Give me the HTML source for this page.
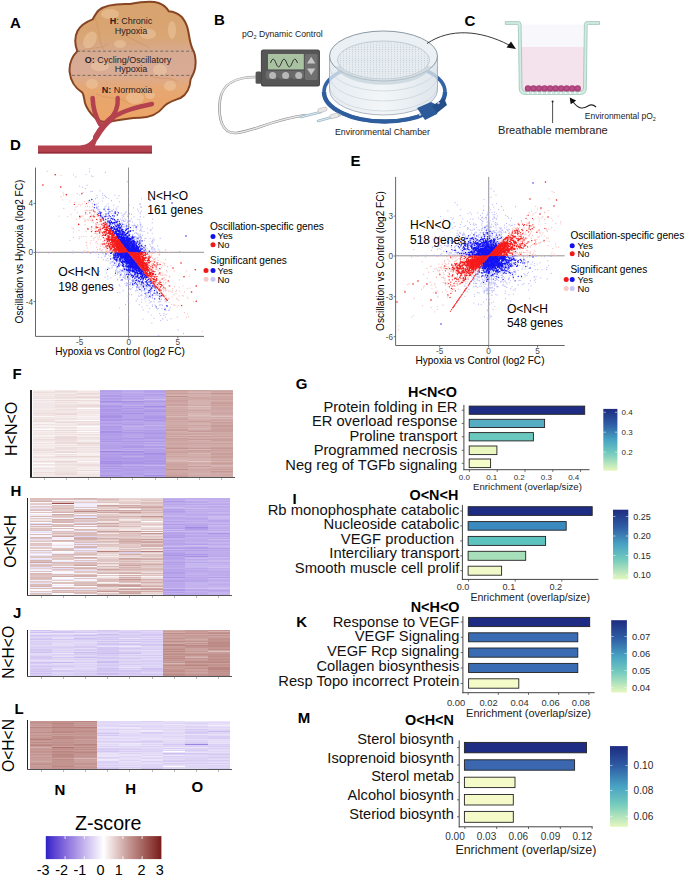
<!DOCTYPE html>
<html><head><meta charset="utf-8"><title>Figure</title>
<style>html,body{margin:0;padding:0;background:#fff;} svg{display:block;} text{font-family:"Liberation Sans",sans-serif;}</style>
</head><body>
<svg width="685" height="877" viewBox="0 0 685 877" font-family="Liberation Sans, sans-serif">
<rect width="685" height="877" fill="#fff"/>
<defs>
<linearGradient id="tum" gradientUnits="userSpaceOnUse" x1="0" y1="3" x2="0" y2="122">
<stop offset="0" stop-color="#d8a36d"/><stop offset="0.3" stop-color="#d9a677"/>
<stop offset="0.42" stop-color="#d7aa92"/><stop offset="0.58" stop-color="#d9ab96"/>
<stop offset="0.72" stop-color="#e6a874"/><stop offset="1" stop-color="#eda464"/>
</linearGradient>
<linearGradient id="cyl" x1="0" x2="1" y1="0" y2="0">
<stop offset="0" stop-color="#dfe7ee"/><stop offset="0.5" stop-color="#eef3f6"/><stop offset="1" stop-color="#d6e0e8"/>
</linearGradient>
</defs>
<!-- Panel A tumor -->
<clipPath id="tclip"><path id="tpath" d="M130,4 C141,2 151,0.5 158.6,3 C163,4.5 166.5,7.5 168.8,11.2 C178,12 185,18 187.8,29 C189.5,36 189.5,43 192.8,49.5 C196,55 196.5,66 194,72 C193,75 191.5,77 190.6,79.5 C190,88 186,95 180.5,98 C174,100.5 167,102 163,107.5 C158,114 150,117.5 140,117.8 C128,118 118,120 108,122 C103,122.5 99,121.5 95,117.8 C90,113 86.5,108 85,103 C84,99 84,95 82.4,92.7 C75,88 70.5,80 69.6,72 C69,64 71.5,57 77.3,51.1 C75,45 74.5,37 77.5,31 C80.5,25.5 87,21.5 92.6,19.4 C95,15 96.5,12.5 98.7,10.2 C104,5.5 116,3.5 130,4 Z"/></clipPath>
<path d="M130,4 C141,2 151,0.5 158.6,3 C163,4.5 166.5,7.5 168.8,11.2 C178,12 185,18 187.8,29 C189.5,36 189.5,43 192.8,49.5 C196,55 196.5,66 194,72 C193,75 191.5,77 190.6,79.5 C190,88 186,95 180.5,98 C174,100.5 167,102 163,107.5 C158,114 150,117.5 140,117.8 C128,118 118,120 108,122 C103,122.5 99,121.5 95,117.8 C90,113 86.5,108 85,103 C84,99 84,95 82.4,92.7 C75,88 70.5,80 69.6,72 C69,64 71.5,57 77.3,51.1 C75,45 74.5,37 77.5,31 C80.5,25.5 87,21.5 92.6,19.4 C95,15 96.5,12.5 98.7,10.2 C104,5.5 116,3.5 130,4 Z" fill="url(#tum)" stroke="#874522" stroke-width="2"/>
<g clip-path="url(#tclip)">
<g fill="#f2cfa6" opacity="0.45">
<ellipse cx="90" cy="40" rx="6" ry="9" transform="rotate(30 90 40)"/><ellipse cx="110" cy="14" rx="9" ry="5"/><ellipse cx="148" cy="34" rx="8" ry="5"/>
<ellipse cx="172" cy="30" rx="4" ry="9"/><ellipse cx="120" cy="44" rx="6" ry="4"/><ellipse cx="100" cy="66" rx="9" ry="5"/><ellipse cx="160" cy="70" rx="7" ry="6"/>
<ellipse cx="170" cy="86" rx="6" ry="5"/><ellipse cx="135" cy="98" rx="9" ry="6"/><ellipse cx="92" cy="84" rx="6" ry="5"/><ellipse cx="150" cy="95" rx="5" ry="4"/>
</g>
<g fill="none" stroke="#c8844e" stroke-width="0.8" opacity="0.5">
<path d="M78 52 C90 46 100 50 108 44"/><path d="M120 30 C130 40 140 42 150 48"/><path d="M95 18 C100 30 98 40 104 50"/>
<path d="M150 76 C160 80 170 76 178 82"/><path d="M96 94 C110 100 120 96 130 104"/>
</g>
</g>
<line x1="77" y1="51.2" x2="193" y2="51.2" stroke="#5d5a5e" stroke-width="0.8" stroke-dasharray="3,2.2"/>
<line x1="72" y1="75.4" x2="193" y2="75.4" stroke="#5d5a5e" stroke-width="0.8" stroke-dasharray="3,2.2"/>
<g font-size="9" fill="#2a2222" text-anchor="middle">
<text x="131" y="24.4"><tspan font-weight="bold">H</tspan>: Chronic</text>
<text x="131" y="34">Hypoxia</text>
<text x="128" y="63"><tspan font-weight="bold">O:</tspan> Cycling/Oscillatory</text>
<text x="131" y="71.5">Hypoxia</text>
<text x="127" y="92.7"><tspan font-weight="bold">N:</tspan> Normoxia</text>
</g>
<!-- vessel -->
<g fill="none" stroke="#b3414e" stroke-linecap="round">
<path d="M92.6 98 C93 108 95 116 100 124" stroke-width="4.6"/>
<path d="M117.7 98 C118.5 108 115 115 108 121" stroke-width="4.4"/>
<path d="M152 104 C138 107 124 110 112 118" stroke-width="4.4"/>
<path d="M112 118 C104 124 100 130 96 137" stroke-width="6"/>
</g>
<path d="M38 145.4 H80 C88 145 92 141 95 135 L104 129 C100 134 97 140 95 145.4 H152 V153.4 H38Z" fill="#b3414e"/>
<rect x="38" y="151.8" width="114" height="1.6" fill="#93303b"/>
<!-- Panel B -->
<text x="242" y="37.2" font-size="8.65" fill="#222">pO<tspan font-size="5.5" dy="1.5">2</tspan><tspan dy="-1.5"> Dynamic Control</tspan></text>
<path d="M256 77 C236 77 222 84 220 100 C218 118 222 134 236 133 C256 131 270 120 306 115" fill="none" stroke="#8e8e8e" stroke-width="2.6"/>
<path d="M256 77 C236 77 222 84 220 100 C218 118 222 134 236 133 C256 131 270 120 306 115" fill="none" stroke="#e6e6e6" stroke-width="1.4"/>
<rect x="255.6" y="71.5" width="6" height="12.3" rx="1.5" fill="#555"/>
<rect x="260.9" y="49.6" width="59.1" height="36.8" rx="2.5" fill="#4a4a4a"/>
<rect x="262" y="50.5" width="57" height="34.5" rx="2" fill="#565656"/>
<rect x="268" y="54" width="35.8" height="15.4" fill="#a9c3a2"/>
<path d="M270.5 63 q2.7 -8 5.4 0 t5.4 0 t5.4 0 t5.4 0 t5.4 0" fill="none" stroke="#2a2a2a" stroke-width="0.9"/>
<rect x="305" y="54" width="12.5" height="26" rx="1.5" fill="#707070"/>
<path d="M311.2 56.8 l4.2 6.6 h-8.4z M311.2 75 l4.2 -6.6 h-8.4z" fill="#c4c4c4"/>
<path d="M266 71 h38 v6 q-3 5 -6.5 0 q-3 5 -6.5 0 q-3 5 -6.5 0 q-3 5 -6.5 0 q-3 5 -6.5 0 q-3 5 -6 0z" fill="#6a6a6a"/>
<circle cx="272.6" cy="75.6" r="3.5" fill="#b8b8b8"/><circle cx="285.6" cy="75.6" r="3.5" fill="#b8b8b8"/><circle cx="298.7" cy="75.6" r="3.5" fill="#b8b8b8"/>
<!-- chamber -->
<ellipse cx="384.5" cy="92" rx="60.5" ry="29.5" fill="none" stroke="#3464a6" stroke-width="3.6"/>
<path d="M324 92 a60.5 29.5 0 0 0 121 0" fill="none" stroke="#2f5e9e" stroke-width="4.4"/>
<path d="M329.5 56 v34 a54 25 0 0 0 108 0 v-34z" fill="url(#cyl)" opacity="0.78"/>
<path d="M329.5 66 a54 25 0 0 0 108 0 M329.5 76 a54 25 0 0 0 108 0 M329.5 86 a54 25 0 0 0 108 0" fill="none" stroke="#c9d3da" stroke-width="0.7"/>
<path d="M329.5 56 v34 a54 25 0 0 0 108 0 v-34" fill="none" stroke="#98a6b0" stroke-width="0.8"/>
<ellipse cx="383.5" cy="56" rx="54" ry="25" fill="#eaf0f4" stroke="#7f8e98" stroke-width="0.9"/>
<defs><pattern id="mesh" width="3" height="2.2" patternUnits="userSpaceOnUse"><rect width="3" height="2.2" fill="#e6ecf0"/><circle cx="1.5" cy="1.1" r="0.55" fill="#c4ced6"/></pattern></defs>
<ellipse cx="383.5" cy="60" rx="46" ry="19" fill="url(#mesh)" stroke="#a9b6bf" stroke-width="0.6"/>
<path d="M338 66 a46 19 0 0 0 91 0" fill="none" stroke="#c3d0d9" stroke-width="5" opacity="0.7"/>
<path d="M417 108 l14 -6 l8 4 l-2 8 l-12 6z" fill="#2d5b99"/>
<path d="M432 106 l12 -8 l3 7 l-10 8z" fill="#244f8a"/>
<circle cx="420" cy="114.5" r="1.2" fill="#ccd"/><circle cx="438.5" cy="103" r="1.2" fill="#ccd"/>
<path d="M301 117 l20 -5 M318 121 l22 -6" stroke="#9fb8c8" stroke-width="2.6" stroke-linecap="round"/>
<path d="M301 117 l20 -5 M318 121 l22 -6" stroke="#dbe8ef" stroke-width="1.2" stroke-linecap="round"/>
<rect x="318" y="108" width="9" height="4" rx="1.5" fill="#e8e8e8" stroke="#aaa" stroke-width="0.5" transform="rotate(-15 322 110)"/>
<rect x="330" y="114" width="9" height="4" rx="1.5" fill="#e8e8e8" stroke="#aaa" stroke-width="0.5" transform="rotate(-15 334 116)"/>
<text x="335" y="135" font-size="8.8" fill="#222">Environmental Chamber</text>
<!-- arrow to C -->
<path d="M427 43.5 C450 28 480 30 509 45" fill="none" stroke="#222" stroke-width="0.9"/>
<path d="M516 49 l-9.5 -1.5 l4.5 -6z" fill="#111"/>
<!-- Panel C insert -->
<rect x="521" y="24.4" width="64" height="22.6" fill="#f8f8fc"/>
<rect x="521" y="47" width="64" height="45" fill="#f4e3ec"/>
<path d="M505.3,21.6 H518.5 Q521,21.6 521.1,24.5 L522,88 Q522.2,91.6 526,91.6 H579.5 Q583.3,91.6 583.5,88 L584.4,24.5 Q584.5,21.6 587,21.6 H599.5 V24.4 H588 Q587.2,24.4 587.2,25.5 L586.3,89 Q586,94.4 580.5,94.4 H525 Q519.5,94.4 519.3,89 L518.3,25.5 Q518.3,24.4 517.3,24.4 H505.3 Z" fill="#d3ebe2" stroke="#8fbfb0" stroke-width="0.7"/>
<path d="M528 91.8 v2.2 M532.7 91.8 v2.2 M537.4 91.8 v2.2 M542.1 91.8 v2.2 M546.8 91.8 v2.2 M551.5 91.8 v2.2 M556.2 91.8 v2.2 M560.9 91.8 v2.2 M565.6 91.8 v2.2 M570.3 91.8 v2.2 M575 91.8 v2.2 M579.7 91.8 v2.2" stroke="#ffffff" stroke-width="1.1"/>
<defs><radialGradient id="cell"><stop offset="0" stop-color="#bd5790"/><stop offset="1" stop-color="#a63a72"/></radialGradient></defs>
<g fill="url(#cell)">
<circle cx="528" cy="88.4" r="3.2"/><circle cx="533.5" cy="88.4" r="3.2"/><circle cx="539" cy="88.4" r="3.2"/><circle cx="544.6" cy="88.4" r="3.2"/><circle cx="550.1" cy="88.4" r="3.2"/>
<circle cx="555.6" cy="88.4" r="3.2"/><circle cx="561.1" cy="88.4" r="3.2"/><circle cx="566.7" cy="88.4" r="3.2"/><circle cx="572.2" cy="88.4" r="3.2"/><circle cx="577.7" cy="88.4" r="3.2"/>
</g>
<line x1="552.6" y1="102" x2="552.6" y2="123" stroke="#222" stroke-width="0.8"/>
<circle cx="552.6" cy="101.5" r="1" fill="#222"/>
<path d="M573 102 C578 108 582 110 588 106 C591 104 594 105 596 107" fill="none" stroke="#222" stroke-width="1.1"/>
<path d="M569.7 97.4 l1 6.8 l5.5 -3.8z" fill="#111"/>
<text x="498" y="134" font-size="11.1" fill="#222">Breathable membrane</text>
<text x="584.8" y="119" font-size="8.5" fill="#222">Environmental pO<tspan font-size="5.5" dy="1.5">2</tspan></text>

<line x1="35.5" y1="167.6" x2="35.5" y2="336.4" stroke="#555" stroke-width="0.9"/>
<line x1="35.5" y1="336.4" x2="204.0" y2="336.4" stroke="#555" stroke-width="0.9"/>
<line x1="128.5" y1="167.6" x2="128.5" y2="336.4" stroke="#888" stroke-width="0.9"/>
<line x1="35.5" y1="252.3" x2="204.0" y2="252.3" stroke="#888" stroke-width="0.9"/>
<path d="M131.8 250.9h0m12.9 35.2h0m-2.2-2.8h0m-17.6-45.6h0m1.4 6.1h0m9.2 1.2h0m-36 26.3h0m40.8 9h0m-7.1-36.2h0m4 26.7h0m.9 2.2h0m-16.6-20.5h0m-.6-17.2h0m-16.7-15.1h0m26.9 31.4h0m5.8 24.8h0m-18.8-24h0m1.8 19.7h0m-3.4-38.3h0m28.1 14.6h0m-35.4-25h0m15.9-4.5h0m-9.5 14.8h0m18.6 32.2h0m-17.3-29.8h0m20.6 30.7h0m-11.6 1.2h0m16.8 5.9h0m-44.6-70.8h0m38.9 63.6h0m18.5-14.6h0m-46.7-44.8h0m16.1 39.2h0m-1.1-5.5h0m15.6 2.3h0m16.4 8.4h0m-17.6-10.4h0m12.5 53.1h0m-21.1-10h0m-16.8-26.1h0m32 29.6h0m-14.3-21.3h0m-10.8-12.7h0m27.5 26.8h0m-15.3-.1h0m-19.8-70.2h0m20.5 52h0m21.3 39.3h0m-22.6-82.9h0m-10.9 14.3h0m8.8 28.8h0m-21 5.5h0m22.6-23.8h0m29.4-5.2h0m-27 5.2h0m-3.8-4.1h0m-5.8-9.9h0m-3.9 23h0m-14.3-31.5h0m16.3 38.5h0m-14.3-6.8h0m-4.7-59.5h0m36.5 95.9h0m31 18.5h0m-33.9-70.7h0m-9.2 4.5h0m14.2 60.6h0m-28-37.3h0m23.1 12.8h0m-3.4-1.6h0m-19.1-44.6h0m23.7 59h0m6.4-15.4h0m-33-13.1h0m9.6-6.6h0m8.5 5.1h0m-5-23.2h0m-32.6-61.3h0m21.4 85.9h0m16.6 9.4h0m-3.6-38.8h0m3.1-5.1h0m26.7 66.5h0m2.6 8.1h0m-26.1-36.8h0m-2.6-2.6h0m-2-3.6h0m-7.9-5.4h0m-4.8-31.5h0m9.6 37.7h0m-1.8-18.9h0m.7 36.5h0m5-21.8h0m-10.9-19.1h0m22.8 1.2h0m-7.8-15.4h0m.2 40.1h0m-18.2 1.3h0m9.4 12h0m-27.1-71.3h0m50.3 82.1h0m-31-66.1h0m13.4 6.2h0m-16.3 30.8h0m8.9-19.6h0m4.4 18.5h0m5.4-6.3h0m-22.8-35.7h0m39.7 83.5h0m-41.5-81h0m12.7 60.7h0m8-14.5h0m10.4 7.2h0m7.5-22.3h0m-2.1 25.1h0m-15.7-14.8h0m-6.3-5h0m-16.7-42.2h0m41.4 40h0m6.7 34.8h0m-28-48.4h0m5.7 36.9h0m-3.8-36.3h0m-9.8 18.8h0m6.4 4.2h0m-28.1-62.2h0m22.3 68.3h0m6-46.2h0m3.4 .3h0m28.9 69.4h0m-57-80.8h0m38.1 40.9h0m11.1 1.6h0m-23.1-12h0m3.1 22.5h0m-.1 9.3h0m-9.5-41.7h0m18.5 7.7h0m-4.6-.9h0m9.7 38.2h0m-11.8-38.8h0m0 46.2h0m19.6 10h0m-12.4-22.3h0m21 27.6h0m-15.1-13.6h0m-14.3-53.9h0m8.6 35.2h0m7.9 16.2h0m-15.2-31.9h0m19.8 51.9h0m-35.4-79h0m14 49.4h0m14.7-55.3h0m-16 57.5h0m1.6-13.8h0m-4.5-4.1h0m32.8-10.7h0m-28.2-1.5h0m8.2-35.2h0m-19.1 26.6h0m9.8 7h0m5.7 16.8h0m-17.6 11.4h0m8.6-38.8h0m-5.1 41.7h0m-15.3-57h0m28.8 14.1h0m5.4 5.7h0m-11.2 21.4h0m-24.1-49.1h0m80 124.4h0m-56.5-68.5h0m-6.4-45.8h0m7.5 49.1h0m-1.8-38.3h0m11.7 13.8h0m-9.3 6.8h0m-2.2 32h0m.3-24.5h0m-1.4-29.2h0m26.6 12.5h0m-13.8 46.8h0m.1-48.3h0m-8.2 1.8h0m-2.7 41.8h0m12.9-33.9h0m-9.2-1.5h0m-6.3 25.6h0m10.8 17.3h0m-32.4-31.2h0m35.8 27.9h0m6.5-41.9h0m-35.4 18h0m19.2-39h0m-.5 5.7h0m8.3 49.8h0m-3.4-12.7h0m-10.2-23.1h0m20.3 31.7h0m-1.6-5.4h0m-18.6-54.3h0m-50.2-41.6h0m43.3 87.4h0m13.9-15.9h0m1.3 10.8h0m-.5 8.1h0m-14.2 14.8h0m-9.4-1.1h0m28.8-33.3h0m-4.8 29.9h0m5.6-2.8h0m-11-48.7h0m-1.8 11.2h0m24.6 60.5h0m-8.8-56.1h0m-14.3 27.9h0m-4.8-29h0m15.4 11.5h0m-38.4-43.6h0m37.8 94.5h0m-3.1-37.2h0m-34.7-6.6h0m29.6-21.2h0m5.1 25.3h0m-.1 7h0m-10.2 3.3h0m5.8-6.6h0m-8.6-31.6h0m11.6 15.3h0m-5.2-7.1h0m4.2 34.8h0m-4.9-23.3h0m36.6 52.7h0m-27.8-24.9h0m-7.4-33.4h0m-7.8-10.9h0m21.1 38.9h0m-34.1-2.2h0m-9.3-77.5h0m29.5 56.8h0m4.4 3.6h0m-22-57.6h0m13.5 65h0m-4.2-7.5h0m42.4 45.3h0m-70.5-100.2h0m60.3 96.4h0m-33.2-60h0m20.9 1.3h0m-30.4-19.8h0m15.9 22h0m8.5-3.3h0m-23.2-28.8h0m12.8 24.9h0m13.6 18.3h0m-33.6 5.2h0m17-22.7h0m8.5 34h0m3.7-37.9h0m-6.5 14.2h0m16.8 34.5h0m-14.1-32.5h0m10.5 17.9h0m-20.8-4.1h0m6.7-40.7h0m7.3 35.4h0m21.1 67.7h0m-20.6-48.3h0m9.9-.4h0m-22.2-9.7h0m22.8 34.8h0m-24.2-44.6h0m-2.8-25.1h0m4.2-34.1h0m25 80.5h0m-21.3-44.6h0m14.9 2.7h0m-8 24.5h0m-19.2-35.2h0m13.5 21.1h0m15.6 7.4h0m-19.4-21.5h0m10.3 32.3h0m1.2-2.9h0m-5.5 19.3h0m9-5.4h0m-10.5-12.7h0m23.7 32.5h0m-20.5-50.6h0m-1.1 6.8h0m6.3 15.1h0m-17.1-4.8h0m13.4 18.5h0m-21-53.4h0m32.2 8.8h0m-29.6-15.2h0m27.5 69.2h0m.6-7.4h0m6.8-3.4h0m-23.7-20.9h0m11.5 8.6h0m-16.3-36.5h0m7.8-4.5h0m5.3 46.5h0m-6.1-45.5h0m-.6 36h0m-18.2-64.5h0m23.2 26.7h0m16.8 53.6h0m-2.8-33h0m-29.1 12.7h0m9.8-13h0m11.6 22.3h0m-5.8-14.5h0m-.7 21.4h0m12.6-24.8h0m-5.4 17.8h0m-24.4-54.7h0m6.3 18h0m23.8-17.9h0m-12.8 35.1h0m1.4 17.7h0m6.9-23.1h0m24 56.1h0m-31.3-29.8h0m-.1-53.7h0m6.5 19.2h0m-27.8-18.2h0m57.4 35.5h0m-50.4-26.6h0m27.3 63.3h0m22.9 22h0m-33-25.7h0m-9.7-17.5h0m-31.9-73.8h0m46.5 75.5h0m5.7 52h0m-14.4-60.9h0m-3.4-21h0m8.9 29.6h0m13 26.2h0m11.6 42.3h0m-30.2-115.5h0m11 27.1h0m-9.9-4.3h0m15.3 48.3h0m-52.3-87.3h0m23.6 4.6h0m11.5 49.8h0m-5-37.8h0m-5 34.1h0m50.9 56h0m-45.2-88.8h0m15.9 15.9h0m-21.5-25.3h0m1.7 46h0m-3.1-3.6h0m20 20.6h0m-12.5-3.1h0m19.6-23h0m-32 3.6h0m28.2 16.6h0m-17.1-15.9h0m1.3 1.6h0m-4.3 16.7h0m45.7 29.6h0m-41.2-62.2h0m-34.3-70.2h0m10.6 45.7h0m9.7 11.5h0m20.5 18.5h0m28.6 5.5h0m-17.5 33.3h0m-7.7-42.8h0m-36.8-42.9h0m54.7 92.2h0m-6.6-44.1h0m-32.1-25.9h0m18 69.1h0m26.4 20.1h0m-35.4-93.5h0m-5.7 8.7h0m20.6 50.8h0m-17.7-12.5h0m-4.4-48.6h0m.5 56.5h0m28.5 7h0m6.5 16.3h0m-18.9-54.4h0m4.8 .5h0m-15.1-12.3h0m19.2 16.1h0m1.5-12.3h0m11.4 54.9h0m-10.6-39.9h0m-12.1 23.2h0m3.9-25h0m-3.7 34.7h0m31.1 29.5h0m-35.5-40.5h0m1.4-25.6h0m-16 22.8h0m-6.8-54.9h0m17.3 69.5h0m-13.9-61.4h0m17.1 19h0m27.5 13.5h0m-18.6-7.7h0m-9.5-30h0m-.1 22.9h0m-2.5-3.8h0m6.5 0h0m-1.1-9.8h0m3.8 72h0m-17.7-79.5h0m15.7 51.7h0m-4.3 10.8h0m-5.9 30.3h0m19-57.4h0m-9.3-29.6h0m20.2 79.2h0m-9.1-23.4h0m-7.1-25.2h0m-15 2.7h0m4.9-15.3h0m14.4-14.1h0m-4.1 .8h0m-9.4 14.1h0m-3.9 25.9h0m5.6-3.2h0m-.4-18.8h0m18.9-12.2h0m-18.3 30.2h0m-43.3-74.5h0m42.7 48.3h0m.7 30.9h0m-1.7-8.5h0m.6-22.6h0m-4.2 29.3h0m21.4 42.4h0m-27.8-74.4h0m34.7 50.4h0m-13.4-18.9h0m-6-12.5h0m-7-19.9h0m-4.9-6.2h0m-6-1.2h0m2-19.2h0m4.2 65.9h0m-2.9-75.9h0m45.6 100.2h0m-46.6-82h0m7.7 27.3h0m-3.9 19.1h0m-12.1-37.2h0m22.2 17.3h0m-17.4-20.7h0m35.3 81.9h0m-24.8-47.4h0m14.3 16h0m-8.1-28.1h0m31.1 7.5h0m-25.2 23.7h0m-7.5-9.1h0m-17.3-47.2h0m46.8 88.8h0m-1-56.5h0m-28 22.6h0m4.4 4.7h0m-25.3 1.2h0m6.7-47.1h0m-3.2-23.5h0m12.7 55.9h0m-.6 17.9h0m6-9.9h0m2.2 9h0m31.9 36h0m-29.6-51.1h0m-7-5.9h0m17.6 19.1h0m-10.5-15.1h0m-8.7-2.6h0m17-24.8h0m-3.1 6.1h0m-28.6-31.9h0m10.6 16.5h0m1.6 33.7h0m.1-32.1h0m20.5 52.1h0m2.7-29.5h0m-1.8 23h0m-16.4-10h0m10.3-18.8h0m-16.1-7h0m14.5 29h0m13.8-33.3h0m2.2 11.5h0m-19.1 15.1h0m4.3 3.5h0m-5.7 3.5h0m12.3 9.5h0m-3-30.8h0m4.8 3.9h0m-27.9-26.8h0m25.9 68h0m-11.5-19h0m-.9-8.9h0m-25-42.2h0m-7.5-14.2h0m8.9 50h0m45.6 32.7h0m-10.2-16.9h0m-16.1-3.6h0m.9-10.5h0m-2.2 3.6h0m12 2.1h0m-7.4-16h0m1.2 23.1h0m-15.8-61.2h0m4.5-2.7h0m9 60h0m2-11.6h0m-14-29.8h0m25 21.1h0m-8.3 25.3h0m-18.4-54.3h0m12.6 26.3h0m-1.1-22.1h0m11.2 54.5h0m3.7 1.1h0m-25.1-45.5h0m18.7 20.1h0m-19.9 2.5h0m-2.4-36.6h0m23.8 60.5h0m-6.4-20.1h0m-3-28.9h0m9.1 43.6h0m3.5-53.4h0m-17 40.5h0m.1 12.2h0m23.9 12.3h0m-13.5-40.2h0m2.8 35.4h0m-16.4-24.1h0m30.3 56.5h0m-32.5-58h0m22.5 11.6h0m-10.4-12.9h0m-7.4-25.9h0m-8.9-26h0m48.1 101.1h0m-26.4-57.9h0m-11.4 27.1h0m-3.4-14.7h0m-15.2-58.1h0m48.9 43h0m-47.3 15.6h0m29.7 8.2h0m7.9-16.9h0m-33.8-27.4h0m17.3-.6h0m-6.7 64.8h0m8.5-53h0m-.5 41.1h0m7.2-30.9h0m-26.4-38.3h0m42.1 34.5h0m-18 7.4h0m27.8 59.9h0m-28.9-64.1h0m-11.4 24.4h0m-2.7-38.5h0m6.6 16.6h0m29 7.8h0m-26.3-6.2h0m3.3 19.4h0m-1.9-10.1h0m38.7 47h0m-28.8-58.4h0m-54.4-51h0m31.5 27.1h0m32.2 64.8h0m-28-19.8h0m18.3 6.8h0m-29-10.6h0m8.2-34.2h0m9.6 9.6h0m-13.3-12.1h0m40.4 62.8h0m-47.9-31.6h0m31.1-16.6h0m4.4 36.1h0m-17.2-11.9h0m21-22.2h0m-24.5 23.1h0m22.4-22.9h0m-29.9 16.9h0m29.6-11.6h0m-14.3 19h0m4.7-22.5h0m0-2.4h0m-6.3 45.4h0m7.1-42.5h0m-9.8 9.8h0m6.4 9.8h0m-10.7-3.7h0m-13.7-86.7h0m25 66.8h0m-8.6 40.5h0m14.3-12.6h0m-.4 5.8h0m7.5 37h0m27.8 8.7h0m-50.8-94.5h0m9.6 37h0m20.7 24h0m-23.4-56h0m5 39h0m26.8 27.5h0m-40.9-22.7h0m8.5-37h0m19 10.7h0m-39.5 23.3h0m32.5-34.9h0m-1.7 3h0m-12.8 3.1h0m9.4-13.3h0m-17.5-.6h0m11.4 39.3h0m1.8-26.4h0m11.2 35.9h0m-24.7-47.3h0m14.2 28.7h0m-23.6-51.6h0m20.8 41.5h0m-9 14.1h0m16.1-44.6h0m-11.4 6.4h0m1 39.5h0m8.7 3.1h0m9.5 4.7h0m-22.8-15.9h0m-12.6-57.2h0m41.9 88.2h0m-4.1-35.3h0m-12.6 16.2h0m-23-55.6h0m17.9 32h0m2.6 22.9h0m-5.7-7.6h0m2.8-12.5h0m-1.3 21.3h0m17.3 18.8h0m9.5-2.9h0m-8.3-10h0m2.7 12h0m-12.3-16.3h0m-11.7 2.8h0m-1-17.7h0m1.7-11.4h0m0 22.2h0m5.7-26.7h0m1.7 31.7h0m-.2-28h0m-20.4-32.1h0m17.9 27.1h0m-2.5 19.1h0m-7.1 1h0m-6.8 11.4h0m42.8 50.2h0m-39-107h0m11 48.6h0m-9.1-27.6h0m16.5-24.4h0m-6.6 41.6h0m-29.3-39.4h0m36.1 28.2h0m12.1 46.5h0m17.1 33.8h0m-21.7-28.1h0m5.6 6.9h0m-26-60.1h0m12.5 24.4h0m-3.4-6.4h0m6-27.6h0m-19.3-1h0m30.7 1.7h0m-22.2 5.1h0m10.7-6.7h0m.8 6.8h0m-22.1-7.4h0m14.1 11.8h0m9.4-11.8h0m-29.1-17.4h0m24 26h0m14.4 13.6h0m-30.4-38.5h0m15.1 39.8h0m-8.5-34.9h0m5.3 36h0m0 13.4h0m-7.3 9.9h0m24.5 12.5h0m-27.5-51.3h0m10.5 28.4h0m-3.8 15h0m-19.4-25.7h0m42 30h0m-41.4-22.9h0m-3.6-64.7h0m64.4 124.9h0m-50.7-56.2h0m25.9 7.8h0m-20.8-12.8h0m16.2 11.6h0m4.6 4.1h0m-19.2-31.1h0m5.1 17.7h0m13.8-20.1h0m-8.8 3.2h0m-1.2 38.1h0m-8.1-29.1h0m-10.3 8.8h0m30.8 26.7h0m3-2.6h0m-14.6-17.9h0m-1.6-23.6h0m8.9-8.8h0m-16.4-6.3h0m-47.9-52.8h0m41.5 38.2h0m13.1 46.6h0m10.3-21.3h0m-20.3-4.1h0m11.3 27.7h0m6.5 17.6h0m9.7 1.2h0m-13.9-34.6h0m-4.1-8.9h0m-18.1-25.7h0m16.1 35.3h0m2.4-28.2h0m22.3 85.8h0m-33.1-51.2h0m12-13.5h0m2.6-16.4h0m22.3 68.7h0m-42.3-36.8h0m15.4-7.6h0m-36.1-48.5h0m47.4 40.4h0m-20.3-1h0m20.4-4.4h0m-23.8-24.4h0m15.6 33.1h0m7 38.3h0m-12.8-16.1h0m10.3-.6h0m-14.7-.4h0m12.6-24.5h0m-18.2 24.3h0m-15.3-53h0m9.3 10.1h0m-25.5-34.7h0m55.1 96.2h0m-6.4-16.3h0m-6-19.9h0m0-10.6h0m-35.5 32.2h0m33.4-24.1h0m-40-71.3h0m46.9 62.5h0m.1 .8h0m-40.8-46.4h0m45 76h0m-5 7.7h0m14.8 5.6h0m-27.1-10.9h0m8.9-36.3h0m-13.6 23.5h0m-28.2-71.8h0m27.6 41h0m38.9 60.6h0m-32.6-51h0m17.8 9h0m26.2 54.9h0m-2.1 19.2h0m-39.2-92h0m2.6-14.7h0m-.3 44.3h0m-14.9-27.6h0m15 4.1h0m4.8 7.7h0m23.6 48h0m4.3 9.6h0m-20.9-11.2h0m-35.5-69.4h0m56.9 77.7h0m-36.7-42.7h0m-4.9-29.8h0m4 34h0m-7.5-33.6h0m10.4 54.8h0m0-38.8h0m10.3 .2h0m26.8 59.6h0m-6.9-49h0m-38 17.8h0m3-2.9h0m-10.9-53.7h0m1.2 45h0m23 27.7h0m-22.5-58.8h0m15.4 50.5h0m2.1-39.4h0m1.9 30.4h0m-36.9-90.2h0m10.3 38.4h0m27 56.8h0m21 43.3h0m10.6-10.4h0m-48.7-76.1h0m37.3 17.6h0m-26.1 .2h0m23.7 50.5h0m-68.7-110.8h0m68.2 98.5h0m-29.2-55.1h0m18.8 43h0m-15.1-6.5h0m-9.4 20.5h0m15.6-27h0m-7.2-33.5h0m.1 31.9h0m15.4 12.8h0m20.8 24.2h0m-40.7-25.2h0m10.9 4.2h0m-3.3-5.9h0m-13.3-50.9h0m1.1 8.5h0m32.3 22.6h0m5.3 34.4h0m-43.7-71.2h0m11.7 67.9h0m28.1-28.2h0m-36.7-24.7h0m30.3 57.8h0m-22.2-47.3h0m12.3 34.9h0m9.8 33h0m-28.8-77.7h0m-1.6-10.1h0m7.7 15.5h0m18.2 38.2h0m-15.3-5.4h0m13 1.8h0m-4 17.8h0m9.8-17.3h0m22.2 53.1h0m-45.1-60.4h0m-16.5-49.1h0m27.3 17h0m9.8 23.2h0m-32.9 2.3h0m24.6 14.1h0m-7.7 7.9h0m-9.2 2.3h0m32.7 4.8h0m-34.4-14.2h0m17.5-9.7h0m24.2 36.4h0m-14.6-50.2h0m4 25.6h0m-24.7-5.3h0m8.3-25h0m11.2 7.4h0m-16.7-20.5h0m16.2 6h0m14.7 69.6h0m-35.5-46.5h0m31.3-7.7h0m-46.6 6h0m45.9-6.5h0m2.2 44.9h0m-.5-41.6h0m1.7 32.7h0m-42.8-77.2h0m12.2 25h0m19 42.3h0m-10.5-33.8h0m4.6 4h0m-17.3-16.4h0m15.4 32.1h0m-7.8-26.8h0m-.8 22.4h0m-4.1-28.5h0m-2.6-4.4h0m18.6 43.9h0m-11.2 3.5h0m5.7-4.5h0m3.9-9h0m24.4-16.9h0m-31.7 2.4h0m6.4 23h0m-11.7 9h0m-1.3-21.3h0m8.7-38.4h0m13.6 52.7h0m-17.1-8.4h0m24.6-20.3h0m-24.7-12.2h0m-4.1-28h0m10.8 52.2h0m-22.6-32.7h0m20.6 20h0m-5.4 2.8h0m14.9 22.3h0m-10.3-32.9h0m17.2-3.4h0m-16.8 77.8h0m5.3-33h0m8.1-3.7h0m-25.5-49.7h0m14.3 60.2h0m8.4-48.1h0m15 51.9h0m-50-67.2h0m11.4 12.8h0m19.5-2h0m24.4 65.9h0m-15.9-46h0m-34.8 14.5h0m17.2 17.1h0m-.8-53.3h0m26.3 61h0m-25.8-67h0m9.3 20.3h0m4.2-5.7h0m15.7 9.5h0m-4.8 63.6h0m-8.5-27.7h0m-11.3-17.8h0m-16.2 2.6h0m30.2 32.1h0m-8.4-33.4h0m-13.7-25.9h0m35.8 13.6h0m-3.2 41.2h0m-14.6-20.6h0m5.4-34.4h0m-15.3 12h0m-3.1 28.9h0m15-4.4h0m-15-18.2h0m-7.2 .6h0m-2.9-25.9h0m17.4-13.8h0m5.4 14.5h0m9.9 59.2h0m-22.5-34h0m9.6 12.2h0m-11.2-39.3h0m16.8 20.3h0m.8 34.5h0m-1.9-7.4h0m4-25.9h0m-29.9 18.6h0m-8.7-49h0m42.3 70.4h0m-33.9-30.4h0m10.1 11.2h0m-27.6-64h0m55.1 103.3h0m-49.7-117.8h0m15.2 61.9h0m35.5-22.2h0m-16.3-6.5h0m1.3 20h0m-4.9 20.5h0m-5.5-16.8h0m21.8 47.4h0m-7.3-48.3h0m-18.4-26.2h0m-1.9-18.8h0m-21.1 7.5h0m38 33.7h0m-32.9-25.5h0m62.1 99.6h0m-45.6-90h0m4.1 43.6h0m11.1-45.3h0m2.8 23.6h0m10.3 1.9h0m-8.6 30.3h0m-31.9-22.8h0m38.7 21.9h0m-14.9-12.7h0m-6.8-40.9h0m-7.2 45.7h0m-4.6-41.2h0m10.5 3.8h0m15.5 9.5h0m-25 13.7h0m.1 7.2h0m9.1 25.3h0m2.7-79.2h0m15.2 38.9h0m-2.7-39.3h0m-4.4 31.9h0m-31.4-42h0m12.9 70.9h0m-.4 3.5h0m6-52.5h0m13 40.3h0m8.4 17.2h0m-15.1-7.8h0m-16.7-17h0m10.1-20.3h0m19.4 33.4h0m-1.8 27.1h0m-18.5-3.3h0m-15.1-84.2h0m24.6 52.6h0m-5.6 5.3h0m-13.6-42.3h0m-20.6-52.2h0m13.4 45h0m28.6 40.5h0m2 19.1h0m-8.8-49.3h0m-3.8 3.1h0m12.9 55.3h0m43.4 31.7h0m-31.7-71h0m-33.2-34.9h0m21.5 54.2h0m1.9-15.1h0m-2.7 32.9h0m-13.3-22.1h0m2.7-29.9h0m-1.3 48.8h0m17.2-37h0m-28.9 25.5h0m17.8-25.2h0m-7.4 42.7h0m17.2-45.4h0m-5.3 35.7h0m10 .6h0m-7.1-27.5h0m-8.7-23.4h0m-2 17h0m18.7 43h0m-30.3-24.5h0m-3-36.6h0m-1.6 51.3h0m30.1-42.7h0m-32.2-12.3h0m18.9 53.2h0m15.7-4h0m7.7 7.3h0m-19.1-37.8h0m-8.6-9.2h0m21.3 7.5h0m-20.4-25h0m9.8 30.1h0m-6.4-9.5h0m13.9 8.2h0m6.4-3.4h0m10.5 66.9h0m-41.5-43.3h0m-9.3-66.9h0m16 63.1h0m6.3 3.3h0m1.8-10.4h0m-11.1 41.3h0m12.7-30.1h0m7.7 10.6h0m-5.9-9.2h0m16.9 18.2h0m-22.6-21.5h0m15.8 24.3h0m-21.4-30.4h0m18.1 24.1h0m7.7 16.4h0m-19-46.1h0m.4 1.9h0m-14.3 9.5h0m17.5 2.1h0m8.5 5.3h0m-21.7-47.9h0m11.8 42.9h0m5.1 .3h0m-10-5.7h0m44.6 52.5h0m-31.8-67.8h0m-4.4 30.8h0m27.6 26.7h0m-42.2-27.7h0m2.4-10.9h0m1.1-2.4h0m56 71.4h0m-27.4-100.2h0m-6 60.7h0m-14.5-33.5h0m.3 27.3h0m15 10.2h0m.6-1.8h0m-8.7-23.5h0m4.3 18.7h0m8.2-1.2h0m-21-28.1h0m7.6 30.6h0m-13.2-25.5h0m4.4 7.6h0m38.3 43.1h0m-41.4-39.7h0m14.5 21.9h0m-11.9-24.1h0m13.7 4h0m-1.7-3h0m.9 4h0m-7-16.8h0m-14 4.5h0m13.4 14.1h0m-8-23.4h0m3 15.6h0m-2.4-12.4h0m8 13.4h0m16.5 14h0m-24.6-2.7h0m17.5-3.1h0m-11.8-3.8h0m-9.7-12.7h0m6.1-11.4h0m20 34.3h0m-19.5-26.9h0m5.6 20.6h0m-7-9.4h0m19.7 12.9h0m-10.3-14.6h0m-5.3 19.7h0m2.7-7.9h0m-2.2-19.1h0m19 27h0m-8 5.9h0m23.9 15h0m-6.1 3.1h0m-32.1-36.4h0m29.5 18.2h0m-27-9.3h0m-11.8-22.8h0m28.7 22.6h0m5.4 11.5h0m0 .6h0m-29.9-33h0m29.9 40.2h0m-13.4-25.2h0m2.4-4.2h0m16.3 19.9h0m-20.2-29.4h0m27.1 42h0m-42.4-46.5h0m10.1 1.5h0m-5.6-8.3h0m22.1 25.1h0m-15.4-4h0m14.9 11.1h0m-6.6 5h0m3.7 4.4h0m5.1-3.7h0m-13-20.5h0m-9.7-9.5h0m1.2-7.3h0m12.4 35.2h0m-17.8-19.4h0m-3.9-8.5h0m5.4-.8h0m7.8 10h0m4.2 8.4h0m-11.7-3.6h0m2.2-21.8h0m15.9 28.3h0m4.4 9.2h0m-13.5-9.7h0m21.9 7h0m-23.3-10.2h0m7.4 6.5h0m-5.7-9.5h0m-10.2-4.4h0m19.7 5.7h0m-3.5 17.9h0m-17.3-33h0m-6.1-28.6h0m2.5 28h0m0-9.2h0m12.9 10.8h0m4.4 1.2h0m9.8 24.9h0m-2 8.5h0m-21.6-36h0m8 1.8h0m15.9 16.6h0m-14.5-21.7h0m-.4 6.5h0m-12-28.2h0m26.3 46.4h0m-12.8-2.2h0m-9.8-24.1h0m1.3-3.6h0m12.5 29.1h0m-11.1-15.2h0m-12.9-9.1h0m21.2 6.8h0m16.8 17.7h0m2.5 8.2h0m-16.5-16h0m3.5 .8h0m2.6-.9h0m.8 9.1h0m-5.9 2.6h0m-18-26.2h0m9.2-1.2h0m1.3 8.1h0m12.2 18.7h0m-16.8-18.4h0m1.6-7.9h0m24.5 38.6h0m-23.2-43.1h0m6.7 14.7h0m15.6 21.2h0m-25-20.7h0m23.1 16.2h0m-15.4-17.5h0m12.5 13h0m4.1 19.3h0m-.9-14.3h0m-1.9 4.9h0m-4.8-6.5h0m-12-23.3h0m2.4 3.2h0m-7.3-7.6h0m22.9 26.7h0m-28.9-31.7h0m16.5 21.4h0m6.3-.1h0m1.3 24.4h0m-22.9-33.8h0m21.2 13.6h0m-29.6-13.2h0m23.8 33.8h0m-11.5-26.9h0m.9 .8h0m.4-16.9h0m3 6.5h0m.5-.4h0m15.3 33.7h0m-20.1-39.8h0m13.2 36.9h0m-26.3-30.5h0m17.8-4.5h0m5.1 13.5h0m.6 9.1h0m-10.6-5.7h0m4.8-14.9h0m19.7 28.4h0m9.9 16.3h0m-30.4-49.2h0m7.8 14.9h0m-5.4 5.3h0m10.9 6.6h0m-4.4-4.5h0m-3.3-2.7h0m21.5 33.1h0m-29.1-32h0m-1.4-10.4h0m15.9 22.4h0m4.5 6.8h0m-37.9-39.9h0m21.2 15.4h0m10.6 2.5h0m-15.2-3.5h0m8.7-7.4h0m20.3 28.4h0m9.6 23.2h0m-13.5-24.1h0m-16.6-9.8h0m-3.5-17.5h0m-12.3 5.8h0m38.1 21.4h0m-12.2 1.2h0m10.9 2.6h0m-12.9 1.8h0m13.5-2.1h0m-30.3-26.1h0m16.5-17.4h0m-14.4 5.2h0m.8 24.7h0m4.9-8h0m4.2 4.4h0m-20.1-18.1h0m9.8 27.7h0m24.6-2.8h0m-13.9-7.9h0m-5 1.2h0m2.6-10.5h0m5.7 20.9h0m-10.5-18h0m5.7 13.8h0m1.1-16h0m5.4 10.6h0m-8.5 2.8h0m7.5 5.7h0m-6.1-14h0m11.4 6.5h0m-11.3-9.4h0m6.5 21.9h0m-6 .7h0m-12.4-32.1h0m8-2h0m-2 32h0m7.8-7h0m1.8 1.3h0m-2.9-7.9h0m.2 .9h0m11.8 14.5h0m-25-30.8h0m2.9-13.7h0m25.6 41.1h0m-24.7-26h0m16.6 24h0m-16.9-21.6h0m-6.4-5.9h0m19.4 11.3h0m-7.2 1.7h0m2.2-.5h0m-10.9 7.4h0m15.9-2.7h0m-16.8-20.6h0m9.7 33.1h0m10.4-3.7h0m-5.6-9.2h0m-8.4-16.1h0m26.3 37.1h0m-39.1-35.3h0m17.9 3.2h0m3.9 8.8h0m5.8 6.5h0m-11.2-3.4h0m-8.4-13.5h0m6.4 14.8h0m27.9 31.9h0m5.2 7h0m-30.9-45.2h0m6.5 16.9h0m-2.5-9h0m-2.4-11.1h0m-6.4 16.3h0m-.7-27.7h0m1.9 18.5h0m.1-29.7h0m-.2 49.8h0m-.3-11.7h0m.5-13.6h0m-1.9-40.4h0m1.8 28.4h0m-2-75.3h0m1.3 62h0m0 12.7h0m.2-24.8h0m.1 24.7h0m0 12.2h0m-.8 27.6h0m0-43.2h0m-.1-38.1h0m.6-18.8h0m-.3 52.6h0m-.8 25.6h0m1.6 5.4h0m-1.3-24.6h0m.4-18.3h0m-.1-1h0m-.1 13.6h0m.8 5.5h0m-.7 12.2h0m-.5-11.4h0m.5 45.4h0m-.2-44.5h0m-.3 8.1h0m1.4 13.3h0m.2-2.4h0m-1.6-38.3h0m1.8-23.4h0m.2 7.6h0m-1.9 40.3h0m1 5.4h0m-.4-6h0m.7 10.8h0m-2.3 12.2h0m2.2-49.7h0m-.6 80h0m.5 2.6h0m.2-45.7h0m-1.9-22.5h0m1.4 10.3h0m0-39.9h0m.4 34.4h0m.3-20.2h0m-.2 17.3h0m-1-5.4h0m.9 57.4h0m-.9-70.4h0m1 28.2h0m-.6-17.2h0m0 47.9h0m.2-12.6h0m-1.1-62.3h0m.8 13.1h0m-.5 30.4h0m1.3-21.6h0m.2 25.7h0m-1.7-8.9h0m-.5-27.9h0m1.5 18.8h0m-.4 18.7h0m-.3-13.3h0m2 5.1h0m-1.7 5.7h0m-.3-11.9h0m.4 35.4h0m.4-62.9h0m.7 41.7h0m-.7-23.8h0m-1 22.2h0m.5 10.6h0m1.4-4.9h0m-2.1 .9h0m1 2.1h0m.7-5.5h0m-.5-18.4h0m-.3 23.2h0m-.4 5.8h0m.6-2.6h0m.2-14.1h0m-.2 0h0m.5-54.6h0m-.5 28.1h0m11.8 .8h0m.6 4.2h0m.1-1.5h0m-.5-.4h0m-.6-33.1h0m.8 33.8h0m.2 3h0m-.1 5h0m-.7-31.4h0m-.2 31.4h0m.1-2.5h0m-.1-17.9h0m1 .2h0m-.3-18.1h0m.9-8.1h0m-.3 8.6h0m-.3 21.8h0m-.8-24.8h0m.6 38.4h0m-.1-18.4h0m-.9 6.6h0m.1-11.2h0m.2 28.7h0m1-20.8h0m-.8 21.7h0m-.5-9.2h0m.8 10.6h0m.2-27h0m-.9-1.6h0m1.6 22.1h0m-1.4-27.5h0m.9 13.5h0m-.1 16.1h0m-.8-16.4h0m.3 11.1h0m.1-15.1h0m-.2-13.5h0m.6 17.7h0m-.4-13.4h0m-.9 23.6h0m13.3-.6h0m-.6-11.6h0m-.1 58.1h0m.8-38.6h0m-.6-.5h0m-.6 0h0m-.1 2h0m.9-8.8h0m-.4 9.2h0m1.1-11.6h0m-1.1-4.5h0m-.4 51.8h0m.1-37h0m1.2-6.1h0m-.9-19.5h0m.6 18.1h0m.8 52.8h0m-1.1-74.5h0m-.2 24.5h0m-.1 52.1h0m-3.1-43.5h0m-35.4 .7h0m67.6-.6h0m-1.7-.9h0m-97 1.6h0m54.2-1h0m-64.6 1h0m59-1h0m-43.6 .7h0m49.6-.5h0m.6-.8h0m-41.6 1.6h0m22.7-.5h0m-36.5-.1h0m7.5 .3h0m47.5-1h0m-88.7 1.2h0m-10-.1h0m59.6-.2h0m41.2-.5h0m-65.5 .3h0m85.8-.7h0m-56.9 1.3h0m29-1.5h0m-70.3 .9h0m74.5-.7h0m-45.5 1.7h0m-17.7-.7h0m21.6-.2h0" stroke="#b0b0f8" stroke-width="1.2" stroke-linecap="round" fill="none" stroke-opacity="0.9"/>
<path d="M113.5 235.1h0m27.8 26.7h0m17 8.3h0m-67.2-52h0m80.5 86.4h0m-49.6-60.1h0m-1.3 7h0m27 23.5h0m-48.5-47.5h0m-31.5-10.8h0m75.2 46.2h0m-52.9-46.3h0m13.1 27.6h0m5.1-1.7h0m-11.1-6.6h0m3.1 12.9h0m64.3 15h0m-48.5-12h0m27.6 7.5h0m21.8 .2h0m-44.2-8.5h0m19.6 10.9h0m15.2 6.7h0m-74.4-74.6h0m51.6 61.7h0m42.7 35.8h0m-16.1-18.4h0m-18.6-11.5h0m3.2 5.2h0m-1.5-6.8h0m-39.9-35.8h0m41.8 42.5h0m-38.9-14.7h0m37.3 10.7h0m19.1 32.3h0m6.8-12.8h0m-93.2-75.1h0m31.7 27.1h0m-2.5-6.8h0m65.2 63.8h0m-46.8-45.2h0m-40.5-30h0m72.4 67.3h0m-57.2-68.1h0m58.4 54h0m17.7 1.8h0m-32.6-5.8h0m-25.4-28.4h0m26 26.1h0m-50.3-52.5h0m68.5 58.4h0m-1.6 5.7h0m-9.3-9.4h0m16.4 30.3h0m-54.5-57.9h0m-2.9 8.2h0m38.8 12.5h0m-49-27.9h0m43.1 22.5h0m-29-11h0m26.3 13.8h0m-62.1-36.2h0m14.6 12.2h0m49.9 30.8h0m-3.1 1.1h0m20.6 9.9h0m-50.2-29.4h0m-8.7 5.6h0m11.7-10.7h0m-5.9-7.4h0m-4.8 12.4h0m35 10.5h0m28 30h0m22.7 33h0m-37.9-39.2h0m-51.2-46.5h0m41.9 33.4h0m-1-1.2h0m4.7-4.2h0m-72-45h0m86.6 43.2h0m-18.3-3.3h0m.1 .2h0m-27-9.2h0m23.5 11h0m-34.1-20.1h0m9.3 .5h0m41.6 41.4h0m-55.4-65.7h0m49.6 41.8h0m-54.5-23.7h0m62.4 55.7h0m-19.4-27.9h0m10.2 2.2h0m-34.8-26.9h0m44.9 24.5h0m-35.7-16.6h0m39.7 44.3h0m-54.9-53.5h0m-16.1-29.9h0m7.4 23h0m64.9 46.7h0m2.4 9.9h0m-35.8-30.1h0m-3.9-5.1h0m-29.7-18.5h0m21.6 22.2h0m50.1 31.8h0m-20.7-19.1h0m1.3-.5h0m-25.8-17.7h0m19.4 10.9h0m-24.1-13.2h0m47.5 35.2h0m-62.2-47.3h0m47.1 33.8h0m-46.8-32.1h0m38 23.3h0m-54.8-34.6h0m13.6 16.8h0m47 15.8h0m4.4 22.4h0m-13.5-21.7h0m.7 1.4h0m3.2 6h0m20 18.2h0m-25.2-21.2h0m-16.9-14.8h0m40.8 30.3h0m-79.9-70h0m35.1 46.5h0m27.3 5.2h0m-47.9-46.5h0m30.1 36.1h0m13 7.1h0m-42.8-35.4h0m33.4 34h0m38.8 27.9h0m-29.7-23.3h0m57.3 45.6h0m-90.5-55.7h0m1.7-6h0m82.7 57.1h0m-107.6-102h0m19.1 32.4h0m49.5 43.6h0m16.9 18.9h0m-17-21h0m-1.7-12.2h0m-33.7-11.6h0m28.2 21.5h0m-.3-3.4h0m-21.5-11.6h0m38.1 33.4h0m6.8 2.6h0m4.6 11.5h0m-21.5-41.7h0m6.1 8.6h0m-57-40h0m20.3 11.2h0m19.6 24.8h0m-13.8-11.4h0m24.2 21.6h0m-33-34h0m27.5 18.4h0m3.3 4.4h0m-37.5-24.5h0m19.3 14.3h0m-65.1-75.3h0m79.8 90.8h0m23.6 11.6h0m-25.7-15h0m-20.4-14.2h0m-22.4-15.6h0m20.5 10.4h0m35.6 24.3h0m-1.3 10.6h0m-29.8-29.9h0m-34.9-11.8h0m19-7.4h0m-11.8-6.6h0m49.2 44.3h0m-29.6-19.5h0m76.7 28.6h0m-51.7-14.3h0m-36.5-29.6h0m-20.1 4.8h0m75 45h0m3.3-17.9h0m.3 10h0m-2 13.2h0m-20.2-33h0m-48.2-36.3h0m97.7 70.5h0m-45.1-22.2h0m-25.5-15.4h0m-39.6-44.6h0m69.5 56.4h0m-32.5-24.1h0m49.2 24.3h0m-62.8-41.7h0m78.8 65.9h0m-41.8-29.2h0m-11.5-5.8h0m24.8 26.1h0m-54.1-53.9h0m-12.7-5.4h0m62.3 53.6h0m-45-22h0m-9.5-40.8h0m58.4 43.4h0m-12.2 11.4h0m-27.7-18.4h0m54.5 18.9h0m-46.2-18.5h0m34 26.8h0m10.3-7.5h0m-65.5-45.6h0m5.5 17.3h0m-.6-5.6h0m-15.8 10.1h0m75.9 32.9h0m-8.4-21.7h0m6.7 19.8h0m-60.9-51.6h0m1.2 9.5h0m-1.1 18.2h0m-3.8-22.7h0m36.4 29.2h0m-28.4-14.5h0m39.5 16.6h0m-3.5 4.4h0m17.4 26.7h0m-62-57.3h0m59.6 34.9h0m-2.4 4.1h0m13.4 11.8h0m-11.2-5.1h0m-35.8-30.1h0m-6.4-3.3h0m34.2 20.7h0m-36-27.8h0m22.9 20.5h0m-46-46.6h0m3.9 4.3h0m8.6 3.4h0m61.4 66.3h0m-7.8-20.2h0m-59.9-54.4h0m55.9 52.6h0m-40.5-22.5h0m-11.1-25.7h0m-.8 5.3h0m43.5 39.5h0m-55.8-34.4h0m25.4 21.1h0m47.7 28.8h0m-18.2-10.3h0m29.8 12.1h0m-75.9-64.9h0m64.2 48.7h0m-70.6-54.1h0m81 74.6h0m-33-26.1h0m3.9 .2h0m39.8 41.1h0m-23.5-20.7h0m-8.3-7.1h0m.4 7.6h0m-49.1-51.1h0m1.2 6.1h0m25.2 17.7h0m33 22.1h0m-50.4-27.6h0m-4.9 6.7h0m40.5 7.9h0m10.6 25h0m36 5.6h0m-115-78.6h0m74.1 65h0m-66.5-70.8h0m27.7 24.8h0m33.8 40.5h0m-50.2-30.8h0m60.3 38.3h0m-50.3-28.9h0m-41.2-47.9h0m58.5 48.8h0m-19.3 2.6h0m-4.9-17.3h0m10.4-4h0m45.6 50.8h0m7.7 3.6h0m-61.1-47.3h0m41.3 19.2h0m3.9 13.6h0m-25.5-23h0m13.3 8.1h0m29.8 41.2h0m-50.2-51.4h0m36.2 32.1h0m20.3 14.1h0m-3.5-16h0m-41.4-24.1h0m26.8 17.5h0m-19.8-15.3h0m29.6 15.9h0m6.3 1.5h0m-68.6-30.6h0m8.6 12h0m-21.6-27h0m37.2 24.7h0m-22.2-24.9h0m45 44.4h0m-36.3-33.5h0m8.5 5.3h0m-8.7-12.8h0m53.2 39.3h0m-18.8-13h0m-37.7-16.3h0m52.5 44.6h0m16.8 22.2h0m-65.9-64h0m56 56.7h0m-75.6-68h0m10.9 6.4h0m5.1-5.5h0m37.8 34.5h0m-48.9-49.6h0m10.6 6.9h0m-6.4 17.3h0m79.3 59.8h0m-70-59.2h0m-.3-14.1h0m41.8 50.3h0m-39.9-48.2h0m-8.2 11.5h0m56.2 29.3h0m-56.4-22.7h0m59.6 47.3h0m6.3 3.6h0m-18.3-27.6h0m-58.2-59.2h0m45.6 45.9h0m-49.4-44.2h0m18.9 13.2h0m10.7 12.8h0m32 36.3h0m-25.4-23.9h0m46.2 35.4h0m-62.1-47.8h0m5.9 10.5h0m5.8 1.1h0m37.5 29.9h0m-43.6-32.1h0m18.2 6.1h0m27.5 9.2h0m-.1 2.6h0m8.3 24.8h0m-31.6-33.3h0m44.6 48.6h0m-38.3-51.8h0m-32.5-26.8h0m47.5 42.6h0m-91.9-61h0m37.5 15h0m62.6 51.7h0m-9.7 8.1h0m-22.3-30.5h0m30.5 36h0m-45.3-41.4h0m47.7 50.1h0m-47.1-58.8h0m19.8 22.4h0m5.4 1.3h0m-53.9-61h0m17.2 26.5h0m5.3 5.3h0m15.2 19h0m42.2 46.3h0m-49-48.5h0m35.3 24.4h0m16.7 17.9h0m-76.7-59.1h0m107.1 98.2h0m-25.4-33.1h0m-57.9-54.3h0m-39-28.2h0m71.6 39.2h0m-52.4-37h0m73.5 72.9h0m-5.6-19h0m-68.1-40.7h0m9.2 15.1h0m-15.7-40h0m4.3 20.9h0m-15-10.8h0m22.8 27.4h0m36.4 24.8h0m38.7 22.5h0m-31.2-27.5h0m-5.5 7.3h0m17.5-1.7h0m-63.4-35.2h0m16.3 9.7h0m47.6 18.4h0m-5 18.7h0m-10.1-10.7h0m-3.5-9.9h0m-4.6 2.3h0m-46.7-21.8h0m83.3 46.1h0m-95.2-48h0m18 5h0m50.5 31.9h0m-10.4-12.2h0m-48.7-43.2h0m49.2 39.7h0m.8-1.3h0m-75.4-65.7h0m51.1 59.2h0m0-9.2h0m-6.2-4.7h0m26.9 14.2h0m10.4 6.3h0m-57.9-38.9h0m56 49.2h0m-25.1-19.9h0m33 15.1h0m17.8 38.3h0m-64.4-78.4h0m32.7 30.7h0m38.5 38.8h0m-49.1-43.1h0m19.5 23.8h0m14.4 .8h0m5.7 .2h0m-57.3-47.5h0m-8.9 6.4h0m42.9 34.6h0m-47.7-40h0m49.1 43.4h0m-34.7-43.3h0m34.6 24.6h0m-55.4-43h0m65.2 48.3h0m-41.6-9.6h0m50.8 39h0m-72.3-61h0m58.3 28.3h0m-9.7-1.8h0m.3 2.1h0m-18.7-10.4h0m-12.2-8h0m-22.5 8.3h0m71.5 8.4h0m11.1 22.9h0m-47.8-25.3h0m-35.1-41.4h0m90.8 96.7h0m-36.6-40.3h0m10.1 .5h0m-33.7-15.7h0m1.3-1.6h0m22.8 9.1h0m-24.4-21h0m-32.4 12.5h0m60.9 12.6h0m6.2-6.3h0m14.2 23.2h0m-13.3-21.8h0m30.2 37.4h0m-11.4-30.1h0m-81.6-58.5h0m17.4 44h0m34.3 11.5h0m-25.6-16.1h0m-29.6-26.7h0m51.2 43.5h0m-29.8-32.4h0m39.2 37.8h0m-34-20h0m20.6 7h0m8.2 11.6h0m-22.5-20.4h0m-12.1-21.3h0m-10.3 21.6h0m17.3-1.7h0m46.9 48.2h0m-5.3-32.6h0m-10.6 3.5h0m9.9-4.9h0m-1.7 23h0m-39.2-30.8h0m-6.3-25.9h0m-32.8-23.3h0m84.9 51.6h0m-20.3 3.1h0m-69.2-56.3h0m76.4 62.3h0m-69.3-51h0m46.3 38.5h0m-19.7-15.2h0m-1-2.9h0m10.8 8.5h0m-32.9-36.1h0m58.5 53.5h0m-45.2-18.5h0m5.7-9.7h0m39.4 34.3h0m-48.5-44.6h0m20.8 14.7h0m-14-19.1h0m50.7 61.1h0m24.6 11.7h0m-64.6-40.1h0m31.8 12.1h0m-42.5-44.5h0m6.2 9.8h0m37.1 34.6h0m13.2-1h0m-10.8 10.6h0m-42.4-42.6h0m62.3 45.7h0m24.5 40.9h0m-53.3-54.9h0m9.8 5.1h0m-32.2-25.4h0m1-3.1h0m-9.7 8.1h0m-.1-2.4h0m6.9-7.4h0m-12.4 15.4h0m26.2 1.8h0m24.7 22.7h0m30.6 26.7h0m-131.8-129.4h0m57.8 72.8h0m-7.5-31.3h0m33.5 39.8h0m21.9 14.6h0m-8.9 3.7h0m-21.1-24h0m-25.2-32.7h0m52.4 58.9h0m8.2 14.6h0m-8.9-15.8h0m-38.1-22.9h0m-6.5-27h0m-25-3.1h0m45.3 31h0m19.4 13.9h0m-13.4-10.6h0m9.6 4.7h0m-34.6-6.2h0m41.7 12h0m-56.3-34.3h0m43.6 31.2h0m15.4 15.4h0m-38.6-38.5h0m-48.3-42.5h0m89.3 82.9h0m11.9-14.2h0m-27.6-8.6h0m-41.3-12.7h0m64.6 38.7h0m-87-43.6h0m37.1-4.5h0m36.8 38.5h0m3.3-.7h0m-64.4-27.7h0m59.8 28.6h0m.2-10.7h0m25.9 36.1h0m-33.8-41.1h0m-32.1-23.4h0m-10.8-9h0m18.1 12.4h0m-2.9 9.1h0m-2.9 5.7h0m33.2 12.4h0m-53.7-15.1h0m22.4 2.9h0m-.6 .4h0m36 19.2h0m-33.1-31.6h0m27 21h0m-37.8-36.7h0m56.5 41.3h0m-51.4-36.9h0m8.5 17h0m-29.5-23.5h0m34.3 25.7h0m31.3 9.4h0m7 23.5h0m-43.8-28.5h0m62.6 39.1h0m-26-15.4h0m-45.1-28.6h0m42 20.4h0m6-7h0m34.4 39h0m-19.5-46.1h0m-57.7-12.4h0m50.3 35.1h0m-14.5-23h0m-36.7-14h0m34.1 22.2h0m3.5-6.8h0m-3.7 15.7h0m25.6 7.2h0m-69.9-54.9h0m52.1 39.5h0m-46.1-17.3h0m45 29h0m14.5 16.1h0m-29.2-29.9h0m-.7 .1h0m-61.8-27.2h0m18.6 3.9h0m19.6 6.3h0m23.3 17.9h0m12.1 13.9h0m-28.7-28.2h0m.9-3.4h0m-3.6 4.3h0m-9.4-21.9h0m41.5 51.6h0m-3.4-6.9h0m31.7 36h0m-30.1-38.4h0m.6-14.1h0m-38.9-4.7h0m11.8 .5h0m-46-19.9h0m12.4-22.3h0m38.8 43.8h0m-26.8-34h0m-12.6 35.6h0m19.6-4.3h0m2-5.1h0m48.4 42.7h0m-21.3-29.2h0m-5.6-3.9h0m6.9 3.7h0m-24-3.6h0m29 14h0m-29.8-17.2h0m-38.3-21.1h0m76.3 28.4h0m-4.9 7.6h0m-51-47.8h0m71.2 73.6h0m-71.8-68.6h0m58.8 53.8h0m-57.2-58.2h0m63.4 50.4h0m-38.3-27h0m-32.3 2.6h0m28.5 6.5h0m27.6 13.7h0m-.4-7.8h0m14.8 31.5h0m-14.1-26.3h0m4.9 13.5h0m-3.7-14.1h0m2.7 7.6h0m-59.3-53.2h0m-1.1 17h0m96.6 54.6h0m-71.2-41.7h0m10.9 5.6h0m25.2 23.6h0m-53.5-59h0m17.7 27.3h0m-7.2-14.6h0m-45.5-10.9h0m70.8 37.8h0m-46.6-17.4h0m24.8 5.4h0m51.3 46.2h0m-64.4-54.7h0m23.3 12h0m12 8.1h0m-34.4-29h0m16.7 22h0m-27.2-32.1h0m19.1 27.4h0m6.6 8.6h0m.6-5.4h0m-2-2.1h0m4.8-1.7h0m22.5 12.1h0m-33.2-21.4h0m42.6 39.3h0m-76.5-30.7h0m76.1 28.3h0m33.4 11.1h0m-59.5-31.2h0m-19.3-22h0m65 64.4h0m-12-6.6h0m10.5 11.2h0m-50.7-46h0m-13.8-30h0m68 47h0m-56.5-14.8h0m73.3 60.8h0m-64.4-62.3h0m17.5 2.3h0m-33.4-14h0m44.4 38h0m-4.7-20.8h0m-33.7-12.3h0m-25-33h0m5.3 32.6h0m31.1 6h0m-42.2-12.4h0m32.5 13.9h0m-5.7-9.9h0m-10.9-3.4h0m18.7 14.7h0m52.4 38.4h0m-75-61h0m-.2-19.1h0m16.7 22.1h0m39 36.1h0m41.8 48h0m-104.1-115.1h0m47 51.3h0m13.8 5.5h0m-30.2-18.7h0m20.6 18.2h0m-28.4-13h0m40.7 9.9h0m-52.2-28.7h0m64.4 54.8h0m3.8-.5h0m-4.9-24.8h0m-51.6-28.5h0m8.4 19.8h0m67.4 49.2h0m-70.7-63.7h0m-16 9.2h0m89.9 29.5h0m-67.9-26.8h0m-17.8-27.3h0m13.1 23.7h0m-2.1-.4h0m-34.5-46.5h0m22.1 38.1h0m1.5-11.9h0m36.6 34.1h0m36.6 40.7h0m-54-47.5h0m14.4 10.7h0m50 33.9h0m-28.2-25.8h0m-16.7-1.6h0m-78.6-67.5h0m30.6 19.3h0m-.5 20.3h0m23.5 5.9h0m-18.4-12h0m46.8 30.2h0m-62.4-43.3h0m69.1 53.8h0m-27.3-21.8h0m16.3 8.4h0m11.5 10.4h0m-30.9-24h0m-19.5-26.1h0m45.1 47.9h0m7.1-5.6h0m-40.2-18.4h0m36.9 34h0m-26.2-29.9h0m-16.8 4.1h0m-1.9-15.7h0m61.9 49.2h0m-86.5-53.3h0m17.2-16.1h0m63 66.9h0m-42.2-30.1h0m35.3 17.9h0m21.2 36h0m-24.3-41.8h0m-13.3-1.5h0m-20.5-12.4h0m41 33h0m2.1 5.9h0m-12.4-17.3h0m-22.1-20.6h0m-1.2-.3h0m-6-2.8h0m18.6 9h0m-28.9-15h0m51.8 43.8h0m-47.4-50.8h0m47.3 52.6h0m-46.4-51.2h0m26.3 29h0m-25-24h0m6.7 10.6h0m38.5 39.4h0m-3.4-5.1h0m-37.2-34.1h0m-4-2.1h0m1.9 .7h0m18.5 2.9h0m20.1 28.2h0m5.9-7.1h0m-24.7-16.6h0m11.6 14.1h0m-44.9-27h0m47 31.2h0m-37.6-25.6h0m33.3 22.6h0m2.2 3.9h0m-1-5.7h0m-39.7-22h0m-1.5-20h0m49.9 53.9h0m-13.5-17.1h0m14.3 17.8h0m-43-38.2h0m50.9 46.4h0m-41.7-42.8h0m17.9 14.5h0m-28.5-20.8h0m.9 5.1h0m40.1 31.5h0m1.2-11.1h0m-.8-15.3h0m1 28.1h0m-1.4-27.4h0m-.1 18.8h0m1.1-5.8h0m-.3-5h0m-1.5 17.7h0m1.6-4.1h0m-.6-.3h0m-79.4-23.6h0m76.7 1.8h0m-27.7-1.1h0m.2-.4h0m-38.4 .9h0m54.9 .5h0m-30.4-.5h0m-12.2-.1h0m-11.4-.2h0m37.5 .2h0m31.2 .5h0m-60.4-.9h0m4.6 0h0m33.2 1.2h0m-4.1-.8h0m-38.3 0h0m-37.8 .1h0m37-.7h0m37.5 0h0m-12.9 .2h0m44 .6h0m-69-.9h0" stroke="#f8b0b0" stroke-width="1.2" stroke-linecap="round" fill="none" stroke-opacity="0.9"/>
<path d="M125.1 253.3h0m7.6-2.9h0m-9.5 2.9h0m4.9 4.7h0m-.7-13.5h0m5.1 3.5h0m-1.1 19.3h0m-4.6-24.4h0m2.8 20.2h0m-8.5-28.8h0m.7 6.1h0m21.3 34.6h0m-12.8-15.2h0m-2.7-9.9h0m-.7 4.6h0m-2.7 1.1h0m16 18.3h0m-6.1-23.8h0m-9-3.5h0m1.8-1.1h0m9.4 19.8h0m11.1 11.7h0m-22.7-15h0m-4.2-29.7h0m22.5 38.9h0m-14.2-15.9h0m-1.4 3.8h0m2.2-7.8h0m2.5 17.1h0m-10.4-11.5h0m-5.3-21.7h0m24.8 34.2h0m-17.2-.5h0m5-8h0m-1.1-6.4h0m.8 16.5h0m2.8-13.3h0m-3.6 2.9h0m-9.1-21h0m2.9 13.3h0m16.6 15.6h0m3.7 1.7h0m-11.3-14.1h0m-6.4 .2h0m8.2 5.5h0m1.2-.2h0m-12.9-27.9h0m11.9 16.4h0m-5.9-4.6h0m-7.6-8.2h0m15.9 33.3h0m-23.8-48.3h0m19.9 43.7h0m10.3 11.4h0m-36.1-61.1h0m22.7 43.3h0m-14-1.2h0m18.7-12.9h0m-12.1-17.8h0m11.9 40.1h0m-.7-17.4h0m-1.7-10.3h0m-3.4 14.6h0m18.8 21.4h0m-3.6 6.5h0m-13.9-34h0m4.9 3.6h0m-11 3.2h0m7.2-12.8h0m-2.8 12.4h0m-3.7-11.4h0m9.8 5.4h0m6.7 18.3h0m-13.2-19.4h0m-5.1-6h0m5.5 .4h0m-.4-7.9h0m5.3 23.8h0m4.6 14.5h0m1.6-24.4h0m-5.3-6.3h0m-5.5 14.7h0m-15.5-3.3h0m21 13.7h0m-22.5-44.1h0m25 25.7h0m-12.2 4h0m-4.4-16.8h0m8 16.7h0m4.3-3.8h0m-.6 1.8h0m4.8-5.4h0m5.2 24.3h0m-10.8-18.3h0m-6.9-7.4h0m-6.2-18.5h0m19.9 37.1h0m-16.2-22.7h0m6.9 3h0m-4.3 0h0m14.3 2.7h0m1.4 2.4h0m8.2 30h0m-12.1-16.1h0m-4.4-12.3h0m-3.2 4.6h0m-4.5-12.7h0m1.6-.7h0m3.6 4.4h0m4.5 1.7h0m7.8 24.9h0m-7.4-13.7h0m3.5 8.2h0m-14.4-8.6h0m6.8 .4h0m1-.9h0m1-1.6h0m-16.5-24.7h0m19.5 41.2h0m9.2-31.1h0m4.4 40.7h0m-2.6-34.2h0m-5.3 1.9h0m-11 .4h0m4.7 13.1h0m-1-2.3h0m-6.9-17.4h0m1.3 17.8h0m1.2-5.6h0m-7.7-1.6h0m6.7-1h0m4.4 5h0m-18.6-5.2h0m18 5h0m-1.9-1.3h0m6.6-9.2h0m-20.3-17.8h0m7.3 7.1h0m12.8 12.6h0m-9.4 7.4h0m5.9 6.2h0m-6.7-17.5h0m5.8-7h0m-1.6 7.1h0m-1.3-.1h0m14.1 31.6h0m-7.1-16.4h0m-7.4-16.5h0m0 3.4h0m-12.8 10.1h0m8.1-1.2h0m-3.8-18h0m24.6 11h0m-10.2 10.3h0m-7.9-16.2h0m5.1 7.7h0m9.6 18.6h0m-25.1-42h0m16 34.2h0m-4.5-20h0m2.7 12.4h0m-2.6 .1h0m-2.8-12.9h0m4.2 16.7h0m-13.1-24.7h0m15.8 23.2h0m14.7 18.1h0m-7-2h0m-2-9.1h0m-8.2-15.9h0m4-4.1h0m2.3 15.9h0m-3.9-2.9h0m-30.9-43h0m17.9 46.2h0m12.2 1.8h0m1.7-1.7h0m-2.1-1.2h0m3.3-9.7h0m-1.6 17.2h0m4.6-24h0m-25.4-16.3h0m13.4 17h0m20.4 31h0m-16-18.5h0m-5.4-12.9h0m7.1 8.6h0m-1.7 8.4h0m6.3-7.6h0m-3.7 3.1h0m-6.9 2.5h0m-.5-24h0m-18.9-14.1h0m30.2 18.8h0m3.5 25.9h0m-10.6-15.8h0m-4.5-14h0m6.1 23.4h0m-9.9-1.7h0m9.8-12.7h0m-2.5 18.9h0m-.6 .9h0m11.5-12.6h0m-18.6-19h0m15.3 17.7h0m-20.6-20.7h0m21.8 35.6h0m-10.8-11h0m11.5-1h0m-3.9 8.6h0m11.3 15.3h0m-9.4-24.8h0m.1 10.8h0m-17.3-36h0m8.7 14.9h0m2 7.4h0m6.3 11.9h0m-15.1-35.7h0m12.1 40h0m-9.3-24.4h0m6.1 19.6h0m-2.2-20.5h0m13.6 13.4h0m-6.6-4.2h0m6.3 .8h0m-11.6 8.4h0m10.9-6.6h0m-2.2-13.9h0m-20.1-14.5h0m1.5 33.5h0m17.2-10h0m-11-5.3h0m1.2-.9h0m13.7 6.5h0m-35.1-28.8h0m27 36.5h0m-5.5 2.1h0m7.1 1.9h0m-6.9-2h0m-13.7-35.3h0m4.5 38.9h0m24.8 9.3h0m-11.6-20.9h0m-3.1 13.8h0m3.7-8.7h0m9.1 13h0m-12.2-19.1h0m-1.5-15.1h0m6.5 39h0m-1.2-24h0m-1.9-4.4h0m1.5 2.3h0m1 7.6h0m-4.5 9.1h0m9.2 1.8h0m2.7-15.2h0m1.5-.3h0m-12.4-18.4h0m5.2 27.2h0m-4.9 4.2h0m-1.1-5.6h0m7.5 7.5h0m-9.7-17.8h0m13.1 4.2h0m-17.4 14.7h0m11.8-5.6h0m-3.6 4.3h0m-10.3-3.8h0m13.9-.6h0m4.4 7.4h0m-2.3-18.7h0m6.7 24.1h0m-19.4-29.9h0m7.8 .4h0m-1.1-2h0m4.3 27.9h0m1-.4h0m-21.7-13.3h0m20.3-1.6h0m3.2-11.6h0m-10.8 21h0m1.2-18.2h0m-2.9 14.1h0m11-6.8h0m-11.2-9.4h0m-2-1.4h0m5.9 17.4h0m4.6-13.1h0m-.4 12.4h0m10.3 11.7h0m-10.3-26.7h0m-2.6 2.1h0m7.6 23.6h0m-4-14.8h0m2-1h0m1-6.2h0m-12.7 8.3h0m1.8-10.5h0m-2.6-6.5h0m-1.5 28.6h0m16.5-13.1h0m-4.6-12.7h0m10.6 10.6h0m-10.8 8.6h0m-.3-.4h0m-2.2-4.1h0m8.4-8.5h0m-11.6 24.4h0m4-7.5h0m4.9 14.3h0m-18.7-42.6h0m17.7 34.5h0m-23.4-46h0m15.9 15.1h0m-7.8-3.4h0m19.6 13.5h0m-27.4-22.4h0m19.8 18h0m1.3 7.1h0m6.2 17h0m-9.5-10h0m-4.7-14.4h0m7.9 5.3h0m11.4 22.4h0m-6.1-6.7h0m10.1 13.9h0m-17-15.2h0m-10.5-32.2h0m19.7 21.3h0m-9.1-9.3h0m.8 19.5h0m-15.8-29.2h0m12.6 25.9h0m-15.1-31.8h0m27.1 44.3h0m-19.5-4.8h0m15-4.7h0m-9.2-27.3h0m9.6 16.4h0m-2.8 8.1h0m-2.6 6.5h0m8.1-1.7h0m-10.2-16.2h0m-1.3 7h0m8.1-3.2h0m.7 20h0m-11.5-29.6h0m18.3 29.9h0m-22.5-17.7h0m33 29.3h0m-24.6-22.6h0m.2 .5h0m-9.9-26.5h0m16.5 15.3h0m-1 9.3h0m-.3 10.7h0m-1.4-30.8h0m7.9 11.2h0m-7.9-8h0m-8.7-4.2h0m-7.5-4.3h0m9.9 6.3h0m-2.6 1.3h0m21.3 45.8h0m-19.8-30.5h0m-4.3-18.9h0m6.6 10.8h0m.3 5.8h0m-5.6-22.3h0m5.5 4.1h0m-3.9-4.6h0m-3-1.1h0m13.3 36.2h0m16 18.7h0m-38.4-56.9h0m17 42.3h0m-6.6-31.7h0m1.7 14.8h0m7.6 11.6h0m-.9-9.5h0m-11.4-27.1h0m10.2 19.2h0m14.7 28.8h0m-9.7-39.2h0m-2.1 19.4h0m-6-12h0m2.8 4.3h0m2.9-1.1h0m-5.7-1.1h0m4-15.2h0m6 13.7h0m1.6 18.5h0m-1.4-2h0m-11.2-6.9h0m12.2 25.4h0m-14.4-40.1h0m9.1 22.6h0m-.7 3.8h0m.8-2.5h0m-10.3-10.8h0m9.2 4.1h0m1.3-10.7h0m5 20.6h0m5.5 14.6h0m-23.7-29.3h0m16.7-1.8h0m-9.9 6.9h0m-2.3-18.4h0m14.2 23.5h0m12.5 29.1h0m-21-42.9h0m-7.7 7.6h0m17.4 18.2h0m-21.8-44.3h0m-21.5-23h0m52.2 69h0m-11.5-12.2h0m7 9.4h0m-14.3-37h0m.1 12.7h0m-5.2-10.6h0m4.8 3.1h0m1.7 14.6h0m-7.5-15.7h0m-5.9 18.9h0m10.5-2.9h0m7.3 4.6h0m-1.9-4.8h0m2 3h0m-5.2-7.4h0m1.6 2.1h0m-2.6 5.7h0m1.3 8.6h0m8.4-1h0m-23.3-12.4h0m36.8 27.8h0m-22.4-26.6h0m-1.1-9.5h0m-4.4-15.4h0m-1.1-5.7h0m10.7 38.7h0m-9.1-20.9h0m20.1 27.7h0m-17.1-31.1h0m11.2 5.8h0m-15.6 11.3h0m11.8-14.3h0m23.5 49h0m-23.6-21.3h0m-11.7-29.9h0m-2.8-3.8h0m5.5 3.2h0m4.1 14.9h0m-14.7-26h0m19.4 29.7h0m-2.7-13.3h0m.1 9.7h0m-12.4-2.1h0m13 3.3h0m2.4 4.7h0m7.6-12.1h0m-5.4 12.9h0m-7.6-24.1h0m4.6 3.4h0m-16.2-18.9h0m16.3 38.9h0m-.2-16.7h0m-24.7-26.4h0m17.2 40.4h0m3.4 1.7h0m9.6 8.9h0m-3.1-20.2h0m9.3 27.5h0m-15.9-23.1h0m-.4 3.4h0m-15.5-33.3h0m16.4 30.5h0m-10.9-19.2h0m9.2 9.5h0m-1.5-.6h0m4.3 17.9h0m-14.3-32.2h0m51.3 76.5h0m-43.4-39.8h0m-1-12.4h0m4.6-11.4h0m-.8 1.6h0m10.8 2.7h0m1.2 .2h0m-18.8-12.6h0m20.8 42.1h0m-8.2-5.7h0m-5.7-27.7h0m6.6 18.7h0m-1.9 4.6h0m-7.2-21.6h0m8.5-2.8h0m-4.7 13.6h0m1.2-.5h0m-2.1-2.1h0m-.5 7h0m1.2-12h0m1.3 5.4h0m-7.1-11.8h0m-11.9-19.1h0m19.3 32.2h0m-4.9 1.7h0m-1.3-17.7h0m10.6 36.7h0m-12.5-20.8h0m4 4.4h0m-4.7-4.5h0m-2.7-29h0m41.5 68.3h0m-39.7-57.7h0m8.8 19.7h0m-15-29.1h0m14.4 9.2h0m-5.7 21.8h0m-8.6-.4h0m21.2 4.3h0m-15.4-2.4h0m11.2-9.5h0m-2.1 5.5h0m5.3-5.1h0m-4.4 5.9h0m-3.1-.7h0m-12.4-22.3h0m16 29h0m-17.6-34h0m13.8 18h0m-.6 1.6h0m1.9 18.6h0m-2-22.5h0m1.9 4.8h0m-1.4-3.7h0m12.7 33.5h0m-43.9-73.7h0m28 52.5h0m6.6-3h0m-5.9-22.5h0m6.1 28.4h0m-2.2-7.5h0m-9.8 3.1h0m.3-18.7h0m10.7 29.2h0m3.6-15h0m9.3 20.6h0m-23.9-40.4h0m17.6 18.9h0m-5.1 4.9h0m2.1-12.9h0m6 31.5h0m-11-18.8h0m-1.7-.1h0m7.1 2.9h0m.2-5.9h0m-4.9-4.3h0m10.4 23h0m-9-35.3h0m15.6 41.1h0m-13.1-39h0m-2.1 12.8h0m6.9-6.1h0m-6.4 15.6h0m-8.2-5.7h0m12.7 13.2h0m-12.4-5.3h0m2.2-16.9h0m2.9-16h0m4.3 14.2h0m2.9 8.5h0m-6.3 14.1h0m-6.2-28.2h0m.3 6h0m7.2 20h0m-1.8-9.8h0m-1.2 12.2h0m2.9-20.9h0m3.2 15.6h0m-10-23.3h0m3.6 15.8h0m-2.5 0h0m-3 .4h0m16.3-7.7h0m-2.2 16.7h0m-5.4-4.8h0m23.6 27.5h0m-17-8.6h0m-1.5-14.8h0m6.6 10.3h0m-29.8-53.5h0m19.9 40.5h0m-13.4-21.6h0m-7.6-20.8h0m13.1 17.6h0m19.2 17.6h0m-12.1 6h0m-3.2-15.9h0m5.3 7.7h0m-7.3-9h0m15.2 28.8h0m-16.1-24.1h0m6.7 1.5h0m-9.6 7.1h0m6.6 4.1h0m-4.4 8.7h0m-5.8-33.2h0m19.7 33.2h0m-5-.7h0m-11.5-10h0m6.9-7.5h0m1.1-1.6h0m13 24.3h0m-20.2-17.3h0m6.5 3.9h0m3.3 7.4h0m-16.2-11.1h0m2.4-29h0m5.9 14.7h0m11 11.8h0m-9.1-20.9h0m-6.1 24.5h0m9.2-2h0m-8 6.7h0m13.3 9h0m-12.3-31.6h0m-4.3 15.8h0m-3.7 4h0m15.3-17h0m-3.7-.3h0m4.7 24.3h0m9 4.3h0m-9.2-29.3h0m-13.6-17.1h0m13.1 31.7h0m6.9 16.1h0m-14.8-17.3h0m7.1 2.8h0m2.9 4.6h0m-1.3-11.3h0m-4.9-5.9h0m.3 2.5h0m7.2 14h0m-.4 5.5h0m22.4 34.1h0m-28.1-59.1h0m-1.7 2.4h0m10.4 27h0m-2.5-22h0m.8 17.3h0m.5 5h0m-12.3-14.6h0m-8-22.9h0m13 20.8h0m1.1-2.7h0m7.6 32.3h0m9.1 6.7h0m-9.1-40.7h0m-3.6 10.3h0m-2.4-1.6h0m-5.2 4.4h0m3.5 8.4h0m-7.6-32.8h0m23 38.2h0m-11-13.2h0m1.3-19.3h0m-14.3-5.9h0m-.5 18.1h0m10.5 .8h0m.7 6.2h0m-5.4-16h0m11.9 18.4h0m-2.8-2h0m6.5-11h0m-6.1-2.1h0m-.3 12h0m-16.2-24.5h0m14.6 9.5h0m1.6 4.7h0m-8.8-6.4h0m18.2 30.5h0m-10.9-30.4h0m-.1 18.2h0m9.3-10.8h0m-9.4-5.4h0m2.3 4h0m-.9-1.1h0m16.5 46.9h0m-19.6-65h0m-6.9 .5h0m-6 2.5h0m12.8 31.9h0m-1.1-9.7h0m15.1 18.1h0m-19.6-28.9h0m5.8 15h0m-2.4-13.4h0m-3.3-1.4h0m1.5-5.2h0m-.2-6.3h0m6.6 1.6h0m14.1 41.1h0m-12.9-25.5h0m-.9-4.7h0m.7 14.9h0m8.3 12.3h0m-13.2-18.1h0m12.2 16.8h0m-14.8-15.2h0m1.2-16.6h0m2.7 21.8h0m-22.8-40h0m20.4 20.4h0m9.8 29.5h0m-10.9-29.6h0m4 6.5h0m-5.3 7.8h0m10.3 4.7h0m-4.2-3.5h0m2.7 2.3h0m2.5-14.6h0m-19 8.3h0m17.4 10.5h0m-14-11.3h0m10.1-4.6h0m-9.7-6.9h0m2.6-4.1h0m6.9 35.7h0m-20.9-62.2h0m20.4 48.6h0m-4.4-16.8h0m8.5 7.1h0m-7.6 5.9h0m7.4-9.2h0m-13.7 12.8h0m10.6-10.4h0m-5.5 10.6h0m11.2 3.5h0m-2.2 9.9h0m-1.3-23.3h0m-.8 9.7h0m-15.1-29.4h0m5.8 11.9h0m-6-6.6h0m7.7 9.2h0m8.8 16.4h0m-7-21.7h0m-.8 2.6h0m-17.8-21.5h0m26 41.1h0m-7.6-13.4h0m6.8 14.6h0m-.5 7.6h0m-.8-14.1h0m5.8-6.7h0m-9.3 5.1h0m1.3-15.8h0m-8.2 1.5h0m6.9 10h0m-1.6 13.5h0m-7.2-41h0m8.5 46.2h0m-14.2-11h0m27.7 19.5h0m-10.3-17.3h0m28.4 35.8h0m-30.3-30.2h0m-2.6-16.6h0m1.5-5.1h0m-6.6 11.6h0m5.1 7.4h0m8.6-14.6h0m-6.2-1.3h0m-8.4-6.2h0m16.2 7.2h0m-3.6 10.6h0m-11.5-17.5h0m11.7 3.4h0m7.4 28.7h0m-12.7-21.8h0m-7.4-13.3h0m9.5 3.5h0m-3.2 16.8h0m1.4 1h0m-4.4-7.4h0m-1.3-12.3h0m4.3-3.7h0m-.4 17.5h0m-4.2-11.1h0m9.4 7h0m-14.8 6.9h0m.4-3.2h0m16.3-5.1h0m-7.4-.3h0m7.1 2.5h0m4 17.5h0m-12.5-11h0m5.3-13.5h0m9.2 34h0m-12-45.5h0m14.2 43.4h0m-9.8-32.5h0m-22.8-17h0m22.5 22.8h0m2.7-3.8h0m7.7 36.9h0m-16.6-36.2h0m-11.7-17h0m23.4 19.7h0m-.5 15.3h0m-5.3-12.1h0m-9.8-15.4h0m5.2 7.8h0m5 17.5h0m-2.9-12.6h0m.9 6.7h0m-.6-8.2h0m-4 10.2h0m11.7-8.9h0m-7.1 22.7h0m-11.1-6.4h0m3.1-35.1h0m3.3 13.4h0m17.1 37.7h0m-3.7-32.8h0m-9.9 18.9h0m1.5-2h0m6.2-20.2h0m-5.6 11.4h0m-14.3-27.3h0m10 23.6h0m1-6h0m.7-6.4h0m-5.5 22.8h0m10.5-18.7h0m-1.7 1.8h0m-3.6 9.3h0m2.7-17.3h0m7.2 27.9h0m-3.6-2.9h0m-4.9-8.7h0m-4.8 4.9h0m-.3-1.5h0m6.5-8.7h0m6.2 14h0m-8.4-15.9h0m15.1 30.8h0m-18.7-20.6h0m7-10.7h0m-12.3-10.1h0m4.4 1.8h0m9.1 32.5h0m-8.3-24.8h0m-10.2-12.9h0m15.6 31.2h0m5.4-15h0m-6 7.2h0m2.5-6.3h0m-4.6-12.9h0m11.3 31h0m.8-26.1h0m-14.2 5.3h0m13.8 20h0m-2.6 2.6h0m-18.5-33.2h0m29.2 42.8h0m-19.2-18.4h0m-1.7 .4h0m3 10h0m-6.3-16.6h0m2.9-1.3h0m3.1 .8h0m.6-15.6h0m14 33h0m-15.3-18.5h0m21.7 36.9h0m-19.2-24.1h0m-1.8-6.3h0m-2.2-11h0m1.5-2.8h0m4.2-6.6h0m-11.4 14.8h0m12.1 15.5h0m-1.7-10.3h0m-8.7-27.6h0m5.6 15.1h0m-17-19.1h0m26.4 36.3h0m-10-18.2h0m-3.1 8.5h0m-2.2-22.3h0m10.5 29h0m-4.2-12.1h0m-3.1 8.6h0m-4-21.9h0m5.6 16.4h0m-1.1 3.2h0m-1 2.5h0m-.3-5.4h0m-6.6-40.3h0m16.1 34.3h0m-1.8 14.2h0m-8-15.9h0m2.1 13.5h0m17.5 18.3h0m-18.5-33.9h0m-4.4-.7h0m3.6 .1h0m10.1 7.2h0m-11.8-16.9h0m.8 1.2h0m16.5 45.2h0m-15.8-26.6h0m2.3 1.9h0m-11.7-23.4h0m23.9 35.6h0m-6.5 3.7h0m-4-27.1h0m6.5 2.5h0m-2.7 17.6h0m-13.8-25.2h0m1-10.6h0m2 24.4h0m16.1 13h0m-16.4-9.5h0m7.6 5.3h0m-4-3.3h0m10.9 8.1h0m-11.8-21.5h0m5.4 14.9h0m-5-13.7h0m.8 8.2h0m6.4 3.6h0m-1.6 9.9h0m-12.1-39.7h0m10.9 28h0m3.9 4.8h0m1.2 .9h0m-4.3 5.6h0m-2.4-30.4h0m8.7 14.2h0m-10.9-6h0m7.8 5.4h0m-5.3 7.1h0m5.6 6.5h0m7.1-13.3h0m-10.9 10.8h0m-1.4-18.6h0m4.1 15.2h0m-9.7-2.2h0m-30.7-56.1h0m41.3 50.3h0m-.5 1.7h0m1.6 20.1h0m-6-30.6h0m-14.5-9.3h0m8.1 6.7h0m14.5 30.5h0m-13.8-5.7h0m1.6-19.9h0m.6-1.3h0m13.9 8.8h0m-14.4-9.5h0m-6.7 16.2h0m-1.1-25.9h0m11.2 13.9h0m-9.3-14.9h0m1.1 8.9h0m7.6 5.8h0m10.3 2.6h0m-15.9 5.2h0m13 11.1h0m-12.5-5.5h0m10.7 5.1h0m4.6 0h0m-24.6-35.8h0m17.9 30.1h0m-.5-2.6h0m-18-25.2h0m16 32.1h0m2.1-7.2h0m-12 2.5h0m-1.5-24.7h0m6.2 23h0m21.3-5h0m-18.1 7h0m1.6 3.7h0m.5-11.4h0m-.1 11.6h0m-8.3-30.7h0m16.6 16.8h0m-13.6-4.8h0m7.7 15.2h0m3.2 1.9h0m-5.7-21h0m2.2 15.5h0m-2.6 1.3h0m-1.9-3.6h0m-1 7.6h0m7-.5h0m-4.5-10.5h0m4.1 7.5h0m-5.3-13.1h0m-.2-.2h0m-1.3-3.4h0m-9-6.8h0m13.9 8.7h0m4.5 18h0m-2.4-2.1h0m2.5-8.1h0m-1.3 14.1h0m-3.7-21.5h0m4.9 5.7h0m-23.3-23.9h0m23.3 27.1h0m2.1 11.7h0m-14.4-20.3h0m8.9 15h0m-4-27.8h0m3.5 19.6h0m-13.4-17.7h0m9.7 38.2h0m.7-22.7h0m-6.6-5.6h0m33.9 45.4h0m-17.5-23.5h0m-7-13.4h0m-9.4-9.4h0m-2.3 13h0m19.8 17h0m-9.5-3.4h0m4.8-16.3h0m7.8-2.7h0m-10.2 10.5h0m-.7-15.6h0m-1.9 13.2h0m2-4.9h0m-.1 4.6h0m3.3 7.9h0m-13.1-26.3h0m7.6 22.4h0m1.1-17.3h0m1.3 14.5h0m1.1 6.7h0m3.5-17.2h0m-7.9 8h0m3.1-2.8h0m-2.5 6.9h0m14-13.2h0m-19-6.4h0m-.7 4.3h0m8 1.8h0m-1.8 1h0m-8.1 10.3h0m22.2 15.6h0m-15.3-16.3h0m4.7 7.7h0m8 4.1h0m6.4 7.7h0m-15.4-18.8h0m-2.4-9h0m8.7-.4h0m2.7 22.2h0m-4.9 14.2h0m-11.6-42.5h0m4.6-.8h0m6.6 23.8h0m-2.3-12.6h0m-1.5 4.5h0m6.9 8.4h0m-2.1-15.9h0m-34.8-34.8h0m31.3 47.3h0m-1.8-11.9h0m6.1 14.4h0m.4-19.6h0m-17.9-7.2h0m17.7 36.5h0m-2.2-10h0m-5.3-2.9h0m-1.5-14.6h0m1.3 18h0m-5.8-8.3h0m11.7 5.3h0m-10.6-23.8h0m7.8 23.7h0m-9.4-20.3h0m-10.7-18.7h0m16.9 29.5h0m8.6 16.5h0m-18.1-42h0m12.7 25.2h0m-16.7 2.5h0m12.5-9.1h0m-6.9-5.1h0m20.8 12.8h0m-3.3 17.2h0m-18.1-37.1h0m14.3 29h0m-23.2-31.6h0m12 9.2h0m6.8 19.7h0m-13.7-4.9h0m3-.4h0m5.3-7.6h0m11.9 21.6h0m-2.6-15.8h0m-.5-1.4h0m-3.6 14.3h0m-2.2-19h0m4.2 4.1h0m0 1.9h0m13.7 30.8h0m-5.7-.2h0m-5.8-14.1h0m2.2-17.6h0m-8 4.5h0m6 9.9h0m0 3.2h0m-2.6-3.4h0m-4.7-30.5h0m-18.6-24.4h0m17.7 46.1h0m5.5-16.4h0m8 28.6h0m-17.9-13.6h0m13.5 24.4h0m3.7-12.2h0m-18.8-36.5h0m8.8 19.4h0m-3.2-8.6h0m15.9 29.9h0m-15.7-29.9h0m-2.8 20.5h0m16.8 9.2h0m1.5 2.4h0m-13.1-22.4h0m-12.7 4.9h0m3.9-33.6h0m9.7 20h0m8 1h0m-8.8-3.2h0m-4.5 3.5h0m1.1-7.1h0m-4.9 22.8h0m3.9-17.2h0m5.2 26.5h0m-28.8-52.4h0m28.2 50.7h0m3.8-16.9h0m5.8 18.7h0m-16.8-27h0m10.1 17.3h0m-4.8-3.3h0m9.6 9.1h0m2-12h0m-14.6-14.2h0m23.6 44.8h0m-18.8-16.7h0m8.4 4.7h0m-7.8-13.5h0m-5.6-18.5h0m.6 4.8h0m11.2 30.2h0m-2.7-28.5h0m-12.3-8.8h0m5.4 4.6h0m5.6 17.2h0m.2-8.6h0m2.9 18.4h0m-16.1-12.7h0m46.9 54.4h0m-34.3-62h0m-3 2.2h0m12.3 21.3h0m-20.3-39.3h0m2.6 10.4h0m8.5 15.9h0m-11.4-21.1h0m7.5 19.1h0m2.5-1.2h0m.6-4.2h0m-1.7 15.6h0m.1-17.7h0m12.4 22.3h0m-12.3-20.7h0m-31.5-42.3h0m21.2 46.7h0m-7.1-26.7h0m15.4 21.2h0m1.6 6.1h0m1.6-3.3h0m2.5-7.3h0m-1.4-4.6h0m7.8 41h0m0-11.6h0m-15.2-15.5h0m3.8 4.3h0m18.1-12.6h0m-12.2-1.9h0m1.2 3.8h0m-12.7-9.2h0m5.6 .2h0m4.4 24h0m4 .7h0m-15.8-23.5h0m13.3 10.9h0m-8.9-4.4h0m5.1 2h0m-5.7-8.2h0m2.8 14.7h0m1.5-2h0m4 6.5h0m-2.9 3.2h0m-2.4-15h0m-2.2 8.8h0m11-4h0m-6.8-11.2h0m.1 9.6h0m-4.2 6.2h0m6.2 6.5h0m5.6 13.6h0m-1.8-35.1h0m-8.5 16.3h0m13 15.3h0m-7.2-8.2h0m-1.3 3h0m-.6-10.5h0m-7.2 .4h0m3.5 1.6h0m7.9-18.2h0m-7.1 .3h0m4.4 15.1h0m-1.7-2h0m-10.4-21.7h0m13.9 29.7h0m-12.5-4.9h0m14.5 3.7h0m-4.2-1.5h0m5.7 4.3h0m-3.1-4.2h0m-7.4-11.2h0m2.2-3.3h0m-6.8-19.6h0m6.1 13.8h0m-7-1.4h0m10.5 24h0m1.2-13.4h0m-8.5 15.4h0m1.2-18.2h0m.6 8.9h0m-.3 3.7h0m9.5 14.9h0m-7.4-15.2h0m.9-9.6h0m8.7 16h0m-6.6-7.4h0m-4.7-15.3h0m10.4 23.9h0m-18.8-44.9h0m-2.6 6.9h0m8.3 12.8h0m4.4 13.2h0m3.1-12.4h0m2.9 19.1h0m-1.6-3.1h0m-2.5-6.8h0m-14.3-30.8h0m11.3 48.8h0m14.7 5.5h0m-26-45.2h0m14.2 19.5h0m-17.9-20.6h0m9.1 25.2h0m7.1 1.9h0m-6.9-18.2h0m20.6 12h0m-15.2 14.7h0m.1-15.1h0m7.1 12.9h0m-10.5-20.6h0m5.9 33.3h0m10.1-30h0m-11.3 10.2h0m10.2 14.3h0m-21.3-34.8h0m9 4.2h0m11.6 30.3h0m-1.4-.8h0m.2-5.5h0m-7.3-10.2h0m-6.6-11.1h0m4.8 21h0m1.2-9h0m9.8 23.3h0m-7-20h0m-13.2-28h0m12.8 22.8h0m4.5 23.5h0m14 17.8h0m-19.8-60.6h0m-6.5 33.8h0m-7.3-53.2h0m19.7 35.7h0m-16.3-9.9h0m12.6 22.4h0m10.3 12.2h0m-6.3-21.8h0m-12.3 14.8h0m2.6-12.9h0m-7.5-19h0m1.8 1.8h0m1 1.6h0m15.6 46.7h0m-6.2-32.3h0m-15.4-27.7h0m15.3 32.1h0m6 9.3h0m4 8.2h0m-4.8-30.9h0m-8.2 24.3h0m3.4-9.8h0m2.3 3h0m-9.7-6.2h0m36.5 44.9h0m-29.4-40.7h0m1.3-.1h0m.4-15.4h0m-.7 18.8h0m-13.3-30.8h0m14.2 19h0m15.7 34.8h0m-24.9-46.2h0m5.3 9h0m-3-3.6h0m-1 .1h0m4.1 12.9h0m6.3 7.6h0m-18.6-32.1h0m17.3 35.8h0m-6.5-23.4h0m13.9 27.8h0m-12.4-24.9h0m-1.8-1.2h0m-7.1-12.6h0m11.1 22.9h0m-5.2-14.8h0m9.4 5.4h0m-45.3-46.9h0m49.9 69.3h0m-4.6-.6h0m4.3-17.1h0m-8.9-.3h0m7 .1h0m-1.1-2.2h0m-8.8-9.3h0m1.5 19.9h0m-2.7 5.8h0m-.5-26h0m7.1 11.6h0m20.1 34.6h0m-33.5-54.6h0m7.4 21.6h0m13.5-1h0m-12 5.3h0m-.5-5.1h0m4.9 25h0m0-19.8h0m-6.7 2.9h0m5.5-9.2h0m-11.6-26.1h0m6.5 12.5h0m.7 9.7h0m.1 16.1h0m-1.2-15.7h0m1 2h0m4.8-2.3h0m-.1 15.7h0m-5.1-6.2h0m-4.9-22.5h0m6 9.4h0m-15.4-15.9h0m12.5 27.4h0m-3.2-15.3h0m4.2-5.5h0m12.6 31.2h0m-10.7-9.1h0m10.7 8.7h0m-21.1-30.3h0m12.6 19.9h0m-13.5 2.8h0m-13.1-39.3h0m32.5 45.3h0m4 5.3h0m-14-13.1h0m6.6 8.4h0m3.3-.7h0m6.7-11.6h0m-4.8 14.2h0m2.5-20.4h0m-8.3 17.5h0m5.4 7.8h0m-11.7-16.4h0m13.3-4.4h0m-7.4 1h0m1.6 .4h0m3.8 15.8h0m-7.9-14.3h0m5.1-1.6h0m-1.2-3.4h0m-4.1 9.7h0m6.7 6.5h0m-2.7 7h0m-13.3-37.2h0m3.3 23.2h0m1.7 2.1h0m-.2-21.3h0m-4.5-3.7h0m6.3 5.6h0m.3 15.4h0m6.3 19.9h0m-3-23.5h0m-2.1-3.2h0m2.4 17.7h0m-3.2-8.9h0m-.1-9.8h0m29.8 59.1h0m-39.7-77.8h0m-.2 1.8h0m1.5 6.8h0m13.2 28h0m-12.5-9.4h0m9.7-11.1h0m-.5 5.3h0m-.3 7.7h0m-3.7-17.1h0m7.3 19.3h0m3.1-13.5h0m-5.4 8.9h0m5.1 7.4h0m-8.8-22.6h0m-2.7-8.9h0m-2-7.3h0m10.1 19.9h0m-1.3 13.6h0m2.6 .6h0m-5.7-13.7h0m1.1 4.3h0m3.3 6.4h0m1.2 3.1h0m-3.2-1.9h0m5.3-6.5h0m-2.1 .3h0m-7.3 4.6h0m8.7 25.9h0m-3.2-46.1h0m5.8 29.5h0m-1.1-3.5h0m-2.5-15.8h0m-2.3 1.3h0m-9.5-5.6h0m1.8-.3h0m11.5 23h0m-2.3-20.6h0m-7.9 10.7h0m5.7-2.4h0m4.8-2.4h0m-.8 .7h0m-2.1 6.1h0m-1.5-19.7h0m-.2 11.6h0m-7.9-16.8h0m7 9.4h0m-4.7-4h0m.8 7.4h0m11.8 25h0m-7.3-17.6h0m8.2 .3h0m-4-14.1h0m-17.7 16.7h0m16.2 3.3h0m-7.1-.1h0m6.6-.5h0m8.9-12.8h0m-9.5 5.2h0m7 19.9h0m-9.7-10.1h0m4.7-10.8h0m-.5 .4h0m29.6 47.5h0m-34.2-36.2h0m9.5 20.5h0m-13.7-38.4h0m.8 16h0m14.3 7.4h0m-10.5-8.6h0m3.8-6.9h0m-5.9-14h0m10.4 31.6h0m-12.6-22.6h0m4.2 4.9h0m-5.7 5.2h0m6.9 5.4h0m-3.8-6.6h0m2.8-7.3h0m4 14.3h0m4.5-8.5h0m.3 13.4h0m-2.5 3.4h0m-3.1-22.4h0m-5.7-5.7h0m5 18.1h0m12.2 16.6h0m-2.3-23h0m-6.2-.1h0m-7.6-13.9h0m8.2 12.3h0m-9.6 3h0m10.6-2.1h0m-10.2-8.1h0m10.9 8.5h0m6.2 19.6h0m-7.4-.6h0m-5.6-31.9h0m5.9 30.4h0m-6.8-6.4h0m-.2-13.5h0m-5.3 7.2h0m8.4-4.7h0m1.8 13.3h0m5.1 2.7h0m-12.7-2h0m1.7-18.5h0m-1.9 .1h0m6.1 9.2h0m-7.5-2.7h0m7.6-6.8h0m-6.9 10.4h0m-12.8-35h0m24.4 29.2h0m-13.5 13.7h0m24.3 17.8h0m-8.2-14.7h0m-10.3-9.3h0m11.2 30.1h0m-16.9-46.4h0m9.4 23.1h0m-3.2-9.1h0m5.2 5.1h0m-7.7-36.2h0m-1.5 20.6h0m2.4-13.3h0m1.2 9.5h0m-.5 9.7h0m2.1 4.1h0m.2-6.5h0m1.3-4.4h0m-4.9-1h0m.7 17.6h0m-4.6 2.5h0m5.5-26.2h0m-7.5-6.4h0m14.4 30.9h0m2.7 6.4h0m-20.1-33.2h0m8.1 18.4h0m3-.9h0m-4.9 .5h0m26.3 35h0m-11.4-37.1h0m-3.6-2.3h0m-17.1-10.8h0m20.1 27.4h0m-9.5-17.3h0m-12.4-14.1h0m13.4 27.5h0m-2.9-14.3h0m-12.9-32.2h0m-2.7 11.3h0m13.1 17.7h0m17.3 1.1h0m-17.7-4.4h0m-2.1-3.6h0m8.8 18.7h0m1.6-6.3h0m-1.7 19.9h0m-5.3-18h0m-24.6-36.1h0m36.2 34.4h0m-4.2 7.5h0m-8.1-17.9h0m6.1 5.8h0m-1 5.6h0m0 5.2h0m7.9-18.8h0m-7.3 7.4h0m-6.4-1.9h0m6.8 22.8h0m1.4-8.3h0m7.5 15h0m-10.6-11.2h0m10.6-18.6h0m-17.5 0h0m11.8 22.7h0m-9.6-9h0m4.2-.4h0m-3.9-1.8h0m-5.7-16.9h0m16.5 9.6h0m-6.4 15.6h0m14.2 14.8h0m-12.8-14.1h0m20.9 24.2h0m-25.1-48.7h0m.6 27.3h0m.2-5.2h0m-9.6-31.3h0m8.8 31.8h0m-6.1-2.5h0m3-5.8h0m6.3-4.3h0m-5.6 7.5h0m12.5 13.3h0m-15.4-29.7h0m3.8 13h0m8.2 6.5h0m-5.3 3.4h0m-9.2-31.5h0m6.2 7.1h0m9.8 4.6h0m3.4 31.5h0m-22-20.2h0m13-9h0m-23.1-31.9h0m33.1 55.8h0m-14.6-17.3h0m-2.6-17.8h0m10.1 23h0m-4.4-13h0m-.7 .9h0m-1.1 7.5h0m-2.1-9.8h0m3.6 16.8h0m2.2-19.1h0m5.9 24.3h0m-8.7-31.8h0m4.4 30.5h0m-5.2-18.5h0m-6.2 9.7h0m2.1-13.6h0m1.6 1h0m16 25.2h0m-2.4-20.3h0m-13.9-5.7h0m8.2 15.4h0m-4.7-10.6h0m-1 8.4h0m-1-9.8h0m-9.1 8.1h0m11.5-16.1h0m-4.4 2h0m3.8 4.2h0m18.5 31.4h0m-19.7-21.1h0m2.8-2.7h0m-2.4 1.7h0m3.8-2.6h0m-1.4-7.6h0m3.4 2.2h0m.9 3.5h0m5.3 16h0m-14.8-32.4h0m11.3 37.8h0m-6.9-11.9h0m5-5.5h0m-10 1.6h0m-4.2-19.2h0m16.6 13.2h0m-4.4-2.2h0m-.9 18h0m5.9 3.9h0m1.6-19.3h0m-6.3 1.1h0m-7.8 13.4h0m2.1-20h0m-5 18.5h0m5.1-18.3h0m11.5 6.4h0m-17.1-13.5h0m10.2 14.1h0m2 8.6h0m-5.5-11.2h0m22.2 32h0m-22.8-31.6h0m1.9 8.7h0m-5.7-1.8h0m8.3 2.2h0m6.1-6h0m6.2 26.4h0m-13.8-34.3h0m3.8 7.7h0m-16.2 6h0m13.4-5.5h0m-8.4-11.1h0m10.3 2h0m2.3-1.6h0m2.4 24.8h0m1.9 1.9h0m-10.2-5.5h0m7.3-20h0m-3.5 8.8h0m2 10.7h0m-9.2-14.6h0m16.9 27.7h0m-15.8-28.4h0m-12.7-26.5h0m18.4 50.6h0m35.4 35.9h0m-53.8-90.1h0m12.4 43.4h0m-14.5-.2h0m14.9-10.7h0m-1.2 20.7h0m12.6 18h0m-4.3-9.4h0m-20.3-47.2h0m7.8 27.9h0m12.9 1h0m5.9 12.2h0m-12.8-29h0m11.5 42.6h0m-15.5-46.9h0m9.6 18.9h0m-9.6 22.8h0m6.8-5.7h0m6.7-10.4h0m-.8-14h0m-6.7-4.9h0m11.2 24.7h0m-7.2-11.7h0m8.8 18.7h0m-9.6-10.6h0m.7 1.2h0m-1.5-8.8h0m2 8.4h0m-15.6-40.4h0m16.9 40.1h0m-10-8.4h0m-9.1-.7h0m19.6-9.7h0m-14.4-18.7h0m6.9 24h0m3.9-22.1h0m-10.4-6.3h0m12.6 36.6h0m-2.2-2.2h0m3.9 2.2h0m-8.4-2.7h0m4.1 9.2h0m-11.4-29.4h0m22.2 30.8h0m-32.8-55.8h0m16.4 40.9h0m-6.8-34.4h0m17.3 55h0m-1.5-23.8h0m11.9 28.3h0m-28.9-26.7h0m8.7-5h0m20.9 38.2h0m-12.2-40.7h0m-13-3.1h0m14 23.9h0m-18.7-12.8h0m14.8-6.6h0m-2.2-6h0m-.1 12.4h0m.3 .4h0m-2.7-14h0m0 19.7h0m-8.1-33h0m-2.9 47.3h0m13.9-25.8h0m-8.8 5.6h0m9.9-9.2h0m10.9 40.3h0m-22.9-27.1h0m24.9 29.1h0m-21.3-15.8h0m-14.5-.9h0m22.9-41.8h0m19.8 53.8h0m-7-1.6h0m-26.6-45.9h0m13.8 36.5h0m18.6 20h0m-16.4-5.6h0m9.7-6h0m13.1 9.1h0m-38.2-21.2h0m.1-37.3h0m14.5 19.7h0m-10.7-14.9h0m-5.5 21.9h0m-10.7-39.8h0m40.1 77h0m-11.6-45h0m-20.6-29.6h0m18.5 40.9h0m-4.6 14.8h0m-4.1-33.1h0m9.5 33.9h0m-1-23.9h0m-11.9-14.2h0m14.9 25.5h0m-19.3-6.3h0m11.8-16.7h0m.9 15.5h0m24.1 32.5h0m-15.2-15.8h0m-12.1-39.3h0m-6.8 4.9h0m18.5 25.1h0m18.4 27.9h0m-40.5-68h0m4.2 2.4h0m12.3 6h0m-10.3 21.9h0m28.3 26.7h0m-25.9-44.4h0m3.3 17.5h0m-.5 5.3h0m-.1-14h0m1.1 12.4h0m-9.8 4.8h0m20.9 12.3h0m-18.9-41.4h0m12.7 9.4h0m1.8-10.7h0m-15.7-1.2h0m-9.8-8.2h0m35.4 50.7h0m-25.7-57h0m12.5 54h0m-.2-30.8h0m-8.8 36.8h0m-5.5-62.9h0m19.4 34.6h0m-6.1 10.8h0m8.7 19.4h0m-1.3-26.8h0m13.6 1.2h0m-33.7-29.4h0m-15.1-6.4h0m10.3 11.6h0m23.8 36.6h0m1.2-14.9h0m-15.9 6.9h0m5.4-10.4h0m13.9 32.4h0m-10.8-26.1h0m-4.5-11.8h0m1.6 21.7h0m7.5-16.6h0m-15.4 15.3h0m-4.6-6h0m13.3-5.8h0m-.8-5.7h0m-12.6-19.7h0m18.2 41.8h0m-8.6-40.1h0m11 18.2h0m-7 5.1h0m7.6 14.2h0m.6 10.3h0m14.9 12.7h0m-21.6-15.2h0m-22.3-15.9h0m29.8-4.4h0m16 38.9h0m-14.2-47.2h0m-33.5-32h0m22.3 48.1h0m8.8-13.2h0m-16.2-16.6h0m1.9 0h0m11.8 56.3h0m-18.1-64.4h0m5 34.9h0m12.2-7.8h0m-4 2h0m-6.1-13h0m24.6 42.1h0m7.9 15.4h0m-30.6-48h0m-.8-15.3h0m.7 32h0m9.8-10.4h0m-9-11.4h0m-4 13.3h0m6.7 0h0m-11.7 4.5h0m27.6-5.6h0m-9.3 8.3h0m-27.8-41.1h0m31.5 31.5h0m-31.2-34.8h0m26.3 34.9h0m-12-11.8h0m8.2 9.3h0m-9.4-21.8h0m10.3 43.3h0m3.5 6.8h0m2.1-15.7h0m-6 5.2h0m1.5 .2h0m9.2 11.6h0m-6.9-28.2h0m6.6 18.2h0m-23.9-38.7h0m18.6 13.9h0m14.8 38.5h0m-14.9-21.4h0m8.1 13.5h0m-6.4-25.5h0m-4.2-1.6h0m-16.8 16.3h0m7.6-3h0m6.1-14.1h0m.7 8.2h0m5.8 23.8h0m-11-24.5h0m19.3 29.5h0m-16.8-33.6h0m4.6-9.1h0m8.2 9.6h0m-.9-2.7h0m-16.3-18h0m-7.7 25.7h0m27.7 16.4h0m-21.1-31h0m18.2 10.7h0m-7.1 20.1h0m25.2 22h0m-19.7-45.8h0m-22.3-34h0m12.2 63.7h0m-1.5-20.1h0m2.9-8.5h0m-10.4-14.1h0m-9.3-18.7h0m10 18.1h0m1.4 .9h0m18.7 12.2h0m13.4 48.2h0m-18.7-47.6h0m-2.5 2.6h0m-13.9-14h0m10.4 8.6h0m-8.5-8h0m6 11.2h0m9.1-3h0m-10.1-6.2h0m1.3 9.1h0m-9.6-14.6h0m10.5 25.8h0m4.8 16.6h0m8.1-3.4h0m10.5 14h0m-16.8-19.4h0m-33.5-54.8h0m33.1 47.5h0m-5-27.4h0m.9 18.2h0m-9 10.3h0m-.3-29.2h0m7.3 38.7h0m16 6.3h0m-16-16.6h0m1.7-8.1h0m-.4-8.7h0m4.6 15h0m-8.7-12.2h0m12.3-18.7h0m-15.3 34.7h0m2.6-17.1h0m-2 17.8h0m-.1-32.3h0m1.5 36h0m2.9-17.6h0m-9.8-21.8h0m-6.8-5.4h0m17.3 18.1h0m.8 .5h0m-5.2 16h0m5.2-6.5h0m.9-21.1h0m24.6 57.5h0m-31.9-57.8h0m6.5 18.6h0m-26.5-34.1h0m36.5 62.7h0m-2.4-28.7h0m2.9 30.5h0m-8.7-22.8h0m-9.4-18.4h0m25.4 14h0m-14-10.7h0m.8 20.2h0m-8.8-3h0m-7.4 3.4h0m7.7-13.9h0m3.4 .3h0m9.5 17.6h0m-18.7-26.4h0m20.9 7.1h0m-23.7-11.5h0m17.4 17.2h0m7.3-9h0m-7.4-2.5h0m-10.8-.9h0m-6.9 17.4h0m3.3-30.7h0" stroke="#1212f2" stroke-width="1.3" stroke-linecap="round" fill="none"/>
<path d="M121.3 247.1h0m-5.5-5h0m33 28.3h0m-3.3 2.6h0m8.1 6.6h0m-33.1-29h0m2.3 1.6h0m12.1 2.6h0m-7.8-3.3h0m-8.8-4.8h0m17.4 11.7h0m-12.9-6.3h0m22.9 13.7h0m-21.3-14.8h0m1.7-.8h0m20.5 23.6h0m-.5-4.6h0m-25.1-25.4h0m16 9.1h0m-17.4-9.9h0m6.8 7.5h0m-20.5-20.7h0m33 30.8h0m-15.6-8.8h0m-2.2-3h0m-8.1-8.6h0m27.6 21.3h0m-27.8-19.3h0m30.4 27.7h0m-3.3-5.8h0m4.7 5.1h0m1-11.9h0m-33.1-19.4h0m3.9 0h0m21.2 16h0m-16-6.2h0m13.7 5.5h0m-2.9 2.3h0m-24.4-14.5h0m1.5-3.9h0m29.4 19.3h0m6.7-2.2h0m-38.3-14.7h0m31.5 14h0m8.7 10.9h0m-5.4 .9h0m-10.1-11.4h0m-26.9-26.3h0m44 43.7h0m-8.5-11.8h0m-14-8.8h0m-10.7-3.9h0m8.7 .9h0m.7 .5h0m27 34.9h0m-4-24.1h0m-46.5-34.4h0m42.2 37.7h0m-25-12h0m-6.8-8.1h0m10.4 7.4h0m19.2 16.5h0m-6.2-6.2h0m-4.7-5h0m4.6 6h0m-23-28.5h0m2.9 19.7h0m33.6 23.4h0m-14.7-20.9h0m-.1-.6h0m-14.4-5.6h0m1.4-3.9h0m29.2 29h0m-38.9-42.4h0m9.2 16.9h0m-2.4-8.6h0m21.5 22.3h0m-34.3-37.1h0m41.7 47.3h0m-38.4-36h0m25.6 19.5h0m2.9 4.2h0m-19.6-12.8h0m19.7 16.5h0m.2-6.3h0m16.8 22.7h0m-41.8-45.2h0m10.1 10.8h0m-6.6-6.5h0m4.7 12.2h0m-14-20.5h0m23.1 22h0m14.3 17.1h0m-11-12.9h0m-12.5-8.5h0m25.4 14.9h0m-26.2-14.6h0m26.4 9.4h0m-15-2.9h0m-10.5-4.8h0m14.9 10.2h0m-25.7-12.4h0m3.2-11h0m-3.9-8.2h0m20.7 23.6h0m9.3 13.1h0m-11.2-13.2h0m27.7 28.3h0m-35-37.2h0m19.1 20.6h0m-22.6-23.2h0m19.6 15.3h0m-14.9-5.1h0m30.8 22.4h0m-35.1-29.9h0m0 2.3h0m20.4 10.5h0m7.9 14.1h0m-29.6-25h0m.6-3.2h0m-2.3 7.3h0m28.1 18.9h0m-28.8-25.4h0m9.7 7.5h0m-3.9-7.7h0m-11-10.3h0m9.2 17.3h0m25.1 9.8h0m-18.7-9.5h0m12 6.7h0m-19.3-11.7h0m39 21.8h0m-38.8-18.5h0m43.2 38.6h0m-14.3-23.4h0m-21.2-11.4h0m-8.2-5.6h0m15.5 6.4h0m10.2 11.6h0m-23.7-24.9h0m-1.7-1.9h0m17.9 17.8h0m6.2 3.3h0m-17.7-9.8h0m-11.9-7.1h0m38.9 37.4h0m-1.3-4.2h0m-52.7-55.9h0m21.6 29.9h0m8.4 2.3h0m-.1-.3h0m2.6 1.3h0m-12.9-6.8h0m16.8 10.1h0m-14.6-16.4h0m24.8 20.1h0m-5-3.4h0m6.9 11h0m-10.4-8.9h0m-7.4-6.9h0m15.1 16.4h0m-29.6-26.4h0m4 5.4h0m-6.5-12.7h0m27.3 19.8h0m-32.8-18.5h0m13.4 7.8h0m22.2 17.4h0m-32.5-27.1h0m34.9 24.3h0m-35-18.6h0m24.7 16h0m-21.6-24.1h0m39.5 30.6h0m-44.3-37.7h0m15.7 22.9h0m-3.5-3.1h0m3.3 5.2h0m-9.5-13h0m22.3 18.4h0m-8.6-3.7h0m13.5 11.4h0m-41.5-34.5h0m36.1 29.7h0m-17-18.5h0m25.1 14h0m-5.9 .7h0m-28.2-17.8h0m47.1 36h0m-15.6-5.9h0m2.5-1.4h0m-27.9-20.2h0m5.1 4.4h0m25.8 9.7h0m4.3-1.8h0m-39.1-19.5h0m7.5 2.4h0m25.7 22.7h0m-4.7-7.5h0m-30-9.6h0m6.2-5.1h0m24.3 19.3h0m3.9 4.2h0m-3.3 2.5h0m-8.4-10.4h0m-13.3-8.7h0m-6.7-7.2h0m8.7 10.1h0m.1-7h0m14.1 16h0m-14.4-13.2h0m26.7 23.1h0m7.2 3.2h0m-38.4-35h0m5 5.3h0m2.8 8h0m27.8 26.5h0m-29-30.3h0m10.9 7.2h0m-15.2-12.3h0m16.8 13h0m-10.6-2.7h0m16.8 9.3h0m-21.8-13.3h0m23.8 9.3h0m.5 13.1h0m-23.9-29.1h0m26.2 19.9h0m-38.9-17.5h0m25.9 13.9h0m22.7 29.8h0m-40.1-43.3h0m5.1 5.8h0m-6.6-4.4h0m13.3 6.7h0m8.1 2.8h0m-25.4-15.1h0m33.2 29.7h0m-34.3-32.7h0m10.8 8.8h0m2.5-.5h0m16.7 11h0m5.4 6.7h0m-17.1-12h0m-7.1-8.6h0m24.2 22h0m-30-21.9h0m29.7 20.4h0m.3 .8h0m-5.8-.7h0m-43.3-45.5h0m64.9 72.4h0m-25-33.6h0m2.6-2.9h0m-47.3-39.9h0m15 16.6h0m19.4 22.6h0m12.1 7.9h0m-10.5-8.2h0m-6.7-1h0m-2.7-7.3h0m-3.4-3.6h0m29 19.3h0m-6.9-3.6h0m-18-8h0m-.9-9.2h0m38.3 46.8h0m-35.2-41.4h0m16.2 9.7h0m-24.4-22.2h0m12.7 20.2h0m9.9 7h0m-15.6-15.7h0m-.9 6.3h0m-2.9-6.3h0m25.8 9.8h0m-20.4-5h0m14.7 10.6h0m-20.2-10.5h0m5.8-2.1h0m25.2 25.1h0m1.7-8h0m-29.5-23.5h0m25.2 20.9h0m6.9 12.6h0m-45.9-40.8h0m12.4 17.4h0m29.9 20.9h0m-29.8-19h0m-13-27.8h0m34.2 39.8h0m-15.4-12.1h0m-15.6-22h0m8.2 9h0m24.2 17.7h0m-20.7-9.6h0m21.9 16.5h0m-24.9-11.5h0m42.5 36.8h0m-27.2-33.6h0m-9.5-4.3h0m19.9 14.6h0m1.4 2.9h0m-39.7-32.2h0m35.9 28.6h0m3-1.4h0m6.3 1.8h0m-14.3-11.1h0m-2.5-.2h0m14.8 5.2h0m-7 3.1h0m1.4 5.8h0m-21.3-25.9h0m27.3 28.2h0m-30.8-32.3h0m.2 4.4h0m6.9 5.3h0m-3.6-3.3h0m16.9 17.2h0m-3.3-3.6h0m-15.5-10.6h0m4.3 .9h0m22.4 11.5h0m-20.9-8.2h0m12.4 4.4h0m4.3 6.5h0m1.3-2.8h0m-25.1-10.4h0m-7-17.8h0m45.7 50.8h0m-27-30h0m7.4 4.9h0m-15.2-9.4h0m-.4 1.3h0m19.5 14.9h0m-13-14.5h0m10.4 12.6h0m-13.5-13.1h0m16.9 14.1h0m1.3-1.6h0m2.1-2.1h0m-29-20.3h0m29.1 14.8h0m-36.3-25.6h0m33.9 35h0m-4.9-9.6h0m-11.7-4.9h0m-5.2-7.2h0m-10.8 5.5h0m5.5-12.3h0m8.7 10.4h0m8.9 10.6h0m-9.1-5.7h0m21.3 11.1h0m-29.7-13h0m9.4 4.1h0m-3.8 .6h0m26.5 19.5h0m-2.9-7.8h0m-30.1-18.9h0m19.5 9.6h0m-9.5-8.7h0m-1.7-.9h0m-6.6-9h0m1.4 3.2h0m23.2 19.8h0m-22.9-19.7h0m31.5 32.5h0m-26.9-24.9h0m27.3 20h0m-23.4-18.9h0m-5.8-3.9h0m.8 5.4h0m1.8-.9h0m4.2 .8h0m-6.2-4.4h0m12.1 10h0m-15.3-4.7h0m-5.7-18.2h0m32.2 29.2h0m-36.9-26.7h0m30.7 23.7h0m-17.8-12.4h0m12.3 9.6h0m-17-5.5h0m27.2 16.9h0m5.4 3.6h0m-22.3-20.3h0m17.1 6.7h0m2.1 8.2h0m-24.5-22.3h0m5.5 7.4h0m12.2 10.3h0m-1.8-2.4h0m3.5-2.7h0m-20-3h0m28 13.2h0m-23.7-17.2h0m26.9 25.3h0m-35.7-32.4h0m-1.8-5.9h0m-9.6-6.7h0m18.7 23.8h0m13.9 3.1h0m-15.1-8.3h0m.9-4.2h0m18.7 13.4h0m-23.3-10.1h0m-19.8-18.4h0m19.6 24.4h0m.6-6.1h0m25.6 10.8h0m-26-19.4h0m-11.6-12.2h0m35.6 39.8h0m-22.7-26.2h0m-3.3-3.4h0m24.8 26.9h0m19.4 20.7h0m-49.7-51.1h0m-1.1 9.3h0m29.1 19.7h0m19.5 18.3h0m-44-38h0m28.2 20.2h0m-22.6-22h0m-1.4 10.7h0m6.2-5h0m-9.5-10.2h0m30.8 22.7h0m-2.5 6.3h0m-19.3-14h0m8.7 2.8h0m2.3 2.7h0m-16.9-11.8h0m20.6 15h0m-.6-2.4h0m.8-1.7h0m-25.5-9.8h0m31.4 14.5h0m-28.4-11.2h0m29.8 4.3h0m-45.4-22.4h0m9.2 7.4h0m11.1 5.1h0m3.7 3.3h0m-5.9-1.8h0m2 3.1h0m-6.7-3.3h0m28.2 22.2h0m-20.5-24.6h0m3.1 5.8h0m8.2 5.2h0m-9.3-4.2h0m1.5-.9h0m-3.7-.3h0m-11.2-9.3h0m36.3 30.2h0m-39.9-32.6h0m26.9 21.1h0m6.4 1.8h0m-29.1-18.5h0m11.2 12h0m20.3 8.6h0m1.3-.2h0m.1 1.6h0m-22.2-15.3h0m-2.5-.3h0m44.8 32.9h0m-24.8-21.8h0m-22.2-17h0m26.6 27.5h0m-25.3-28.7h0m4.7 9.2h0m3 3.6h0m-.3-2.8h0m-9.4-7.4h0m27.6 23.4h0m-1.5-5.6h0m-7.7-1.5h0m-19.8-12.2h0m31.6 21.9h0m-37.2-37.7h0m24.7 23.8h0m-23.5-20.8h0m17.8 17.4h0m-4.3-.4h0m2 2.2h0m28.7 26.6h0m-17.9-21h0m-.3 1h0m-13.7-13h0m-6.6-5.7h0m17.2 13h0m7.6 2.2h0m-19.7-5h0m30.3 18.1h0m-31.6-28h0m-6.9 6.6h0m27.1 7.7h0m-18.1-7.3h0m13.2 8.6h0m16.8 16.4h0m-15.4-18.8h0m2.2 8.5h0m-2.5-4h0m13.5 2.2h0m-5.7 5.9h0m-22.6-19.6h0m16.3 13.8h0m5.3 5h0m-.6-3.6h0m-32.5-22.6h0m14.3 9.4h0m6.8 4.5h0m-5.6-4.1h0m-28.4-17.3h0m43.8 34.4h0m-2.7-4.3h0m6.2 .8h0m-1.5 5.8h0m2.5-12.8h0m1.5 7.8h0m-23.7-19.7h0m1.1 3.9h0m-9.7-9.8h0m2.7 6h0m3.9 6.1h0m-6-10.2h0m-4.8-3h0m24 19.2h0m2.4 4h0m5.8-1.2h0m-1-2.1h0m-18.6-9.4h0m-21.8-14.1h0m30 19.6h0m20.7 21.3h0m-26.6-26.7h0m7.9 6.6h0m-36.5-41.9h0m22.7 33.5h0m2.3-3.5h0m13.2 12.1h0m-11.7-6.3h0m10.4 6.8h0m6.1-1.3h0m-20.3-8.1h0m5.6 2.8h0m.9 3.9h0m32.6 28.8h0m-17.3-18.8h0m-17.9-14.5h0m20.5 17.1h0m-21.5-18.6h0m14.5 12.6h0m-16.5-9.6h0m29.7 9h0m-31.2-20.4h0m19.2 18.2h0m-17.1-9.7h0m-1.6 2.9h0m22.2 14.6h0m-23.8-16.6h0m6.5-.5h0m11.1 11.4h0m-16.6-12.1h0m22.8 8.1h0m-27.6-16.8h0m-1.8-4.9h0m34.8 37.9h0m-6.6-13h0m-.4-3.1h0m-18.6-9.3h0m28.9 23.2h0m-29.7-18.5h0m-2.4-12.5h0m8 11.5h0m-13.8-17.9h0m20 23.1h0m-7.6-6.7h0m-9.9 .9h0m24.8 6.2h0m3 10.5h0m-38.3-31.2h0m40.1 28.3h0m-19.6-15h0m17.9 13.8h0m2.7-.1h0m-24.2-11.7h0m4.2-1.4h0m10.7 12.1h0m-17.8-9.8h0m44.3 33.2h0m-4.2-4.1h0m4.8 6.2h0m-19.8-23.1h0m2.7-3.8h0m1.5 7.5h0m-1.6 .1h0m-5.5-3.5h0m-24.3-20.9h0m-13.4-19.5h0m36.2 38.8h0m5.9 3.6h0m-4.2 0h0m-.3 1.1h0m5.9-2.6h0m-3.7-2.9h0m-17.7-7.4h0m16.3 1.2h0m-19-2h0m-.7 .8h0m19.8 14.2h0m5.9 7.3h0m-24.4-26.8h0m-8-9h0m10.5 14.2h0m14.6 12.1h0m-30.7-15.6h0m0-21.1h0m12.4 20.5h0m36.1 31.8h0m-16.9-18.6h0m-52.6-57.4h0m30.9 38.3h0m22.5 17.8h0m-24.9-9h0m39.5 26.3h0m-35.6-29.4h0m-7.3-2.7h0m36.1 25.2h0m-27.5-21.5h0m-5.8-13.5h0m33.7 41.1h0m-7.5-17.4h0m1.6-2.2h0m-5.8 .4h0m1.3-.2h0m-17.6-7.2h0m14.5 7h0m6.8 11.8h0m2.3-.6h0m-19-18.7h0m-2.7-2.5h0m3.1 3.4h0m17.3 10.5h0m-.8 1.3h0m-3 0h0m4.8-9.2h0m-9.2 5.6h0m-17.2-17.4h0m-6.7-8.7h0m8.3 17.2h0m6.6 1.4h0m12 1.7h0m1.5 2.8h0m.2 9h0m10.2-4.8h0m-26.1-14.2h0m13.6 12.1h0m-29.4-30.2h0m3.3 12.6h0m11.5 12.3h0m10.2 3.9h0m-11.3-8.4h0m17.3 16.7h0m-13.4-15.1h0m-7.2-8.4h0m-3.5 1.6h0m-1.4-4.5h0m23.4 22.2h0m-21.2-8h0m9.2-.8h0m18.4 7.7h0m-8.5-4.1h0m-12.4-10.3h0m22.3 14.4h0m2.5-4.6h0m-30.8-15.8h0m-11.6-15.4h0m9.6 26.9h0m29.6 3.2h0m-30.9-15.2h0m23.1 16.9h0m-21.5-9.1h0m18.8 7.3h0m8.6 3.3h0m3.7 8.8h0m-7.1-1.9h0m2.1-7.8h0m-17.4-8.6h0m-6-3.8h0m25.4 19.2h0m-6.1-6.7h0m7.1 11.4h0m-21.6-19h0m.7-3.5h0m-15.6-11.7h0m33 28.3h0m8 7.2h0m-28.9-20.7h0m9.3 4h0m18.6 13h0m-10.5-8.1h0m-23.8-16.5h0m3.9-2.1h0m4.2 3.6h0m14.4 15h0m-24.5-23.5h0m3.1 12.2h0m48.6 48.3h0m-32.3-40.2h0m2.9 4h0m-19.9-11.4h0m4.4-.1h0m29 21.2h0m-10.8-6.3h0m10.3 12h0m-28-28.7h0m4 .7h0m-6.8 1.5h0m3-2h0m1.2-3.8h0m2.8 3.1h0m-6.3 .2h0m35 36.7h0m-39.9-41.3h0m10.7 6.1h0m20 7.5h0m-26.8-8.3h0m32.5 20.5h0m-25.2-17.1h0m-12.2-17.5h0m20.9 23.6h0m20.2 20.5h0m.8-2h0m6.1 12.3h0m-33.9-38.6h0m19.7 13h0m-40-31.1h0m29.3 26.7h0m-8.7-5.3h0m-6.9-7.4h0m.2 6.4h0m-23.6-37.6h0m29.5 39.1h0m19.9 14.2h0m-21.2-11.9h0m-5.9-10.7h0m18.1 15.4h0m4.6 1.1h0m1.7-.3h0m-16.9-10.1h0m1.8 2.6h0m-12.1-15.1h0m-14.4-19.4h0m37.5 40h0m1.1 7.1h0m-23-19.5h0m1.1-5.2h0m18.7 17h0m-9.9-5.5h0m36.9 41.1h0m-16.5-31.7h0m-1.6-.3h0m-17.5-7.7h0m-4.6-2.8h0m25.6 25.2h0m-36.1-30.4h0m22.5 10h0m-15.5-7.9h0m3.4 5.7h0m11 4.9h0m-12.8-3.8h0m26.5 20.2h0m-32.8-38.6h0m5.9 11.8h0m33.8 28.2h0m-30.9-25.8h0m16.1 9.7h0m-14.1-7.2h0m-5.2-.6h0m-8.3-18.1h0m29.1 30.8h0m-23.9-18.8h0m-2.7-11.9h0m22.9 23.9h0m.9 1.9h0m13.8 18.5h0m-32.3-32.9h0m19.4 15.8h0m-13.8-9.4h0m-27.2-22.4h0m39.8 33h0m-23.3-25.7h0m22.8 18.3h0m-15.2-3.7h0m22.5 9.8h0m-40.6-39.9h0m22.2 32.5h0m15.5 11.6h0m-5.7-6.6h0m9.9 6.9h0m-22.9-10.9h0m18.3 13.3h0m21.6 24.6h0m-42.7-49.3h0m41.3 41.2h0m-49.4-32.2h0m-9.2-28.9h0m42.4 40h0m-30.9-24.1h0m5.3 3.2h0m-10.4-10.9h0m2.2 3.8h0m-2 13.1h0m10.4-.8h0m21.2 13.6h0m-3 2.3h0m-1.9-7.1h0m.1 1.9h0m-6.3-4h0m-6.4-5.5h0m-21.6-17.6h0m36.8 24.8h0m-24.3-18.6h0m6.1 7.6h0m-1.7 1.6h0m18.8 12.4h0m-11.6-7.9h0m-24.3-16.8h0m14.3 11.3h0m11.6 7.2h0m-7.6-3.8h0m12.3 7.4h0m2.5 3.5h0m14.8 17.9h0m-26.2-29.2h0m-3.9 3.2h0m16.9 5.3h0m-12.4-10.3h0m-3.2-4.3h0m5.3 11.9h0m14.7 11.6h0m-25.3-17.1h0m7.8-.9h0m-8.8-9.9h0m23.3 17.9h0m17.8 20.6h0m-41.2-30.7h0m1.7 4.2h0m32.5 18.2h0m-33.8-24.8h0m20.3 12.8h0m2.5 1.2h0m11.5 15.1h0m-8.4-11.5h0m1.8 7.8h0m8.7-3.9h0m-36.5-21.1h0m24.1 19.1h0m-27.8-28.4h0m22.7 24.1h0m-31.6-26.7h0m9 17.2h0m1-17.2h0m-2 13.7h0m26.3 11.1h0m18 20.1h0m-5.1-4.8h0m-.1 4.4h0m-11.2-12.1h0m8.9 2.5h0m-9.2-3.5h0m11.4 6.6h0m-42.4-40.9h0m31.1 34.8h0m-16.2-16.7h0m15.5 11.2h0m-13.4-6.1h0m31.5 23.6h0m-26.7-22.3h0m-18.8-21h0m39.9 43.2h0m-26.9-29.6h0m3.1 6.5h0m10.4 5.8h0m-16.8-11.2h0m20.1 13.8h0m-22.8-9.9h0m5.1-6.1h0m24.8 21h0m-1.4 .6h0m-39-38.5h0m6.5 8.4h0m20.6 21.9h0m8.8-1.2h0m-14.9-4.4h0m21 16.5h0m-4.4 .8h0m-16.7-18.4h0m16.8 18h0m-29.1-29.9h0m-2.3-7.7h0m45.3 35.3h0m-50.1-33.5h0m4.3 .5h0m31.9 27.7h0m.5 4.6h0m-24.8-22.9h0m22.6 19h0m-10-6h0m-19.6-6.5h0m36.8 15.9h0m3.5 5.9h0m-57.5-53.8h0m23 21.9h0m17.3 15.5h0m6.1 4.8h0m-18.1-10.9h0m-13.7-7.2h0m18.9 11.4h0m13.8 3h0m-18-3.9h0m1.1 .8h0m17.4 2.5h0m-5.9 1.2h0m-20.6-15.6h0m29.4 26.4h0m3.5 3.7h0m-24.4-21.5h0m18.3 21.1h0m8.4 4h0m-30.6-27.6h0m-16.2-25.7h0m21.9 32.2h0m.2-1.3h0m-14.4-1.8h0m27.3 11.5h0m-41.1-37.9h0m35.4 34.4h0m11.1 11.7h0m-11.2-15h0m-12.2-2.1h0m18.2 7.6h0m-5.5-3.9h0m-24.6-28.9h0m12.1 18.3h0m20.7 14.1h0m-4.6-2.9h0m-16.1-3.9h0m-2.2-.4h0m-6.9-11.1h0m37.5 29h0m-35.6-27.4h0m5.4-1.5h0m-3.4 10.1h0m18.4 2h0m-30.8-27h0m16.6 23.3h0m21.3 17.8h0m-18.1-20.8h0m10.4 10.4h0m8.9 3.8h0m-2.9 .1h0m-4-.6h0m9.4 8.3h0m-34.1-34.2h0m29.4 25.5h0m8 13.9h0m-10.1-14.5h0m3.7 2.9h0m-22.2-10h0m23.7 16.1h0m-26.7-27.6h0m24.3 13.7h0m-22.5-9.5h0m35.4 37.6h0m-34.5-39.9h0m1.8 8.5h0m3.4 1.5h0m1.2-2.4h0m-11.1-3.9h0m25.5 20.4h0m13.7 4.9h0m-13.7-6.3h0m-25.8-14.9h0m24.3 15h0m-23.1-27.5h0m17.8 16.8h0m12.5-1.5h0m-10.7 1.3h0m12.5 20.8h0m-27-30.3h0m5.5 5.7h0m34 18.4h0m-41.1-17.9h0m27.7 19.4h0m-22.6-21h0m3.5 2.4h0m8.4 6.1h0m-4.1-4.5h0m-10.8-9.2h0m3.2 3.6h0m16.3 19.4h0m-13.8-17.2h0m8.4 3.5h0m-3.6-.6h0m10.8 2.5h0m-21.8-8.3h0m-8.5-9.7h0m30.7 30.3h0m2.2 1.4h0m8.7 9.8h0m-37.1-33.9h0m22.3 15.3h0m2.5-6h0m-17.4-5.3h0m23.1 27h0m-34.8-35h0m33.6 33.5h0m-28.9-35.5h0m2.7 1.7h0m-.8 6.3h0m-4 .3h0m38.7 16.9h0m-26.2-13h0m12.1 12.2h0m6.3-7.5h0m-5.9 6.8h0m-1.5-4.5h0m-3.2-2.1h0m-15.2-11.7h0m17.6 13.4h0m-2.3 2.3h0m-13.3-9.6h0m0 1.8h0m25.6 8.6h0m-8.9-6.4h0m10.5 6.4h0m-27.6-8.6h0m-6.2-6.3h0m22.3 14.5h0m-1-3.5h0m10.9 12.6h0m-43.3-41.9h0m3.8 11.6h0m1.9 1.4h0m.6-7.3h0m-6.1-.5h0m13.2 15.3h0m18.5 7.9h0m-10.1-7.1h0m-21-4.7h0m19.7 5.9h0m8.7 7.3h0m6.1-.9h0m-4.9-1.4h0m1 4.1h0m-.2 1.1h0m-28.2-20.4h0m11.4 6.6h0m45.3 40.8h0m-6.9-8h0m-37.2-35.2h0m27 30.3h0m-11.4-16.9h0m-32.6-24.3h0m9.9-.5h0m39.1 43.6h0m-33.7-36.2h0m17.3 16.9h0m-3-2.7h0m14 10.5h0m-1.8 4h0m-4.4-6.1h0m-3.9-5.2h0m-26.1-28.7h0m23.1 28.8h0m-13.7-7.5h0m-2.7-4.8h0m25 20.3h0m-17.3-16.4h0m-14.6-14.3h0m11.2 8.9h0m-4.1-1.8h0m30.2 25.1h0m-6.9-9.8h0m-23.6-9.5h0m-7.5-9.6h0m1.8 1.5h0m28.7 15.4h0m22.6 30.6h0m-35.3-34.2h0m-12.9-13.3h0m6.7 8.2h0m14.4 8.2h0m-20.5-11h0m25.9 20.8h0m-5.4-9.1h0m-2.8 .4h0m-.8-2.5h0m7.4 2.3h0m-20.4-8.4h0m10.6 5.4h0m9.1 9.5h0m-1.2-6.8h0m-13.1-3.5h0m22.6 18.7h0m-29.2-25.3h0m1.6 1.3h0m14.5 7.1h0m-18.3-8.6h0m4.1 4.7h0m13.2 3.5h0m-.6 2.7h0m3.6-2.9h0m-16.9-3.1h0m8.9 2h0m1.8 1.3h0m14.5 13.1h0m-9.3-7.9h0m4.7-2.8h0m-26-14.8h0m-4.2-1.5h0m-4.9-13.2h0m37.2 31.1h0m-19.4-7.1h0m1.3-2h0m-5.9-4.9h0m4.7 3h0m1.5 .1h0m-9.4 1.2h0m18 6.9h0m22.5 7.9h0m-30.4-12.5h0m-18.6-25.3h0m29.4 31.5h0m-9.6-7.1h0m-3.7-2.7h0m.9 .6h0m17.7 18.4h0m3.5-6.9h0m-24.8-16.1h0m23.4 15.7h0m-11-4.6h0m-21.7-23.1h0m30.1 35.5h0m3.2-.1h0m-20.7-15.7h0m17.5 7h0m-18.9-8.8h0m-5.4-6.8h0m7.8 9.3h0m22.6 16.7h0m-27.1-20.7h0m14 6.1h0m-18.8-15.1h0m26.4 27.5h0m-14.2-13.8h0m3.8 2.6h0m26.1 23.2h0m-43.7-37.9h0m11.8 8.1h0m25.1 27.2h0m-33-22.4h0m15.1 3h0m-22.8-18.6h0m30.4 18.6h0m-19.4-12.6h0m-5.7 5.3h0m3.4-.9h0m-3.3-.4h0m51.6 52.4h0m-6-14.8h0m-37.5-38.4h0m18.2 18.1h0m-1-2.9h0m2.8-.8h0m-8-2.2h0m3.7 3.7h0m-15.8-14.6h0m-4.9-2.2h0m3.2-.5h0m25.3 9.6h0m-7.2 7.1h0m1.1 4.9h0m-20.4-17.8h0m3.8 2.7h0m11.4 2.3h0m-20.5-18.5h0m21.8 19.8h0m-24.2-20h0m7.6 8.9h0m34 33.2h0m-31.9-31.2h0m18 16.2h0m-21.8-13.4h0m-4.9-7.4h0m10 5.4h0m-15-21h0m8.9 22.3h0m32.9 18.5h0m-29.6-15.4h0m10.9 3.2h0m7.3 10.1h0m-2.6-8.6h0m-10.3-4.5h0m9 6.4h0m-6.1-4.8h0m24.1 17.9h0m-26.7-19.3h0m-6.8-3.8h0m2.4-1.1h0m20.8 19.6h0m3.5 8.2h0m-30.9-31h0m24.9 22.6h0m-4.2-8.5h0m-15.9-14.5h0m-27.3-10.5h0m55.7 41.2h0m-7.5-8.8h0m-2.5-4.7h0m1.9-.3h0m-38.3-39.3h0m11.4 19.1h0m-19.5-18.6h0m16.1 8.3h0m39.3 48.6h0m-3.1-14.2h0m-26.8-18.1h0m15.5 8.6h0m.3 .8h0m7.4 11.1h0m-2.3-12.3h0m-3.4 7.6h0m7.9 6.6h0m-3.8-8h0m-2 2.2h0m-.7 .6h0m-20.1-11.8h0m-11.9-20.7h0m13.4 17h0m6.3 3.7h0m11.3 9.1h0m3.8 2.5h0m8.6 .7h0m-24.5-10.5h0m-20.4-17h0m31.8 20.5h0m-25.3-15.6h0m-3.7-12.1h0m17.3 23.8h0m-11.8-14.3h0m22.8 16.7h0m7.1 13.5h0m1-5.8h0m-5.8-.6h0m1.1-5.8h0m-21.9-8h0m21.2 15.2h0m-5.6-8.4h0m7.9 10.9h0m1.7 2.5h0m-2.9-13.2h0m22.6 32h0m-53.1-47.8h0m32.5 25.2h0m-20.7-19.3h0m23.9 15.4h0m-7.4-5.8h0m-2 3h0m-12.5-11.1h0m-14.5-16.7h0m15.5 19.6h0m.4-3.3h0m21.1 14.1h0m-26.5-12h0m16.4 5.3h0m-18-11.4h0m22.6 14.3h0m-.3 .1h0m-20.6-15.6h0m-5.4-2.6h0m26.2 17.1h0m-28.2-12.4h0m30.2 18.4h0m19.8 23.6h0m-56-51.6h0m34.8 25.2h0m17 29.3h0m-35.8-39.9h0m23.1 21.2h0m-2-5h0m15.5 13h0m-15.5-19.6h0m-18.3-7.4h0m-13.4-3h0m43.4 27.4h0m-30.6-24.8h0m-16.4-18.3h0m2.7 .7h0m41.3 25.6h0m-8.2 12.6h0m-25.5-23.1h0m48.5 41.4h0m-33.4-32.2h0m1.2 1h0m1-1.7h0m15.6 5.6h0m-28-10h0m-4.9-8h0m-7.7-9.2h0m-2.4-9.7h0m30.6 33h0m8.9 15.5h0m-21.1-21.2h0m-18.6-12.5h0m5.9 4.2h0m28.9 16.9h0m-3.8 1.2h0m-26.6-16.6h0m-.7 .4h0m11.8 3.8h0m18.8 10h0m5.1 10h0m-63.8-75.1h0m62.2 77.2h0m-27.5-27h0m4 7.8h0m-12.6-13.4h0m11.3 12.1h0m-13.6-4.1h0m7.7-9.3h0m-2.8-4.5h0m-6.9 11.6h0m31.4 11h0m-13.2-4.3h0m14.8 4.2h0m7.1 13.9h0m15.9 4.3h0m-17.2-14.1h0m5.3 2.1h0m3.6 16.8h0m-2.4-6.9h0m20.7 15h0m-41.6-33.7h0m-10-4.6h0m-6.6-10.8h0m23.1 22.2h0m25.2 30.2h0m-39.9-46.8h0m13.7 10.5h0m-14.7-11.9h0m.2 4.9h0m32.7 29h0m-60.1-48h0m45.4 29.7h0m16.5 17.1h0m-12-14.3h0m2.7 3.5h0m-70-58.5h0m37.2 44.1h0m-25.9-35.7h0m73.7 71.3h0m-43.7-41.4h0m24.5 19h0m1.6 1.2h0m1.4 5.6h0m17-4h0m-15.1 3.4h0m-8.7-9.5h0m31.9 22.5h0m-62.2-47.4h0m40.1 41h0m-11.7-19.3h0m16.6 11.1h0m6.8-2h0m-39.6-14.7h0m-5.1-10h0m19.9 15.7h0m22.6 19.1h0m-19-18.3h0m-40.5-24.8h0m16.3 15.4h0m30.7 8.2h0m-22.1-4.9h0m-14-4.6h0m45.2 25.9h0m-14.1-16.6h0m-37.6-25.6h0m19.3 20.1h0m34.6 15.8h0m-8.8 2.2h0m-1.2-7.3h0m-2.8 1.9h0m6.1-8h0m-43.5-29.9h0m41.1 34.4h0m-33.7-24.7h0m-6.2-11.2h0m4.1 23.5h0m-1.5-9.4h0m46.2 39.8h0m-44.8-35.1h0m4.6 2.1h0m7.4 7h0m25 15.5h0m-8.7-7.1h0m6.9-3.7h0m4.8 3h0m-.5 .6h0m-13.4 2.7h0m-21.4-22h0m7.7 6.4h0m-10.6-11.1h0m-.6-1.5h0m42.1 34.4h0m4.3-4.5h0m-5.9 9.9h0m-8.8-13.2h0m13.8 26.7h0m-36-38.7h0m34.3 31.4h0m-48.1-44.8h0m35.3 19.5h0m-51-37.3h0m16.9 25h0m43.7 28h0m-8.1-12.7h0m-26.8-18.9h0m30.3 36.2h0m-.4-10.4h0m-31.4-28.8h0m4.8 16h0m22.3 15.5h0m-37.6-34.5h0m14.1 16.1h0m17.4 12.1h0m-15.6-15.1h0m-22.4-13.7h0m57.4 50.7h0m-41.1-35.7h0m10.3 2h0m23.7 21.1h0m-42.5-33.9h0m46.8 30.1h0m-48.9-28h0m7.9 .5h0m2.7 3.2h0m-7.7 5.8h0m2.5-3.5h0m-6.6 .5h0m6.6-11.1h0m36.6 31.4h0m-9-4.8h0m-18.9-9.5h0m-3.2-10.4h0m32.9 26.3h0m34.4 39.5h0m-78.4-85.2h0m20.2 27.7h0m-2.7 3.6h0m13.1 3.3h0m-7.2-4.2h0m-21.8-19h0m-7.3-17.1h0m15 36.4h0m-7.9-10.7h0m9.7 9.2h0m34.2 20.9h0m-41.7-44.3h0m6 7.7h0m29.9 20.3h0" stroke="#f51a1a" stroke-width="1.3" stroke-linecap="round" fill="none"/>
<path d="M153.1 282.8h0m6.9 8.6h0m-26.3-32.6h0m6.4 7.8h0m11.7 14.6h0m-19.9-24.6h0m.9 1h0m26.5 32.9h0m7.2 8.9h0m-28.3-35.1h0m17.8 22h0m-27.2-33.6h0m7.4 9.1h0m23.3 29h0m-26.1-32.4h0m25.8 31.9h0m-5.4-6.6h0m-5.7-7.1h0m2.8 3.5h0m-6.5-8h0m6.7 8.2h0m-18.8-23.3h0m15.4 19.1h0m-6.7-8.2h0m-1.6-2.1h0m-8.1-10h0m10.8 13.4h0m15.1 18.7h0m6 7.5h0m-3.7-4.7h0m-9.2-11.3h0m11.2 13.9h0m.5 .6h0m-9.3-11.6h0m-13-16.2h0m.3 .4h0m21.2 26.4h0m-27.1-33.6h0m29.6 36.7h0m-16.2-20.1h0m2.6 3.2h0m13.6 16.9h0m-5.3-6.6h0m-14.7-18.3h0m14.5 18h0m-1.1-1.3h0m9.2 11.4h0m-12.7-15.8h0m-3.9-4.8h0m-13.8-17.1h0m31.4 38.9h0m-9.9-12.2h0m-19.3-24h0m16.2 20.1h0m-9.3-11.6h0m.1 .1h0m-5.6-6.8h0m-5.6-7h0m18 22.3h0m14.4 17.8h0m-36.3-45h0m11.4 14.2h0m14.3 17.7h0m-17.7-21.9h0m9.5 11.8h0m15 18.6h0m-26.1-32.4h0m2.5 3.1h0m11.3 14h0m-10.3-12.8h0m4 5h0m1.1 1.3h0m-11.5-14.1h0m23.7 29.3h0m-28.5-35.4h0m34.2 42.5h0m-32.8-40.7h0m21.1 26.2h0m-7.8-9.7h0m23.4 29h0m-27.4-34h0m23.6 29.3h0m-33.3-41.3h0m28.8 35.7h0m-26-32.3h0m4.7 5.8h0m12.3 15.4h0m-17-21.2h0m19.1 23.8h0m3 3.6h0m-4.2-5.1h0m11.1 13.7h0m-5.4-6.7h0m-27.1-33.6h0m38.2 47.4h0m-6.2-7.7h0m2 2.5h0m-31.2-38.7h0m-.8-1h0m15.5 19.2h0m-2.2-2.7h0m19.5 24.2h0m-28.2-35h0m31.4 38.9h0m-3.5-4.3h0m-30.1-37.3h0m5.8 7.2h0m27.9 34.6h0m-18-22.3h0m-18-22.4h0m4.9 6.1h0m7.9 9.7h0m10 12.5h0m-23.4-29h0m33.8 41.8h0m3.1 3.9h0m-31.3-38.7h0m15.7 19.4h0m-5.3-6.6h0m12 14.9h0m7.1 8.9h0m-8-10h0m-3.8-4.8h0m-21.5-26.6h0m7.7 9.6h0m-11.2-13.9h0m26.1 32.4h0m-18.9-23.5h0m19.7 24.4h0m-1.9-2.4h0" stroke="#f03030" stroke-width="0.9" stroke-linecap="round" fill="none"/>
<path d="M42.9 185h0m12.3-10.3h0m5.5 12.3h0m5.7 7.8h0m13.3 21.8h0m-1 7.8h0m9.2 4.5h0m107.4 40.8h0m.9 16.3h0m-4.6 6h0m4.6 9.3h0m-12.2-24.5h0m-3-13.8h0m-8 5h0" stroke="#f01818" stroke-width="1.6" stroke-linecap="round" fill="none"/>
<path d="M172 203h0m14 33h0m-36-36h0" stroke="#1010f0" stroke-width="1.4" stroke-linecap="round" fill="none"/>
<text x="33.0" y="206.3" font-size="8.2" text-anchor="end" fill="#4a4a4a">4</text>
<line x1="33.5" y1="203.4" x2="35.5" y2="203.4" stroke="#555" stroke-width="0.8"/>
<text x="33.0" y="255.3" font-size="8.2" text-anchor="end" fill="#4a4a4a">0</text>
<line x1="33.5" y1="252.4" x2="35.5" y2="252.4" stroke="#555" stroke-width="0.8"/>
<text x="33.0" y="304.5" font-size="8.2" text-anchor="end" fill="#4a4a4a">-4</text>
<line x1="33.5" y1="301.6" x2="35.5" y2="301.6" stroke="#555" stroke-width="0.8"/>
<text x="79.7" y="344.9" font-size="8.2" text-anchor="middle" fill="#4a4a4a">-5</text>
<line x1="79.7" y1="336.4" x2="79.7" y2="338.4" stroke="#555" stroke-width="0.8"/>
<text x="128.8" y="344.9" font-size="8.2" text-anchor="middle" fill="#4a4a4a">0</text>
<line x1="128.8" y1="336.4" x2="128.8" y2="338.4" stroke="#555" stroke-width="0.8"/>
<text x="177.8" y="344.9" font-size="8.2" text-anchor="middle" fill="#4a4a4a">5</text>
<line x1="177.8" y1="336.4" x2="177.8" y2="338.4" stroke="#555" stroke-width="0.8"/>
<text x="120.1" y="354.8" font-size="10.1" text-anchor="middle">Hypoxia vs Control (log2 FC)</text>
<text transform="translate(23.4,251.5) rotate(-90)" font-size="10.12" text-anchor="middle">Oscillation vs Hypoxia (log2 FC)</text>
<text x="147.3" y="199.5" font-size="12">N&lt;H&lt;O</text>
<text x="147.3" y="214.3" font-size="11.9">161 genes</text>
<text x="58.2" y="275.9" font-size="12.2">O&lt;H&lt;N</text>
<text x="58.2" y="290.6" font-size="11.9">198 genes</text>
<text x="210.0" y="230.0" font-size="10.1">Oscillation-specific genes</text>
<path d="M213 236.5h0" stroke="#1010f0" stroke-width="5.0" stroke-linecap="round" fill="none"/>
<text x="217.5" y="239.3" font-size="9.4">Yes</text>
<path d="M213 244.8h0" stroke="#f01818" stroke-width="5.0" stroke-linecap="round" fill="none"/>
<text x="217.5" y="247.6" font-size="9.4">No</text>
<text x="210.0" y="263.8" font-size="10.1">Significant genes</text>
<path d="M206 270.5h0" stroke="#f01818" stroke-width="5.0" stroke-linecap="round" fill="none"/>
<path d="M213 270.5h0" stroke="#1010f0" stroke-width="5.0" stroke-linecap="round" fill="none"/>
<text x="217.5" y="274.2" font-size="9.4">Yes</text>
<path d="M206 279.3h0" stroke="#f6c8c8" stroke-width="5.0" stroke-linecap="round" fill="none"/>
<path d="M213 279.3h0" stroke="#c8c8f6" stroke-width="5.0" stroke-linecap="round" fill="none"/>
<text x="217.5" y="282.5" font-size="9.4">No</text>
<line x1="395.6" y1="176.9" x2="395.6" y2="345.5" stroke="#555" stroke-width="0.9"/>
<line x1="395.6" y1="345.5" x2="564.7" y2="345.5" stroke="#555" stroke-width="0.9"/>
<line x1="488.7" y1="176.9" x2="488.7" y2="345.5" stroke="#888" stroke-width="0.9"/>
<line x1="395.6" y1="255.8" x2="564.7" y2="255.8" stroke="#888" stroke-width="0.9"/>
<path d="M473.9 235.4h0m32.4 22.6h0m-33.2-13.2h0m12.8 7.5h0m.4-12.9h0m-22.9-4.7h0m40.7 30h0m-41.5-45.7h0m-13.2 36.1h0m97.7 23.8h0m-84.4-44.3h0m18.3 15.1h0m-4.3-7.6h0m32.8 35.8h0m-41.2-31.1h0m44.3 10.1h0m-23.7-6.1h0m4.2 24.4h0m-5-21h0m-22-9.1h0m9.6 27.7h0m9.4-25.6h0m23.2-18.2h0m-19 13.3h0m13.1 35.1h0m-17.3-15.2h0m-1.8-8.1h0m11.1 3.5h0m17.9 2h0m-12.3 1.2h0m-20.8-8h0m16.3 20.5h0m21.3-13.7h0m-61.8-56.9h0m38.4 55.8h0m-16 18.4h0m19.8 2.6h0m9.6 7.9h0m-13.5-55.7h0m-6.2 38h0m-36.7-29.1h0m38.6 20.6h0m-3.1-5.6h0m-8.7 24.7h0m8.7-31.1h0m-7.1-12.2h0m16.7 41.4h0m.5-50.7h0m-28 13.2h0m34.6 19.7h0m-15.7-27.4h0m-4 48h0m14.6-7.3h0m3.9-10h0m16.1 2.1h0m.4 18.5h0m-36.2-44h0m9.3 19.3h0m3.6-45.1h0m-24.3-2.2h0m-10 20.8h0m40.5-4.1h0m-8.4 13.5h0m-.2 18.4h0m-32.1-45.7h0m-1.9 24h0m48.9 32.3h0m-8.6-15.8h0m8-32.5h0m-9.6 48.9h0m-50.6-26.4h0m77.6 27.8h0m-14.1 8.9h0m-29.6-49.8h0m-25.4 16.8h0m36.9-3.4h0m-26.3 9.1h0m33.7 1.8h0m37-1h0m-24.4 5.8h0m-1.1-.6h0m-17.1 4.9h0m11.3 7h0m-30.6 5.5h0m39.4-15.3h0m-20-17.3h0m-14.6-8.7h0m32.7 22.1h0m-30.6 45.1h0m-20.3-55h0m12.6-25.3h0m15.2 12.9h0m-16.6 9.8h0m23-4.4h0m2 14.5h0m.7 20.1h0m-19.6-6.2h0m14.2-13.4h0m-2.7 24.6h0m1.2-19.9h0m3.6 2.4h0m1.6-69.7h0m-3 42.8h0m-28.5 6.3h0m-1.6-.9h0m26.2-.1h0m-14.4-5.6h0m30.4 30.4h0m-16-6.1h0m2.9 26.1h0m27.8-22.4h0m-43.5-40.7h0m19.4 38h0m-33.2-25.2h0m49-19.4h0m-25.7 61h0m2.9-18.3h0m-14-24.6h0m27.3 38.4h0m-17.8-12.6h0m1.1-14.9h0m4.9 23.2h0m9.7-32h0m-21.6 17.1h0m-3.6-15.5h0m17.1 .4h0m.9 4.6h0m2.1-6.1h0m-29.9 47.6h0m32.4-27.4h0m-15.8-28.5h0m-16.4 11h0m17.3-24.2h0m7.4 47.7h0m-15.7-11.4h0m60.1 23.6h0m-29.9 3.5h0m-32.6-47.9h0m5.1 43.5h0m5.4-29.1h0m-18.3-1.5h0m41 13.5h0m-83.2-21.7h0m59.8 1.4h0m-40.7 6.7h0m46.1 .5h0m18.7 14h0m-29.3-17.3h0m1.4 44.7h0m9.6-54h0m-47.5 3h0m27.2 6.6h0m18.5 33.4h0m-.9 .2h0m7.2-2.8h0m-17.3-29.4h0m-46.5-7.7h0m56.4-1.2h0m27.2 27h0m-57.1-15.3h0m21.5-8.9h0m52.4 51.3h0m-89.2-41.1h0m87.9 13.3h0m-39.3-17.7h0m-7.4 9.9h0m-15.1-3.2h0m65.1 29.7h0m-13.3-16.9h0m-11.5-48.2h0m6.8 57.3h0m-23.7-38.8h0m-10.6-4.5h0m12.7 39.6h0m-14.9 2.2h0m-8-34.5h0m30.3 2.3h0m12.2 41.1h0m-28.6-25.5h0m-4.5 24.5h0m5.5-15.2h0m54.9 5.6h0m-58.5 23.2h0m10.2-54.3h0m3.2 25h0m-9.2-10.4h0m3.3 18.6h0m-12.5-16.7h0m32.5 7.4h0m-32.8 23.8h0m18.1 9h0m7.5-27.4h0m-21.8-55.1h0m8.4 63.6h0m7.1-2.1h0m32-5.3h0m-38.6-23.2h0m8.6 27.8h0m-10.5 16.5h0m-35.3-60.3h0m16.3-4.3h0m-17.6 18.6h0m33.1 22.2h0m-27.9-48.3h0m32.2 51.4h0m-3.6-19.2h0m24.1 32.5h0m-29.8-50.4h0m20.5 54.4h0m-23.8-43.8h0m-20.5-14.8h0m39.9 17.8h0m-44.1-.8h0m67.4 29.3h0m-32.8-6h0m8.8-31.7h0m-29.9 5.1h0m42.9 36.2h0m35.5-15.2h0m-44.8 11.4h0m-3.2 1.1h0m-43.4-32.9h0m42.2 0h0m2.4 13.5h0m-2.3-58.6h0m-3.5 83.9h0m1.3-28.6h0m-1.9-36.9h0m-3.3-5.5h0m3.4 43.4h0m3.9 34.2h0m4.8-30.4h0m11.6 14.2h0m2.5 .4h0m-35.4-23.8h0m15.6-1.1h0m.2 1h0m6.1-34.8h0m-27.9 33h0m60 26h0m-92.1-33.6h0m38.6 42.8h0m-17.5-28.2h0m25.1-32.2h0m7.2 47.6h0m8.1 8.5h0m-40.7-41.5h0m9 18.5h0m53.3 26.1h0m-64.2-53.9h0m19 53.2h0m26.8-4.1h0m-43.9-42.3h0m46.1 49h0m-14.5-26.3h0m-21.3-34.7h0m22 28.6h0m-36.6-21.9h0m62.9 44h0m-53.4-23.8h0m31.7-2h0m10.6-18.2h0m11.5 31.4h0m-55.7-12.1h0m25.2 19.7h0m27.6-9.7h0m-39.3 21.5h0m2.6-34.7h0m6.6 44h0m22.8-23.3h0m-3.7 11h0m-4.3-43.5h0m-13.3 36.1h0m-26.8-13.6h0m14 21.5h0m-14.7-34.9h0m55.8 18.2h0m-13.5-31.5h0m-12.9 39.6h0m-4.2 5.8h0m14.7-.9h0m-44.6-21.9h0m60.6 22.8h0m-12.5-9.5h0m-25.1-25.5h0m72.4 22.4h0m-38.1 9.6h0m5.5 .5h0m-25.7-2.6h0m-5.2-41h0m21.1 59.3h0m-15.5 1.3h0m18.7-8.3h0m-20.7-24.2h0m.6 12.6h0m-3.9 10h0m-18.9-32.7h0m.2 3.8h0m18.2 31h0m5.3-31.6h0m-17.5-4.5h0m24.3-.5h0m2.7 25.3h0m-10.1-40.3h0m6.7-3.6h0m-25.5 4.6h0m29.8 36.8h0m-25.2-22.7h0m61.6 32.9h0m-44.5 3.7h0m.9-45h0m11.6 28.5h0m-31.7-20.2h0m13.4 .9h0m15.1 14.3h0m-35.5-22.5h0m41.7 29.8h0m34.7 3.6h0m-76-17.3h0m65.1 11.9h0m-51.3-13.4h0m8.2 38.5h0m-2.1-50.8h0m15.3-.3h0m7.8 35.3h0m-13.4-10.2h0m9.2-38.1h0m-78.3 29.9h0m58.1 31.4h0m27.2-14.1h0m-9.6-42h0m11.2 32.8h0m-6.5-36.4h0m-17.1 8.2h0m-16 40h0m9.2-7.9h0m7.3-4.9h0m6.3 11.3h0m-7-27.2h0m10.6 27h0m-8-12.9h0m-30.6-11.4h0m32.2 11.6h0m-9.2-18.1h0m-2.7-17.3h0m32.7 34.5h0m-49.7-19.8h0m-15.8 6.1h0m40.1 2.9h0m9.2 7.5h0m6.9-23.8h0m-13.8 9.8h0m-13.5-3.2h0m73.3 34.2h0m-28.8 10.9h0m-19-20h0m-35.8-35.1h0m28.4 5.6h0m9.5 25h0m-15.9-14.2h0m10.2 10.3h0m4.8 15.3h0m-33.4-30.7h0m27.7 26.4h0m15.4-4.5h0m-13.5 2.8h0m-18.9-14.3h0m11.6 17h0m-8.8-5.4h0m-12-9.4h0m14.9 17.9h0m-2.1-25.3h0m-10.7 37.3h0m1.8-55.5h0m18.6 42.8h0m-17.3-18.6h0m29 16.5h0m-18.2-18.9h0m2.1 20.6h0m-12.2 .7h0m-27.9-47.4h0m51.4 13.4h0m-19.7-7.9h0m52 34.9h0m-24 1.6h0m36.5 2.1h0m-52-43.5h0m-30.4 15.1h0m35 27.5h0m-29.1-16.5h0m19.9-11.5h0m-20.6-15.7h0m21.8 35.9h0m-5.5-3.7h0m-45.4-38.4h0m40.8 27h0m14.9 20.2h0m-25.7-25.8h0m22.2 18.7h0m-19.3-2.1h0m14.5 18.7h0m.8-26h0m7.8 31.2h0m5-17.2h0m-2.2-30.2h0m-39.6 8.1h0m42.2 33.4h0m-13.1-1.1h0m9.4 1.6h0m-12.1-42.1h0m7.1 34.3h0m3.6-21.1h0m-14.8-20.9h0m2.5 57.5h0m5.6-23.7h0m15.9 9.4h0m-9.6-36.2h0m-48.6-19.3h0m26.1 24.3h0m50 48.5h0m-23.7-11.7h0m14.2-47.5h0m-20.9 2.1h0m8.7 31.2h0m-12.7 7.8h0m33.2-2.3h0m-39.1 4.6h0m-24.2-35.6h0m29.6 15h0m-15.2 4.7h0m39.2 12.9h0m-34.1 4.2h0m4.4 32.9h0m-17.5-18.6h0m21-13.3h0m3.6-43h0m-6.9 17.8h0m27.1 56.2h0m2.7-22.2h0m-43-44.1h0m15.7 10.7h0m8.9 21h0m11.8-9.2h0m-44.2-21.9h0m19.1 32h0m4.4-32.9h0m8.8 10.8h0m-5.4 26.3h0m-5.7-4.9h0m-23.1-12.8h0m32.9 20.3h0m-11.8-8.3h0m11.1-3.5h0m-20.6 17.8h0m-.4-28h0m2.7-19h0m-.5-4.7h0m-41 10.8h0m60-.5h0m17.2 36.7h0m-11.4-6.8h0m-11.4-31.8h0m-42.9 8.5h0m41.2-9.6h0m24.4 36.8h0m-12-15.6h0m-37.1-12h0m-18.1-13.7h0m-4.3 7.6h0m60.7 27.7h0m7.3-.4h0m-44.3-28.2h0m23.3 23.6h0m36.3 7.9h0m-38.8-33.6h0m-4.3 6.7h0m1.7-1.5h0m21.2 34.5h0m-15.5-31.2h0m-13.3 32.9h0m-10-42.2h0m34.9 23.4h0m3.3 11.1h0m27.6 14.1h0m-39.2-17.3h0m-4.6 1.8h0m4 14.9h0m.4-40.4h0m-1 17.8h0m38.9-3.5h0m10 7h0m-66.1-8.8h0m18.7 4h0m1.7 4.5h0m-7-1.6h0m4.4-38.6h0m7.2 37.4h0m-12-31.9h0m16.1 36h0m-19.3-21.1h0m-7.7 35.9h0m12.9-16.1h0m60.3 5.7h0m-50-6h0m-54.6-16.1h0m9.2 .3h0m41.1 4.1h0m.5 21.7h0m-10.1-26.8h0m-7 36.8h0m2.5-11.4h0m13.2-13h0m-13 12.8h0m.1-54h0m18.8 48.7h0m-11 5.1h0m-21.9-16.7h0m21.3-8.1h0m16.3 25.2h0m-13.1-13h0m4.8 11.3h0m.5-53.1h0m-51 22.9h0m57.9 28.3h0m-12.9-3h0m-1.8 24.1h0m19.1-23h0m-19 8.4h0m37.3-16.5h0m-40.9-9.1h0m-14.6-7.2h0m-11.3-6.2h0m30.4 14.3h0m-7.3 36.4h0m17.5-28.8h0m-12.8-6.8h0m28.6 43.1h0m-58.2-44h0m48.3 11.7h0m-10.9-12.7h0m6.2-6.6h0m14.4 15.7h0m-47.2-2.9h0m16.6 10.3h0m-20.8-43.5h0m39.7 59.7h0m-5.3 2.7h0m-15.5-40.6h0m5.9 18.7h0m4.9 19.7h0m14.2-1.2h0m-61.9-29.9h0m30.9 45.1h0m57.9-24.7h0m-48.7-61.1h0m-46.3 38.8h0m45.7 41.5h0m.2-27.7h0m8.6 21h0m3.6-13.8h0m-28.5 21.5h0m32.7-33.5h0m.4-.7h0m-4.3 36.7h0m-4.3-23.2h0m-11.8 9.8h0m2.7-67.7h0m9 36.6h0m38.1 7.2h0m-21.3 21.9h0m15-17.7h0m-55.4-47.6h0m12.9 70.3h0m-16.8-32.8h0m17-10h0m4.9 20.6h0m16.4-31.5h0m-.4 3h0m1.4 40.5h0m-18.1 2h0m13-15.9h0m26.7 14.7h0m-47.8-24.9h0m6.9 3.1h0m-16.5 .7h0m.5-1.5h0m24.1-20.5h0m4.2-6.2h0m-11.6 12.1h0m-15.3 7.7h0m17.2 28.6h0m-18.7-35.5h0m24 23.9h0m-11.1 3.8h0m-7.4 14.7h0m29.5-20.5h0m17.7 20.3h0m-25.1-57.9h0m1.2 37.3h0m-2.4 9.9h0m-4.3-2.1h0m-3.2 3.2h0m-13 4.9h0m4.4-40.8h0m14.4 27.1h0m-4.5 2.5h0m15.3-54.2h0m-50.8 9.4h0m32.9 51.2h0m39.7 5.3h0m-39.9-7.1h0m-2.7-21.2h0m15.1-23.4h0m-6.1 18.1h0m.5 25h0m2.7-4.1h0m-35.9-27.7h0m37.3 43.4h0m-25.8-26.6h0m16.9 41.2h0m-23.3-60h0m15.2 34.8h0m14.9 15.6h0m-29.2-30.6h0m14.2 1.2h0m16.9 4h0m-8-11.4h0m-6.7 29.9h0m-7.8-26.6h0m15.8-5.1h0m-19.4 .2h0m45.4 42.6h0m19.1-11.8h0m-48-23.6h0m15.7 10.9h0m-3.4 8.3h0m14.3 4.6h0m-15.3-.3h0m-56.8-27.2h0m43.7 17.5h0m-3 .1h0m0-37.9h0m30.4 31.3h0m-18.5 9h0m-5.1 6.4h0m-7.1-28.1h0m20.1-6.6h0m-11.9 28.3h0m13.3 16.2h0m-15.3-33.5h0m-6.3 21.4h0m-4.7-29.8h0m21.7 27.3h0m-46.8-15.2h0m46.2-12.2h0m4.2 20.7h0m-14.6 .6h0m23.5-8.4h0m-22.3 24.2h0m7.3-43.7h0m-7.7 10h0m1.4 2.9h0m17.4 11.2h0m-10.7-20.7h0m-11.3 30.2h0m24.5-10.3h0m-2.9 5.3h0m-11.4-28.9h0m-4.9 13.2h0m14.8 12.8h0m6.1-1.7h0m-24.7-9.8h0m2.5-50.9h0m25.2 66h0m-5.8-8.9h0m.7 6.9h0m-21.2-.2h0m17.7 3h0m.6-2.9h0m-14.5-31.3h0m-13.9 22.1h0m39.8 6h0m-52.5 35.5h0m33.3-52.4h0m5.2 26.2h0m-26.3 4h0m18.7-2.4h0m11.7-41.3h0m-8.4 9.4h0m-4.6 42.2h0m-5.8-9.2h0m10.2-29.7h0m-19.4 2.1h0m22.2 15h0m-7.4 16.8h0m-21.4-57.8h0m25.7 50.6h0m-4.9-12h0m-7.8 6.4h0m-31.8-41.5h0m73.2 50.8h0m-33.4-31h0m-13.1-10h0m24.5 27.1h0m-17.2 13.6h0m17.5 25.5h0m-22.1-30.7h0m5.5-19h0m-5.3 6.5h0m9.1 14h0m3.8-25.3h0m-21.5 4.8h0m57.4 13.1h0m-56.2 24.4h0m7.7-54.5h0m4 45h0m15.7-45h0m-60-12.8h0m50.5 13.5h0m-5.9 25.6h0m-12.1-25.9h0m35.8 31.5h0m-53.8-23.3h0m25.4 26.3h0m6.7-9.7h0m-22-4.4h0m20 27.1h0m-56.8-29.6h0m41.7-2.1h0m13.7 17h0m-13.3-42.2h0m8.8 43.9h0m23 24.2h0m-10.4-10.8h0m15.8-13.7h0m-22.9-21.7h0m-13.6-19.4h0m34.5 53.2h0m-48.1-69.2h0m20.8 76.5h0m-8.7-47.2h0m9.5 31.7h0m2.9-2h0m11.4 5.7h0m28.7-13.5h0m-45.1-25.6h0m7.9 31h0m10.9-34h0m-15.5 31.6h0m-28.2-14.9h0m31.8 31.6h0m48.1-10.8h0m-45.1-23.7h0m34.1 17.1h0m-27 23.2h0m6.6-48.7h0m-52.1 5.8h0m54.9 25.4h0m-12.7 7.1h0m-39-29.1h0m52.7 15.7h0m-11.5-5.5h0m-38.3-26.4h0m7.2 54.7h0m24.6-7.8h0m-29.4-25.2h0m23.8 9.5h0m-7.4-22.1h0m27.5 20.4h0m-24.9-25.7h0m15.3 8h0m-8.7-.9h0m-9.6-.1h0m14 9.6h0m-8.1-.3h0m.2 29.1h0m.1-33.2h0m38.5 13.8h0m-55.6-4.9h0m19.1 5.7h0m10.4-.6h0m-25.9 28.9h0m10.1-12.6h0m-28-59h0m84.6 64.3h0m-4.6 3.9h0m-58-39.2h0m-15.7-41.9h0m43 23h0m-26.3 47.9h0m12.8 4.1h0m26.6-23.6h0m-10.9-26.4h0m-22.9 22.7h0m-13.7 .6h0m21.5 13.8h0m-19.2-19.1h0m23.5 26.4h0m-28.5-32.3h0m27-7.3h0m-4.7 31.7h0m7.5-22.7h0m-16.4-1.4h0m34.4-16.6h0m-43.4 56.3h0m21.5-11.6h0m3.6-20.3h0m-60.3-2.4h0m62.3 14.5h0m-15.7 18.2h0m-46.1-33.8h0m49.1 32.2h0m37 1.9h0m-17.5-18.3h0m-28.8-32.3h0m44.6 36.4h0m1.1 18.5h0m-34.1-42.6h0m.9 28.1h0m-1.8-4h0m-2.2 2.1h0m-2.5-28.6h0m3.1 30.2h0m-10.8-39.6h0m17.1 27.1h0m6.3-15h0m2.8 22h0m-3.3 .1h0m29.7-7.9h0m-23.1 24.8h0m-20.5-14.3h0m5.1-18.7h0m-24.4-15.3h0m19-3h0m-5.7 5.1h0m11.3 18.4h0m32.6 2.6h0m-17.2-25.1h0m-7.9 6.2h0m-15.6 32.6h0m-6.6-45.6h0m4.8-.5h0m47.1 39.5h0m-12.6-2.8h0m-22.5-34.9h0m-6 27.3h0m5.5-13.1h0m-51.4-3.6h0m69.7 56.8h0m-20.2-57.1h0m-5 16.1h0m9.1-1h0m34 10.3h0m-48.5-20.9h0m22.7 30.8h0m-11.2-22.6h0m5.2 2.9h0m22.4 23.7h0m-49.5-49.1h0m11.5 28.5h0m18.8-42.9h0m-80.7 37.6h0m67.9-10.6h0m13.9 22.1h0m28.5-1h0m-30.5 15.5h0m8.6-5.9h0m1.2 6.8h0m-50.8-34.4h0m40.5 34.2h0m29.3-8.3h0m-24.3 18.5h0m-7.7-50.3h0m-16.4 14.9h0m15-7.2h0m20 50.7h0m5-37.2h0m-19.2-26.3h0m6.7-24.7h0m-33.2 73h0m23.5-29.4h0m-10.4 20.5h0m22.3 14.1h0m-20.8-46.6h0m1.3 38.6h0m-13.7-57.6h0m12.6 53.7h0m5.6-2.1h0m22.7-3.7h0m-37-19.1h0m27.8-8.8h0m-15.9 12.8h0m25.9 21.2h0m-42.6-34.9h0m26.8-18.8h0m11.7 50.5h0m-10.6-10.5h0m-15.5-28.8h0m12 59.9h0m.8-25.2h0m-22-10.6h0m33.1-22.3h0m-10 33.6h0m-19.3 17.5h0m2.2-43.1h0m16.2 26.5h0m-33.5-25.1h0m20.6 28.6h0m-35.1-17.6h0m54.8 24.8h0m25.2-2.1h0m-2.6-11.4h0m-41.6 8.9h0m-18.1-34.4h0m39.3 29.9h0m3.9-12.2h0m4.1 30.6h0m-13.9-41.8h0m12.8 19.1h0m-27.2-12.9h0m-1.3 22.6h0m13 9.4h0m-6-39.5h0m2.8 3.6h0m13.8 20.9h0m-27.9 8.6h0m-3-24.2h0m32.6 13.9h0m-33.4-36.8h0m1.8 2.5h0m6.1 4.1h0m-8.2 50.5h0m36.4 17.3h0m-53.4-65.8h0m42 18.9h0m-4.1 9.6h0m5.8-7.7h0m-24.9-26.2h0m30.9-3.4h0m-11.4 8.4h0m-1.7 18.9h0m.6 10.1h0m21.1 5.7h0m-5.3-2.4h0m-61.4-16.2h0m19.3-5.6h0m21.7 .6h0m-20.3-1.2h0m27.5 12.9h0m4.5 7.6h0m-16.1-23.7h0m-26.6-9.7h0m45.4 31.4h0m10 3.4h0m-25.3-11.8h0m29.7 2.9h0m-62-15.6h0m30-26.3h0m-2.3 26.4h0m-36.4 1h0m52.9 16.7h0m-14-9.7h0m-26.2-28.8h0m47.8 6.5h0m-52.8 15h0m27.9 16.2h0m1-8.4h0m10.3 31.9h0m9.7 .3h0m-18.2-12.9h0m4.7-21.2h0m-2.6-18.2h0m-24.5-.9h0m37.6-.3h0m-46.2 19.9h0m34.6 15.5h0m-14.1 18h0m17-37.8h0m16.1-30h0m-29.7 37.6h0m-11.4-28h0m25.5 13.6h0m-.1-2.5h0m4.5-2.6h0m-6.7 21.4h0m30.4 18h0m-28.8-5.7h0m4.3-12.5h0m-22.3 18.2h0m23.3-3.5h0m-10.8-35.8h0m13.2-3.2h0m-15.1 37h0m16.2-38.3h0m-5.8 31.7h0m-7.9 2.4h0m-2.9 14.4h0m-2-41h0m12.2-21.2h0m-3.4 54.3h0m-20.6-30.1h0m25 26.6h0m5.5-40.9h0m-6.2 33.2h0m-17.2-15.2h0m-3.7 48.5h0m2.4-20.1h0m19.6-17.2h0m-16.4-12.3h0m26.8 11.6h0m-10.1-22.9h0m-53.1-6.5h0m28.6 26.7h0m2.5-15.1h0m8.5 32.1h0m4.3 19.8h0m9.6-26.8h0m15.5 1.5h0m-24.4-20.1h0m3.3 33.4h0m19.1-57.8h0m-20.9 6.5h0m12.6 53.4h0m-1.3-22.5h0m34 7.6h0m13.8-.2h0m-57.6-25h0m7.1 29.2h0m9.6-53.4h0m-23 27.9h0m2.6 17.7h0m22.1-32.4h0m-18.7 55.5h0m36.7-19h0m-42.3-23.5h0m12.4 34.1h0m-8.2-5.3h0m39.7-3h0m11.7 9.4h0m-64.1-3h0m23.9-15.3h0m-65.9-13h0m51.8-14.3h0m3.8-1.4h0m.9 37.4h0m27 2h0m-29.7-15.7h0m13.5 23.2h0m-36.3-32.9h0m31.4 24.7h0m-12.8-41.7h0m50.1 52.4h0m-33.2-44h0m-13.9 27.6h0m-13.4 39.2h0m11.6-36h0m9.7-34.5h0m-37 2.5h0m-10.3 9h0m48.3 1h0m-6.2 12.2h0m18.9 5.5h0m-28.5-43.3h0m3.4 56.5h0m31.3 14.3h0m-14.8-32.4h0m.6 11.8h0m-13.5-28.5h0m14.1-6.3h0m-32.7 51.7h0m18.3-60.3h0m1.3 35.2h0m-1.1-7.1h0m-27.6-5.5h0m36.9 28.2h0m-12.1-34.7h0m-4.7 7.1h0m-38 4h0m41.3-31.8h0m-17.4 22.4h0m28.7 44.7h0m6.4-18.4h0m9.9 18.4h0m-10.2-53.1h0m-7.4 36.5h0m-27.5-28.4h0m40.7 26.6h0m-14.6-9.3h0m10.4 10.5h0m-2.1-28.7h0m11.9 13h0m-38.4-14.5h0m10.3 21.6h0m9.8 19.9h0m3.5-3h0m-30.2-36.7h0m17-1.7h0m14.7 34.5h0m-12.4-9.5h0m19.5-34.9h0m-31.9 46.7h0m-29.2-42.1h0m47.7 6.4h0m-63.9-25.2h0m31.3 37.5h0m15.1-9.3h0m14.3 26.4h0m2.4 .1h0m15.7 11.8h0m-23.3-30.1h0m10 14.2h0m2-35.2h0m11.6 35.8h0m-31.8-29.5h0m8.3-20.2h0m24.3 47.4h0m-17.2-6.1h0m-26.3-25.5h0m37.3 2.2h0m-6.7 23.8h0m-6.1-32.8h0m40.3 70.7h0m-29.8-32.8h0m-4.5-17.8h0m-9.9 2.8h0m7.8-29.4h0m7.6 50.3h0m-9.2-22.7h0m11.9 14.8h0m-29.9 19.8h0m26.4-41.9h0m-9.6 8.6h0m10.2 20.9h0m-7.4-51.6h0m-5.4 32.3h0m4.1-15.6h0m1.3 6.2h0m8.2-7.8h0m-5.8 36.3h0m-29.5-33.4h0m36.5 18.8h0m-20.3 26h0m5.4-29.6h0m.5 37.1h0m-12.1-16h0m-.1 4.8h0m22.3-34.8h0m-38.2-16.4h0m18.4 28.3h0m-4.1-14.8h0m23.9 19.1h0m-16.3 22.9h0m-4.5 9.8h0m15.5-74.2h0m-25.2 30.5h0m40.2 19.6h0m27.7 10.4h0m-66.5-43.4h0m40.1-10.8h0m-18.5 41.4h0m-3.5-25.7h0m24.8 21.7h0m3.5-55.5h0m-5.3 68.6h0m-41.9-47.1h0m23.3 54.8h0m35.9-19.2h0m-40.6-41.5h0m-8.4 81.9h0m12.2-16.3h0m-4.3-16.5h0m-11.9-28.4h0m15.5-22.1h0m-2.9 23.9h0m10.7 42.1h0m16.1-24.1h0m-1.8-37.6h0m-40.8-11.1h0m52 51.8h0m-56.5-15.3h0m19.9 12.2h0m-37.9-19.7h0m43.3 18.6h0m-20.5-8.4h0m-.1-10.4h0m16.3 11.2h0m-4.3-48.1h0m29.8 84h0m-55.8-45.1h0m19.7 5.4h0m4.1-13.9h0m10.6 29.8h0m-5.3 24.6h0m2.9-68.1h0m-1-36.6h0m-6.8 31.8h0m4.7-.4h0m3.2 26.1h0m-.6-2.2h0m2-52.7h0m-1.5 44.7h0m1.6 8.1h0m1.2 51h0m-.1-42.9h0m-7.4 19.9h0m3.6-19.4h0m-10.9-1.9h0m9.5 2.4h0m-1.9-2.4h0m7.1-35.7h0m-13 65.2h0m9-30.2h0m-1.2 12.4h0m-2.9-60.4h0m4.2 77.9h0m1.6-51.5h0m8.6-16.6h0m-11.4 100.5h0m-.3-66.1h0m1.7 22.4h0m5.1 2.6h0m-6.4 5.9h0m.3-14.3h0m6.2-29.7h0m-10.9 42.8h0m10.6-1.4h0m-6.3-22.6h0m3 67.7h0m.3-86.9h0m-1.7 11.3h0m2.6 16h0m-7.2 15.4h0m-2-25.9h0m4.9 6h0m-3.3-7.3h0m.6 15.5h0m6.5-25.7h0m4.1 71h0m-10.1-55.7h0m5 11.7h0m.6-52.7h0m1.4 80.8h0m-5.9-.1h0m1.8-.9h0m.1-20.5h0m3.6 8.2h0m-4.1-6h0m-1.7-25h0m7.4 63.1h0m-3-62.5h0m7.4-31h0m-5.8 26.7h0m-5.5-24.9h0m9.2 55.3h0m-5.6 20.7h0m-4.3-76.3h0m11.1-14.1h0m-7.8 101h0m-3.1-65.1h0m4.4-1.5h0m2.3 49.5h0m-3.9-16.6h0m1.8-37.3h0m2.9 16.2h0m-1.9 9.4h0m-8.7-31.9h0m5.7 22h0m1.7 25.8h0m-4.1-27.5h0m10.4 13.5h0m-5.5-1.3h0m-2.9-29.6h0m8.9 33.2h0m-16.2-47.8h0m10.5 52h0m-4.4-18.1h0m5.1-22.1h0m-7.6 17.4h0m8.4-39.8h0m-7.2 36.5h0m-.7 21.9h0m12.2 14.8h0m-10.4-11.2h0m11.7-30.2h0m-6.9 42.8h0m2.8-13.6h0m-4.8 17.6h0m4.7-92.1h0m-7 102.7h0m7.8-54.6h0m-9.2 9.1h0m-1.2 6.9h0m1.9-29.2h0m-1.2 57.1h0m1.2 4.7h0m2.1-38.7h0m-2.4-6.1h0m4.2-15.5h0m-.5 16.7h0m2.5 18h0m.8 28.6h0m-2.4-8.1h0m.9-41.6h0m-5.6 34.8h0m-.8-48h0m8.2 38.8h0m-4.6-15h0m2.6-5.7h0m-2.4-17.3h0m7.4 9.1h0m-8.9 22.4h0m-.8-20.6h0m.9 29.8h0m6.6-52.8h0m0 40.7h0m3.1 37.6h0m-2.4-28.1h0m-6.7-29.4h0m3.6 65.3h0m.1-23.4h0m2.9 4.1h0m-4.6 31.8h0m7.3-55.2h0m-4.9-2.3h0m3.2 22.6h0m-4.7-33.6h0m-6.2 24.9h0m6.6-22.7h0m2.3 53h0m-12.1-81.7h0m5.2 53.3h0m10.8-28.7h0m-5.1 28.9h0m-8.2 19.1h0m-6-56.7h0m11.5 9.8h0m1.3 24.6h0m3.4 13.4h0m1.7-65.8h0m-8.4 46.7h0m-.6-31.1h0m6.6-26.7h0m-7.6 77.4h0m5.7 10.4h0m-6.8-41.5h0m2.2-1.7h0m4-5.5h0m1.8-31.6h0m-3.8-6.6h0m-5.4 76.6h0m3.6-8.9h0m4.2-51.5h0m-1.8 65.9h0m-10.6-45h0m9.1 68.4h0m-3.6-75.2h0m4.5-6.4h0m.1 47.4h0m-.5-62.9h0m2.4 47.4h0m7.4 16.8h0m-7.1 35.8h0m-2.4-63.2h0m-1.6 27.4h0m2.3 12.9h0m-1.7-55.7h0m-.6 16.8h0m-3.4 37.7h0m6.8-35.2h0m-2 13.3h0m-2.4 29.1h0m.6-70.8h0m9.9-5.6h0m-12.5 93.8h0m5.1-47.7h0m-.1 18.9h0m-5.1 3.3h0m8.4-9.4h0m-13.5-6h0m7.6-50.6h0m2.4 52.8h0m-.6-26.1h0m-.2 8.7h0m-.5-39.8h0m.5 21.3h0m.1 27.8h0m0-14.8h0m.3-71.5h0m.4 45.5h0m-1.1 10.2h0m.5 59.4h0m.1-48.9h0m.7 16.3h0m-1.3-3.2h0m1-51.1h0m0 48.4h0m-.6 37.1h0m1-19.9h0m-1.5-64.1h0m.9 9.7h0m-.5 49.1h0m.3 45.5h0m.2-100h0m.9 39.8h0m-2.1 53.3h0m1.9-42.8h0m-1.7 11.9h0m-.3-53h0m1.2-.5h0m-.2-34.2h0m.5 92.2h0m-.8-8.1h0m.6 42.6h0m-1.3-104.6h0m.6 83.4h0m-.3-38.2h0m-.2 13.1h0m.8-56.1h0m1.4 56.4h0m-1.6-.7h0m.8 31.6h0m-.7-28.6h0m.9-3.5h0m-1.4-25.2h0m1.5 57.8h0m-.7 9.7h0m-.8-32.5h0m0-68.6h0m1.2 16.4h0m-.3 3.7h0m-1 84.9h0m0-71.6h0m.4 40.3h0m-.3-13.7h0m.7-13h0m1.3-13.4h0m-1 26.4h0m-.8 32.8h0m.8-36.4h0m-.6-53.6h0m-.2 37.9h0m.7 27.5h0m-1.6 7.1h0m1-76.4h0m2.1 63.2h0m-2.3 16.8h0m.7-26.3h0m.3-29.7h0m-.8 5.7h0m1.5 20.9h0m-1.1-22.5h0m-.7-15.6h0m1.5 5.7h0m-.1 19.5h0m-.7 14.1h0m.6-51.2h0m-.6-8.7h0m-.2 55h0m-.4-37h0m1.1 52.2h0m-.8-26.8h0m.2 42.4h0m.6-38.4h0m.2 11.6h0m-1.7 16.4h0m1.1 9.1h0m.3-46.2h0m-.1 28.8h0m-1.6-21.5h0m1.6 38h0m-.7-47.5h0m1-15.6h0m.3 75h0m-.5 3.4h0m-.8-57.1h0m.9 2.5h0m-52.3 7.4h0m79.6 .7h0m-98.3-.5h0m72.1 .5h0m-17.6-.7h0m-4.6-.6h0m27.8 1.6h0m-22.4-1h0m28 .5h0m-32.8-.8h0m-43.7 .6h0m30.4-.8h0m43 1h0m-14.6-.4h0m4.5 1.1h0m63.2-.6h0m-115.6-.6h0m4.8-1h0m68.7 1.4h0m-10.2 .2h0m-49.7-1.1h0m95 1.8h0m-84.7-1h0m-7-.8h0m47.8 1.1h0m-48.6-.8h0m98.8 .9h0m-109.9-.7h0m32.4 .3h0m-10.4-.6h0m14.3 .5h0m7.5 .1h0m-45.4-.4h0m-5.1-.3h0m70.2 .8h0m-11.9 .7h0m43.6-.3h0m-88.6-1h0m3.4-.2h0m90.6 .8h0m-78.2-1.1h0m-9.2-.5h0m41.3 1.6h0m-18.7-.3h0m4.5 .1h0m-6.1-.2h0m49.1 .8h0m-36.4-3.5h0m-26.6 .4h0m27.1-.8h0m-7 1.3h0m-29.9-.8h0m-.8 .2h0m24-.1h0m-13 .2h0m28.7-.3h0m-24.2-.3h0m19.9-.6h0m-8.9 .8h0m-13.6-.9h0m-7.2 .3h0m31.3 1.4h0m-37.7-1.5h0m31 .2h0m3.6 .6h0m-.4-.1h0m-14.4-.5h0m-6.6 .9h0m12-.6h0m-18.3 .5h0m-1.1-.9h0m13.6 .4h0m-22.8 .4h0m41-.3h0m-22.1-.3h0m25.3 .9h0m-3.8-1h0m-2.6 .5h0m-11.3-.6h0m8.5 .8h0m-9.5 .1h0m17.9-1.1h0m-27.9 .7h0m22.2-.1h0m-21.3 .8h0m26.7-1.3h0m-13.5 .4h0m-26.7 .2h0m30.2-.9h0m-23.1 .9h0m23.9 1.1h0m-6.3-.3h0" stroke="#b0b0f8" stroke-width="1.2" stroke-linecap="round" fill="none" stroke-opacity="0.9"/>
<path d="M497.9 254.4h0m-24.7 5.3h0m-17.3 10.7h0m4.2-10.3h0m55.4-14.6h0m-32.5 10.8h0m32.5-14.9h0m-19.2 6.6h0m-3.4 3.2h0m-1.7 4.1h0m16.6-3.1h0m-13.7 1.5h0m-19.9 18.4h0m-29-8.4h0m14.1 0h0m68.1-13.2h0m-66.4 14.4h0m-14.7-.6h0m55-19.1h0m-23.8 16.9h0m17.3-9.3h0m-17.2 8.2h0m24.4-5.9h0m-79.9 6.7h0m70.5-7.8h0m8.5-2.4h0m-2.1-3.8h0m-15.5 9.9h0m14.3-12.3h0m22.3-12.5h0m-59.6 26.1h0m46-8.2h0m21.1 4.3h0m-53.4 9.5h0m5.3-5.2h0m-12.2-2h0m22.7-3h0m22.9 1.1h0m12-9.4h0m12.1-6.6h0m21.7 7.7h0m-95.4 24h0m45-31.9h0m-32.1 18.8h0m-15.9 18.1h0m16.2-8.5h0m30.5-12.2h0m12.6-1.6h0m-76.9 16.2h0m68.1-26.8h0m-13 11.6h0m-58.1 15.3h0m34.9-6.6h0m17.1-9.9h0m13.4-15.4h0m-46.8 25.9h0m16.7-3h0m-20.5 4.6h0m59.7-18.1h0m-.4 4h0m-42.7 17.1h0m21.9-15.5h0m-21 19.4h0m29-29.5h0m-45.7 26.6h0m-1.5-1.5h0m81.9-13.4h0m-61.3 8.1h0m3.4 2.1h0m52.5-13.4h0m-32.9 1h0m-73.7 21.7h0m99.4-33.3h0m-21.3 12.4h0m8.9-13.1h0m-12.6 8.6h0m-55.8 15.2h0m31.8-6.1h0m-1.2 7.9h0m-14.9-1.3h0m41.9-9.9h0m8.6-21.4h0m-39.5 31.1h0m35.7-12.7h0m-11.8 2.5h0m-23.1 8.8h0m32.7-13.9h0m-2 5h0m-19.1 2.7h0m72.6-2.9h0m-75.2 8.2h0m6-2.6h0m-14.1-2.2h0m7.1 .3h0m-13 18.9h0m51.8-37.5h0m-6.8 .6h0m-29.6 25.8h0m14.5-10.3h0m5.8-10.4h0m27.8-16.9h0m-22.8 25.2h0m-37.9 5.3h0m24.8-4.1h0m.5-1.4h0m-22.8 19.8h0m-15.9-4h0m23.8-12.2h0m18.6-6.8h0m-32.3 15.4h0m21-7.7h0m-22.8 18.5h0m14.2-7.7h0m-40.5 .4h0m71-12.9h0m-12.4-6.3h0m-1.9 4.4h0m-25.2 2.1h0m-5.7 9.4h0m6.5 .7h0m30.4-21.1h0m-20.8 12.7h0m3.4 4.5h0m-21-3.7h0m36.6-4.1h0m-25.4 18.4h0m-2.9-8.6h0m48.7-36.4h0m-55.1 46.3h0m-18-12.1h0m38.5-1.1h0m52.6-18.2h0m-63.1 28.3h0m41.3-25.6h0m-47.1 17h0m-9.4 22.7h0m57.3-36.2h0m-10.1-2.5h0m-3.9-3.6h0m-29.4 22.8h0m47.2-28.3h0m-47 26h0m-32 10.7h0m64-23.6h0m-42.5 19h0m10.8 .8h0m49.9-17.9h0m-37.9 6.5h0m19.9-3.4h0m-37.5 21.3h0m33.8-31.1h0m-24.8 14.8h0m39.7-8.6h0m-37.2 14.6h0m-15.2-10.5h0m49.5-20.3h0m-24.1 20.8h0m-25.3 .3h0m12.9 7.5h0m41.3-11.8h0m39.4-5.5h0m-42.7 8.3h0m-58.3 15h0m26.6-10.7h0m.1 3.6h0m36-26.8h0m-43.6 26.7h0m-22.4 4.7h0m52.9-26.5h0m-22.4 20.9h0m-14.9 11.4h0m6.8-14.3h0m35.4-24.6h0m16.1 9.4h0m-40.2 14.9h0m16.8-8h0m-7 4.3h0m-20.1 7.9h0m24.6-9.9h0m14.6-11.6h0m-12.7 9.3h0m38.3-31.8h0m-28.4 29.9h0m-6.1 4.7h0m-.6-3.2h0m-56.3 13.3h0m57.3-14h0m-67 14.3h0m67.4-22.6h0m6.2-12.5h0m-45.2 50.2h0m-12.1 7.2h0m65.8-38.9h0m-20.3 3.5h0m2.3-8.7h0m-28.3 21.3h0m-6 15.2h0m29-31.7h0m-4 4.9h0m8.1-7.8h0m7.7-12.1h0m-46.2 26.1h0m16.2-1.6h0m-43 21h0m20.4-20.9h0m35.5-3.9h0m25-8.2h0m-32.3 13h0m-37.5 39.6h0m20.4-31h0m6-8.6h0m8.1-1.5h0m57.6-20h0m-44.7 14.9h0m10-8.5h0m15.6-1.6h0m-49 34.3h0m-6.4-16.5h0m4.7 9.2h0m53.5-19.4h0m-18.7 4.5h0m-53.6 5.1h0m30.8 1.4h0m-12.1 3.7h0m22.6-8.1h0m-22.2 9.3h0m-18.7 3.9h0m44.2-14.8h0m-56.8 14.2h0m69.3-26.9h0m7.1-.6h0m-58.1 19h0m-2.6 2.6h0m8.2-.4h0m56-6.8h0m-23.6-1.3h0m-30.3 5.6h0m61.8-8.5h0m-64.7 19.2h0m46.6-22.3h0m-17.2 7.4h0m8.1-2.9h0m-1.2 2.5h0m10.3-1h0m-2.3-11h0m.2 13.3h0m-36.9 3.4h0m-42.6 9.5h0m39 13.2h0m53.4-45.2h0m-65.5 20.4h0m53.6-16.8h0m-51.8 20.9h0m-10.8 19.7h0m13.8 8.8h0m18.5-22.9h0m24.9-12.7h0m1.3-.8h0m-18.7 6.9h0m-16.6 17.5h0m-50.6-21.2h0m113.8-18.2h0m-57.9 25.6h0m3.7-3.7h0m-8.1 5.5h0m45.1-12.9h0m-14.1 .8h0m-24.6 9.7h0m28.4-21.8h0m-30 16h0m32.1-18.1h0m-36.1 24.7h0m9.9-.3h0m22.2-8.9h0m-22 2.9h0m21-6.7h0m-33.1 11.7h0m-2.3-.9h0m43.8-28.6h0m-5.5 11.1h0m48.9 4.5h0m-89.4 23.7h0m2.1-8.2h0m90.4-20.2h0m-54.3 7.4h0m.6 2h0m-53.1 7.8h0m20 3.2h0m21.4-8.8h0m14.8-1h0m-33.1 11.4h0m-7.3-5.7h0m4.5 7.1h0m26.6-13.7h0m2.6-5.3h0m-6.8 7.1h0m-26.9 1h0m-4.3 1.6h0m52-9.7h0m2-6.5h0m-49.4 27h0m38.6-17.5h0m-24.7 10.8h0m-34.8 3.7h0m11.1 3h0m15 1.7h0m5.9-9h0m25.8-17.4h0m-45.1 18.8h0m21.1-3.1h0m-1.9-2.7h0m-3.5 5.6h0m32.5-20.2h0m-57.1 16.7h0m57.9-7.8h0m-37.8 9h0m-1.2 18.8h0m-22-18.8h0m28.3-2.9h0m59.8-13.1h0m-50.8 14.1h0m-56.5-1.4h0m68.7-2.3h0m28.2-25.8h0m-7 15.5h0m-42.2 16h0m-14.9 10.4h0m47.2-15.3h0m-24.4 2.9h0m-26.1 7.4h0m-3.4-2.1h0m33.5-7.6h0m21-17.7h0m-3.3 10.1h0m-38.9 12h0m-3 1.1h0m44.5-15.4h0m-40.8 33.4h0m52.2-25.9h0m6.2-1.7h0m-22.8-2.3h0m5.3 4.1h0m.6-14.9h0m6-.8h0m.5 15.5h0m-4-1.9h0m-2.7-10.5h0m-29.6 21.1h0m-9.9 5.4h0m-3.7-8.9h0m1.6 3.5h0m22.8-5.9h0m29.3-28.2h0m-43 40h0m-3.1 .1h0m29.3-20.7h0m-35.9 13.8h0m5.7 10.8h0m-14.9-16.1h0m-8.7 10.1h0m37.2-7.5h0m18.4-6.6h0m-2.4-5.8h0m25.9-2.5h0m-59.5 19.2h0m82.5-17.4h0m-27.7-11.6h0m14.4 16.8h0m-19.3-5.1h0m4.5 2.2h0m15 7.7h0m-30.7-.6h0m-30.6 2.4h0m39.3-5.9h0m-12.5-8.8h0m18.4-7.2h0m11.3 16.7h0m-71.2 20h0m56.6-18.9h0m-10-7.1h0m12.9 9.5h0m-16-12.1h0m14.3 2.6h0m-36.2 10.1h0m-24.1-.3h0m26.4 3.6h0m-26.6 5h0m34.7-10.3h0m2.2-2.8h0m-33.1 4.3h0m42.4-2.8h0m-38.9 8.5h0m6.8 3h0m55.8-11.8h0m-14.8-4.2h0m-52.3 9.9h0m55.1-28.1h0m24.6 12.5h0m-21.2 9.9h0m-8.5-3.7h0m18.8-25.3h0m-23.4 31.8h0m25.8-2.2h0m-63 24.7h0m-10.5-17.4h0m17.3 7.7h0m1.5 2h0m-23-11.3h0m48-6.2h0m-30.4 6h0m5.2 2.5h0m-6.3 4h0m2.7 2.6h0m24.2-14.1h0m18.2-26.6h0m-19.1 27.1h0m27.3-9h0m-29.8 7.8h0m-30 6.5h0m47.8-14.3h0m-18.6 8h0m-31.6 12.4h0m13.3-9.3h0m28.3-2.8h0m16.8-23.1h0m-51.1 29.1h0m40.8-13.6h0m.2-3.3h0m2-1.1h0m9.9 7h0m.7 4.7h0m-28.8 .2h0m-17.9 11.4h0m-6.5 6.9h0m56.5-19.4h0m-19.1-7.5h0m-6.1 5.2h0m-25.6 22.3h0m-17.8-14.6h0m12.5 10.7h0m31.3-14.3h0m-38.4 4.9h0m-21.9 11.6h0m20.9-2.8h0m30.7-12.8h0m-30.3 21.9h0m11.8-14.7h0m46.3-15h0m-.2-.8h0m-23.7 8.8h0m-36.5 23.7h0m13.4-14.3h0m51.6-21.2h0m-48.8 28.5h0m.9-8.9h0m26-12.1h0m-31.3 19.5h0m65.6-28.4h0m-27.4 10.4h0m-28 12.7h0m23.6-17.8h0m-3 .5h0m-30.5 13h0m6.9-5h0m-18.4 16.5h0m-27.6-6.5h0m44.1-8.5h0m-26.1 3.7h0m7.4 9.9h0m21.1-9h0m-22.5 1h0m51.9-7.7h0m4.6-7.9h0m-13.3 7.2h0m4.1-13.9h0m-49 15.9h0m17.2 6.8h0m-8.4 6.6h0m46.7-37.1h0m-4.7 15.5h0m26.1-1.6h0m-99.8 19.5h0m35.7 7.9h0m2.1-12.7h0m12.1-1.4h0m-30-2.1h0m32.6 .5h0m21.8-10.2h0m-38.6 27.2h0m17.2-15.6h0m23.7-8.9h0m-32.1 12.3h0m-11.7-7.3h0m51.7-14.2h0m4.2-10.3h0m-44.7 36.5h0m55-33.6h0m-26.3 17h0m-3 3.2h0m-1.4-4.6h0m11.1-1.9h0m-29.4 7.9h0m45.1-7.7h0m-39.1 9.2h0m-21.5 7h0m1.3 .6h0m44.4-24.9h0m-25.2 17.3h0m12-10.9h0m-2.1 9h0m-9.7 2.2h0m-2.1-.6h0m2.6-1.2h0m-10 13.5h0m9.9-12.9h0m6.3-1.8h0m-5.4 2.1h0m15.9-10.3h0m21.6-4.6h0m-38.7 16.5h0m-28.4 17.6h0m32.2-21h0m4-.9h0m-10.5 4.2h0m-13 6.2h0m58.9-23h0m-105 44.5h0m33.6-2.6h0m91.2-54.4h0m-68.6 34.4h0m18.5-11h0m-5.1-1.6h0m8-5.5h0m-20.6 17.2h0m7.5-6.8h0m-16.6 8.4h0m13.7-6.2h0m-37.8 24.6h0m44.6-28.3h0m34.9-7.9h0m-18.9 4.6h0m-56.4 26.2h0m58.8-29.8h0m-67.1 30.7h0m69.2-39.3h0m-15.9 9.4h0m-6 6.6h0m-59.4 30h0m67-37.8h0m-63.8 36.3h0m40.4-17.6h0m23.9-16h0m49.1-39.3h0m-79.7 56.9h0m14-5.4h0m50.3-47.1h0m-25.9 24.3h0m-14.4 13.9h0m-48 29.7h0m56.9-40.1h0m-15.3 14.1h0m-13.9 6.4h0m-12.7 3.4h0m-16.5 38.5h0m68.8-70.5h0m-44.3 31.5h0m36.7-19.2h0m-21.3 12.6h0m37.4-14.1h0m6.4-7h0m-6.9-10.8h0m-15.8 13.2h0m-33.1 32.3h0m13.6-13.7h0m-14.5 3.8h0m27.3-11.8h0m40.4-14.6h0m-2 4.5h0m-65.7 29.4h0m-22.2 23.9h0m61.6-61h0m18.2 8.3h0m-10.1-7.9h0m-38.2 30.8h0m12.3-10.8h0m33.8-22h0m-45.2 29.8h0m-21.6 8.9h0m30.9-15.2h0m-4.4 3.2h0m-10 11h0m23.5-17.2h0m-53.3 32.6h0m37.3-22.8h0m13.4-14.5h0m-27.6 15.8h0m61.2-37.6h0m-59.6 49.5h0m10.6-12.7h0m5.8-5.5h0m8.7-5.8h0m-36.2 29.8h0m23.1-21.2h0m25.9-14.4h0m-5.6-3.6h0m-11.7 12.9h0m-25.2 7.9h0m-11 19.9h0m48.9-39.3h0m-37.5 28.6h0m18-13.1h0m-9.6 1h0m-8.7 4.5h0m-17.4 2.3h0m21.5 4.6h0m40.1-34.9h0m-21.3 19.4h0m8.2-7.3h0m-22.4 19.1h0m51-22.8h0m-22.6 7.5h0m-7 .3h0m1.8-5.5h0m-31 24.3h0m9.8-2.4h0m4.2-10.7h0m7.5-2.4h0m19.9-7.8h0m-58.3 26.9h0m14.8-1.7h0m42.9-30.4h0m-31.5 21.2h0m41.7-33.9h0m-34.6 31.1h0m5.7-5.5h0m27.2-19.5h0m13.5 5.6h0m-77.8 25.9h0m-11.2-.5h0m61.7-19.5h0m-22 15.6h0m15.7-12.7h0m-10.1 6.7h0m7.8-4.8h0m18.9-11.5h0m-32.7 18.8h0m19.7-9.1h0m-49.1 18h0m40.9-15.4h0m3.3 0h0m-30.7 8.3h0m-5.8 11.3h0m40.7-25.7h0m-23.8 19.9h0m-33.1 10.3h0m19.8 4h0m50.5-46.9h0m-34.9 32.6h0m23.5-15.3h0m-35.5 24.3h0m-1.6-6.6h0m-31.5 18.8h0m53.2-29.2h0m-1.2-.6h0m-22.7 5.5h0m3.1 7.6h0m78.8-30.3h0m-41.1-.1h0m26.5-16.4h0m-68.6 41.1h0m-7.6 25.2h0m53.5-45.7h0m-32.5 17.6h0m-11.9 18.4h0m87.7-40.3h0m-4.9-5.3h0m-64.2 22.1h0m55.8-45.4h0m5.8 22.3h0m-32.6 13.6h0m-30.3 15.9h0m30.1-18.3h0m-44.7 22.2h0m34-15.1h0m-8.4 1.5h0m6.3-6.7h0m-3.7 6.2h0m-49.7 37.5h0m30.1-27.6h0m38.2-17.7h0m-39.9 18.5h0m-7.9 17.5h0m34.5-31.5h0m-16.7 8.6h0m-4.6 6.7h0m53.3-30.5h0m-27.1 16.7h0m1.1-8.6h0m-18 13.7h0m-33 14.4h0m30.2-12.5h0m12.3-5.9h0m14-4h0m-27.9 10.2h0m14.2-8.2h0m7.7 .9h0m9.3-5.3h0m-72.6 26h0m70.3-22.4h0m22-24.8h0m-55.2 39.8h0m-10-3.2h0m48.8-29.2h0m30.7-4.9h0m-32.6 19.2h0m8.5-13.7h0m-22.4 10.5h0m-20.2 16.9h0m-7.5 5.2h0m-9.7 15.4h0m3-17.2h0m-1.5 7.5h0m63.3-29.1h0m-40.4 13.4h0m-2.4 1.9h0m30-11.4h0m-44 28h0m24.8-25.6h0m23.6-4.8h0m-8.6 1.4h0m.7 3.3h0m-33.5 15.8h0m-23.3 14.4h0m27.7-19h0m25.7-24.4h0m-66.5 32.5h0m49.5-13.8h0m17.3-14.8h0m-18.1 14.7h0m-11.7 10.4h0m-44.8 27.3h0m57.3-37.5h0m45.6-11.5h0m-33 4.2h0m-29.3 22.4h0m-20.9 2.2h0m86.8-39.7h0m-48.8 21.8h0m33.7-20.1h0m6.5 4.1h0m-54.1 24.8h0m19.8-13.5h0m9.8 1.8h0m-13.7 1.1h0m-15.7 11.9h0m2.9-1.1h0m16.4-10.2h0m-21.4 16.1h0m55.2-36h0m-61.9 30.1h0m52.4-28.7h0m-40.5 28.7h0m14.6-11.6h0m59.6-21.3h0m-101.7 40.7h0m95.2-33.3h0m-90.4 29.7h0m-23 1.3h0m71-19.2h0m1.9-3.8h0m-19.5 10.4h0m-10 2.4h0m20.1-7.2h0m24.3-8.1h0m-77.6 35.4h0m94.7-36h0m-88.3 27.5h0m31.9-11.5h0m16-10.9h0m-12.3 9.6h0m13.3-8.6h0m-15.7 8.7h0m-9.1 6h0m43.4-19.8h0m-49.8 17.3h0m38.9-16h0m-21.7 12h0m-6.4 7.7h0m-17.9 2.3h0m30.6-14h0m-12.6 6.6h0m33.4-25.8h0m-36.2 28h0m37.6-14.2h0m4.2-11.9h0m41.8-12h0m-58.4 28.4h0m-59 15.7h0m92.9-23.6h0m-18.2-8.8h0m-18.4 12.2h0m-51.5 39h0m-26.6 2.7h0m77.6-42h0m-37.5 20.4h0m42.9-24.7h0m-25.2 16.3h0m-22 17.5h0m66.1-44.6h0m-50.5 39.9h0m-4.1 2.2h0m58.3-55.4h0m-24.5 30.7h0m-34.6 21.7h0m-1.1 2h0m-9.4-5.2h0m16.6-7.4h0m19.7-8.1h0m-6.6 4.2h0m-15.2 2.8h0m-14.5 25.9h0m44.2-39.2h0m12.2-7.2h0m-8.6 11.3h0m-39.7 16.6h0m37.7-26.7h0m-28.4 18.8h0m-5.8 2.8h0m-7.4 13.4h0m2.5-13.6h0m10.7 0h0m23-11.3h0m-64.6 21h0m36.8-5.8h0m-25.9 1.4h0m49.7-14.9h0m-36.6 17.1h0m-20 .5h0m62-22h0m3.4 3.6h0m19.7-17.3h0m-41.7 28.2h0m7.7-6.4h0m1.2-.3h0m-17.4 11.4h0m3 1.6h0m-1.6 3.2h0m-25.7-1.8h0m21.7-7.6h0m31.5-16.7h0m4.4-6.5h0m-31.7 21.5h0m-7 9.9h0m36.4-24.6h0m-34 18.7h0m31.1-13.1h0m31-6.1h0m1-5h0m-17-11.8h0m-10.8 10.2h0m-66.5 32.2h0m96.7-27.7h0m-29.1 4.1h0m-8.9 6h0m-31.5 14.8h0m20.5-11.7h0m61.2-26.3h0m-81.3 43.1h0m61.2-50.6h0m-37.1 32.5h0m-1.6 .7h0m11.8-10.6h0m-47.6 30.9h0m7.5-9.9h0m-12.4 9.5h0m39.5-19.1h0m16.4-13.9h0m-12 11.4h0m66.6-38.2h0m-46.4 30.5h0m-37.8 25h0m4.2-5.7h0m54.5-30.5h0m-56.3 29.6h0m-25.8 17.2h0m54.8-43.8h0m37.7-22.1h0m-41.9 28h0m-41.9 26.5h0m24.5-9.9h0m-5.1-1.8h0m-15.4 2.9h0m-10.3 7.9h0m69-24.2h0m-6.5-8.6h0m-21.5 17.2h0m47.9-36.7h0m-31.8 32.4h0m-12.7 3.7h0m-48.6 42h0m25.4-32.5h0m3.9 2h0m19.1-17.5h0m-61.1 43.5h0m57.5-39.4h0m9.4-4.4h0m-16 10h0m39.3-23.4h0m-23.7 17h0m3.4 .7h0m-67.7 45.3h0m57.5-45.7h0m43.1-14h0m-46.4 15.9h0m39.4-21.5h0m-20.7 6.3h0m-3.7 6h0m-21.9 13.5h0m22.9-7.4h0m-84.7 37.7h0m74.6-37.6h0m6.4-10.2h0m-47.2 42.9h0m41.7-37.6h0m10.3-6.4h0m-111.1 91h0m68.2-57.5h0m-21.4 6h0m40.8-21.9h0m-63.3 49.3h0m43.8-43.8h0m-23.6 43.1h0m37.6-40.5h0m22-13.5h0m36.6-27h0m-65.9 40.9h0m-2.4-1.4h0m45.4-15.2h0m-70.4 41.5h0m10.2-25.4h0m19-2.4h0m7.1 .2h0m-51.7 20.1h0m46.9-22.2h0m-12.6 1.6h0m23.2-5.4h0m52.8-47.4h0m-62.9 58.6h0m-40 29.1h0m95.5-67.5h0m-56.3 35.8h0m43.7-23h0m-13.6 5.9h0m-28.4 13.3h0m7.1-3.2h0m.4-.3h0m42.1-16.2h0m-86.1 35.8h0m7.1-9.4h0m6.2 4.3h0m40.1-21h0m-3.8 3.7h0m-63.1 17.3h0m30.6-9.2h0m-28.1 44.6h0m85.6-63.8h0m-81.8 41.2h0m60.2-31.5h0m-10.8 3.6h0m71.4-33.5h0m-33.4 7.6h0m-45.5 36.7h0m-25.8 8h0m30.8-13.1h0m-23.1 10.5h0m73.6-44.9h0m19.3-9.9h0m-98.6 49.3h0m47.7-24.4h0m-9.7 11.9h0m51.9-22.4h0m3.7 5.2h0m-60.7 20.5h0m-23 10.7h0m41.5-21.1h0m-9.2 5.6h0m-31.6 14.7h0m-7.1 15.3h0m-5.4 7.1h0m50.2-40.5h0m-24.4 12.9h0m-6.3 0h0m-34.8 23.8h0m24.9-4.9h0m8.9-14.4h0m37-25.5h0m46.3-21.7h0m-79.8 47.6h0m-59.8 47.4h0m131.1-103.4h0m-26.2 30.4h0m-62.1 23.8h0m-5.8 4.8h0m10-2.5h0m-16.3 5.7h0m11.1-6.2h0m49-26.3h0m-12.4 11.5h0m29.8-31.5h0m-23 27.5h0m46.2-30h0m-49 29h0m7.7 1.1h0m18-29h0m-18.5 27.5h0m-51.7 23.6h0m45.7-19.6h0m42.4-30.8h0m5.4-8.5h0m-39.2 30.7h0m-12.2 11.2h0m34-24.3h0m-39.4 26.2h0m49.5-47.3h0m-26.3 29.6h0m-2.9 8.2h0m-65.1 35.7h0m31.5-23.1h0m-37.3 47h0m69.1-61.2h0m25.2-34.3h0m-75.3 56.8h0m10.8 11.1h0m53-39.9h0m-105.8 59.3h0m121.1-53.4h0m-27.6-3.3h0m-32 26.5h0m37.1-31.3h0m-53.2 42.1h0m74.2-65.4h0m-38.1 39.2h0m-68.7 25.5h0m25.3-9.6h0m87.7-35.1h0m-45.6 18.6h0m57.3-24.5h0m-90.5 37.3h0m4.5 10.9h0m47.1-36.3h0m-105.1 45h0m-3.4 5.9h0m50-22.9h0m14.6 1.4h0m48.9-27.7h0m-37.9 18.3h0m38.1-13.3h0m-27.7 8.1h0m63.7-62.1h0m-2-.6h0m-90.2 82.2h0m-5.5 9.6h0m45.8-35.1h0m-12.3 6.3h0m18.2-8.6h0m-39.5 23.8h0m47.5-36.6h0m-31.5 23.6h0m-14.9 15.2h0m-22.9 20h0m12.7-8.1h0m15.5-22.8h0m-18 18.9h0m33.6-25.5h0m1.8-.8h0m-19.2 13.9h0m40.7-28.3h0m5.6-8h0m9.6-19h0m-81 60.1h0m50.2-20h0m-14.5 5h0m29.7-26.3h0m-29.1 27.1h0m-11.9 6.9h0m-14.6 7.9h0m46.8-33.1h0m19.2-1.4h0m-60.9 27.1h0m75.1-48.6h0m-45 34.4h0m5.7-3.6h0m10.9 .4h0m-22 8.4h0m-6.9 5.4h0m9-6.9h0m10.6-9.7h0m-7.7 6.4h0m-1.8 3.2h0m-18 12h0m4.8 .3h0m3.7-6.5h0m-12.6 .3h0m69.1-30.3h0m-21.2-2.8h0m-35.4 31h0m32.7-29.6h0m-14.9 20.3h0m-31.8 13.6h0m-10.7 15.1h0m84-36.2h0m-16.4-14.7h0m5.1-6.3h0m-41.6 35.4h0m11.7-10h0m2.7 3.3h0m16.2-10.1h0m5.6-1.8h0m-65.7 46.2h0m25.5-27.2h0m18.8-14.9h0m41.9-.2h0m-47 10.1h0m-18.2 8.4h0m-44.4 51.3h0m20.9-33.7h0m89.7-54.8h0m-68 37.9h0m71.6-62.5h0m-150.3 127.1h0m77.6-59h0m-2.7 .7h0m24.5-16.7h0m26.5-11.9h0m-112.7 78.1h0m45.5-53.8h0m-10.2 21h0m57.4-40.5h0m-8 9.5h0m1.2-1.5h0m-61.3 25.1h0m69.9-28.9h0m-62.8 29.3h0m75.8-29.5h0m6.8-8.6h0m-40 18.3h0m31.8-15.6h0m-49.7 22.6h0m11.9-6.1h0m53.3-38.4h0m-69 46h0m72.5-33.5h0m-25.7 15.1h0m36-16.2h0m-20.4-15.7h0m-27.6 32.2h0m-42.8 29.9h0m40-29.2h0m-55 18.4h0m119.2-45.2h0m-74.9 36.1h0m-42.5 14.8h0m-34.4 11h0m55.6-17.9h0m71.2-59.4h0m-38.5 43.3h0m-45.5 15.5h0m57.8-23.4h0m-4.8 .4h0m-15.6 13.6h0m-51.8 53.6h0m43.9-51h0m35.6-13.2h0m10-7.2h0m-25.4 12.2h0m13.9-14.5h0m-72.9 56.4h0m25.9-30h0m28.4-11.1h0m-3.6 1.7h0m-19.5 17.8h0m31.6-20.6h0m-67.3 41.2h0m36.1-19.4h0m21.6-19.1h0m21.5-21.7h0m-58.1 34.9h0m-4.6 23.3h0m59.5-57.4h0m-.6 13.9h0m-50.5 35.2h0m49.2-48h0m-8 10.2h0m-27.3 23.8h0m69.7-36.8h0m-36.1 12.4h0m-2.9-1.1h0m-12.9 12.4h0m-38.6 17.9h0m72.5-35.8h0m-40.2 20.1h0m37.7-.2h0m.5 0h0m-108.5 .5h0m63.6 .2h0m27.2-1h0m1.3-.3h0m-2.7 .2h0m11-.1h0m24.9-.1h0m-76.5 .9h0m-19.8 .5h0m48.8-1.1h0m-2.6 .1h0m27.5 0h0m3.2 .2h0m-112.4 1.7h0m65.9-1.1h0m74-1.1h0m-62 .4h0m1.6-.2h0m-77.7 .8h0m71.9 .1h0m-34.7-.3h0m15 .3h0m17.4 .1h0m73.1-.6h0m-41.1-.3h0m-22.4-.2h0m40-.7h0m-.9 1.2h0m2.4-.9h0m-73.3 1.2h0m-8.2 .8h0m75.6-1.6h0m-49.9 1.5h0m-8.7-.4h0m15.4 .4h0m28.1-1.3h0m-74.9 .9h0m15-.5h0m12.7 1h0m-14.7-.9h0m44.3-.8h0m48 .4h0m-106.7 .8h0m117.6-1h0m-57.1 .4h0m-20.2 .1h0m27.9-.1h0m-3.3-3.4h0m1.2 .3h0m-.4 .1h0m4.8-.7h0m-11 1.4h0m12.6-1.3h0m-8.6 1.2h0m16.5-1.2h0m-22.3 .8h0m15.9-.2h0m-16.2 .6h0m12.4-.4h0m-6.6-.1h0m-5.7 1h0m.9-1.4h0m4.9 .6h0m28.1-.8h0m24 .6h0m-39.3 0h0m-17.3-.6h0m-.2 .1h0m.2-.1h0m17.3 .5h0m20.9 .3h0m-31.9 .2h0m3.9-.5h0m-1.9-.1h0m16.3-.6h0m3.4 .8h0m-3.9-.2h0m-17.8 .5h0m-9.7-.1h0m5.9-.1h0m16.5-.4h0" stroke="#f8b0b0" stroke-width="1.2" stroke-linecap="round" fill="none" stroke-opacity="0.9"/>
<path d="M477.9 253.1h0m11.1 3.9h0m-5-9.1h0m-4.5 4.8h0m-5.3-7.5h0m6.8 9.4h0m7.3 3.7h0m-9.1-8h0m18.2 7.2h0m-9.6-13.7h0m-1.6 11.6h0m-14.2-7.6h0m25.5 12.2h0m-15.4-7.7h0m2.3 15.6h0m1.9-19.5h0m13.6 18h0m-16.1-12.7h0m25.8 10.9h0m-4.9 8.1h0m-15.1-21.3h0m-5.1-6.1h0m-.1 20.7h0m12.7-8.7h0m-18.4-6.9h0m-15.2-.8h0m42.1 14.4h0m-3.9 3.2h0m-10.8-9.1h0m-3 4.4h0m-3.6-15h0m-1.4 21.2h0m4.4-9.5h0m-6 13.4h0m6.2-30.3h0m-6.5 6.9h0m16.2 6.9h0m10.7 5.8h0m-19-6.8h0m6.2-15.4h0m-5.7 20.2h0m-8.9-9.6h0m10.1 9.4h0m-6.6-13.1h0m20.3 11.9h0m-39.5-9h0m26.6 10.3h0m25.8 5.8h0m-22.2-1.3h0m-2.7 4.4h0m-3.5-24.1h0m-.8 6.7h0m11.3 7.5h0m-7.7-2.3h0m-8.8 8.6h0m19.4-9.3h0m-11.6-5.5h0m19.3 7.6h0m-28.8-2.2h0m-17.6-8.7h0m15.5-2.6h0m7.9 9.6h0m5.4 4h0m-16.3-10.5h0m10.1 .9h0m1.4 4h0m14.8 7.7h0m-8.8-17.4h0m-.6 5.5h0m2.7-4.1h0m-7.3 9.6h0m-15.3 .5h0m36.2 13.9h0m-27.9-15.7h0m13.2-5.2h0m-9.7 16.8h0m21.2 6.7h0m-16-19.3h0m-7.6 16.4h0m42.4-5h0m-46.9-14.4h0m.5 2.1h0m51.7 17.5h0m-61.6-13.4h0m17.9-12.4h0m2.9 16.5h0m3.4-.9h0m-10.6-6.4h0m-10.1-7.5h0m14.9 3.2h0m.5 5.3h0m-3.7 18.2h0m4.3-2h0m8.2 7.8h0m-7.3-29.6h0m-.7 14.8h0m3.2-9.5h0m5.1 6.5h0m-13.4-14h0m7.4 .4h0m-3.8-1.4h0m11 28.4h0m-5.1-21.9h0m-27 2.6h0m13.6-6.9h0m22.6 10.3h0m.4 .8h0m-15.4 6.1h0m7.2-.3h0m-.6-6.4h0m-8.1-9.5h0m15.2 17.6h0m-13.7-8.8h0m-16.7-.5h0m11.8-15.8h0m1.8 15.9h0m7.5-3.2h0m-3.6 1.8h0m14 3.6h0m-16.7-8.4h0m16.4 21.1h0m-19.1-25.5h0m32.8 11.2h0m-26.9-13.9h0m-10.3 4.8h0m8.8 15.7h0m8.3-3.5h0m7 5.8h0m-17.3-17.5h0m8.5 .9h0m-13.8 4.5h0m5.8 .3h0m10.2 13.4h0m-30.5-20.7h0m24.1 25.5h0m-4.7-18.3h0m-1-12.6h0m-6.9 2.8h0m.3 10.4h0m21.6 5.9h0m-.9 4.5h0m-14.1-30.8h0m-11.2 15.8h0m13.4 4.8h0m13.7 4.9h0m-10.2 2.8h0m.4 5.8h0m-.1-14.5h0m-3.1 2h0m-7.5-3.2h0m19.3 15.6h0m-5.6-22.8h0m-28.1 3.1h0m7.6 1h0m-12 5.2h0m20.7-14.1h0m1.2 2.7h0m-28.1-.4h0m33.3 10.5h0m7.2-13.5h0m-25 17h0m5.7-1.5h0m18.7-14.7h0m-16.5 9.4h0m10.3 26.5h0m1-20h0m-9.1-2h0m8.8 .4h0m19.2 9.2h0m-25.6-7.3h0m34 6.6h0m-29.7-1.1h0m15.4-2.4h0m-7.5-.8h0m-1.5 10.8h0m.9-10.4h0m-8.1-8.9h0m3.5 1.7h0m-3.2 .5h0m3 4.8h0m-5.2-5.2h0m18.9 10.1h0m-27.9-10h0m14.6 5.7h0m-3.2-6.7h0m-14.3-2.7h0m33.6 8.5h0m-13.3-6.5h0m-2.7 11.4h0m-10.1-7.1h0m8.5-1.4h0m-25.2-1.8h0m38 7.3h0m-13.8 9.2h0m8.8 1h0m-9.7-15.5h0m0 1.8h0m-2.1 7.5h0m-20.3-13.9h0m35.7 10.6h0m-5.9-15.1h0m-7.3 6.6h0m-11.2-2.9h0m17.5 16.2h0m-.1-12.9h0m-13.8 4.4h0m-8.3-.6h0m31.9 4.5h0m-13.3-7.3h0m-7.2-1.5h0m10.7 7h0m9.8-.3h0m-42.1-16.6h0m29.7 3.5h0m6 14.6h0m-11.2-3h0m6.3 2.9h0m-4-3.7h0m6.7 8.9h0m9.6 2.1h0m-19.6-22.2h0m11.8 15.8h0m-7.4-7.4h0m8.1 14.2h0m6.1-3.6h0m-10.1-2.1h0m-1.2-4.2h0m-6.2-1.1h0m17.9 10.1h0m-1.6-7.1h0m-15.3 6.6h0m14.5 .2h0m-5.8-8.2h0m-3.8-9.8h0m-16.6-7h0m9.3 14.2h0m17.5 13h0m-4.7-8h0m2.4 6.3h0m-30.9-10.9h0m29.5 6.7h0m-16-9.5h0m5.4 9.1h0m25.9-.6h0m-33.8 13.9h0m18.2-15h0m-9.3-.1h0m19.4 4.2h0m-20.7 11.8h0m7.8-15.1h0m-2.2 5.3h0m-25.7-12.4h0m18.1-.6h0m31.3 12h0m-24.3 3.2h0m17.9-1.6h0m-17.3-.1h0m-2.8-9.8h0m-9.8-7.6h0m6 19.6h0m-2.9-12.3h0m12.1 14.3h0m.3-11.9h0m-5.1-5.7h0m1.5 8.4h0m-15.5-18h0m15.1 22.9h0m-6.7-12.6h0m2.5 .6h0m8.3-12.9h0m-12.9 8h0m-7.6-5.6h0m14.5 23.2h0m11.2-3.3h0m-20-10.4h0m14.1 18.5h0m-.1-11.4h0m9.1 6.8h0m-17.4-11.9h0m9.1-9.4h0m-18.4 9h0m9.5 8.4h0m.5 2.6h0m13.4-6.6h0m-18.5-3.5h0m13.4 4.5h0m-19.1-7.3h0m17.9 10.7h0m-6.3-10.7h0m13.3 4.5h0m-26.5-15.1h0m5 11.5h0m13.6-5.5h0m3.6 13.5h0m-9.5-1.4h0m3.3-3.5h0m1.7-15h0m13.7 28.1h0m-27.8-21.2h0m13.8 14.2h0m-18.1-8.6h0m20.2 5h0m3.3-2.4h0m-26.3-15.5h0m18.3 9.4h0m1.2 11.7h0m26.3-1.7h0m-32.9-8.8h0m7.4 16.8h0m-10-17h0m15.6-6.8h0m-4.7 6.7h0m-2.8 22.2h0m25.7-13.3h0m-29.8-4.7h0m-.1 6.3h0m-19-16.6h0m26.9 12.1h0m3.8-9.9h0m-16.2-.4h0m10.6 .8h0m7 13.5h0m-20.4-5.7h0m12.2 2.3h0m-4.2 3.1h0m24.7 11.7h0m-20.7-13.5h0m-1.9-7.2h0m-2.9 1.3h0m6.6 13.5h0m1.7-16.9h0m-6 5.1h0m7.1 12.4h0m7.6-11.2h0m2.8 2.5h0m-3-1h0m-10.3-5.1h0m3.7 11.7h0m-25.4-11.7h0m35.9 4.8h0m-10.4 4.4h0m-16.2-18.6h0m-12.5 .6h0m18.5 11.5h0m3.3 8.3h0m10-25.9h0m-4.7 9.9h0m-11.4 5.9h0m36.5 11.8h0m-31.5-5.2h0m1.2 .7h0m7.9 .3h0m-11.3 10.4h0m7.5-5.8h0m-8.5-3.1h0m-.9-11.6h0m14.7 6.8h0m.7 9.9h0m-10.7-6.9h0m-11.3-19.3h0m26.6 19.3h0m-15.7-.2h0m-1.6-7.1h0m5.4 7.8h0m-6.4-10.1h0m-22.9-5h0m27.9-.3h0m2.3 1h0m-.6 15.7h0m-4.3 2.2h0m-2.5-10.3h0m15.4 2.7h0m3.9 .2h0m-14.3-2h0m-4.9-12.4h0m6.9 14.9h0m6.9 8.5h0m-5.1-6.1h0m22.6 .2h0m-30-6.1h0m-10.5 0h0m16.9 14.3h0m-10.1-22.2h0m9.6 1.2h0m15.5 14.1h0m-16.1-12.4h0m.3 3.3h0m-5.2 12.4h0m-5.6-12.5h0m9 12.6h0m14.7-7.8h0m-9.8 10.9h0m4.1-2.7h0m-10.7-7.3h0m1.4-3.7h0m-11.6-.5h0m7.5 8.5h0m-6.3-9.9h0m16.7 6.4h0m-4.2-1.1h0m-11.7-6h0m-.8 .5h0m1.6-.3h0m4.9-8.8h0m-1.7 25.5h0m6.2-14.2h0m5.9 9.5h0m-7.1-18.3h0m22.9 20.7h0m-17.9-6.7h0m1.4-11.8h0m16.9 16.2h0m-27.8-.3h0m4.7 5.3h0m4.8-12.7h0m11.3 7.8h0m-11.7-5.6h0m-3.5 6h0m-8-10.4h0m6.7-2.8h0m-1.9 8.9h0m.3-11.4h0m-1.4 14.1h0m12.3 8.2h0m-9.3-16.6h0m9.4 15.5h0m-1.9-2.1h0m-6.9-7.8h0m-9-7h0m7.4 6.8h0m-8.1-8.9h0m12.6 6.1h0m-2.2 1.7h0m-3.7-10.3h0m4.2-1.2h0m33.4 15.5h0m-12.1-2.2h0m-26.9-6.3h0m-13.6-11.2h0m22.7 .5h0m-10.8 24.7h0m-6.4-14h0m24.8 9.3h0m4.5 .1h0m-23.1-15.7h0m15.2 17.4h0m-13.8-16.7h0m-.8 14.4h0m21.3 7.5h0m-18.6-18.4h0m2.3 12h0m9.3 .4h0m-9-5h0m14.5-.2h0m-11.2-15.5h0m-2.9 6.8h0m20.7 11.8h0m-19.8-11.7h0m2.8 1h0m-8.2 2.9h0m3.7 7.6h0m11.9 5.5h0m2.7 2.6h0m-6.1-4.8h0m2.4 6.3h0m-7.6-11.3h0m-5 4.5h0m-8.3-10.5h0m9.9-6.7h0m4.5 27.5h0m-11.4-8.5h0m-1.7-11.7h0m26.6 2.8h0m-23.5-3.7h0m-1 .5h0m19.2 11.4h0m-9.4-9h0m3.3 7h0m-12.1-15.7h0m-10.9 6.5h0m16.6-1.6h0m.5 2.1h0m3.1-11.7h0m4 3.6h0m-13.5 16.7h0m21-4.8h0m-16.2-4.9h0m28.8 10h0m-8.4 6.5h0m-35.5-24.8h0m13.4 4.3h0m13.4 10.2h0m-6.3-15.7h0m.1 3.5h0m19.6 10.9h0m-25.3-29.2h0m-.6 29.5h0m-5-4.6h0m13.3 11.6h0m3.3-4.9h0m-13.9-11.7h0m12.8 18.6h0m-11.2-5.6h0m-19.1-14.1h0m37.1 21.1h0m-.5-6.5h0m-19.5-13.3h0m.3-2.1h0m14.3 8.7h0m-10.9 5.9h0m4.7-22.8h0m-9.6 11.2h0m1.1 1.6h0m2.1 14.3h0m.2-12.5h0m3.6-2.9h0m4.7-1.9h0m19.3 6.8h0m-36.6-7.3h0m15.8 18.7h0m6.2-6h0m-21.7-13.7h0m8.2 .9h0m-6.1 4.3h0m8.6-14.7h0m-17.2 6.3h0m10.6 4.9h0m2.6 4.7h0m-11.5-16.2h0m26.6 17.3h0m-10.8-3.2h0m-8.6 1.6h0m10.5 12.2h0m3.5-10.1h0m-25.5-17.8h0m22.5-7h0m-11.8 22h0m2.8-10h0m8.5 18.2h0m-1.2-6.7h0m-5.3 .2h0m-2.2-1.9h0m13.7 2.7h0m8 14h0m-3.2-35.1h0m-1.1 34.8h0m-25.8-16.4h0m20.8 14.2h0m-4.7-25.5h0m-.9 10.9h0m0 1.9h0m15.5 4.8h0m-21.5-9.1h0m-1.3-9.3h0m7.1 2.7h0m8 23.4h0m-15.3-15.1h0m12.4 13.3h0m-16.2-18.9h0m-3.2 2h0m10.4-9.5h0m10.1 17.6h0m-10.1 8.1h0m11.4-1.7h0m-12.4-11.7h0m9.5 5.9h0m-10.4 8.2h0m-4.4-12h0m12-3h0m5 11.5h0m-7.4-15.1h0m11.8 17.6h0m-21.4-19.5h0m12.1 3h0m-6.3 5.7h0m18.8 12.9h0m-18.3-14.5h0m-5.2-5.4h0m5.7-.5h0m5.7-5h0m-25.1 7.2h0m5.4 4.7h0m40.3 12.5h0m-37.2-12.6h0m45.1 9.4h0m-26.5 .1h0m3.9-4.8h0m-18.3-2.9h0m10.9 2.2h0m15.2 16.1h0m-16.1-4.1h0m18.1-12.5h0m-23.6-.9h0m12.2 12h0m-7.3-7.1h0m4.9 8.7h0m-32.4-21.5h0m19.4 1.2h0m15.4 6.9h0m2.8 2.8h0m-4.4 .7h0m1.2 4.1h0m9.4-7.3h0m-18.2-6h0m20.9 9.9h0m-5.8 2h0m16.8 4.4h0m-15-4.8h0m-15.4-2.5h0m-6.7-9.1h0m9.2 3.6h0m-3.5 2.1h0m-19-17h0m26.1 18.4h0m-16.6-7.2h0m24.5 8.5h0m-6.9 .6h0m-5.4-15.1h0m-12.2-5.4h0m-8.2 9.8h0m26.8 21.7h0m-24.2-31h0m14.4 28.5h0m11.9-10.6h0m-30.6-12.7h0m21 21.8h0m-7.9-17.1h0m9.4 7.8h0m-1.6-1.4h0m10.1 6.2h0m-16.8-18h0m17.4 18.1h0m-15.7-9.5h0m-4.2-9.2h0m9.1 4.3h0m12.6 12.7h0m-4 1.9h0m-9.2-13.7h0m-15.3-1.7h0m18.5 2.5h0m-6.3 14.1h0m3.9-8h0m-1.1-12.4h0m2.6 23.2h0m-1.3-15.3h0m-1 4.1h0m3.4 9h0m-2.3 3.1h0m5.1-16.4h0m15.7 18.7h0m-17.7-28.3h0m13.5 19.7h0m-22.8-7.5h0m8 1h0m13 8.7h0m-23.2-7.9h0m23.1 2.2h0m-5.5 2.4h0m-11.3-17.3h0m26.2 16.1h0m-22.5-4h0m16.5 16.8h0m-33.6-20h0m10.2 2.4h0m-26.3-3h0m35.6 13.9h0m-15.5-15.7h0m9.3 4.5h0m3.4 11.2h0m-10.8-15.4h0m20.2 13.1h0m-9.1-4.8h0m13.8 7.1h0m-8.5-7h0m-25.9-12.3h0m17.9 6h0m-8.8-2.2h0m18.8 9.5h0m.2-11.1h0m-2.8-1.5h0m1.9 17.7h0m-19-9.1h0m8.4-2.3h0m1.8-2.4h0m1.8 7.8h0m1.4-21.2h0m14.1 21.4h0m-30.9-5.5h0m16.8 .1h0m-5.8 1.1h0m14.6 4.9h0m-11.9-6.8h0m7.2 13.1h0m17.2-6.4h0m-6.7 5.3h0m-13.8-10.3h0m1.2 15h0m16.6-5h0m-8.9-.1h0m-18.3-9.2h0m-2.9-8.3h0m13.7 22.8h0m-1.1-11.2h0m-.2-4.1h0m-4.7 .2h0m-1.6-8.1h0m1 17h0m22.4 .9h0m-9.4-2h0m-10.7-14.7h0m-9.9-2.7h0m33 17.2h0m-16.9 1.6h0m7.9-3.4h0m-28.5-6.7h0m1.4-9.1h0m28.4 16h0m-7.5 2.9h0m-7.4-12.4h0m.6 3h0m9.4 11.9h0m-32.4-18.5h0m17.3 7.9h0m.7-19.3h0m-5.5 12.8h0m16.7 1.2h0m-2.6 9.3h0m0 9.8h0m-13.8-21.6h0m7.5 25.2h0m-2.6-19.2h0m7.5-3.3h0m2.7 10.3h0m-8-5.4h0m-4.9-9.7h0m-4.5 .6h0m20.4 11.5h0m-8.3 1h0m13.3 3.6h0m-17.6 11.4h0m-13.6-29.3h0m13.2 11.1h0m3.8-5.8h0m-1.8-3.3h0m2 13.4h0m17.4 5.4h0m-11.7-4.7h0m-13.2-7.2h0m-5.2 3.5h0m35.6 18h0m-20.5-19.6h0m-11-6.8h0m18.3 27.3h0m-1.1-4.1h0m9.8-5.9h0m-19.4-9.7h0m4-2.6h0m-35.2-8.6h0m32.1 3h0m21.5 15.2h0m-21.1-8.6h0m4.3 10h0m-13.2-11.2h0m3.1 1.3h0m2 1.5h0m19.6 5.2h0m-11.9-12.4h0m-13.3 7h0m17 14h0m5.9-11.4h0m7.3 3.9h0m-27.4-9h0m3.4 2.9h0m2.2 13.3h0m7.1-6.2h0m4.7-2.6h0m-20.5-15.2h0m13.1-3.5h0m11.1 23.4h0m-15.1-13.8h0m-1.4 14h0m-1-9.4h0m-3.2-8.8h0m-13.2-4.2h0m17.6 12h0m2.4-8.4h0m-3.5 9.1h0m-10.8-6h0m16.9-1.5h0m1.2 4.4h0m17.8 8.8h0m-17.1-3.3h0m-4.5 16.2h0m-4.5-19.5h0m25.5 5h0m-24.9-3.2h0m14 6.4h0m-16.3 1.6h0m22.9 2.7h0m-30.6-20.9h0m15.7 7.7h0m1.7-1.1h0m4.9 10h0m-3.5-3.9h0m11.3 6.1h0m-18.9-15.2h0m18.5 10.8h0m-18.3 2.3h0m-3-23h0m-22.3 2.7h0m25.7 13.7h0m.3-7.7h0m10.4 11.2h0m-25.5-11h0m16.7 17.2h0m7.3-8.6h0m22.1 5.2h0m-34.1-11.9h0m11 10.4h0m6.7-22.3h0m3.9 22.5h0m-22.6-13.7h0m9.2 11.9h0m-14.1-15.9h0m14.8 32.3h0m-5.9-14.9h0m-3.7-4.1h0m2.4-6.6h0m2.1 8.8h0m.4-.9h0m11.8 1h0m-16.3 9.2h0m20.4-11.2h0m-13.1 7.8h0m4.3 1.2h0m-10.9-13.8h0m19.2 6.5h0m-14.7-4.1h0m-34.2-3.2h0m31.1 1.7h0m1.5-10h0m4.8 20h0m12.1-5.7h0m-8.7 4.1h0m-11.2-15.4h0m1.4 17h0m9.2-15.6h0m-14.7 7.8h0m17.6 7.5h0m-14.5 4.6h0m-19-12.9h0m19.2 1.1h0m24.8 2.1h0m-23.2-21.9h0m25.3 28.8h0m-34.9-9.5h0m15.5 12.5h0m10.8-7.6h0m-24-4.3h0m19.6 5.6h0m26.9-.7h0m-41.5-17h0m19.2 23.8h0m-18-4.2h0m-12.6-9.9h0m44.1 28.5h0m-16.3-16.3h0m-10-19.3h0m17.9 17.6h0m-16.8-10.9h0m-4.5 16.5h0m5.7-17.6h0m-4.5 11.1h0m-14.5-7.9h0m31.6 9.5h0m-13.4-21.3h0m-16.4 9.8h0m-2.4 .4h0m9-7.5h0m5.8 9.2h0m17.3 4.2h0m-30.2-18.8h0m19.2 20.9h0m-2.1-.4h0m12.7 .9h0m-7.6 6.6h0m13.2 4.3h0m-21.2-8.3h0m-2.6-13.8h0m1.2-5.1h0m-2.3 3.8h0m5.4 8.1h0m15.2 1.5h0m-6.7 2.9h0m-33.2-21.7h0m22.7 29h0m-13.4-33.5h0m13.3 13.1h0m5.2 12.9h0m-13.6-6.6h0m15.2 11.3h0m-26.8-18.8h0m5.4 8.4h0m8.1-15.4h0m14 23.5h0m-7.2 .7h0m11.6 .7h0m-14-13h0m35.9 8.7h0m-30.9-11.2h0m2 7.5h0m-21.7-1.3h0m23.4 1.3h0m-15.3-2.8h0m5.5-7.3h0m5.2 2.2h0m6.5 22.7h0m6.5-2.5h0m-.3-5.8h0m-16.6-.6h0m4.5-10.6h0m1.4 10.8h0m-20.1-11h0m12.1 .5h0m7.5 .8h0m0-12.7h0m-17.1 7.7h0m4.5 2.8h0m16.9-7h0m-10 6.2h0m22.5 10.1h0m-29-5h0m9.4 10.3h0m15.2-8.2h0m-10.7-10.5h0m-1.9 10.4h0m-2.3-1.5h0m-2.8 9h0m11.2-19.1h0m5.6 10.8h0m-10-.2h0m-4.5 3.9h0m-5.5-7.5h0m8.6 0h0m11.7 5.6h0m-10.1 2.2h0m4.4 4.1h0m-15.6-9.8h0m24 12.9h0m-5.3-5.2h0m-14.9-14.4h0m7.9 8.7h0m-10.6-10.7h0m20.3 14.3h0m3.9-.4h0m-33.7-7.1h0m12.3 2.7h0m11.3 13h0m-8-4.2h0m-7.2-9.3h0m5.5-.3h0m9 7h0m-4.6 1.6h0m-14.4-27.2h0m7 17.5h0m30.4 18.4h0m-13.9-14.4h0m-11.7-.4h0m4.6-1.1h0m-4.6 3.2h0m-2.7-11.6h0m-15.9 5.1h0m18.7-5.8h0m-20.1 2.8h0m7.1-6.2h0m14.8 13.1h0m1.5-8.1h0m-14.4 2.8h0m25.4 15.4h0m-7.5 4.6h0m10.7 2.2h0m-24.3-34.2h0m16.7 25.3h0m-39.2-20.2h0m35.6 18.5h0m-43-13.2h0m38.5 14.8h0m11.2 1.7h0m-13.7-1.7h0m20.5-4.3h0m-20.3-2.3h0m2.3-1.9h0m-9.8-7.7h0m-19-3.5h0m30 4.3h0m-18.5 4.3h0m11.9-3.9h0m-.3 3.6h0m18.1 6.2h0m-24.4-11.2h0m11.6-.4h0m-2.8-9.1h0m4.1 27h0m-6.7-3.8h0m7.4 5.2h0m-15-18.8h0m22.9 15.2h0m-14.9 2.6h0m8.3-1.5h0m-14-15.1h0m9.9 15.5h0m-.9-6.1h0m-1.4 .2h0m-1.1-15.9h0m-.4 12.4h0m2.5-.7h0m25.4 3.6h0m-24.5 13.4h0m-13.1-21.2h0m12.3 8.8h0m2.2-6.7h0m5.4 7.3h0m-22.9-15.1h0m-1.2 7.2h0m18.7 1.9h0m1.8-6.3h0m1.7 12.8h0m-9.4-9.8h0m-9.1-1.4h0m33.1 8.4h0m-21.9-14.9h0m5.1 18.9h0m-10.1-5.9h0m38.8 3.7h0m-46.8-10.2h0m18.6 10.1h0m1.8-2.9h0m-22.3-11.3h0m25.4 21h0m-17.7-16.4h0m10.4 15.8h0m-16.7-15.6h0m20.3 .5h0m2.6-7.2h0m13.1 14.6h0m-22-2.2h0m-35.4-9.9h0m28.1-.7h0m11.6 1.5h0m-16.3 2.3h0m7.3 5h0m-1.2 .5h0m16.7-12.6h0m-7.4 16.5h0m-20.4-15.6h0m29.7 28.9h0m-19-18.5h0m-4.1-1.9h0m11.2-1.1h0m.6 18.2h0m0-13.2h0m-5.5-.2h0m-4.9-3h0m20 4.8h0m-9.6-.9h0m10.8 6.6h0m-10.5-10.4h0m-9.7-4.1h0m30 12.8h0m-16.1 4.9h0m-15-12.2h0m21.2 6.4h0m-10.6-7.9h0m-9.6-1.2h0m11.5 11.2h0m8.8-2.3h0m.6 4.3h0m-34.2-10.9h0m43.5 7.9h0m-31.3-8.2h0m6.6-3.5h0m3.5 4.2h0m-4.5 12.8h0m-8.4-20.5h0m13.2 9h0m18.1 6.5h0m-3 6.2h0m-25.7-13.8h0m13-3.4h0m30.2 12.5h0m-36.9 4h0m1.9-26.4h0m3.9 17h0m-9.2-2h0m32.9 22.1h0m-16.6-18.5h0m1.2 8.6h0m-8.4-11.5h0m-6.8-6.4h0m25.9 17.8h0m-7.4-1.6h0m-28.4-28.2h0m23 27.4h0m-9.7-5.3h0m2.4 5.3h0m-4.4-11.3h0m4.8-2.9h0m13.4 10.4h0m-15.4-5.7h0m-.6 7.3h0m1-3.5h0m.1 1.5h0m-12.2-12.8h0m2.6-1.5h0m6.5 14.8h0m15 4h0m-11-13h0m-5.1 14.9h0m1.9-14.6h0m-25.6-15.9h0m16 18.6h0m-2.1-12.1h0m17.8 9.5h0m-27.3-13h0m18.2 10.1h0m19.1 18.9h0m-14.7-21.3h0m-.3 3.4h0m26.5 8.6h0m1.6-.3h0m-32.1-8.7h0m-3.5 4.6h0m9.9 2.2h0m12 .9h0m-3.2 .5h0m-11.5 7.5h0m19 2h0m5.5-2.2h0m-36.9-15.7h0m19.5-1.6h0m2.3 19.8h0m-8.3-2.6h0m3.8 .1h0m-5.7-23h0m2.3 11.3h0m17.1 2.3h0m-19.5 7.4h0m8-6.8h0m-9.2-16h0m7.1 17.2h0m-.9-8.2h0m-31.6-3.7h0m29.5 7.6h0m.9-.2h0m-6.4-4.5h0m5.7 1.5h0m-6.6-1.4h0m26.2 15.1h0m-20.8 7.6h0m-.6-22.6h0m-37.8-10.3h0m79.6 22.7h0m-25.4 5.1h0m-18.9 .8h0m10-20.1h0m-5.8 4.6h0m5.5-4h0m7 9.2h0m-2.7 1h0m-11.9 4.1h0m1.6-11.7h0m3.1 .2h0m-5.3 4.1h0m-3.1 17.8h0m4.7-12.7h0m5.1 2.1h0m-17.3-11.7h0m-6.4 2.1h0m20.6 9h0m4.1-20.8h0m-29 12.7h0m61.8 12.9h0m-40-13.5h0m25.2 12.2h0m-18.5-15.5h0m9.7 10.2h0m-18.9 5.6h0m15.5-6.8h0m-4.2-13h0m-14.6 7.1h0m-2.5-12.9h0m12 31.7h0m-11.7-23.6h0m18.6 22.7h0m-17.5-29.5h0m14.2 20.8h0m-9.1-6.7h0m5.8-8.9h0m-3.2-5.1h0m16 23.7h0m-24.8-11.3h0m13.9 6.9h0m8.8-3.3h0m-27.3-2.6h0m8.2-11.7h0m8.1 9.5h0m-9-5.8h0m9 12.7h0m-1.6 2.8h0m-2.7-1.5h0m15.3 4.5h0m-23.6-21.2h0m13.6 15.6h0m-1.1 6.7h0m13.5-.6h0m-7.7-21.6h0m.4 17h0m.3-17.1h0m2.9 21.3h0m-1.4-.2h0m-8.1-14.5h0m-7.9-2h0m-10.5-6.3h0m29.8 15.9h0m-32.2-22.4h0m19 16.8h0m8 12.4h0m-8.1-.5h0m-.7-14.6h0m.5-5.9h0m6.4 18.9h0m-7-7.9h0m9.4 3.7h0m-12.2 5.8h0m1.1-10h0m-22.5-3.8h0m37.3 7.3h0m-20.3-5.1h0m10.1-1.8h0m1 2h0m-14.1-9.6h0m8 10.9h0m9 4.5h0m-4.1 10.5h0m1.7 6.5h0m.8-10.5h0m7.4 1.9h0m-2.4 3.4h0m-.1-5.8h0m-6.3-2.4h0m4.9-5.5h0m-6.3-.7h0m-11.8-5.7h0m44.3 26.1h0m-39.3-37.1h0m3.6 19.9h0m-.9 1.2h0m7.7-10.2h0m-8.6 11.4h0m-7.4-6.5h0m15.6 7.5h0m-6.4 .5h0m-38.4-21.6h0m41 8.6h0m-1.2 11.5h0m-15.8-23.7h0m8.9 10.6h0m4.5 .6h0m-14.6 2.2h0m7.9 2.2h0m-.6-10.3h0m19.2 17h0m-5.1-1.3h0m-11.5 7.6h0m6.8-19.4h0m-.8 18.5h0m20.9-5.9h0m14.6 1.1h0m-26.6-1.7h0m-3.6 .1h0m26.8 16.9h0m-15.6-17.4h0m6.6 7.7h0m-13-10.4h0m1.7 11h0m-2.4-22h0m-14.2-7.6h0m1.8 27.7h0m-8.6-10.4h0m-14.7-10.7h0m19.4 28h0m-3.1-29.6h0m-29.5 8.7h0m38.7 3.1h0m14.6 9.4h0m-10.7-12h0m-6.9 1.5h0m18.4 10.2h0m-9.6 1.4h0m-1.6-3.8h0m-1.4-5.9h0m-9.3 .2h0m-11.4-11.5h0m31.3 21.9h0m4.1-.4h0m-.1-7.2h0m-26-3.9h0m15.2 9.4h0m4.6-28.7h0m2.7 24.9h0m-29.8-7.2h0m23.7 11.2h0m-10.7-11h0m3.3 6.9h0m1.3-7.8h0m10.8 11.2h0m-14.5-14h0m-.2-3.6h0m11.6-3.9h0m-3.4 18.5h0m-5.7-14h0m-7.4 4.4h0m28.6 16.6h0m-6.6-10.2h0m-16.7-4.6h0m.6 .9h0m-1 2.2h0m9.3 4h0m1.4 6.6h0m.4-1.5h0m23 .7h0m-35.2-19.8h0m11 20.9h0m7.1-28.1h0m-6.5 28h0m-18.6-19h0m19.7 8.6h0m-19.1-5.4h0m7.7 12.2h0m1.2-8.1h0m-.3-12.6h0m7 19.2h0m-7.9-19.3h0m5.2 4.3h0m16.9 21.2h0m-15-22.3h0m18.9 15h0m-43-5.9h0m17.8-6.1h0m-10 7h0m20.3 6.9h0m-11.7-13.4h0m12.5 8.8h0m-9.1-5.5h0m-24.5 1.5h0m23.1 11.2h0m2.3-19.2h0m5.4 13.2h0m-9.5-3.9h0m8 8.6h0m-28.8-8h0m31.6-6.6h0m3.7 11.7h0m-39.3-8h0m54.3 22.2h0m-13.9-18.4h0m-21.1-3.6h0m15.1 4.6h0m-17-7.3h0m14.7 3.4h0m-26-8.6h0m33.7-5.6h0m-4.5 23.9h0m-4.4-10.7h0m-1.4 .9h0m-6.1 1.4h0m-4.7-14.5h0m9.8 18.3h0m14.7 6.3h0m-23.2-18.1h0m21.3 13.9h0m-17.8-6.4h0m-5.1-3.9h0m17.7 9.7h0m.3 1.3h0m3.7 5h0m-16.6-11.2h0m7.1 10.6h0m2.8-1.5h0m-4.3-6.1h0m3.8-5.5h0m-2.5 10.6h0m2.2-1.3h0m-2.4-12.5h0m9.1 8.8h0m-18.1-2.6h0m9.5-11.6h0m-20.7 5.5h0m38.5 13h0m-21.9-11.9h0m5.8 19.2h0m-10.7-25.9h0m-1.1 3h0m11.8 6.6h0m3.6 14.5h0m-7.5-16.6h0m1.3 13.9h0m-2.9-14.3h0m29.1 12.1h0m-21.2-7.2h0m-1.7 9.7h0m4.8-7.3h0m2.7 5.7h0m-2.1-1.8h0m7.8 1.4h0m-25.1 7.6h0m8.9-14.7h0m12.3 5.6h0m-25.9-12.3h0m13.1 14.8h0m-7.4-15.7h0m5.1 4.6h0m3.6 14.1h0m8.9-6.9h0m-17.5-11.5h0m3.8 15h0m-14.8-14.4h0m22.8-3.4h0m9.9 10.2h0m-15.2 2.4h0m8.7-1.7h0m6.4 6h0m-1.1-6.2h0m-36.6-14.2h0m33 19.9h0m-13-12.2h0m-2 4.5h0m16.4 22.5h0m1.6-18.5h0m-13.4 6h0m-8.5-15.1h0m20 14.9h0m-16.4-12.5h0m3.8 1.7h0m-13.5-7.3h0m18.1 11h0m1.2-12.2h0m7.9 21.3h0m-8.9-22.2h0m-20.3-3.9h0m10.8 25.7h0m6.5 9.4h0m-15.9-37.1h0m24.1 24.1h0m-1.5 .8h0m-3.1-6.4h0m-18.3-19.3h0m2.9 16.6h0m10.3-8.1h0m-6.9 6.1h0m-.5-8.8h0m4.9 7.9h0m12.5 20.3h0m-4.8-21.3h0m-10.4-.2h0m15.4-8.4h0m-28.6 3.3h0m8.7 4.8h0m24.1 8.5h0m-3.6 1.8h0m.8 2.5h0m-23.9-11h0m14.3 2.7h0m11.3 2.3h0m1.1 11.8h0m-15.8-16h0m-13-1.6h0m24.3-4.1h0m1.2 16.4h0m-8.6-17.9h0m14.5 33.8h0m-1.4-22.3h0m-24.2-6.8h0m18.7-4.8h0m-2.1 17.2h0m-13-8.8h0m-1.5 1h0m-4.6-6.5h0m9.5 13.2h0m-3-9.9h0m6 12.9h0m-18.9-21.4h0m37.5 14.2h0m-30.7-2.8h0m15.5-9.3h0m27.4 15.4h0m-12.9 3.1h0m-26.4-12.6h0m22.7 12.4h0m-33.7-16.4h0m-4.2-.4h0m33.2 10.9h0m-2 9.1h0m2-1.6h0m8.1-6.1h0m-21.3-6.1h0m1.7-11.3h0m8.5 20.7h0m-8-7h0m-2.2-10.6h0m28.3 21.2h0m-27.4-15.3h0m5.8 6.7h0m1.9 4.4h0m-4.8-8.2h0m-9.8-2.7h0m12.7-8h0m-9.9 7.5h0m6.6 5.2h0m4.6 11.2h0m4.2-21.9h0m9 17.1h0m-6.2-18.5h0m-.9 26.9h0m-4.9-7.6h0m-9.1-18.4h0m-.9 20.8h0m8.6-13.3h0m2.4 12.8h0m8-.7h0m-13.8-19.2h0m11.4 12.7h0m5.9 6.5h0m-21.1-20.6h0m16.6 25.5h0m-6.5-7.9h0m-6.4-8.5h0m-.6 6.2h0m12.4 6.4h0m-7.2 2.2h0m0-17.3h0m-3.4-2.9h0m5 9.5h0m-4.1-7h0m-7.9 2.1h0m7.3 10.2h0m-2.7-10.1h0m1.9 .2h0m2.3 4.3h0m3.4-15.6h0m-4.1 23.8h0m4.1 1.2h0m-4-2.5h0m2.8-3.4h0m-4-8.4h0m-8.7-4.9h0m6.1 4.8h0m2.1-4.4h0m.1 4.1h0m-1.8-1.8h0m-1-16.3h0m-3.6 13.8h0m1.5 18.7h0m4.9-1.4h0m3.3-4.9h0m-3.2-4.9h0m-2.4 27h0m-3.6-27.3h0m2 7.5h0m1.8 2.9h0m-7.8-20h0m5.2 4.5h0m8.3-2.2h0m-8.2 6h0m6.9-.2h0m1.3-1.4h0m-4 6.9h0m-2.7-8.7h0m4.2 13.5h0m3.1-15.4h0m-5.7-8.9h0m-1.1 33.2h0m-1.2 .8h0m-4.5-23.1h0m2.2 14h0m6.7-24.8h0m3.9 5.8h0m-6.7 1.9h0m-.3 12.7h0m5-13.1h0m-6.3 5.8h0m-1.5 30.7h0m3.7-11.7h0m2.9-13.2h0m.8-5.9h0m.8-3.3h0m-5.9 5.1h0m8.4 10.6h0m-1.3 10.8h0m-4.2-26.3h0m-5 15.8h0m6.8-6.5h0m-3.1 4.3h0m2.5-4.5h0m-3.9 4.8h0m3.7-3h0m-1.3 7.5h0m2.5-14.6h0m-2.4 14.9h0m4.2-16.2h0m.1 10.3h0m-6.7-2.4h0m1.4-22.2h0m-3 16.9h0m2.5-1.3h0m-.6 18h0m2.5-25.9h0m1.2 18.5h0m-3-.2h0m4.8-5.4h0m-8.2-7.1h0m3.5 14.1h0m6-15h0m-10.1 4.1h0m1.3-14.9h0m9.6 28.3h0m-4.7-9.4h0m1.8-.1h0m-8-2.8h0m6.6-3.1h0m2 16.5h0m-.7-26.2h0m-2.2 14.5h0m3.1-5.8h0m-2.9 6h0m-1.9-15.8h0m.5 35.6h0m-4-12.8h0m5.1-7.1h0m-.5 2.5h0m-.6-19.3h0m0-5.5h0m-6 42.3h0m10.1-10.8h0m-5.8-2.5h0m2.6 9.3h0m-3.9-23.8h0m9.8 15.3h0m-7.2 15.6h0m.2-27.9h0m3.2 6.4h0m-6.7-5h0m2.7 24.9h0m-3.8-35h0m3.8 24.1h0m1.3-9.2h0m5.2-15h0m-6.5 4h0m9.5 16.4h0m-5.8-18.2h0m-2.9 1.8h0m-1.2 5.1h0m.2-.1h0m-.1 11h0m5.3-12.9h0m6.8 16.9h0m-9-28.4h0m.8 10.6h0m-5.9 13.3h0m-1.6 13.6h0m13.9-29.3h0m-6.2 18.1h0m-.7-3.1h0m-1.6-2h0m0 11.2h0m8-26.4h0m-8.4 18.3h0m5.5 16.6h0m-6.6-37.4h0m1 19.4h0m1.2-14.2h0m-3.1 4.3h0m2.7 6.4h0m-2.8 6.4h0m6.8-8h0m-3.2-14.8h0m.8 .6h0m.3 21.6h0m1.6 3h0m-4.8 3h0m7.4-8.8h0m-3 7.9h0m2.4-11.7h0m-9.6 5.5h0m3.8-5.8h0m.6-3.1h0m.8 14.7h0m1.6-18.3h0m-2.3 4.2h0m-1.8 4h0m4.2-16.8h0m-.4 6.7h0m2.2 18.7h0m-9.8 3.6h0m5.1-3.1h0m-1.7 2.9h0m-.6-24.9h0m3.6 27.8h0m-5.5-21.8h0m8.2 12.9h0m-7.3-36.9h0m7.5 30.3h0m1.4 2.7h0m-13-10.5h0m7.8 8.5h0m-1.6 6.9h0m3.5 2.7h0m4.1-9.5h0m-2.9-1.1h0m1.3-14h0m-6.6 7.7h0m2.3 5.1h0m-.4-8.6h0m2.5 17.9h0m-8.7-13.9h0m10.5-10.3h0m-2.5 9.1h0m-2.9 12.5h0m12.5 5.6h0m-10-1.6h0m-.5-6.5h0m-7.2-14.2h0m11 .9h0m-3.6 13.5h0m-.7-.4h0m2.9-2.3h0m-1.2 5h0m-5.3 4h0m2.1-7.2h0m3.6-8.9h0m2.9-8.6h0m-1.9 14.6h0m.1 12h0m-9.5-17.2h0m3.2-6.2h0m7.9-2.4h0m-3.8 14.7h0m2.1-5.7h0m-4.9-6.3h0m8.8 26.3h0m-12.8-20.1h0m5.2 5.8h0m1.1 1.6h0m-3.5 1.4h0m-.2-7.2h0m1.4 .7h0m.9 .3h0m-2.6 13.3h0m2.5 11.9h0m-2.7-24.1h0m-.7 13.4h0m7.9-21h0m-.1 17.2h0m-7.8-28.2h0m7.6 13.7h0m-2-2.4h0m-3-1h0m-1.1 12.1h0m4.5 10.5h0m-9.2-13.9h0m3.6 12.4h0m5.2-5.2h0m-3.2-16.8h0m1.9 19.8h0m-4.6 3.2h0m2.5-15.7h0m5.6 4h0m-4.9 8.6h0m-3.4-15.2h0m2.9 21.9h0m-7.5-4.8h0m10.1-10.8h0m.1 14h0m.8-21.1h0m4.1 23.7h0m-8.1-21.8h0m6.3 8.6h0m-6.2-7.3h0m-6.3-1.6h0m2.9 13.2h0m3.2-4.6h0m1.3 .2h0m3.1-7.9h0m-.3 6.7h0m-4.8 9.6h0m1.3-10.7h0m3.8-6.9h0m-3.4-2h0m1.3 24.1h0m2.9-13.4h0m-1.4-4.1h0m-.1 2.2h0m-3.9-5.3h0m-2.1-2h0m8.5 12.3h0m-6.7 3.1h0m-.3-25.2h0m6.8-7.4h0m-4.9-.8h0m-2.1 30.7h0m.2 0h0m2.1-.2h0m.6-13.6h0m2 11.1h0m2.2-3h0m-2.9 10.8h0m-2.2-8.1h0m2.5 4.5h0m-3.3-3.3h0m1.6-10.4h0m1.6 6.1h0m-5.8-6.9h0m2.9 1.3h0m2.8-1.4h0m2.2-.8h0m-3.5 5.2h0m-4.4-3.7h0m1.8 1.7h0m-.1 10h0m10-16.5h0m-6.3 12.3h0m4.6 .3h0m-1.3 11.1h0m-8.5-16.5h0m6.3 10h0m.7-19.6h0m-2.7 18.6h0m-4.9-17.7h0m7 23.4h0m-3.2-3.7h0m-7.5-23.7h0m7.7 13.6h0m1 5.4h0m2.6 2.2h0m-.9-13.4h0m-1.2 10.9h0m9 3.9h0m-11.6-14.5h0m-.5 4h0m0 11.3h0m4.6-22h0m6.3 21.7h0m-17.9-10.9h0m13.5-5.9h0m-7.8 21.2h0m10.1-2.1h0m-7.5-5.2h0m-2.9 1.1h0m4.4-15h0m-1.8 11.6h0m6.1 9.1h0m-3.9-23.4h0m-2.3 21.1h0m3.9-20.3h0m-4.7 10.7h0m5.8 9.1h0m.3-8.9h0m-4.6 14.4h0m-5.9-17.9h0m5.7 .7h0m-1.4 7.3h0m2.8 6.5h0m-4.1-15.5h0m10.1-11.6h0m-4.8 16.7h0m6.7 4.2h0m-5.5-18.4h0m-2.6-.4h0m-3.2-2h0" stroke="#1212f2" stroke-width="1.3" stroke-linecap="round" fill="none"/>
<path d="M468.8 260.2h0m6 2.4h0m18.2-7.4h0m11.1-4h0m-23 6.5h0m1.1-.1h0m-1.7 .2h0m-7.7 2.4h0m12.4-4.2h0m12.1-4.5h0m-9.3 4.9h0m-11.5 5.4h0m4.8-2.7h0m21.8-14.8h0m-2.4 8.9h0m-21.5 7.8h0m-3.8-4.1h0m10.1-.5h0m19.7-4.1h0m-22.4 5.8h0m-3-.7h0m3.8 2.9h0m16.6-8.2h0m-16 6.4h0m1.4-.3h0m7.6-5.8h0m-18.3 4.9h0m-5.3 7h0m9.9 .5h0m-3.1-8.7h0m10.8 1h0m-5.9 2.3h0m22.2-7.2h0m-20.1 4.4h0m-22.3-.7h0m46.2-.5h0m-34.3 12.1h0m29-11.8h0m-15.7 2.7h0m20.1-3.6h0m-24.1 6.4h0m-2.1-2.4h0m13.6-7h0m11.5-1.2h0m-19.6 7.2h0m-23.1 4.4h0m44-7.6h0m-14 .1h0m-1.1 .8h0m2.6 0h0m-20.3 12.3h0m11.2-8.3h0m-6.1 3.1h0m15.6-7.9h0m-8.9 3h0m14.6-4.4h0m-20.2 4.7h0m-14.4-.6h0m5.9 9.6h0m27.2-12.9h0m-14.8 3.8h0m-3.8 1.6h0m-19.6 1.7h0m35.6-7.8h0m19.4-1.9h0m5.3 2.9h0m-43.2 3.8h0m23.4-15.7h0m-18.8 13.5h0m10.9-3.7h0m-12.8 4.4h0m-3.3 .8h0m24.8-2.4h0m-30 14.3h0m31.4-17.1h0m-52.6 4.9h0m19.7 2.9h0m30.7-7.3h0m4.9-.1h0m-11.2-.3h0m10.9-3.3h0m-29.3 8.7h0m23.4-9.3h0m-.4 5.5h0m7.2 1.2h0m-1.6-8.2h0m-26 13.5h0m-2.3-4.3h0m-5 1.9h0m34.3-12.2h0m-24.4 10.1h0m-9 3.3h0m7.3 3.3h0m17.7-7.1h0m-21.2 .6h0m14.6-2.1h0m12.5-12.3h0m-4.2 12.2h0m1.6-2.5h0m-21 8.7h0m7.5-3.1h0m-1.6 .6h0m-9.7 .9h0m25.9-9.3h0m-3.7-.6h0m-2.3 1.8h0m-9.6 6.7h0m-9.9-.8h0m-5.3 0h0m3.7 8.3h0m-8.2-5.1h0m39.2-10.7h0m-6.8-1.9h0m.6 6.3h0m-7.3-1.2h0m-5.1 4.6h0m6.8-5.9h0m1.7-2.7h0m-34.6 9.4h0m33.7-8.3h0m-14.3 10.1h0m-1.2 1.7h0m-8.7 7h0m13.6-7h0m-1.3-1.4h0m-10.8-3.6h0m10.9 1.5h0m3.4-.8h0m11-7.4h0m-20.8 17.4h0m-8.9-7.8h0m3.4 .7h0m11.2 3.5h0m1-6.7h0m-3.5 1.2h0m23.9-10.8h0m-17.7 11.3h0m-8.3 9.1h0m19.5-18.7h0m-11.4 9.4h0m.3-1.2h0m1.2-.1h0m11.5-5.5h0m-4.9 2.4h0m-1.6 1h0m1.3-1.6h0m18.8 1.9h0m-34 8.9h0m3.7-7.1h0m-.8 2.4h0m-3.5 .4h0m17.3-5.4h0m-16 6.4h0m27.8-6.2h0m-11.7-1.6h0m-16.2 3.4h0m3.2 3.2h0m5.4-2.8h0m24.2-3.1h0m-31.9 5.7h0m20.2-11.7h0m-27.2 12.3h0m10.4 2.4h0m-3.1 1.2h0m-.3-4.4h0m-.2 1.6h0m26.2-7h0m-25 7.9h0m15.3-13.3h0m-5.7 6.3h0m7.3 1.4h0m-13.7 5.4h0m.1-3.9h0m12-1.9h0m1.8-5.2h0m-1 3.2h0m.4-.1h0m-2.9 .1h0m12.3-.3h0m-8.4-1.8h0m-17.1 8.3h0m12.9-7h0m12.8 .7h0m-26.3 8.8h0m20.5-14.8h0m-19.2 9h0m6.2-.1h0m15.7-1.6h0m-29.3 1.4h0m3 1.3h0m-1.3 2.6h0m27.6-5.9h0m-6.6 .6h0m-13.6 2.4h0m-8.5 5.1h0m8-2.7h0m-6.5 3.1h0m27.9-11.9h0m-5.8 3.2h0m-15.2 7.3h0m-6.1-3.8h0m17.3-2.6h0m4.1-1.9h0m-2.7-1.2h0m-1.7 .5h0m1.3-3.7h0m-4 4.7h0m12.9-9.4h0m-7.3 5.1h0m-27.4 8.7h0m26.3-9.9h0m-20.2 17.8h0m17-12.4h0m-2.8 1.9h0m14.4 .3h0m-33.6 9.9h0m8.1-3.5h0m18.8-13.6h0m-2 6.1h0m-17.7 3.2h0m4.5 2.1h0m-4.2 2.9h0m18.8-15.4h0m.2 7.6h0m-12.6 5.5h0m14.6-16.1h0m-16.5 14.9h0m11-5.6h0m4.1 1h0m-18.8 12h0m12.9-13.3h0m-16.1 3.7h0m-1 8h0m22.8-11.8h0m-7.8 2.1h0m-13 5.6h0m7.4-2.1h0m27.3-5.3h0m-10.8 .4h0m-6.7-2.5h0m-13.5 9h0m15-6.5h0m-4.4 1.1h0m8.9-5.4h0m-22.3 7.9h0m29.2-2.6h0m-24.1 1.5h0m-9.4 3.4h0m22.1-4.3h0m2.2 .8h0m-6.9-2.7h0m-15.6 8h0m9.5-2.1h0m-10.7-2.4h0m22.4-2.8h0m3.7-.8h0m-16.5 4.2h0m-11.8 8.5h0m31.4-18h0m-23.6 12.1h0m32.6-13.5h0m-39.7 12.7h0m27.3-7.3h0m-1.2 3.7h0m4.9-7h0m-6.3 7.5h0m-2.9-3h0m-12.6 3.1h0m19.1-4.6h0m-13.6 5.5h0m-17.5 6.7h0m4.9-4.3h0m30.1-10h0m-30 7.4h0m28.1-.9h0m-11.3-.8h0m-7.9 3.1h0m24.5-6.8h0m-41.5 7.1h0m28.2-9h0m-17.4 10.6h0m21.1-13.5h0m-17 10.1h0m15.1-4.2h0m-.3 3.1h0m14.8-7.4h0m-9.8-2.9h0m1.6 3.7h0m6.1 4.3h0m-29.7 6.4h0m-8.6 3.4h0m33.3-10.2h0m-34.1 8.5h0m10.7-1.6h0m22.8-13.2h0m-22.5 13.3h0m20.7-11.2h0m-2 5.7h0m-17.4 2.7h0m5.3-.7h0m11.4-10.5h0m-19.5 15.5h0m-.8 4h0m-10.5-5.7h0m10.3 1.7h0m16.5-5.9h0m-17.9 6.8h0m24.5-9.4h0m-26.1 14.3h0m4.2-5.9h0m4.4-3.6h0m20.3-5.2h0m-13.6 1.7h0m12.4 1.3h0m-24.6 1.1h0m-3.8 8.6h0m17.5-11.8h0m-11.7 10.9h0m20.3-9.6h0m-8.9-2.6h0m-11.7 5.7h0m13.4-7.3h0m-7.7 8h0m-4.9-.4h0m21.6-7.4h0m-12.2 4.7h0m4.3-4.8h0m-16.7 17.3h0m29.1-15.8h0m-29.5 7.2h0m27.2-6.5h0m-40.9 3.9h0m10.6 1.1h0m5.6-1.1h0m18.2-7h0m-5.5 2.2h0m6.5 .1h0m-12.3 4.4h0m18-3.8h0m-36.8 5.4h0m8.6-.9h0m2.3 9.3h0m6.4-7.5h0m43.9-3.1h0m-32.7-5.4h0m-17.7 7.8h0m16.1-4.2h0m-17.5 8h0m18.8-15h0m-14.4 9.2h0m2.1 1h0m20.3-4.9h0m-.1 .2h0m-28 12.3h0m20.9-18.5h0m-5.3 7.2h0m-13.2 10.4h0m4.8-7.2h0m-.8 1.1h0m8.4-4.8h0m-17.1 8.5h0m22.1-11h0m-13.4 7.7h0m-3.3 2.2h0m26.9-6.2h0m-7-8.2h0m-.3 7.5h0m-19.4 11.7h0m16-11.3h0m-23.5 2.8h0m13.2 2.7h0m13.8-10.2h0m-6.6 5h0m-22.1 5.5h0m32.4-15.3h0m-18.5 12.1h0m21-11.5h0m-21.6 14.8h0m13.3-12.3h0m3.2-.7h0m-23.7 16.8h0m9.8-5.5h0m7.5-7.2h0m-14 10.3h0m4.9-3.2h0m10-2.5h0m-1.7-4.3h0m-1.8 4.4h0m8.9-5.2h0m2.9-.3h0m-2 4.5h0m-1-5.2h0m-4.6 .2h0m-13.1 9.9h0m4.3-2.6h0m14.6-2.7h0m-24.2 3.5h0m17.4-2.1h0m-23 1.2h0m14.5 .6h0m14-6.6h0m-4.3 3.3h0m-3.2 .8h0m-9.4 1.4h0m14-3.8h0m-.2 1h0m-5.5-.8h0m-2.3 3.2h0m9-1.3h0m-.2 .3h0m-4.4-2.3h0m-3.4 2.5h0m2.7-.3h0m-9.8 5.1h0m14.6-6.1h0m-.6-7.5h0m-6.2 8.5h0m6.7-1.8h0m5-3.7h0m-8 6.4h0m-9.4 2h0m12.3-3h0m-14.7 4.5h0m18.7-13.2h0m-.8 7.1h0m-9.8 .4h0m-6.2 3.1h0m-1.9 4.4h0m12.7-11.8h0m-18.6 16.5h0m44.7-21.3h0m-35.4 12h0m-5.3 3.6h0m11.9-7.2h0m10.1-1.1h0m-2.9 4h0m5.8-4.8h0m-31 19.1h0m-15.1-6.9h0m7.9 2.5h0m12.6-3.3h0m21.7-10.9h0m-18.2 8.6h0m21.3-16h0m-1.6 2.9h0m-.3 3h0m-5.9-2.1h0m11.3 4.6h0m-15.8 1.9h0m-19.7 9.7h0m31.2-10.9h0m-25.4 11.4h0m.3-6.4h0m-.3 .3h0m-14.8 .1h0m41.6-5.2h0m-15 .5h0m-5.5 2.6h0m12.9-.9h0m-.2-3.4h0m3-5.1h0m-17.8 13.4h0m26.1-11.5h0m-30.4 18.2h0m3.4-10.2h0m30.4-2.6h0m-31.6 4.9h0m14.2-8.3h0m-16.4 7h0m-1.4 3h0m-1-2.7h0m19-2.9h0m-15.7 2.4h0m2.3-.6h0m24.2-7.9h0m-41.2 12.9h0m15.5-2.4h0m9.1-3.7h0m-19 11.3h0m34.7-19.8h0m-8.3 4.7h0m-26.6 4.5h0m4.2 6.1h0m21.9-11.6h0m-3.2 1.3h0m4.4 2.9h0m-1.9 .2h0m-17.1 2.3h0m.3 2.7h0m14.2-5.7h0m-1.2-2.8h0m-11.2 9.3h0m24.7-10.8h0m-31.5 8.1h0m6.5 .5h0m23.8-15.2h0m-29.8 20.7h0m29-15.1h0m-.6 5.8h0m-21.6 6h0m10.6-7.8h0m-17.4 3.5h0m-1.6 0h0m19.4-4h0m-13.6 11.2h0m31.8-10.9h0m-25.5 5h0m6.2-5h0m-5.1 3.8h0m1.1-.5h0m-12.3 4.3h0m7.8-.9h0m2.3-3.8h0m-1.8 5.8h0m21.9-7.3h0m-20 3.3h0m31-19.8h0m-45.3 21.6h0m28.9-4h0m8.8-3.9h0m-32.2 9h0m10.2-3.9h0m-7.3 2.9h0m.5 4.5h0m26.7-8.9h0m-21.8 .9h0m16.9-5.3h0m-3.5-1.7h0m-24.2 8.2h0m7.6 4.9h0m15-8.7h0m-14.7 7.6h0m11.7-10.8h0m-17.9 9.4h0m24.1-9.9h0m-30.4 6.2h0m9.7-.2h0m5 3.6h0m-1.1-2.7h0m9.9-1.3h0m-20.4 2.2h0m6.1 7.7h0m-.5-8.3h0m-3.4-.8h0m22.2-3.2h0m-14.2 3.1h0m-22.2 2.8h0m22.3 3.5h0m15.6-7.3h0m-29.4 1.9h0m4.4 2.8h0m24.7-12.8h0m-13.9 9.3h0m0 .8h0m15.8-6.7h0m-26.9 8.9h0m19.2-5.3h0m-10.1 7.5h0m22.9-12.8h0m-30.3 11.8h0m17.5-5.2h0m-.4-1.9h0m-5.3 3h0m-1.9 1.4h0m.4 .2h0m.3 .1h0m1.4-1.4h0m-3.7 .7h0m4.2-1.7h0m3.9-.7h0m.8 .2h0m9.5-2.5h0m-17.4 7.4h0m2-3.9h0m7.8-3.5h0m-8.7 4.2h0m8.3-2.2h0m-8.3 2.6h0m6-3.8h0m-11.1 3.5h0m14.2-5.3h0m-3.5 3.4h0m-7.5 4h0m2.8-2.9h0m-10.3 5.6h0m15.8-6.4h0m-4.5 1.5h0m6.2-1.9h0m-10.1 2.1h0m2.3-1h0m-5.9 9.9h0m7.1-8.7h0m.2 .1h0m7.3-7.7h0m-3.9 5.5h0m7-6.2h0m1-4.3h0m-11.3 12h0m-2.8-1.1h0m16.7-4.4h0m-7.3-.9h0m-8.8 8.7h0m6.8-3.5h0m.6-.5h0m-9.6 2h0m-1.4 2.4h0m9.3-4.9h0m3.3-3.6h0m-10.5 6.1h0m-2.8 1.1h0m11.4-5.3h0m-.9 1.3h0m-5.9 3.3h0m0-.9h0m.3-.3h0m5.8-2.7h0m-6.5 2.8h0m8.8-2.3h0m-1.2 1.4h0m8.5-6.9h0m-15.9 10.1h0m-10.8 4.3h0m35.9-26.2h0m-17 17.4h0m-.9 .8h0m-.1-1.5h0m9.5-2.2h0m-10.8 2.5h0m-25.2 16.1h0m39.2-25.5h0m-22.4 13.9h0m13.7-9.4h0m-16.4 9.8h0m-4.2 2.7h0m-15.5 5.1h0m42-19.7h0m-47.7 38.9h0m41.7-35.3h0m-10 6.9h0m14-12.8h0m-4.6 6.9h0m-13.8 9.4h0m8.8-6.2h0m2-1.8h0m-3.3 2.8h0m-10.8 7.1h0m24.6-10.5h0m-31.3 17.6h0m12.2-12.3h0m-7.4 3.2h0m7.4-2.1h0m-16.6 8.7h0m-2.6-3h0m29.7-11h0m-24.1 20.3h0m-13.6-10h0m16.4-.3h0m28.4-15h0m-34.9 17h0m8-.4h0m7.1-6.7h0m-2.7 7.2h0m-6.8-2.8h0m14.4-6.3h0m-15.6 8h0m-8.3-2.5h0m21.1-1.4h0m9.3-6.1h0m17.8-5.6h0m-13.4 2.3h0m-.9 .5h0m-16.9 9.3h0m-1.9 0h0m46.1-35.2h0m-50.9 37.5h0m20.5-8.5h0m4.4-8.4h0m-25.2 25.8h0m-18.7-4.2h0m39.1-16.1h0m12.5-12h0m-20.4 19.4h0m-5.5 5.8h0m-15.4 5.5h0m29.5-19.4h0m-20.6 10.9h0m26.7-16.3h0m8.5 1.1h0m4.3 .7h0m-4.1-1.8h0m-8.5 6.8h0m-35.9 12.3h0m.3-1.8h0m-2.7 19.6h0m21.6-21h0m-12.6 3.9h0m44.7-22.2h0m-36.5 21.1h0m9.1-8.1h0m29.3-23.4h0m-17.1 19.2h0m-17.6 10h0m28.1-21.3h0m-31.8 18.1h0m1.4 2.6h0m2.6-3.6h0m8.6-3.4h0m-32.2 10.9h0m36.5-14.2h0m-14.2 6.8h0m0 4.8h0m15.2-15h0m22-.9h0m-26.2 5.6h0m-32 15.5h0m42.8-27.2h0m25-25.6h0m-16.2 25.2h0m-3.2 5.5h0m-23.1 13.1h0m10.9-6.4h0m-33 9.9h0m34-11.4h0m-22.6 9.9h0m-3.2 3.9h0m9-3.1h0m32-16.5h0m-5 4.5h0m-42.2 15.7h0m33.2-19.6h0m7.9 1.5h0m-34.8 12.5h0m28.4-15h0m-16.7 13.9h0m-5 5.3h0m-20.4 7.8h0m31.8-16.9h0m-1.8 1.2h0m-5.2 1h0m-8.9 6.1h0m-10.6 9.6h0m34.3-25.8h0m-14.6 11.3h0m-9.8 5.9h0m-1 1h0m6.1-5.2h0m5.1-.4h0m16.8-11.9h0m-13.9 10.4h0m32-17.5h0m-33.9 17.9h0m-24.4 14.8h0m42.5-25h0m-6.1-1.1h0m1.7 5.1h0m4.9-6.6h0m-20.5 12.9h0m5.9-2.9h0m3.9-2.1h0m21.4-17.4h0m-34.1 25.7h0m5.2-4.2h0m-11.4 11.2h0m34.1-28.1h0m-27.1 19.1h0m1.5 1.4h0m-28.1 22.3h0m34.5-27.7h0m-7.6 6.5h0m4.2-4.9h0m37.2-19.3h0m-40.4 19h0m19.4-4.6h0m-11.1 2.6h0m-10.6 7.1h0m32.8-29.8h0m-13.2 15.7h0m-18.7 12.2h0m27.5-9.4h0m-13.8-.9h0m-16.5 12.6h0m14.6-8.1h0m-1.5 .4h0m2.4-1.6h0m-19.9 12.5h0m19.8-14.4h0m6.4-6.2h0m-7 8h0m-22.6 14.8h0m-12.4 6.1h0m12.3-11.3h0m19.8-7.6h0m-49.7 19.3h0m27.6-5.8h0m13.8-10.6h0m.8 4.1h0m-3.2-2.8h0m-15.5 10.8h0m37.1-24.3h0m-11.2 9.1h0m3.7-3.6h0m4.2-3.1h0m-14.8 11.4h0m37.6-23.3h0m-31.4 19.2h0m29.1-23.6h0m-24.1 20.9h0m-13.5 9.8h0m3.4-3.1h0m3.6-2.5h0m-9.8 4.1h0m17.3-8.5h0m-35.8 18.8h0m12.3-5.3h0m40.1-17.4h0m1.5-4.5h0m21.7-.7h0m-43.4 10.4h0m-34.1 25.2h0m38.7-30.1h0m4.9-5h0m-2.6 9h0m11.4-3.4h0m-43.9 12h0m28.4-7.5h0m-16.1 11.6h0m13.7-10.8h0m-30.3 17.6h0m36.5-22.7h0m-2.4 1.8h0m6.2-2.6h0m-12.1 6h0m-13.2 3.4h0m22-9.2h0m1.3 .6h0m-23.2 9.3h0m-11 19h0m35.4-32.3h0m-19.7 15.8h0m14.5-11h0m2.1-3.5h0m-10.5 9.2h0m-10.5 7.1h0m27.5-14.9h0m-1 2.5h0m9.3-5h0m-50.8 15.7h0m28.1-6.6h0m22.9-16.7h0m-9.6 13.9h0m3-1.9h0m3.6-9.3h0m-1.9 6.9h0m-11.4 4.3h0m-6.2 2.7h0m21.4-8h0m-37.8 17.8h0m.4-1.6h0m20.2-11.6h0m-7.4 5.9h0m1.3-1.5h0m15.1-14.3h0m-19 17.8h0m-11.4 9.4h0m-7.4-.5h0m-6.5-3.7h0m17.8-2.7h0m26.5-20.9h0m8.8-7.8h0m7.9 10.5h0m-44.5 26h0m10.4-12.4h0m-13 4.6h0m27.3-9.1h0m-14.5 4h0m28.1-16.7h0m-42.5 20.7h0m16.6-5h0m7.8-6.3h0m-28.7 22.1h0m11.5-8.7h0m10.8-7.9h0m-30.9 23.8h0m34.6-24.3h0m3.6-1.6h0m-8.2 2.7h0m-7.6 1.9h0m29-14.2h0m-27.6 17.5h0m62-20.8h0m-53.4 13.7h0m-24.9 17.7h0m7.4-2.7h0m31.3-19.9h0m-28.4 11.8h0m16.8-7.6h0m5.9-7.9h0m-47.9 47.9h0m44.4-40.5h0m-20 10.6h0m47.4-39.3h0m-20.5 20.4h0m-23.1 14h0m-3.1 3.2h0m-8.2-.9h0m-15.2 6.5h0m49.3-24.2h0m-6.9 5.8h0m8.8-4.7h0m15.7-4.6h0m-29.4 15.7h0m8.2-5h0m-9.6 5.4h0m-6.1 2.1h0m25.9-11.1h0m-51.3 22.1h0m1.9 .4h0m43-24.7h0m-25.6 15.6h0m-6.7 6.1h0m16.6-9.3h0m39.3-18.9h0m-19.2 11.6h0m-17.6 6h0m14.9-6.5h0m3.1-3.9h0m-4.7 3.6h0m13.1-16.4h0m-36 28.6h0m35-12.1h0m-35.9 16h0m3.1-2.2h0m2-5.2h0m1.5 2.1h0m-23.2 11.9h0m18.6-7.5h0m-25 .7h0m57.1-28.9h0m-20.3 17.7h0m-1.1-.2h0m-15.4 7.1h0m35.7-20.7h0m.2 3h0m-35.4 16.5h0m27.7-10.3h0m-17.6 8.5h0m1.9-1.6h0m8.8-3.7h0m-14 4.9h0m23-12.8h0m-5.2 .6h0m-13.2 11.8h0m26.5-10.7h0m-17.5 6.8h0m-23.8 8h0m9.7-3.3h0m20.3-5.8h0m-8.2-.3h0m-11 7.1h0m22.8-16.3h0m-43.2 35.8h0m34.8-26.1h0m.9-.7h0m2.5 1.2h0m-16.8 7.6h0m13.4-9.7h0m-5.8 4.4h0m-23.2 12.2h0m-6.6-.8h0m5.7 5.2h0m40-27.6h0m-32.3 17.1h0m34.5-17.1h0m-27.7 14.5h0m-3.4 4.3h0m-1.6 .8h0m61.5-33.2h0m-62.3 31.7h0m3.7-2.3h0m6.1-2.1h0m-3.3 .5h0m23.9-11.1h0m-14.9 6.8h0m10.5-6.4h0m9.1 1h0m-44.3 12.7h0m11.5 2.1h0m6.2-4h0m22.2-18.9h0m-6.5 7.1h0m6.1-7.3h0m-3.7 10.4h0m-11.7 3.8h0m-17.8 5.4h0m7-1.4h0m14-6.2h0m-27.3 16.8h0m5.1-3.7h0m4.8 1.8h0m20.9-15.3h0m-39 15.5h0m22-7.9h0m13.9-6.5h0m.2-.7h0m-12.9 7.7h0m33.7-29.6h0m-19 20.2h0m-34.9 11.9h0m8.5 3.7h0m4.3-4.5h0m15.6-7.3h0m1.2-.7h0m-18.9 7.2h0m5.6 5.6h0m2.4-3.3h0m-.2-2.4h0m17.9-9.8h0m9.5-3.5h0m-12.9 3.9h0m22.8-22.1h0m-26.5 26h0m-41.1 29.9h0m26.3-20h0m35.2-14.7h0m-8.9-6h0m-17.4 13.7h0m-23.6 4.7h0m-7.9 6.3h0m42.1-16.7h0m-12.7 8h0m40.9-35.4h0m-52.7 41.2h0m15.9-9.6h0m-30.5 14.7h0m45.7-22.5h0m-25.2 9.8h0m14.3-5.7h0m8.5-1.8h0m-48 24.4h0m44.5-21.4h0m-39.2 14.9h0m37.5-18.8h0m10.3-4.5h0m-44.5 20.6h0m51-30.7h0m16.9-12.3h0m-41.9 34h0m-12.6 4.4h0m2.3 6.4h0m3.7-5.9h0m13.4-10.2h0m-5 3.9h0m-14.1 5.7h0m-11.1 10.5h0m26-16.5h0m27.9-15.1h0m-13.7 10.1h0m11.8-8.3h0m-28.2 14.4h0m-30.7 7.4h0m45.8-14.7h0m-28.2 15.2h0m13.4-7.7h0m-7.1 2.2h0m19.7-6.2h0m-23.6 9.4h0m43.3-23.5h0m-53 36.7h0m58.8-56.9h0m-65.5 48.4h0m36.6-14.6h0m-2-.9h0m4.4-7h0m-10.3 11.1h0m-8.8 4.3h0m2.8-1.2h0m33-28.2h0m-4.5 16.8h0m-1.7-8.9h0m-43.7 35.5h0m-3.8-5.2h0m39.5-16.3h0m-22 6.6h0m-18.8 10.5h0m10.9 4.5h0m18-18.7h0m6.7-5.7h0m-11.7 8.1h0m17-11h0m-22.7 13.6h0m18.7-9.4h0m-35.2 19.8h0m-7 8h0m33.3-22.8h0m5.6-5.4h0m12.7-12.7h0m-34.3 30.4h0m10-10.7h0m-1.6 6h0m-11.8 3.8h0m2.7-5.1h0m27.9-10.8h0m-6.4 .4h0m-10.5 9.1h0m-1.1 .4h0m39.3-31.3h0m-46.2 39.9h0m28.7-20.6h0m-17 7.6h0m3.5-2.9h0m14.1-3h0m-25.5 9.7h0m43.5-30.2h0m-32.8 24.5h0m-20.5 14.6h0m-2.9 2.2h0m5.1-4.2h0m42.6-30.3h0m-24.3 18.1h0m30.2-9.8h0m-26.9 8.7h0m-17.5 6.3h0m28.8-8.7h0m-44.9 25.8h0m7.5-15.6h0m20.3-5h0m15-12.9h0m-7.8 7.7h0m-.5-.6h0m-39.1 13.1h0m20.1 .1h0m24.8-17.4h0m-27.2 13.5h0m19.1-7.9h0m-4.1 3.6h0m-12.3 6.5h0m11-6.2h0m-9.9 7.6h0m28.9-12.4h0m-22.5 7.5h0m-7.6 7.5h0m24.4-20.7h0m35.2-5.7h0m-54.5 18.7h0m-8 9.2h0m19.8-15.8h0m-3.3 3.4h0m-19.8 10h0m30.3-19.3h0m-21.1 18h0m32.1-19.4h0m20.4-19.1h0m-22.2 23.7h0m-46.7 21.3h0m23-14.1h0m-1.2 .7h0m-6.9 1.7h0m24.7-9.7h0m-8.2 5.1h0m15.4-8h0m6 2.3h0m-50.7 15.7h0m31.8-14.4h0m4.5-1.3h0m-28.6 17.5h0m27.4-21.4h0m-43.8 46h0m29.6-33.8h0m-3 3.7h0m10.9-6h0m-6.4 2.2h0m-33 12h0m44.9-20.1h0m18.9-4h0m-19 8.3h0m-19.6 8.7h0m3.1 0h0m19.6-17.8h0m-12.1 11.4h0m10.3-6.3h0m-38.7 17.6h0m10.8-4.7h0m20.5-7.3h0m-9.8 3.4h0m7.8-3.6h0m-14.5 4.9h0m23.5-7.6h0m-1.7-4.1h0m-45.3 28.1h0m37.7-20.9h0m-32.3 19.2h0m21.5-11h0m21.9-14.4h0m-16.9 9h0m9.9-7.7h0m-40.4 20.7h0m50.3-22.3h0m-31.5 11.6h0m22.8-9.3h0m-9.9 6.9h0m-4.4 4.2h0m6.8-5.3h0m4-1.7h0m19.9-17h0m-22.1 17.2h0m6.1-6.2h0m-.2 .6h0m-12.9 9.6h0m14.2-11.6h0m-18.4 17.8h0m19.3-16.9h0m-3.8 5.9h0m-15.1 7.2h0m12.4-7.3h0m-5.4 3.9h0m-5 5.9h0m23.2-20.8h0m-26.4 23.5h0m-1.9-2.9h0m-10.1 14.9h0m30.3-30.5h0m11.7-3.8h0m2 5.6h0m-13.2-.8h0m-12.5 8.3h0m2.9-1.2h0m-11.8 11.7h0m37.5-36.9h0m-3.6 19.8h0m-42.9 18.5h0m11.2-9.4h0m15.4-5.6h0m3.5-.4h0m24.2-15h0m-26 12.6h0m-13 8.1h0m23.8-9.6h0m16.4-2.6h0m-36 9.2h0m10.7-7h0m2.8-1.8h0m-11.3 8.2h0m4.6-3.4h0m-10.7 7.4h0m7.9-4.6h0m-3 2.6h0m-3.8 1.6h0m5.6-3.7h0m-3 1.5h0m4.8-2.1h0m-22 14.9h0m25.9-17.8h0m.1-2.3h0m-7.8 6.4h0m30.6-9.8h0m-56.7 36.9h0m32.5-29.4h0m14.7-4.4h0m-25.6 7.6h0m9.9-4.1h0m15.8-2.8h0m13.9-12.4h0m-42.4 21.8h0m26.2-12.3h0m25.5-18h0m-70.9 35.8h0m10.4-5.3h0m22.4-8.4h0m-24.1 21.5h0m34.1-23.9h0m2.3-10.6h0m-19.4 20.1h0m-2 .5h0m7.6-5.3h0m1.8-.4h0m-27.3 23.9h0m-4.8-2.1h0m19.5-15.6h0m7.5-3.6h0m17-14.5h0m-24.2 22.5h0m26.6-15.1h0m-37.4 10.9h0m45.4-17.7h0m-23.4 10.4h0m-25.9 17.2h0m35-26h0m1.1 1.9h0m-17.4 12.6h0m4.6-2.8h0m2.2-1.7h0m-13.4 6.1h0m39.2-21.5h0m-56.1 40h0m39.4-28.2h0m22-7.5h0m-7.3-11.6h0m-30.1 27.7h0m-1.2-1.1h0m3.8-1.1h0m-1.1 1.1h0m1.5-1.6h0m21-7.1h0m-39 11.9h0m-3.5 .1h0m23.8-6.1h0m-4.5 1.5h0m-5.6 1.8h0m14.1-4h0m-41.2 11.6h0m19.6 .9h0m14.7-10.2h0m13.3-6.1h0m-29.7 16.7h0m-3.9 .2h0m20.7-10.8h0m-2.1 .1h0m.8 .5h0m4.3-2.2h0m-22.4 6.2h0m11.7-.7h0m56.7-28.4h0m-50.7 24.6h0m24.9-14.3h0m-23 14.1h0m-15.2 4.9h0m11.6-2.9h0m-17.4 5.8h0m28-12.3h0m37.9-27.3h0m-27.8 25.8h0m-38.6 10.2h0m19.2-2.2h0m-36.4 15.3h0m3.5 15.2h0m25.1-27.9h0m.6-2.9h0m8.7-1.8h0m-13.9 10.8h0m43-21.4h0m-23.8 8.2h0m-15.1 5.7h0m12-4.2h0m7-4.1h0m-15 6.3h0m23.8-15h0m-5.4 2.5h0m10.1 1.3h0m-14.7 4.6h0m-12.4 10.2h0m2.7-4.2h0m2.3-1h0m-31.5 11.4h0m12-4.2h0m38.4-26.3h0m-29.2 26.6h0m7.9-6.6h0m10.3-6.4h0m-9.7 7.3h0m-34.6 30.5h0m35.6-32.1h0m-1.8 1.3h0m-23 7.7h0m.6 2.4h0m21.4-9.7h0m2.6-1.1h0m-32 6.7h0m30-4.6h0m28.4-10.8h0m-50 32.4h0m31-27.2h0m-17.1 12.1h0m11.5-9.8h0m26.8-19h0m-26.2 18.9h0m-20.1 13h0m-4 8.1h0m37.9-31.7h0m-25 13.5h0m9-2.2h0m23.5-8.4h0m-53.6 25.2h0m12-9.2h0m36.6-17.8h0m-8.6 6h0m-13.8 6.9h0m10.3-6.9h0m-8.4 6.4h0m9.5-5.5h0m-.2-3.3h0m14.1-14.1h0m-26.7 24.9h0m-15.2 1.8h0m19.8-5.5h0m18.9-5.8h0m-11.8 1.6h0m-26.1 11.4h0m55.5-30.4h0m-24.5 18h0m16.3-9.6h0m-19.8 8.9h0m23.9-17.7h0m-55.4 34.4h0m18.6-5.1h0m25.3-22.5h0m-37.6 30.5h0m12-13.1h0m42.4-17.2h0m-17.1 6.2h0m-31.8 15.4h0m3.6-.5h0m-1.9-1.4h0m-15.7 13.8h0m8.6-11.5h0m3.6 4h0m3-7h0m5.4 1h0m20.6-8.3h0m-7.6-2.5h0m-24.6 25.9h0m1.7-6h0m31.5-22.8h0m-16.7 9.9h0m18.6-4.4h0m-13.7 2.6h0m-24.2 13.3h0m11.4-9.1h0m-3 7.9h0m-3-4h0m-5.3 1.4h0m12.7-2.2h0m29-17.5h0m-18.7 10.4h0m-6.4 3.6h0m-34.4 28.3h0m26.1-17.6h0m-1.8-7.1h0m24.9-11.2h0m-12.8 6.7h0m-13.8 8.2h0m12.9-8.8h0m.5 .2h0m13.5-10.3h0m-25.2 21.7h0m-1.8 4.3h0m1.3-8.1h0m37.8-20.6h0m-35.5 24.1h0m14.5-13.8h0m-12.6 4.3h0m13.4-3.7h0m53.9-26.8h0m-56.3 27.6h0m-1.5 1.6h0m.8-1.2h0m-16.2 7.1h0m4.4 5.1h0m-13.4-3.5h0m20.2-4h0m-2.4-1.2h0m39.3-11.7h0m-31.2 7.8h0m21.9-18.8h0m1.3 .8h0m-19.4 16.6h0m6.1-5h0m-17.6 12.2h0m25.9-13.8h0m-14.7 6.7h0m-.6-.3h0m2.6-1.5h0m-7.4 4.6h0m-8.5 3.8h0m0-1.1h0m24-14.3h0m11.6-3.1h0m-24.7 12.8h0m1-1.1h0m5.6-5.2h0m-16.9 16.1h0m4.8-7.9h0m3.5-.3h0m2-1.4h0m-16.8 6h0m49.4-18h0m-47.7 22.3h0m14.2-9.9h0m-26.1 16h0m10.3-3.5h0m18.9-14h0m32.1-17.5h0m-19 10.3h0m.4-.5h0m-3.8-.7h0m-22.4 19.7h0m8.9-9.5h0m4.1-2.8h0m5.9-6.4h0m-16.4 11.8h0m15.3-8h0m-17.9 9.2h0m-11.6 2.6h0m14 .5h0m-32 13.4h0m33.8-18.6h0m-8.3 4.3h0m24.7-11.7h0m-12.8 7.2h0m-23.3 5.9h0m11.9-4.1h0m19.2-6.5h0m-11 7.7h0m33.8-14.4h0m-34.6 14.3h0m30.8-11.1h0m-46.8 25.9h0m2.8-15.3h0m25.8-8.6h0m-15.8 14.5h0m35.4-29.7h0m-9.2 8.2h0m-21.6 16h0m-.1-.6h0m30.2-19.5h0m-34 21.7h0m4.7-4.9h0m.7 .6h0m5.2-2.9h0m-17.6 4.9h0m-5.9 3.9h0m14.5-5.3h0m-7.8 9.1h0m32.9-23.5h0m-20.1 12.3h0m-.8 2.1h0m21.5-20.5h0m-.6 8.5h0m-20.5 10.6h0m13.8-10.7h0m-15.1 13.3h0m-16.6 4.3h0m9-5.2h0m40.4-28.6h0m-30.2 26.4h0m-15.1 8.9h0m28.9-22.1h0m-20.6 17.3h0m16.3-11.9h0m3.3 1.6h0m-3.1 2.9h0m2.7-2.1h0m-21.3 7.6h0m19.8-7h0m16.8-20.2h0m-45.2 43h0m1-9.9h0m19.5-10.6h0m-6.9 3.7h0m-36.5 10.8h0m48.6-17.6h0m-11.9 7.5h0m-22.7 16.9h0m25.9-18.5h0m-14.4 4.1h0m14.8-4.2h0m12-9.9h0m-6.8 5.6h0m1.8 1.5h0m-3.3 1h0m1.8-.7h0m-14.4 6.2h0m3.2 2.7h0m-3.9-2.3h0m23.6-15h0m-46.2 32h0m52.2-27.4h0m2-.9h0m-19.2 4.9h0m-2.5 2.4h0m-14.5 5.1h0m31.2-16.1h0m-24.4 16.6h0m6.4-4.6h0m-18.3 7.8h0m18.7-8.6h0m19.8-19.1h0m-16.1 16.8h0m-22.4 8.2h0m39.5-19.6h0m-2.9 8.7h0m-12.5 2.7h0m22.9-5.5h0m-30.2 7.7h0m40.9-11.6h0m-55.3 17.3h0m-11.9 7.5h0m27.4-12.8h0m22.1-7.2h0m-39.1 20.8h0m9.8-4.7h0m-9.5 .1h0m22.8-13.2h0m0 1.1h0m-23 14.9h0m33.4-23.2h0m.8 6h0m-11.3 1.4h0m-12.4 4.7h0m45-13.6h0m-10.2-7.9h0m-63.3 45.4h0m63.6-33.5h0m-30.4 12.1h0m.5-3.3h0m-12.9 4.2h0m14.3-3.7h0m-1-.8h0m12.3-8.8h0m4.8-3.8h0m6.8 5.6h0m-13.7 .5h0m10.5-8.1h0m-15.4 12.2h0m-14 5h0m4.1 1.4h0m48.7-32.1h0m-32.1 21.7h0m11.8-7.1h0m-23.7 14.7h0m5.8-4.5h0m-18 12.5h0m12.1-8.7h0m20.7-19.1h0m-9.4 9.3h0m-16.6 14.3h0m12.6-8.9h0m-13.4 6.4h0m20-7.2h0m-30.1 8.7h0m16.9-2.7h0m10.9-10.6h0m2.3-.7h0m-29.5 13.9h0m3.4 2.7h0m.9 7.4h0m43.7-22.3h0m-19.4 4.5h0m-1-5.3h0m-19.1 16.1h0m51.6-38.7h0m-34.5 26.3h0m-32 27.2h0m-17.8-10.3h0m28.4-6.9h0m5.2-.7h0m16.2-10.9h0m-5.3 5.3h0m-14.9 9.9h0m9.7-5.4h0m26.1-20.6h0m.6-.1h0m-37.4 23.3h0m30.7-18.1h0m-3 6h0m-49.7 14.9h0m12.2 15.6h0m17.3-17.7h0m-4.1-3.5h0m14.1-4.8h0m27.9-29.9h0m-12.3 20.9h0m-32.5 20.8h0m3.7-5.9h0m-21.9 3.2h0m.8 2.7h0m24.2-3.2h0m.5-4.5h0m19.5-6.5h0m-10.3 2.7h0m-13.1 8.1h0m8-5.5h0m-26.3 6.5h0m13.9 .2h0m9.9-3.7h0m18.2-8.1h0m1.7-2.9h0m18.9-10.9h0m11.9-11.7h0m-52.6 33.6h0m-5.7 .4h0m16.4-7.6h0m.9 .1h0m-14.9 11.1h0m2.7-4.3h0m-.1 2.7h0m-8.1 1.7h0m5.6 1.9h0m19.5-14.2h0m-23.6 9.7h0m48.1-21.1h0m-43.7 24h0m6.4-7.6h0m-5 3.5h0m20.9-15h0m-15.3 11.9h0m6.1-3.5h0m.8-.4h0m6.4-2.8h0m23.9-7.9h0m-63.9 29.6h0m25.7-14.8h0m5.4-3.2h0m-2.6 2.2h0m-17.6 4.5h0m-2.4 6.8h0m27.9-19.4h0m-17.2 12.8h0m-13.9 .7h0m26.5-7.8h0m11.8-8.8h0m-19.1 12.3h0m11.5-6h0m-42 22.4h0m35.1-18.4h0m1.1-.7h0m-2 1h0m13.9-7.4h0m-17.7 9.4h0m38.8-10.4h0m-39.7 10.5h0m18-12.1h0m16.2-3.6h0m15.7-14.3h0m-31.1 17h0m1.1-.2h0m-6.7 4.4h0m-23.2 14.5h0m16.1-8.4h0m11.5-9.8h0m-8.9 8.2h0m2.6-3.7h0m-1 3.7h0m10.8-7.7h0m-54.7 36.9h0m33.2-22.7h0m-8.7 8h0m53.6-25.6h0m-81.1 39.8h0m-.2-12.3h0m39.8-13.8h0m7-3.5h0m11.5-6.9h0m-14.3 8.4h0m-7 3.8h0m13.7-11h0m-35.6 15.9h0m34.6-13.1h0m-45.2 46.9h0m54.8-45.9h0m-15.2 3.7h0m-16.1 14.2h0m27.2-16.6h0m-16.7 5.5h0m-7.8 7.7h0m7.5-6.7h0m7-4.2h0m-10.8 8.6h0m-6.9-4.4h0m34.8-17.1h0m-35.3 22.4h0m-4.8 7.7h0m24.3-20.2h0m-18.1 12.5h0m13.3-8.3h0m4.7-3h0m-12.2 7.4h0m24-8.4h0m-32.2 15.1h0m49-34.9h0m-53.7 28.4h0m8.9 4.5h0m9.3-8.7h0m-2.9 2.6h0m-1 4.5h0m18.2-17.1h0m-25.4 23h0m7.8-8.1h0m16.1-7.9h0m-7-.2h0m-2.8 2.5h0m-15.3 4.5h0m7.9-.3h0m8-4.4h0m4.6-4.3h0m-.4 1h0m-13.1 5.8h0m-19.8 13.6h0m3.7-3.5h0m-15.8 26.4h0m49.3-41.6h0m-23.8 7.1h0m-2.3 4.8h0m-8.1 6.4h0m7.4-3.3h0m13.6-9.4h0m-8.1 .2h0m21.2-11.6h0m-5.1 5h0m11.7-3.1h0m-34.3 21.6h0m20.4-15.5h0m-1 .3h0m-12.7 6.6h0m13.5-7.1h0m-22.2 10.2h0m3.5 5.1h0m18-14.9h0m-12.4 6.6h0m.7 .1h0m26.1-17.5h0m-19.9 12.7h0m7-2.3h0m3-2.9h0m21.6-21.7h0m-65.7 49.2h0m39.5-24.1h0m-30.1 12.5h0m39.9-15.2h0m-11.2 3.1h0m1.9-.9h0m2.2-.9h0m-20.9 5.9h0m44.7-19h0m-30 15.8h0m-18.1 12.6h0m-1.9-5.6h0m26.5-9.9h0m11.2-3.5h0m-3.2 1.9h0m32.8-34h0m-64.3 42.7h0m42.5-17.5h0m-10.7 9.4h0m-19.4 9.8h0m11.3-9.1h0m-2 1.3h0m2.3-1.4h0m-.8 1.1h0m1.6-.4h0m-20 13.6h0m17.7-14.3h0m12.9-2.2h0m3.8-10.5h0m-42.4 38.5h0m12.1-11.4h0m-5-8.5h0m.3 1.6h0m4.1-1h0m10.5-3.1h0m-5.6 .6h0m21.5-11h0m-25.9 17.9h0m-4.7 1.2h0m24.1-15.7h0m10.8-.8h0m-23 10.3h0m-2.3 2.4h0m-5.9-1.5h0m32.2-21.9h0m5.5 2.5h0m-48.4 33.8h0m40.5-37.3h0m-32.7 23.6h0m29.4-12.3h0m-8 1.5h0m-.4-.5h0m-18.7 12.6h0m13.2-6.7h0m1.4-.5h0m-2.8 1.7h0m-8.6 6.3h0m-16.2 19.1h0m30.2-29.2h0m-2.4 1.2h0m9.8-7.3h0m-14 11.5h0m7.6-6h0m16.5-6.4h0m-29.3 16.4h0m-9.5 1.2h0m23.3-10.2h0m8.2-4.8h0m-33 14.7h0m18.6-7.6h0m-2.3 2.1h0m17.9-9.4h0m-25.7 14.7h0m27-20.7h0m-10 10.8h0m-15.6 8.1h0m22.2-11.7h0m-2.1 1.3h0m14.6-5.8h0m-34.8 15.8h0m3.6-3.9h0m-3.8 3.5h0m14.9-6.5h0m6.8-3.5h0m-32.1 16.4h0m22.6-13.1h0m-34.6 16h0m50.2-27h0m-54.8 36.7h0m20.7-9.9h0m30.6-28h0m-47.2 28.6h0m51.6-21.9h0m13-11.9h0m-22.6 9h0m1.7 5.4h0m5.9-.9h0m-19.2 6h0m-12.4 3.5h0m3.1-.6h0m14-6.2h0m9.1 .1h0m-8 1.9h0m-.6-.9h0m3.5-2.2h0m5.2-4.1h0m11.6-3.3h0m-24.9 12.3h0m-3.9 3h0m-16.5 3.5h0m42.6-13.9h0m-32.3 10.9h0m22.4-11.7h0m-14.6 9.9h0m-.3 1.2h0m4.3-3.9h0m-6.2 4.9h0m-2.8 2h0m-35.4 3.4h0m78.4-18.1h0m-48.6 14.4h0m-7.5 3.6h0m8.5-5.5h0m38-18.8h0m-52.4 27h0m35-18.5h0m-2.7 3.7h0m-10.3 4.6h0m7.3-3.5h0m19.8-5.6h0m17.8-7.3h0m-34.8 10.1h0m-31.4 21.1h0m38-25.5h0m-14.5 10.7h0m32.8-34.4h0m-19 22.5h0m-18.6 13.4h0m10.2-4.7h0m8.2-1.9h0m-24.6 10.5h0m2.2-.6h0m21.2-16h0m5.4-6.7h0m-29.3 19h0m30.9-16.8h0m-15.4 12.4h0m-9.4 7.7h0m5.9-6.3h0m-5.5 4.8h0m5.6-3.4h0m-2.2-.3h0m29.3-20.3h0m-18.5 12.3h0m-12.8 9h0m-8.8 6.3h0m22.1-13h0m12.6-14h0m-36.4 25.8h0m42.9-21.8h0m-18.1 7.3h0m-31.6 25.9h0m51.9-32h0m-43.4 29.3h0m10.1-11h0m6.5-6.4h0m-6.8 6.8h0m24.7-24h0m-2.2 6h0m-17.8 13.1h0m5.7-3.2h0m-2.6 .3h0m-19.3 10.6h0m5.9 1.8h0m8.5-7.8h0m7-4.8h0m-19.8 14.8h0m-23.3 .1h0m51.1-19.1h0m-10.4 5.3h0m7.7-5.9h0m-9.5 7h0m12-6h0m-6.8 3.6h0m-.5-1.5h0m12.1-5.4h0m-.8-2h0m-12.1 7.7h0m-5.8 5.3h0m6.3-4.9h0m-27.3 26.6h0m30.5-31.3h0m-20.4 20.9h0m-1.4 .7h0m3.3-8.8h0m19.9-9.7h0m3.5-6.5h0m-28.6 20.3h0m35-18h0m-2.1-1.8h0m6.7-1.9h0m-36.6 23h0m2.2-4.9h0m-22.9 17.2h0m40.3-26.5h0m-10.1 6.3h0m2.1-.9h0m2-1.9h0m32.1-20.7h0m-23.3 15.4h0m-9.8 6.2h0m6.5-5.2h0m2.1 .3h0m-26.8 8.8h0m20-5h0m-3.8 2h0m-20.1 3.9h0m17.5-3.9h0m10.7-6.7h0m5.1 2.4h0m-5.6-2.2h0m15.8 .1h0m-17.4 3.3h0m-36.1 11.4h0m45.2-17.7h0m25.7-17.5h0m-67.2 38.1h0m-2.3-.6h0m14.9 1.6h0m19.5-16.3h0m9.4-1.5h0m.2-8.2h0m5.8 1.8h0m13.1-1.6h0m-64.2 37.6h0m4.1-15.4h0m34.4-11.9h0m3.3-5.9h0m-46 16.1h0m37-8.6h0m31.2-10.9h0m-51.1 28.4h0m34-30.6h0m1.5 3.2h0m-10.7 5.1h0m-39.2 18h0m12.4 6.5h0m36.5-35.4h0m-39.9 37.7h0m43.9-36.6h0m20.2 5.8h0m-27.8 6.3h0m-35 18.8h0m19.5-12.9h0m16.7-9.7h0m-15 8.8h0m34.1-12h0m-30.6 9h0m42.1-14.5h0m-69.3 31.9h0m28.9-18.1h0m-3.6 1.8h0m6.3-1.8h0m-23.4 17.8h0m27.6-21.6h0m-20.2 16.2h0m12.1-12h0m-2.9 2.5h0m17.1-8.9h0m22.6-23.4h0m-19.7 24.7h0m4.7-6.4h0m-16.9 6.7h0m-25.8 12.1h0m7.2 4.1h0m-3.1 2.6h0m10.9-10.7h0m-15.8 4h0m20-6.1h0m3-1.7h0m-20.7 7.6h0m-6.3 18.1h0m33.6-28h0m13.2-17.2h0m-17 18.2h0m20.7-4.5h0m-24.8 6.9h0m-2.1 .6h0m15.9-16.6h0m-15.3 16.5h0m30.6-24.8h0m-26.1 23h0m-35.9 16.5h0m21.7-9.6h0m-8.6 2.2h0m29.8-15.5h0m-9 6.4h0m-12.8 4.1h0m-4 2.7h0m-9.4 2.3h0m49.5-19.4h0m-17.8 10h0m-15.6 6.6h0m18.9-16.4h0m-22.9 14.4h0m-3.5 13.4h0m17-17.3h0m-32.5 14.2h0m-5.8 17.3h0m76.6-54.2h0m-24.6 19.2h0m-35.7 14.3h0m-16.2 3.9h0m28.1-11.6h0m11.5-4.2h0m4.8-4.1h0m-27.8 21.3h0m-7.3 4.2h0m-.6-12.7h0m15.2-3.1h0m1.3 7.3h0m-7.4 6.1h0m3.8-11h0m6.7-2.5h0m37.9-20.3h0m-27.2 15.8h0m-12.4 5.4h0m20.7-13.2h0m6.5-3.5h0m-42.7 19.2h0m41.2-15.1h0m-46.7 20.1h0m36.3-14.1h0m-8.9 4.7h0m1 0h0m4.7-3.2h0m-20.4 20h0m-1.8-4.5h0m24.8-16.5h0m-11.1 4h0m23.4-20.1h0m9.5-.8h0m-2.1-1h0m-31 22.3h0m.9 3h0m1.3-3.9h0m15.4-5.2h0m19.8-5.4h0m-37 10.9h0m3.9-.3h0m16.7-15.7h0m-23 16.8h0m18.1-6.9h0m1-6.8h0m-28.6 18h0m17.2-6.6h0m13.6-7.1h0m-7.9 2.7h0m14.1-7.7h0m-23.4 14.9h0m9-5.1h0m2.1-.3h0m-1.2-.3h0m15.7-15.3h0m-39.8 29.4h0m9.2-8.5h0m-9.5 9h0m2.5-3.4h0m18.5-9.4h0m-13.2 11.6h0m16.3-12.7h0m-18.6 10.7h0m16.3-11.8h0m-.4 1h0m-.5 1.3h0m29.7-8.9h0m-34.3 12h0m-4.8 .4h0m30.1-14.5h0m-44.4 20.9h0m14.3-2.1h0m3-5.2h0m13.1-9.5h0m-14 12.5h0m.9-1.2h0m-18.7 10.9h0m58.4-30.8h0m-60.5 39.3h0m32.3-26.9h0m-17.5 9.5h0m15.4-7.2h0m-5.8 1.7h0m-12.3 6h0m40.5-18.8h0m-20.1 8.9h0m-31.9 17.7h0m7.3-8.8h0m17.3-5.2h0m23.8-15.4h0m-25.8 16.2h0m14.4-14h0m1.7 1.3h0m-2.2 1.6h0m-41.3 27.1h0m16.5-6.4h0m32.2-26.4h0m-24.1 17.1h0m19-11h0m-10.8 6.6h0m26.2-13.1h0m-11.7 3.7h0m-9.7 9.2h0m-1.1-2.4h0m-1.8 .8h0m1.3 1h0m-22 12.1h0m18.5-10.9h0m23.2-19.5h0m2.2-2.4h0m-28.1 24.6h0m-16.7 5.2h0m3.2 .9h0m8.1-2h0m-25.8 5.8h0m.9 15.6h0m7.5-14.9h0m6.8-6.1h0m20.7-7.8h0m8.2-3.7h0m-18.4 10.1h0m-8 10.5h0m10.1-12.6h0m1.8-.2h0m5.9-2.3h0m4.2-6.3h0m26.6-2.5h0m-59.8 27.4h0m54.1-26.6h0m-33.6 12.2h0m-4.9 5.3h0m-11.9 9h0m1.8-10.4h0m6.2-.9h0m-16 15.6h0m24.8-18.3h0m-13.7 9.6h0m31.1-15.8h0m15.3-18.2h0m-4.4 14.7h0m-25.4 7.4h0m-15.1 16.2h0m14.7-16.4h0m-9.6 7.2h0m21.6-15.4h0m-1.2-1.1h0m-12.6 11.5h0m-18.1 7.1h0m1-5h0m28.6-8h0m-10.3 3.9h0m-4.6 1h0m1 2.9h0m-14.1 15.5h0m28.1-25.9h0m.6 1.9h0m22.3-4.3h0m-44.2 13.7h0m-4.5 10.7h0m25.1-18.9h0m32.9-26h0m-37.7 26.8h0m-14 12.9h0m1-1h0m25.8-21h0m-40.4 18h0m15.2 2.6h0m22.5-13.1h0m-18.9 8.5h0m.6-3.4h0m-16.4 5h0m57-15.7h0m-43.5 17.4h0m-9.9-2.7h0m24.8-9.8h0m3-3.4h0m-3.4 3.2h0m-21.9 19h0m2-5.3h0m36.3-14.7h0m-29.2 11.4h0m12.9-8.1h0m2.2-5.3h0m.9 4.4h0m-19.5 12.2h0m31.3-23.5h0m-1.8-4.1h0m-1.1 4.1h0" stroke="#f51a1a" stroke-width="1.3" stroke-linecap="round" fill="none"/>
<path d="M480 268.5h0m-29.7 43h0m3.5-5.1h0m12-17.4h0m-2.6 3.8h0m-3.5 5.1h0m5.2-7.6h0m-5.1 7.4h0m9.6-13.9h0m5.5-8.1h0m-9.7 14.2h0m3.1-4.5h0m-6 8.7h0m13.8-20.1h0m-16 23.3h0m26.4-38.3h0m-20.5 29.7h0m18.5-26.8h0m-14.7 21.3h0m-18.5 26.8h0m19.7-28.5h0m-2.2 3.2h0m9.3-13.6h0m7.3-10.5h0m-1 1.4h0m4.2-6.1h0m-13.6 19.7h0m-22.3 32.3h0m7.2-10.3h0m13.8-20.1h0m-20.7 30h0m22.7-32.9h0m-20.7 30h0m20.5-29.6h0m-17.4 25.2h0m-5 7.2h0m1.2-1.7h0m11.9-17.3h0m16.1-23.3h0m4.9-7.1h0m-23.2 33.6h0m14.8-21.4h0m-20.9 30.2h0m-1.9 2.9h0m3-4.5h0m4.6-6.6h0m23.9-34.7h0m-1.2 1.8h0m-25.5 37h0m1.5-2.2h0m16.5-24h0m.2-.3h0m-22.4 32.5h0m-1.7 2.6h0m6.6-9.7h0m11.5-16.7h0m-8.3 12.1h0m1.4-2h0m15.8-23h0m.1-.1h0m-27.4 39.7h0m18.8-27.2h0m-8.4 12.1h0m-5.9 8.6h0m12.1-17.5h0m15.7-22.8h0m-15.4 22.4h0m9.4-13.7h0m-24.2 35.1h0m31.5-45.7h0m-17.6 25.5h0m11-15.9h0m-28.8 41.7h0m3.9-5.5h0m23-33.5h0m-28 40.6h0m10.2-14.7h0m26.7-38.8h0m-35.7 51.7h0m16.4-23.6h0m-2.3 3.3h0m-2.8 4h0m.6-.8h0m-6.2 8.9h0m11.3-16.4h0m-.7 1.1h0m-18.8 27.2h0m7.6-11h0m29.5-42.8h0m-26.4 38.3h0m5.2-7.5h0m-9.4 13.6h0m17.7-25.7h0m11.4-16.4h0m-28.1 40.6h0m-1.1 1.6h0m22.7-32.9h0m.4-.5h0m-25.7 37.3h0m19.3-28.1h0m-3.8 5.6h0m-13.9 20.1h0m12.5-18.2h0m-16.6 24.2h0m7.2-10.5h0m16.9-24.5h0m-3.4 5h0m-11.8 17.1h0m25.9-37.6h0m-21.5 31.2h0m6.1-8.8h0m3-4.5h0m14-20.2h0m-32.5 47.2h0m-2.2 3.1h0m13.7-19.8h0m-9.9 14.3h0m20.4-29.7h0m-23.8 34.6h0m34.3-49.7h0m-24.8 35.9h0m-1.6 2.3h0m20.6-29.9h0m-17.6 25.6h0m-7.1 10.3h0m-3.3 4.9h0m27.5-40h0m4.8-6.9h0m1-1.5h0m-6.5 9.4h0" stroke="#f03030" stroke-width="0.9" stroke-linecap="round" fill="none"/>
<path d="M545.5 182h0m8.5 24h0m2.5-6h0m-8.5 17h0m-8-3h0m-10-15h0m11 9h0m-128 76h0m-8 8h0m-8 10h0m30-18h0m-9-3h0m18 12h0m-5 7h0" stroke="#f01818" stroke-width="1.6" stroke-linecap="round" fill="none"/>
<path d="M533 183h0m0 74h0m-92 67h0" stroke="#1010f0" stroke-width="1.4" stroke-linecap="round" fill="none"/>
<text x="393.0" y="219.0" font-size="8.2" text-anchor="end" fill="#4a4a4a">3</text>
<line x1="393.6" y1="216.1" x2="395.6" y2="216.1" stroke="#555" stroke-width="0.8"/>
<text x="393.0" y="258.9" font-size="8.2" text-anchor="end" fill="#4a4a4a">0</text>
<line x1="393.6" y1="256.0" x2="395.6" y2="256.0" stroke="#555" stroke-width="0.8"/>
<text x="393.0" y="299.6" font-size="8.2" text-anchor="end" fill="#4a4a4a">-3</text>
<line x1="393.6" y1="296.7" x2="395.6" y2="296.7" stroke="#555" stroke-width="0.8"/>
<text x="393.0" y="339.6" font-size="8.2" text-anchor="end" fill="#4a4a4a">-6</text>
<line x1="393.6" y1="336.7" x2="395.6" y2="336.7" stroke="#555" stroke-width="0.8"/>
<text x="439.7" y="354.2" font-size="8.2" text-anchor="middle" fill="#4a4a4a">-5</text>
<line x1="439.7" y1="345.5" x2="439.7" y2="347.5" stroke="#555" stroke-width="0.8"/>
<text x="488.6" y="354.2" font-size="8.2" text-anchor="middle" fill="#4a4a4a">0</text>
<line x1="488.6" y1="345.5" x2="488.6" y2="347.5" stroke="#555" stroke-width="0.8"/>
<text x="537.5" y="354.2" font-size="8.2" text-anchor="middle" fill="#4a4a4a">5</text>
<line x1="537.5" y1="345.5" x2="537.5" y2="347.5" stroke="#555" stroke-width="0.8"/>
<text x="480.0" y="363.9" font-size="10.05" text-anchor="middle">Hypoxia vs Control (log2 FC)</text>
<text transform="translate(383.5,261.0) rotate(-90)" font-size="10.12" text-anchor="middle">Oscillation vs Control (log2 FC)</text>
<text x="410.0" y="229.4" font-size="12.1">H&lt;N&lt;O</text>
<text x="410.0" y="244.1" font-size="12">518 genes</text>
<text x="506.9" y="312.8" font-size="12.1">O&lt;N&lt;H</text>
<text x="506.9" y="327.4" font-size="12">548 genes</text>
<text x="570.4" y="238.9" font-size="10.1">Oscillation-specific genes</text>
<path d="M572.2 245.7h0" stroke="#1010f0" stroke-width="5.0" stroke-linecap="round" fill="none"/>
<text x="577.6" y="248.6" font-size="9.4">Yes</text>
<path d="M572.2 253.8h0" stroke="#f01818" stroke-width="5.0" stroke-linecap="round" fill="none"/>
<text x="577.6" y="256.7" font-size="9.4">No</text>
<text x="570.4" y="272.7" font-size="10.1">Significant genes</text>
<path d="M566.2 279.5h0" stroke="#f01818" stroke-width="5.0" stroke-linecap="round" fill="none"/>
<path d="M572.2 279.5h0" stroke="#1010f0" stroke-width="5.0" stroke-linecap="round" fill="none"/>
<text x="577.6" y="283.0" font-size="9.4">Yes</text>
<path d="M566.2 288.5h0" stroke="#f6c8c8" stroke-width="5.0" stroke-linecap="round" fill="none"/>
<path d="M572.2 288.5h0" stroke="#c8c8f6" stroke-width="5.0" stroke-linecap="round" fill="none"/>
<text x="577.6" y="291.7" font-size="9.4">No</text>
<text x="10.0" y="28.0" font-size="15" font-weight="bold">A</text>
<text x="214.0" y="25.2" font-size="15" font-weight="bold">B</text>
<text x="464.5" y="26.2" font-size="15" font-weight="bold">C</text>
<text x="10.0" y="150.2" font-size="15" font-weight="bold">D</text>
<text x="350.5" y="166.0" font-size="15" font-weight="bold">E</text>
<text x="12.6" y="379.3" font-size="15" font-weight="bold">F</text>
<text x="295.7" y="389.0" font-size="15" font-weight="bold">G</text>
<text x="10.5" y="495.8" font-size="15" font-weight="bold">H</text>
<text x="292.5" y="503.9" font-size="15" font-weight="bold">I</text>
<text x="13.1" y="618.4" font-size="15" font-weight="bold">J</text>
<text x="296.3" y="627.1" font-size="15" font-weight="bold">K</text>
<text x="14.4" y="713.9" font-size="15" font-weight="bold">L</text>
<text x="297.7" y="723.4" font-size="15" font-weight="bold">M</text>
<g shape-rendering="crispEdges">
<g class="hm" transform="translate(33.00,390.00) scale(22.511,0.9977)">
<rect y="0" width="1" height="1.08" fill="#f7f0ef"/><rect y="1" width="1" height="1.08" fill="#f2e7e6"/><rect y="2" width="1" height="1.08" fill="#ecdcda"/><rect y="3" width="1" height="1.08" fill="#f5edec"/><rect y="4" width="1" height="1.08" fill="#f0e3e2"/><rect y="5" width="1" height="1.08" fill="#f5eceb"/><rect y="6" width="1" height="1.08" fill="#f0e4e3"/><rect y="7" width="1" height="1.08" fill="#f1e6e5"/><rect y="8" width="1" height="1.08" fill="#efe1e0"/><rect y="9" width="1" height="1.08" fill="#f8f1f1"/><rect y="10" width="1" height="1.08" fill="#f0e4e3"/><rect y="11" width="1" height="1.08" fill="#f6eeee"/><rect y="12" width="1" height="1.08" fill="#f3eae9"/><rect y="13" width="1" height="1.08" fill="#f2e7e6"/><rect y="14" width="1" height="1.08" fill="#f3e9e8"/><rect y="15" width="1" height="1.08" fill="#f2e7e6"/><rect y="16" width="1" height="1.08" fill="#f2e8e7"/><rect y="17" width="1" height="1.08" fill="#f2e6e6"/><rect y="18" width="1" height="1.08" fill="#f4eae9"/><rect y="19" width="1" height="1.08" fill="#f4ebea"/><rect y="20" width="1" height="1.08" fill="#f2e6e5"/><rect y="21" width="1" height="1.08" fill="#f0e3e2"/><rect y="22" width="1" height="1.08" fill="#f2e7e6"/><rect y="23" width="1" height="1.08" fill="#ecdcdb"/><rect y="24" width="1" height="1.08" fill="#f2e6e5"/><rect y="25" width="1" height="1.08" fill="#f0e3e2"/><rect y="26" width="1" height="1.08" fill="#fbf7f7"/><rect y="27" width="1" height="1.08" fill="#f0e3e2"/><rect y="28" width="1" height="1.08" fill="#f3e9e8"/><rect y="29" width="1" height="1.08" fill="#eedfde"/><rect y="30" width="1" height="1.08" fill="#f0e4e3"/><rect y="31" width="1" height="1.08" fill="#ebdad8"/><rect y="32" width="1" height="1.08" fill="#f7f0ef"/><rect y="33" width="1" height="1.08" fill="#f9f3f3"/><rect y="34" width="1" height="1.08" fill="#efe1e0"/><rect y="35" width="1" height="1.08" fill="#f7f0f0"/><rect y="36" width="1" height="1.08" fill="#f8f1f1"/><rect y="37" width="1" height="1.08" fill="#f1e5e3"/><rect y="38" width="1" height="1.08" fill="#f7f1f0"/><rect y="39" width="1" height="1.08" fill="#fffeff"/><rect y="40" width="1" height="1.08" fill="#eee0df"/><rect y="41" width="1" height="1.08" fill="#f7efef"/><rect y="42" width="1" height="1.08" fill="#f3e8e7"/><rect y="43" width="1" height="1.08" fill="#f4ebea"/><rect y="44" width="1" height="1.08" fill="#f0e4e3"/><rect y="45" width="1" height="1.08" fill="#f9f4f4"/><rect y="46" width="1" height="1.08" fill="#f5edec"/><rect y="47" width="1" height="1.08" fill="#f1e6e5"/><rect y="48" width="1" height="1.08" fill="#f4ebeb"/><rect y="49" width="1" height="1.08" fill="#eddedc"/><rect y="50" width="1" height="1.08" fill="#f2e6e5"/><rect y="51" width="1" height="1.08" fill="#f3e9e8"/><rect y="52" width="1" height="1.08" fill="#f8f2f1"/><rect y="53" width="1" height="1.08" fill="#f0e3e2"/><rect y="54" width="1" height="1.08" fill="#f7f0f0"/><rect y="55" width="1" height="1.08" fill="#f4eaea"/><rect y="56" width="1" height="1.08" fill="#f4eae9"/><rect y="57" width="1" height="1.08" fill="#f5edec"/><rect y="58" width="1" height="1.08" fill="#f2e7e6"/><rect y="59" width="1" height="1.08" fill="#eee0df"/><rect y="60" width="1" height="1.08" fill="#ebdad9"/><rect y="61" width="1" height="1.08" fill="#f5eceb"/><rect y="62" width="1" height="1.08" fill="#eee1df"/><rect y="63" width="1" height="1.08" fill="#f6efee"/><rect y="64" width="1" height="1.08" fill="#f4eae9"/><rect y="65" width="1" height="1.08" fill="#f9f3f3"/><rect y="66" width="1" height="1.08" fill="#f2e7e6"/><rect y="67" width="1" height="1.08" fill="#eee0df"/><rect y="68" width="1" height="1.08" fill="#f5edec"/><rect y="69" width="1" height="1.08" fill="#f7f0ef"/><rect y="70" width="1" height="1.08" fill="#f4ebea"/><rect y="71" width="1" height="1.08" fill="#eddddc"/><rect y="72" width="1" height="1.08" fill="#f5eceb"/><rect y="73" width="1" height="1.08" fill="#fdfafa"/><rect y="74" width="1" height="1.08" fill="#f1e5e4"/><rect y="75" width="1" height="1.08" fill="#f3e9e9"/><rect y="76" width="1" height="1.08" fill="#fcfafe"/><rect y="77" width="1" height="1.08" fill="#f5eceb"/><rect y="78" width="1" height="1.08" fill="#efe2e1"/><rect y="79" width="1" height="1.08" fill="#f4ebea"/><rect y="80" width="1" height="1.08" fill="#f4eceb"/><rect y="81" width="1" height="1.08" fill="#f6eeed"/><rect y="82" width="1" height="1.08" fill="#eddedd"/><rect y="83" width="1" height="1.08" fill="#f4eae9"/><rect y="84" width="1" height="1.08" fill="#f1e5e4"/><rect y="85" width="1" height="1.08" fill="#f5eded"/><rect y="86" width="1" height="1.08" fill="#f2e7e6"/>
</g>
<g class="hm" transform="translate(55.21,390.00) scale(22.511,0.9977)">
<rect y="0" width="1" height="1.08" fill="#f2e8e7"/><rect y="1" width="1" height="1.08" fill="#ebdbda"/><rect y="2" width="1" height="1.08" fill="#f0e4e3"/><rect y="3" width="1" height="1.08" fill="#f4ebea"/><rect y="4" width="1" height="1.08" fill="#eddedd"/><rect y="5" width="1" height="1.08" fill="#eee0de"/><rect y="6" width="1" height="1.08" fill="#f0e4e3"/><rect y="7" width="1" height="1.08" fill="#ecdcdb"/><rect y="8" width="1" height="1.08" fill="#f0e3e2"/><rect y="9" width="1" height="1.08" fill="#f6efee"/><rect y="10" width="1" height="1.08" fill="#e9d8d6"/><rect y="11" width="1" height="1.08" fill="#f4ebea"/><rect y="12" width="1" height="1.08" fill="#efe1e0"/><rect y="13" width="1" height="1.08" fill="#f3eae9"/><rect y="14" width="1" height="1.08" fill="#f0e3e1"/><rect y="15" width="1" height="1.08" fill="#eddfdd"/><rect y="16" width="1" height="1.08" fill="#eddddc"/><rect y="17" width="1" height="1.08" fill="#efe2e1"/><rect y="18" width="1" height="1.08" fill="#f4eaea"/><rect y="19" width="1" height="1.08" fill="#eedfde"/><rect y="20" width="1" height="1.08" fill="#f0e4e3"/><rect y="21" width="1" height="1.08" fill="#f3e9e8"/><rect y="22" width="1" height="1.08" fill="#f1e6e5"/><rect y="23" width="1" height="1.08" fill="#ecdbda"/><rect y="24" width="1" height="1.08" fill="#e9d7d6"/><rect y="25" width="1" height="1.08" fill="#f5eceb"/><rect y="26" width="1" height="1.08" fill="#f3e9e8"/><rect y="27" width="1" height="1.08" fill="#f5edec"/><rect y="28" width="1" height="1.08" fill="#efe2e1"/><rect y="29" width="1" height="1.08" fill="#f1e5e4"/><rect y="30" width="1" height="1.08" fill="#faf5f5"/><rect y="31" width="1" height="1.08" fill="#efe1e0"/><rect y="32" width="1" height="1.08" fill="#ecdbda"/><rect y="33" width="1" height="1.08" fill="#f5eceb"/><rect y="34" width="1" height="1.08" fill="#f2e7e6"/><rect y="35" width="1" height="1.08" fill="#f3e8e7"/><rect y="36" width="1" height="1.08" fill="#f8f2f1"/><rect y="37" width="1" height="1.08" fill="#efe1e0"/><rect y="38" width="1" height="1.08" fill="#f1e5e4"/><rect y="39" width="1" height="1.08" fill="#f7f0f0"/><rect y="40" width="1" height="1.08" fill="#ead8d6"/><rect y="41" width="1" height="1.08" fill="#f6eeed"/><rect y="42" width="1" height="1.08" fill="#eddddc"/><rect y="43" width="1" height="1.08" fill="#f4ebea"/><rect y="44" width="1" height="1.08" fill="#eee0de"/><rect y="45" width="1" height="1.08" fill="#f7f0ef"/><rect y="46" width="1" height="1.08" fill="#ebdad9"/><rect y="47" width="1" height="1.08" fill="#ecdbda"/><rect y="48" width="1" height="1.08" fill="#ead9d8"/><rect y="49" width="1" height="1.08" fill="#ebdbd9"/><rect y="50" width="1" height="1.08" fill="#eddedd"/><rect y="51" width="1" height="1.08" fill="#f1e5e3"/><rect y="52" width="1" height="1.08" fill="#ead9d8"/><rect y="53" width="1" height="1.08" fill="#eedfde"/><rect y="54" width="1" height="1.08" fill="#f6eded"/><rect y="55" width="1" height="1.08" fill="#f1e5e4"/><rect y="56" width="1" height="1.08" fill="#f5edec"/><rect y="57" width="1" height="1.08" fill="#ecdddb"/><rect y="58" width="1" height="1.08" fill="#eddddc"/><rect y="59" width="1" height="1.08" fill="#efe2e1"/><rect y="60" width="1" height="1.08" fill="#f3e9e8"/><rect y="61" width="1" height="1.08" fill="#eedfde"/><rect y="62" width="1" height="1.08" fill="#e9d7d6"/><rect y="63" width="1" height="1.08" fill="#fcf9f9"/><rect y="64" width="1" height="1.08" fill="#eee0df"/><rect y="65" width="1" height="1.08" fill="#f4ebea"/><rect y="66" width="1" height="1.08" fill="#e8d5d3"/><rect y="67" width="1" height="1.08" fill="#f1e5e4"/><rect y="68" width="1" height="1.08" fill="#f2e8e7"/><rect y="69" width="1" height="1.08" fill="#f9f3f3"/><rect y="70" width="1" height="1.08" fill="#f3e9e8"/><rect y="71" width="1" height="1.08" fill="#e8d5d4"/><rect y="72" width="1" height="1.08" fill="#eee0df"/><rect y="73" width="1" height="1.08" fill="#f3e9e8"/><rect y="74" width="1" height="1.08" fill="#eee0df"/><rect y="75" width="1" height="1.08" fill="#f0e3e1"/><rect y="76" width="1" height="1.08" fill="#f4ebeb"/><rect y="77" width="1" height="1.08" fill="#f0e3e2"/><rect y="78" width="1" height="1.08" fill="#f1e5e4"/><rect y="79" width="1" height="1.08" fill="#f1e5e4"/><rect y="80" width="1" height="1.08" fill="#f1e5e4"/><rect y="81" width="1" height="1.08" fill="#efe2e1"/><rect y="82" width="1" height="1.08" fill="#eedfde"/><rect y="83" width="1" height="1.08" fill="#ecdcdb"/><rect y="84" width="1" height="1.08" fill="#ebdad9"/><rect y="85" width="1" height="1.08" fill="#f2e7e6"/><rect y="86" width="1" height="1.08" fill="#f1e6e5"/>
</g>
<g class="hm" transform="translate(77.42,390.00) scale(22.511,0.9977)">
<rect y="0" width="1" height="1.08" fill="#f9f3f3"/><rect y="1" width="1" height="1.08" fill="#f2e6e5"/><rect y="2" width="1" height="1.08" fill="#f2e6e6"/><rect y="3" width="1" height="1.08" fill="#ebdad8"/><rect y="4" width="1" height="1.08" fill="#eddfdd"/><rect y="5" width="1" height="1.08" fill="#f5ecec"/><rect y="6" width="1" height="1.08" fill="#ecdddb"/><rect y="7" width="1" height="1.08" fill="#e8d6d4"/><rect y="8" width="1" height="1.08" fill="#f2e7e6"/><rect y="9" width="1" height="1.08" fill="#f8f2f1"/><rect y="10" width="1" height="1.08" fill="#ecdcda"/><rect y="11" width="1" height="1.08" fill="#f4ebea"/><rect y="12" width="1" height="1.08" fill="#f5edec"/><rect y="13" width="1" height="1.08" fill="#f6eeee"/><rect y="14" width="1" height="1.08" fill="#eedfde"/><rect y="15" width="1" height="1.08" fill="#ead9d7"/><rect y="16" width="1" height="1.08" fill="#ecdcda"/><rect y="17" width="1" height="1.08" fill="#f3e8e7"/><rect y="18" width="1" height="1.08" fill="#fefdfd"/><rect y="19" width="1" height="1.08" fill="#f1e6e5"/><rect y="20" width="1" height="1.08" fill="#f4ebea"/><rect y="21" width="1" height="1.08" fill="#f1e6e5"/><rect y="22" width="1" height="1.08" fill="#f2e7e6"/><rect y="23" width="1" height="1.08" fill="#f1e4e3"/><rect y="24" width="1" height="1.08" fill="#f6eeed"/><rect y="25" width="1" height="1.08" fill="#f4eaea"/><rect y="26" width="1" height="1.08" fill="#f9f4f3"/><rect y="27" width="1" height="1.08" fill="#f4eae9"/><rect y="28" width="1" height="1.08" fill="#f7f0f0"/><rect y="29" width="1" height="1.08" fill="#f2e7e6"/><rect y="30" width="1" height="1.08" fill="#ffffff"/><rect y="31" width="1" height="1.08" fill="#ecdbda"/><rect y="32" width="1" height="1.08" fill="#f2e7e6"/><rect y="33" width="1" height="1.08" fill="#efe2e1"/><rect y="34" width="1" height="1.08" fill="#ebdad9"/><rect y="35" width="1" height="1.08" fill="#f3eae9"/><rect y="36" width="1" height="1.08" fill="#fefdfd"/><rect y="37" width="1" height="1.08" fill="#f7efef"/><rect y="38" width="1" height="1.08" fill="#f6eeee"/><rect y="39" width="1" height="1.08" fill="#faf5f5"/><rect y="40" width="1" height="1.08" fill="#efe1e0"/><rect y="41" width="1" height="1.08" fill="#fefcfc"/><rect y="42" width="1" height="1.08" fill="#f1e4e3"/><rect y="43" width="1" height="1.08" fill="#f9f4f4"/><rect y="44" width="1" height="1.08" fill="#ecdcdb"/><rect y="45" width="1" height="1.08" fill="#f4eceb"/><rect y="46" width="1" height="1.08" fill="#f6eeed"/><rect y="47" width="1" height="1.08" fill="#eee0df"/><rect y="48" width="1" height="1.08" fill="#f1e5e3"/><rect y="49" width="1" height="1.08" fill="#f1e5e4"/><rect y="50" width="1" height="1.08" fill="#f7f0f0"/><rect y="51" width="1" height="1.08" fill="#f4ebeb"/><rect y="52" width="1" height="1.08" fill="#eee0df"/><rect y="53" width="1" height="1.08" fill="#e7d3d1"/><rect y="54" width="1" height="1.08" fill="#efe2e1"/><rect y="55" width="1" height="1.08" fill="#eee0df"/><rect y="56" width="1" height="1.08" fill="#f7efef"/><rect y="57" width="1" height="1.08" fill="#eddfde"/><rect y="58" width="1" height="1.08" fill="#f3e9e8"/><rect y="59" width="1" height="1.08" fill="#f0e3e2"/><rect y="60" width="1" height="1.08" fill="#f3e9e8"/><rect y="61" width="1" height="1.08" fill="#f0e2e1"/><rect y="62" width="1" height="1.08" fill="#f3e9e8"/><rect y="63" width="1" height="1.08" fill="#f6efee"/><rect y="64" width="1" height="1.08" fill="#f7f1f0"/><rect y="65" width="1" height="1.08" fill="#f5edec"/><rect y="66" width="1" height="1.08" fill="#e8d6d4"/><rect y="67" width="1" height="1.08" fill="#f1e5e4"/><rect y="68" width="1" height="1.08" fill="#f6eeed"/><rect y="69" width="1" height="1.08" fill="#f5edec"/><rect y="70" width="1" height="1.08" fill="#f1e4e3"/><rect y="71" width="1" height="1.08" fill="#faf8fd"/><rect y="72" width="1" height="1.08" fill="#f5edec"/><rect y="73" width="1" height="1.08" fill="#f2e7e6"/><rect y="74" width="1" height="1.08" fill="#eedfde"/><rect y="75" width="1" height="1.08" fill="#ecdcdb"/><rect y="76" width="1" height="1.08" fill="#f1e6e5"/><rect y="77" width="1" height="1.08" fill="#f5edec"/><rect y="78" width="1" height="1.08" fill="#f4eae9"/><rect y="79" width="1" height="1.08" fill="#f6eeee"/><rect y="80" width="1" height="1.08" fill="#ebdbd9"/><rect y="81" width="1" height="1.08" fill="#f9f4f4"/><rect y="82" width="1" height="1.08" fill="#f3e9e9"/><rect y="83" width="1" height="1.08" fill="#f5edec"/><rect y="84" width="1" height="1.08" fill="#efe1e0"/><rect y="85" width="1" height="1.08" fill="#f3e9e8"/><rect y="86" width="1" height="1.08" fill="#eddfdd"/>
</g>
<g class="hm" transform="translate(99.63,390.00) scale(22.511,0.9977)">
<rect y="0" width="1" height="1.08" fill="#b9a7eb"/><rect y="1" width="1" height="1.08" fill="#b29ee9"/><rect y="2" width="1" height="1.08" fill="#b9a6eb"/><rect y="3" width="1" height="1.08" fill="#b4a1ea"/><rect y="4" width="1" height="1.08" fill="#bca9ec"/><rect y="5" width="1" height="1.08" fill="#af9be8"/><rect y="6" width="1" height="1.08" fill="#ad99e7"/><rect y="7" width="1" height="1.08" fill="#bdabec"/><rect y="8" width="1" height="1.08" fill="#ae99e8"/><rect y="9" width="1" height="1.08" fill="#b4a1e9"/><rect y="10" width="1" height="1.08" fill="#b9a6eb"/><rect y="11" width="1" height="1.08" fill="#a48ee5"/><rect y="12" width="1" height="1.08" fill="#af9ae8"/><rect y="13" width="1" height="1.08" fill="#beacec"/><rect y="14" width="1" height="1.08" fill="#bba8eb"/><rect y="15" width="1" height="1.08" fill="#b19de9"/><rect y="16" width="1" height="1.08" fill="#aa95e7"/><rect y="17" width="1" height="1.08" fill="#b19de8"/><rect y="18" width="1" height="1.08" fill="#b5a1ea"/><rect y="19" width="1" height="1.08" fill="#aa95e7"/><rect y="20" width="1" height="1.08" fill="#ae9ae8"/><rect y="21" width="1" height="1.08" fill="#ac98e7"/><rect y="22" width="1" height="1.08" fill="#b6a2ea"/><rect y="23" width="1" height="1.08" fill="#ac98e7"/><rect y="24" width="1" height="1.08" fill="#b19de8"/><rect y="25" width="1" height="1.08" fill="#a994e6"/><rect y="26" width="1" height="1.08" fill="#a58fe5"/><rect y="27" width="1" height="1.08" fill="#a792e6"/><rect y="28" width="1" height="1.08" fill="#b29ee9"/><rect y="29" width="1" height="1.08" fill="#ab96e7"/><rect y="30" width="1" height="1.08" fill="#aa95e7"/><rect y="31" width="1" height="1.08" fill="#baa7eb"/><rect y="32" width="1" height="1.08" fill="#b7a4ea"/><rect y="33" width="1" height="1.08" fill="#ae9ae8"/><rect y="34" width="1" height="1.08" fill="#b8a5eb"/><rect y="35" width="1" height="1.08" fill="#baa7eb"/><rect y="36" width="1" height="1.08" fill="#ae9ae8"/><rect y="37" width="1" height="1.08" fill="#af9be8"/><rect y="38" width="1" height="1.08" fill="#b29ee9"/><rect y="39" width="1" height="1.08" fill="#ae9ae8"/><rect y="40" width="1" height="1.08" fill="#b8a5eb"/><rect y="41" width="1" height="1.08" fill="#a58fe5"/><rect y="42" width="1" height="1.08" fill="#a993e6"/><rect y="43" width="1" height="1.08" fill="#b19de9"/><rect y="44" width="1" height="1.08" fill="#b09ce8"/><rect y="45" width="1" height="1.08" fill="#b39fe9"/><rect y="46" width="1" height="1.08" fill="#b4a0e9"/><rect y="47" width="1" height="1.08" fill="#b39fe9"/><rect y="48" width="1" height="1.08" fill="#b29fe9"/><rect y="49" width="1" height="1.08" fill="#ae99e8"/><rect y="50" width="1" height="1.08" fill="#b5a2ea"/><rect y="51" width="1" height="1.08" fill="#aa95e6"/><rect y="52" width="1" height="1.08" fill="#bba9eb"/><rect y="53" width="1" height="1.08" fill="#b6a3ea"/><rect y="54" width="1" height="1.08" fill="#b4a1e9"/><rect y="55" width="1" height="1.08" fill="#b4a1e9"/><rect y="56" width="1" height="1.08" fill="#b39fe9"/><rect y="57" width="1" height="1.08" fill="#b4a0e9"/><rect y="58" width="1" height="1.08" fill="#b4a0e9"/><rect y="59" width="1" height="1.08" fill="#baa8eb"/><rect y="60" width="1" height="1.08" fill="#beacec"/><rect y="61" width="1" height="1.08" fill="#9e87e3"/><rect y="62" width="1" height="1.08" fill="#ac98e7"/><rect y="63" width="1" height="1.08" fill="#baa8eb"/><rect y="64" width="1" height="1.08" fill="#ab96e7"/><rect y="65" width="1" height="1.08" fill="#b4a1e9"/><rect y="66" width="1" height="1.08" fill="#b09ce8"/><rect y="67" width="1" height="1.08" fill="#af9be8"/><rect y="68" width="1" height="1.08" fill="#ad98e7"/><rect y="69" width="1" height="1.08" fill="#ae9ae8"/><rect y="70" width="1" height="1.08" fill="#b19de9"/><rect y="71" width="1" height="1.08" fill="#a48ee5"/><rect y="72" width="1" height="1.08" fill="#aa95e7"/><rect y="73" width="1" height="1.08" fill="#a38de5"/><rect y="74" width="1" height="1.08" fill="#b19de8"/><rect y="75" width="1" height="1.08" fill="#b6a2ea"/><rect y="76" width="1" height="1.08" fill="#ac97e7"/><rect y="77" width="1" height="1.08" fill="#b9a6eb"/><rect y="78" width="1" height="1.08" fill="#ad99e8"/><rect y="79" width="1" height="1.08" fill="#b9a7eb"/><rect y="80" width="1" height="1.08" fill="#b19de9"/><rect y="81" width="1" height="1.08" fill="#b19de9"/><rect y="82" width="1" height="1.08" fill="#b4a1ea"/><rect y="83" width="1" height="1.08" fill="#b7a4ea"/><rect y="84" width="1" height="1.08" fill="#b6a3ea"/><rect y="85" width="1" height="1.08" fill="#aa95e7"/><rect y="86" width="1" height="1.08" fill="#b4a1ea"/>
</g>
<g class="hm" transform="translate(121.84,390.00) scale(22.511,0.9977)">
<rect y="0" width="1" height="1.08" fill="#bfaeed"/><rect y="1" width="1" height="1.08" fill="#b9a7eb"/><rect y="2" width="1" height="1.08" fill="#c0afed"/><rect y="3" width="1" height="1.08" fill="#bcabec"/><rect y="4" width="1" height="1.08" fill="#b6a3ea"/><rect y="5" width="1" height="1.08" fill="#bba9eb"/><rect y="6" width="1" height="1.08" fill="#b29ee9"/><rect y="7" width="1" height="1.08" fill="#bcaaec"/><rect y="8" width="1" height="1.08" fill="#b09ce8"/><rect y="9" width="1" height="1.08" fill="#bba9eb"/><rect y="10" width="1" height="1.08" fill="#c5b4ee"/><rect y="11" width="1" height="1.08" fill="#a590e5"/><rect y="12" width="1" height="1.08" fill="#b39fe9"/><rect y="13" width="1" height="1.08" fill="#b19de9"/><rect y="14" width="1" height="1.08" fill="#b9a6eb"/><rect y="15" width="1" height="1.08" fill="#beacec"/><rect y="16" width="1" height="1.08" fill="#b19de9"/><rect y="17" width="1" height="1.08" fill="#b9a7eb"/><rect y="18" width="1" height="1.08" fill="#ab96e7"/><rect y="19" width="1" height="1.08" fill="#b7a4ea"/><rect y="20" width="1" height="1.08" fill="#b29ee9"/><rect y="21" width="1" height="1.08" fill="#ae9ae8"/><rect y="22" width="1" height="1.08" fill="#b5a2ea"/><rect y="23" width="1" height="1.08" fill="#a58fe5"/><rect y="24" width="1" height="1.08" fill="#b6a2ea"/><rect y="25" width="1" height="1.08" fill="#b5a1ea"/><rect y="26" width="1" height="1.08" fill="#b39fe9"/><rect y="27" width="1" height="1.08" fill="#b7a4ea"/><rect y="28" width="1" height="1.08" fill="#b29fe9"/><rect y="29" width="1" height="1.08" fill="#ab96e7"/><rect y="30" width="1" height="1.08" fill="#b29ee9"/><rect y="31" width="1" height="1.08" fill="#bcabec"/><rect y="32" width="1" height="1.08" fill="#b5a1ea"/><rect y="33" width="1" height="1.08" fill="#b6a3ea"/><rect y="34" width="1" height="1.08" fill="#af9be8"/><rect y="35" width="1" height="1.08" fill="#bba9ec"/><rect y="36" width="1" height="1.08" fill="#c2b1ed"/><rect y="37" width="1" height="1.08" fill="#baa8eb"/><rect y="38" width="1" height="1.08" fill="#bcaaec"/><rect y="39" width="1" height="1.08" fill="#bcaaec"/><rect y="40" width="1" height="1.08" fill="#af9be8"/><rect y="41" width="1" height="1.08" fill="#bba8eb"/><rect y="42" width="1" height="1.08" fill="#ab96e7"/><rect y="43" width="1" height="1.08" fill="#b4a1ea"/><rect y="44" width="1" height="1.08" fill="#b6a3ea"/><rect y="45" width="1" height="1.08" fill="#baa7eb"/><rect y="46" width="1" height="1.08" fill="#b7a5ea"/><rect y="47" width="1" height="1.08" fill="#b9a6eb"/><rect y="48" width="1" height="1.08" fill="#ac98e7"/><rect y="49" width="1" height="1.08" fill="#b5a2ea"/><rect y="50" width="1" height="1.08" fill="#b9a6eb"/><rect y="51" width="1" height="1.08" fill="#ad98e7"/><rect y="52" width="1" height="1.08" fill="#b7a4ea"/><rect y="53" width="1" height="1.08" fill="#b29ee9"/><rect y="54" width="1" height="1.08" fill="#b9a7eb"/><rect y="55" width="1" height="1.08" fill="#b29ee9"/><rect y="56" width="1" height="1.08" fill="#ac97e7"/><rect y="57" width="1" height="1.08" fill="#ad98e7"/><rect y="58" width="1" height="1.08" fill="#bba9eb"/><rect y="59" width="1" height="1.08" fill="#b6a2ea"/><rect y="60" width="1" height="1.08" fill="#bfaeed"/><rect y="61" width="1" height="1.08" fill="#a590e5"/><rect y="62" width="1" height="1.08" fill="#ab96e7"/><rect y="63" width="1" height="1.08" fill="#b6a2ea"/><rect y="64" width="1" height="1.08" fill="#a994e6"/><rect y="65" width="1" height="1.08" fill="#b4a1ea"/><rect y="66" width="1" height="1.08" fill="#bcabec"/><rect y="67" width="1" height="1.08" fill="#b3a0e9"/><rect y="68" width="1" height="1.08" fill="#ab96e7"/><rect y="69" width="1" height="1.08" fill="#ae99e8"/><rect y="70" width="1" height="1.08" fill="#b29fe9"/><rect y="71" width="1" height="1.08" fill="#aa95e7"/><rect y="72" width="1" height="1.08" fill="#a994e6"/><rect y="73" width="1" height="1.08" fill="#a892e6"/><rect y="74" width="1" height="1.08" fill="#b7a4ea"/><rect y="75" width="1" height="1.08" fill="#c0afed"/><rect y="76" width="1" height="1.08" fill="#ad98e7"/><rect y="77" width="1" height="1.08" fill="#baa7eb"/><rect y="78" width="1" height="1.08" fill="#b29ee9"/><rect y="79" width="1" height="1.08" fill="#b19de9"/><rect y="80" width="1" height="1.08" fill="#b19de9"/><rect y="81" width="1" height="1.08" fill="#b6a3ea"/><rect y="82" width="1" height="1.08" fill="#b5a2ea"/><rect y="83" width="1" height="1.08" fill="#b19de9"/><rect y="84" width="1" height="1.08" fill="#b4a0e9"/><rect y="85" width="1" height="1.08" fill="#b6a3ea"/><rect y="86" width="1" height="1.08" fill="#b9a6eb"/>
</g>
<g class="hm" transform="translate(144.06,390.00) scale(22.511,0.9977)">
<rect y="0" width="1" height="1.08" fill="#b9a7eb"/><rect y="1" width="1" height="1.08" fill="#b19de9"/><rect y="2" width="1" height="1.08" fill="#b6a3ea"/><rect y="3" width="1" height="1.08" fill="#bfaeed"/><rect y="4" width="1" height="1.08" fill="#b19de8"/><rect y="5" width="1" height="1.08" fill="#b6a3ea"/><rect y="6" width="1" height="1.08" fill="#b9a6eb"/><rect y="7" width="1" height="1.08" fill="#bcaaec"/><rect y="8" width="1" height="1.08" fill="#baa8eb"/><rect y="9" width="1" height="1.08" fill="#c9baf0"/><rect y="10" width="1" height="1.08" fill="#b9a6eb"/><rect y="11" width="1" height="1.08" fill="#ae99e8"/><rect y="12" width="1" height="1.08" fill="#b7a5ea"/><rect y="13" width="1" height="1.08" fill="#baa8eb"/><rect y="14" width="1" height="1.08" fill="#b8a5eb"/><rect y="15" width="1" height="1.08" fill="#baa7eb"/><rect y="16" width="1" height="1.08" fill="#a08ae4"/><rect y="17" width="1" height="1.08" fill="#b39fe9"/><rect y="18" width="1" height="1.08" fill="#bdabec"/><rect y="19" width="1" height="1.08" fill="#b29ee9"/><rect y="20" width="1" height="1.08" fill="#af9be8"/><rect y="21" width="1" height="1.08" fill="#a994e6"/><rect y="22" width="1" height="1.08" fill="#b8a5eb"/><rect y="23" width="1" height="1.08" fill="#b5a1ea"/><rect y="24" width="1" height="1.08" fill="#b9a6eb"/><rect y="25" width="1" height="1.08" fill="#b09ce8"/><rect y="26" width="1" height="1.08" fill="#ab96e7"/><rect y="27" width="1" height="1.08" fill="#ad98e7"/><rect y="28" width="1" height="1.08" fill="#ab96e7"/><rect y="29" width="1" height="1.08" fill="#b6a2ea"/><rect y="30" width="1" height="1.08" fill="#a893e6"/><rect y="31" width="1" height="1.08" fill="#b6a2ea"/><rect y="32" width="1" height="1.08" fill="#bba8eb"/><rect y="33" width="1" height="1.08" fill="#baa8eb"/><rect y="34" width="1" height="1.08" fill="#b7a4ea"/><rect y="35" width="1" height="1.08" fill="#c2b1ed"/><rect y="36" width="1" height="1.08" fill="#b8a6eb"/><rect y="37" width="1" height="1.08" fill="#b5a2ea"/><rect y="38" width="1" height="1.08" fill="#baa7eb"/><rect y="39" width="1" height="1.08" fill="#bba9eb"/><rect y="40" width="1" height="1.08" fill="#b09be8"/><rect y="41" width="1" height="1.08" fill="#b5a1ea"/><rect y="42" width="1" height="1.08" fill="#b19ce8"/><rect y="43" width="1" height="1.08" fill="#ac97e7"/><rect y="44" width="1" height="1.08" fill="#b4a0e9"/><rect y="45" width="1" height="1.08" fill="#b4a1e9"/><rect y="46" width="1" height="1.08" fill="#b3a0e9"/><rect y="47" width="1" height="1.08" fill="#af9be8"/><rect y="48" width="1" height="1.08" fill="#ae9ae8"/><rect y="49" width="1" height="1.08" fill="#bba9eb"/><rect y="50" width="1" height="1.08" fill="#b9a6eb"/><rect y="51" width="1" height="1.08" fill="#ab96e7"/><rect y="52" width="1" height="1.08" fill="#c0afed"/><rect y="53" width="1" height="1.08" fill="#b29ee9"/><rect y="54" width="1" height="1.08" fill="#bba8eb"/><rect y="55" width="1" height="1.08" fill="#c1b0ed"/><rect y="56" width="1" height="1.08" fill="#af9ae8"/><rect y="57" width="1" height="1.08" fill="#b29fe9"/><rect y="58" width="1" height="1.08" fill="#bfaeed"/><rect y="59" width="1" height="1.08" fill="#b29ee9"/><rect y="60" width="1" height="1.08" fill="#b4a1e9"/><rect y="61" width="1" height="1.08" fill="#b4a0e9"/><rect y="62" width="1" height="1.08" fill="#b3a0e9"/><rect y="63" width="1" height="1.08" fill="#a690e5"/><rect y="64" width="1" height="1.08" fill="#a691e5"/><rect y="65" width="1" height="1.08" fill="#b19de9"/><rect y="66" width="1" height="1.08" fill="#af9ae8"/><rect y="67" width="1" height="1.08" fill="#b19de8"/><rect y="68" width="1" height="1.08" fill="#ad98e7"/><rect y="69" width="1" height="1.08" fill="#b6a2ea"/><rect y="70" width="1" height="1.08" fill="#ac98e7"/><rect y="71" width="1" height="1.08" fill="#aa94e6"/><rect y="72" width="1" height="1.08" fill="#b29ee9"/><rect y="73" width="1" height="1.08" fill="#a993e6"/><rect y="74" width="1" height="1.08" fill="#b5a1ea"/><rect y="75" width="1" height="1.08" fill="#c5b5ee"/><rect y="76" width="1" height="1.08" fill="#b29ee9"/><rect y="77" width="1" height="1.08" fill="#b4a0e9"/><rect y="78" width="1" height="1.08" fill="#ae9ae8"/><rect y="79" width="1" height="1.08" fill="#b5a2ea"/><rect y="80" width="1" height="1.08" fill="#b4a1e9"/><rect y="81" width="1" height="1.08" fill="#b8a6eb"/><rect y="82" width="1" height="1.08" fill="#b4a1e9"/><rect y="83" width="1" height="1.08" fill="#bba8eb"/><rect y="84" width="1" height="1.08" fill="#bba9eb"/><rect y="85" width="1" height="1.08" fill="#a48ee5"/><rect y="86" width="1" height="1.08" fill="#b29ee9"/>
</g>
<g class="hm" transform="translate(166.27,390.00) scale(22.511,0.9977)">
<rect y="0" width="1" height="1.08" fill="#c89e9a"/><rect y="1" width="1" height="1.08" fill="#cda6a3"/><rect y="2" width="1" height="1.08" fill="#cfaaa7"/><rect y="3" width="1" height="1.08" fill="#c89d9a"/><rect y="4" width="1" height="1.08" fill="#d1adaa"/><rect y="5" width="1" height="1.08" fill="#d4b2af"/><rect y="6" width="1" height="1.08" fill="#c0908c"/><rect y="7" width="1" height="1.08" fill="#d1adaa"/><rect y="8" width="1" height="1.08" fill="#cca4a1"/><rect y="9" width="1" height="1.08" fill="#cea7a4"/><rect y="10" width="1" height="1.08" fill="#c89d9a"/><rect y="11" width="1" height="1.08" fill="#cba29f"/><rect y="12" width="1" height="1.08" fill="#cca4a1"/><rect y="13" width="1" height="1.08" fill="#d0aba8"/><rect y="14" width="1" height="1.08" fill="#c9a09c"/><rect y="15" width="1" height="1.08" fill="#caa19e"/><rect y="16" width="1" height="1.08" fill="#d7b7b4"/><rect y="17" width="1" height="1.08" fill="#cfa9a6"/><rect y="18" width="1" height="1.08" fill="#d1aeab"/><rect y="19" width="1" height="1.08" fill="#cca5a1"/><rect y="20" width="1" height="1.08" fill="#d0aca9"/><rect y="21" width="1" height="1.08" fill="#cba29f"/><rect y="22" width="1" height="1.08" fill="#d2aeab"/><rect y="23" width="1" height="1.08" fill="#cca4a1"/><rect y="24" width="1" height="1.08" fill="#d3b1ae"/><rect y="25" width="1" height="1.08" fill="#cca4a1"/><rect y="26" width="1" height="1.08" fill="#d8b9b6"/><rect y="27" width="1" height="1.08" fill="#cea8a5"/><rect y="28" width="1" height="1.08" fill="#cea7a4"/><rect y="29" width="1" height="1.08" fill="#c9a09c"/><rect y="30" width="1" height="1.08" fill="#d1aeab"/><rect y="31" width="1" height="1.08" fill="#cda6a3"/><rect y="32" width="1" height="1.08" fill="#d0aba8"/><rect y="33" width="1" height="1.08" fill="#d0aba8"/><rect y="34" width="1" height="1.08" fill="#d0aba8"/><rect y="35" width="1" height="1.08" fill="#cea7a4"/><rect y="36" width="1" height="1.08" fill="#d0aaa7"/><rect y="37" width="1" height="1.08" fill="#caa29f"/><rect y="38" width="1" height="1.08" fill="#d2aeab"/><rect y="39" width="1" height="1.08" fill="#c99f9c"/><rect y="40" width="1" height="1.08" fill="#c69a97"/><rect y="41" width="1" height="1.08" fill="#d3b0ad"/><rect y="42" width="1" height="1.08" fill="#cfaaa7"/><rect y="43" width="1" height="1.08" fill="#cea8a5"/><rect y="44" width="1" height="1.08" fill="#c9a09c"/><rect y="45" width="1" height="1.08" fill="#d3b1ae"/><rect y="46" width="1" height="1.08" fill="#caa19e"/><rect y="47" width="1" height="1.08" fill="#d3b0ad"/><rect y="48" width="1" height="1.08" fill="#c89d9a"/><rect y="49" width="1" height="1.08" fill="#caa29e"/><rect y="50" width="1" height="1.08" fill="#caa29e"/><rect y="51" width="1" height="1.08" fill="#cfaaa7"/><rect y="52" width="1" height="1.08" fill="#cfaaa7"/><rect y="53" width="1" height="1.08" fill="#cca5a2"/><rect y="54" width="1" height="1.08" fill="#cda6a3"/><rect y="55" width="1" height="1.08" fill="#d0aaa7"/><rect y="56" width="1" height="1.08" fill="#d1acaa"/><rect y="57" width="1" height="1.08" fill="#caa19e"/><rect y="58" width="1" height="1.08" fill="#c1928e"/><rect y="59" width="1" height="1.08" fill="#d2afac"/><rect y="60" width="1" height="1.08" fill="#cea7a4"/><rect y="61" width="1" height="1.08" fill="#cca5a2"/><rect y="62" width="1" height="1.08" fill="#c89d9a"/><rect y="63" width="1" height="1.08" fill="#d1aca9"/><rect y="64" width="1" height="1.08" fill="#cea8a5"/><rect y="65" width="1" height="1.08" fill="#d3b0ad"/><rect y="66" width="1" height="1.08" fill="#cca5a2"/><rect y="67" width="1" height="1.08" fill="#d1aca9"/><rect y="68" width="1" height="1.08" fill="#d3b1ae"/><rect y="69" width="1" height="1.08" fill="#d4b2af"/><rect y="70" width="1" height="1.08" fill="#dabdba"/><rect y="71" width="1" height="1.08" fill="#d5b4b1"/><rect y="72" width="1" height="1.08" fill="#cfaaa7"/><rect y="73" width="1" height="1.08" fill="#cda6a3"/><rect y="74" width="1" height="1.08" fill="#cba29f"/><rect y="75" width="1" height="1.08" fill="#cea7a4"/><rect y="76" width="1" height="1.08" fill="#cba3a0"/><rect y="77" width="1" height="1.08" fill="#cea7a4"/><rect y="78" width="1" height="1.08" fill="#cea8a5"/><rect y="79" width="1" height="1.08" fill="#c1928f"/><rect y="80" width="1" height="1.08" fill="#cea8a5"/><rect y="81" width="1" height="1.08" fill="#d0aba8"/><rect y="82" width="1" height="1.08" fill="#cea8a5"/><rect y="83" width="1" height="1.08" fill="#cca4a1"/><rect y="84" width="1" height="1.08" fill="#cda6a3"/><rect y="85" width="1" height="1.08" fill="#c9a09d"/><rect y="86" width="1" height="1.08" fill="#c69a97"/>
</g>
<g class="hm" transform="translate(188.48,390.00) scale(22.511,0.9977)">
<rect y="0" width="1" height="1.08" fill="#cca4a1"/><rect y="1" width="1" height="1.08" fill="#d2afac"/><rect y="2" width="1" height="1.08" fill="#d7b7b5"/><rect y="3" width="1" height="1.08" fill="#cda5a2"/><rect y="4" width="1" height="1.08" fill="#d2afac"/><rect y="5" width="1" height="1.08" fill="#d3b0ad"/><rect y="6" width="1" height="1.08" fill="#d3b1ae"/><rect y="7" width="1" height="1.08" fill="#cca5a2"/><rect y="8" width="1" height="1.08" fill="#cda6a3"/><rect y="9" width="1" height="1.08" fill="#cfa9a6"/><rect y="10" width="1" height="1.08" fill="#d4b1ae"/><rect y="11" width="1" height="1.08" fill="#d4b2b0"/><rect y="12" width="1" height="1.08" fill="#d4b1ae"/><rect y="13" width="1" height="1.08" fill="#d4b2af"/><rect y="14" width="1" height="1.08" fill="#d3b1ae"/><rect y="15" width="1" height="1.08" fill="#cea8a5"/><rect y="16" width="1" height="1.08" fill="#dec3c0"/><rect y="17" width="1" height="1.08" fill="#d3b1ae"/><rect y="18" width="1" height="1.08" fill="#d8b9b6"/><rect y="19" width="1" height="1.08" fill="#d3b0ad"/><rect y="20" width="1" height="1.08" fill="#cca4a1"/><rect y="21" width="1" height="1.08" fill="#d2afac"/><rect y="22" width="1" height="1.08" fill="#d2aeab"/><rect y="23" width="1" height="1.08" fill="#d6b5b3"/><rect y="24" width="1" height="1.08" fill="#d7b7b4"/><rect y="25" width="1" height="1.08" fill="#dbbdbb"/><rect y="26" width="1" height="1.08" fill="#d6b5b2"/><rect y="27" width="1" height="1.08" fill="#d3b0ad"/><rect y="28" width="1" height="1.08" fill="#d5b4b1"/><rect y="29" width="1" height="1.08" fill="#d2afac"/><rect y="30" width="1" height="1.08" fill="#d0aaa7"/><rect y="31" width="1" height="1.08" fill="#c99f9c"/><rect y="32" width="1" height="1.08" fill="#d0aba8"/><rect y="33" width="1" height="1.08" fill="#d4b2af"/><rect y="34" width="1" height="1.08" fill="#d4b3b0"/><rect y="35" width="1" height="1.08" fill="#cca4a1"/><rect y="36" width="1" height="1.08" fill="#d3b0ae"/><rect y="37" width="1" height="1.08" fill="#cfaaa7"/><rect y="38" width="1" height="1.08" fill="#d6b6b3"/><rect y="39" width="1" height="1.08" fill="#d2aeac"/><rect y="40" width="1" height="1.08" fill="#cca4a1"/><rect y="41" width="1" height="1.08" fill="#c59995"/><rect y="42" width="1" height="1.08" fill="#d4b3b0"/><rect y="43" width="1" height="1.08" fill="#cca4a1"/><rect y="44" width="1" height="1.08" fill="#cca5a2"/><rect y="45" width="1" height="1.08" fill="#d6b6b3"/><rect y="46" width="1" height="1.08" fill="#c79c98"/><rect y="47" width="1" height="1.08" fill="#d2afac"/><rect y="48" width="1" height="1.08" fill="#cfa9a6"/><rect y="49" width="1" height="1.08" fill="#c69b97"/><rect y="50" width="1" height="1.08" fill="#d3b0ad"/><rect y="51" width="1" height="1.08" fill="#d1adaa"/><rect y="52" width="1" height="1.08" fill="#d0aba8"/><rect y="53" width="1" height="1.08" fill="#cba3a0"/><rect y="54" width="1" height="1.08" fill="#d1adaa"/><rect y="55" width="1" height="1.08" fill="#d0aba8"/><rect y="56" width="1" height="1.08" fill="#d2aeac"/><rect y="57" width="1" height="1.08" fill="#cfa9a6"/><rect y="58" width="1" height="1.08" fill="#c59995"/><rect y="59" width="1" height="1.08" fill="#d8b9b6"/><rect y="60" width="1" height="1.08" fill="#c89e9a"/><rect y="61" width="1" height="1.08" fill="#cca4a1"/><rect y="62" width="1" height="1.08" fill="#cca4a0"/><rect y="63" width="1" height="1.08" fill="#d8b9b6"/><rect y="64" width="1" height="1.08" fill="#d1adaa"/><rect y="65" width="1" height="1.08" fill="#d3b0ae"/><rect y="66" width="1" height="1.08" fill="#d0aba8"/><rect y="67" width="1" height="1.08" fill="#cfaaa7"/><rect y="68" width="1" height="1.08" fill="#d2afac"/><rect y="69" width="1" height="1.08" fill="#d5b3b0"/><rect y="70" width="1" height="1.08" fill="#d0aca9"/><rect y="71" width="1" height="1.08" fill="#e1c9c7"/><rect y="72" width="1" height="1.08" fill="#d0aba8"/><rect y="73" width="1" height="1.08" fill="#cfa9a6"/><rect y="74" width="1" height="1.08" fill="#d2aeab"/><rect y="75" width="1" height="1.08" fill="#d6b5b2"/><rect y="76" width="1" height="1.08" fill="#c69a97"/><rect y="77" width="1" height="1.08" fill="#d4b3b0"/><rect y="78" width="1" height="1.08" fill="#d1aeab"/><rect y="79" width="1" height="1.08" fill="#cca5a2"/><rect y="80" width="1" height="1.08" fill="#cea8a5"/><rect y="81" width="1" height="1.08" fill="#d0aba8"/><rect y="82" width="1" height="1.08" fill="#cfaaa7"/><rect y="83" width="1" height="1.08" fill="#d3b1ae"/><rect y="84" width="1" height="1.08" fill="#d2afac"/><rect y="85" width="1" height="1.08" fill="#cea9a6"/><rect y="86" width="1" height="1.08" fill="#d0aca9"/>
</g>
<g class="hm" transform="translate(210.69,390.00) scale(22.511,0.9977)">
<rect y="0" width="1" height="1.08" fill="#d1aca9"/><rect y="1" width="1" height="1.08" fill="#cba3a0"/><rect y="2" width="1" height="1.08" fill="#d0aba8"/><rect y="3" width="1" height="1.08" fill="#c49692"/><rect y="4" width="1" height="1.08" fill="#cea7a4"/><rect y="5" width="1" height="1.08" fill="#d4b2af"/><rect y="6" width="1" height="1.08" fill="#cca4a1"/><rect y="7" width="1" height="1.08" fill="#cea7a4"/><rect y="8" width="1" height="1.08" fill="#cda5a2"/><rect y="9" width="1" height="1.08" fill="#cba29f"/><rect y="10" width="1" height="1.08" fill="#d3b0ad"/><rect y="11" width="1" height="1.08" fill="#cfaaa7"/><rect y="12" width="1" height="1.08" fill="#caa09d"/><rect y="13" width="1" height="1.08" fill="#c89d9a"/><rect y="14" width="1" height="1.08" fill="#cea7a4"/><rect y="15" width="1" height="1.08" fill="#c9a09c"/><rect y="16" width="1" height="1.08" fill="#d1adaa"/><rect y="17" width="1" height="1.08" fill="#cca4a0"/><rect y="18" width="1" height="1.08" fill="#cca4a1"/><rect y="19" width="1" height="1.08" fill="#cca5a2"/><rect y="20" width="1" height="1.08" fill="#d0aba8"/><rect y="21" width="1" height="1.08" fill="#d0aba9"/><rect y="22" width="1" height="1.08" fill="#cda6a3"/><rect y="23" width="1" height="1.08" fill="#cca4a1"/><rect y="24" width="1" height="1.08" fill="#cea8a5"/><rect y="25" width="1" height="1.08" fill="#d4b2b0"/><rect y="26" width="1" height="1.08" fill="#dcc0be"/><rect y="27" width="1" height="1.08" fill="#cfaaa7"/><rect y="28" width="1" height="1.08" fill="#d7b7b5"/><rect y="29" width="1" height="1.08" fill="#cca5a2"/><rect y="30" width="1" height="1.08" fill="#cda5a2"/><rect y="31" width="1" height="1.08" fill="#d1adaa"/><rect y="32" width="1" height="1.08" fill="#c89d9a"/><rect y="33" width="1" height="1.08" fill="#cca5a2"/><rect y="34" width="1" height="1.08" fill="#cea8a5"/><rect y="35" width="1" height="1.08" fill="#c69a96"/><rect y="36" width="1" height="1.08" fill="#c69a96"/><rect y="37" width="1" height="1.08" fill="#cca5a2"/><rect y="38" width="1" height="1.08" fill="#caa29e"/><rect y="39" width="1" height="1.08" fill="#c89e9b"/><rect y="40" width="1" height="1.08" fill="#c99f9c"/><rect y="41" width="1" height="1.08" fill="#c89d9a"/><rect y="42" width="1" height="1.08" fill="#d0aca9"/><rect y="43" width="1" height="1.08" fill="#cea8a4"/><rect y="44" width="1" height="1.08" fill="#cda6a3"/><rect y="45" width="1" height="1.08" fill="#d2aeab"/><rect y="46" width="1" height="1.08" fill="#c99f9c"/><rect y="47" width="1" height="1.08" fill="#d4b1ae"/><rect y="48" width="1" height="1.08" fill="#cda6a3"/><rect y="49" width="1" height="1.08" fill="#c89d9a"/><rect y="50" width="1" height="1.08" fill="#c99f9c"/><rect y="51" width="1" height="1.08" fill="#cea8a5"/><rect y="52" width="1" height="1.08" fill="#d4b3b0"/><rect y="53" width="1" height="1.08" fill="#c99f9c"/><rect y="54" width="1" height="1.08" fill="#d0aca9"/><rect y="55" width="1" height="1.08" fill="#d0aaa7"/><rect y="56" width="1" height="1.08" fill="#d1adab"/><rect y="57" width="1" height="1.08" fill="#caa09d"/><rect y="58" width="1" height="1.08" fill="#c59894"/><rect y="59" width="1" height="1.08" fill="#cea7a4"/><rect y="60" width="1" height="1.08" fill="#caa19e"/><rect y="61" width="1" height="1.08" fill="#cea8a5"/><rect y="62" width="1" height="1.08" fill="#cda7a4"/><rect y="63" width="1" height="1.08" fill="#c9a09c"/><rect y="64" width="1" height="1.08" fill="#c79c99"/><rect y="65" width="1" height="1.08" fill="#cfa9a6"/><rect y="66" width="1" height="1.08" fill="#caa09d"/><rect y="67" width="1" height="1.08" fill="#c89e9b"/><rect y="68" width="1" height="1.08" fill="#cfa9a6"/><rect y="69" width="1" height="1.08" fill="#d1adab"/><rect y="70" width="1" height="1.08" fill="#cba3a0"/><rect y="71" width="1" height="1.08" fill="#d4b3b0"/><rect y="72" width="1" height="1.08" fill="#cca4a1"/><rect y="73" width="1" height="1.08" fill="#c79c99"/><rect y="74" width="1" height="1.08" fill="#cca5a2"/><rect y="75" width="1" height="1.08" fill="#d7b7b5"/><rect y="76" width="1" height="1.08" fill="#d3afad"/><rect y="77" width="1" height="1.08" fill="#cda5a2"/><rect y="78" width="1" height="1.08" fill="#cfa9a6"/><rect y="79" width="1" height="1.08" fill="#c79c99"/><rect y="80" width="1" height="1.08" fill="#d2afad"/><rect y="81" width="1" height="1.08" fill="#c49793"/><rect y="82" width="1" height="1.08" fill="#cba3a0"/><rect y="83" width="1" height="1.08" fill="#d3b0ae"/><rect y="84" width="1" height="1.08" fill="#cca4a1"/><rect y="85" width="1" height="1.08" fill="#d0aca9"/><rect y="86" width="1" height="1.08" fill="#d0aaa7"/>
</g>
<line x1="31.0" y1="389.5" x2="31.0" y2="477.8" stroke="#222" stroke-width="1.6"/>
<line x1="30.2" y1="477.4" x2="234.9" y2="477.4" stroke="#555" stroke-width="1"/>
<line x1="44.1" y1="477.8" x2="44.1" y2="479.8" stroke="#888" stroke-width="0.6"/>
<line x1="66.3" y1="477.8" x2="66.3" y2="479.8" stroke="#888" stroke-width="0.6"/>
<line x1="88.5" y1="477.8" x2="88.5" y2="479.8" stroke="#888" stroke-width="0.6"/>
<line x1="110.7" y1="477.8" x2="110.7" y2="479.8" stroke="#888" stroke-width="0.6"/>
<line x1="132.9" y1="477.8" x2="132.9" y2="479.8" stroke="#888" stroke-width="0.6"/>
<line x1="155.2" y1="477.8" x2="155.2" y2="479.8" stroke="#888" stroke-width="0.6"/>
<line x1="177.4" y1="477.8" x2="177.4" y2="479.8" stroke="#888" stroke-width="0.6"/>
<line x1="199.6" y1="477.8" x2="199.6" y2="479.8" stroke="#888" stroke-width="0.6"/>
<line x1="221.8" y1="477.8" x2="221.8" y2="479.8" stroke="#888" stroke-width="0.6"/>
<g class="hm" transform="translate(30.10,498.00) scale(22.478,0.9979)">
<rect y="0" width="1" height="1.08" fill="#dbbebb"/><rect y="1" width="1" height="1.08" fill="#ddc1bf"/><rect y="2" width="1" height="1.08" fill="#ddc1bf"/><rect y="3" width="1" height="1.08" fill="#d5b3b0"/><rect y="4" width="1" height="1.08" fill="#f8f5fd"/><rect y="5" width="1" height="1.08" fill="#e5cfcd"/><rect y="6" width="1" height="1.08" fill="#e2cac8"/><rect y="7" width="1" height="1.08" fill="#f4f0fc"/><rect y="8" width="1" height="1.08" fill="#e2cac8"/><rect y="9" width="1" height="1.08" fill="#e7d3d1"/><rect y="10" width="1" height="1.08" fill="#e8e1f9"/><rect y="11" width="1" height="1.08" fill="#e0c6c4"/><rect y="12" width="1" height="1.08" fill="#dbbebc"/><rect y="13" width="1" height="1.08" fill="#f9f7fd"/><rect y="14" width="1" height="1.08" fill="#dec3c1"/><rect y="15" width="1" height="1.08" fill="#fcfafa"/><rect y="16" width="1" height="1.08" fill="#f0ebfb"/><rect y="17" width="1" height="1.08" fill="#f5ecec"/><rect y="18" width="1" height="1.08" fill="#d7b7b5"/><rect y="19" width="1" height="1.08" fill="#f5f2fc"/><rect y="20" width="1" height="1.08" fill="#e1c9c7"/><rect y="21" width="1" height="1.08" fill="#f1e5e4"/><rect y="22" width="1" height="1.08" fill="#f0e4e3"/><rect y="23" width="1" height="1.08" fill="#ddc1bf"/><rect y="24" width="1" height="1.08" fill="#fdfcfc"/><rect y="25" width="1" height="1.08" fill="#e5dcf8"/><rect y="26" width="1" height="1.08" fill="#d1adaa"/><rect y="27" width="1" height="1.08" fill="#eee9fa"/><rect y="28" width="1" height="1.08" fill="#d9bab8"/><rect y="29" width="1" height="1.08" fill="#efe1e0"/><rect y="30" width="1" height="1.08" fill="#ddc1bf"/><rect y="31" width="1" height="1.08" fill="#e0c7c5"/><rect y="32" width="1" height="1.08" fill="#d9bbb8"/><rect y="33" width="1" height="1.08" fill="#f1edfb"/><rect y="34" width="1" height="1.08" fill="#e7dff8"/><rect y="35" width="1" height="1.08" fill="#f9f7fd"/><rect y="36" width="1" height="1.08" fill="#d9bbb8"/><rect y="37" width="1" height="1.08" fill="#f6f3fc"/><rect y="38" width="1" height="1.08" fill="#f9f7fd"/><rect y="39" width="1" height="1.08" fill="#d6b6b3"/><rect y="40" width="1" height="1.08" fill="#dec3c1"/><rect y="41" width="1" height="1.08" fill="#e5ddf8"/><rect y="42" width="1" height="1.08" fill="#e7d3d2"/><rect y="43" width="1" height="1.08" fill="#dfc5c3"/><rect y="44" width="1" height="1.08" fill="#f7f4fd"/><rect y="45" width="1" height="1.08" fill="#ddc2bf"/><rect y="46" width="1" height="1.08" fill="#e1c8c6"/><rect y="47" width="1" height="1.08" fill="#dec3c0"/><rect y="48" width="1" height="1.08" fill="#f1ecfb"/><rect y="49" width="1" height="1.08" fill="#e0c7c5"/><rect y="50" width="1" height="1.08" fill="#e2cbc9"/><rect y="51" width="1" height="1.08" fill="#fcf9f9"/><rect y="52" width="1" height="1.08" fill="#dcc0be"/><rect y="53" width="1" height="1.08" fill="#ebe5f9"/><rect y="54" width="1" height="1.08" fill="#e7d2d1"/><rect y="55" width="1" height="1.08" fill="#eae4f9"/><rect y="56" width="1" height="1.08" fill="#f7f4fd"/><rect y="57" width="1" height="1.08" fill="#ebe5f9"/><rect y="58" width="1" height="1.08" fill="#dfc5c3"/><rect y="59" width="1" height="1.08" fill="#ddc2c0"/><rect y="60" width="1" height="1.08" fill="#eee9fa"/><rect y="61" width="1" height="1.08" fill="#e7e0f8"/><rect y="62" width="1" height="1.08" fill="#d5b4b1"/><rect y="63" width="1" height="1.08" fill="#dbbfbc"/><rect y="64" width="1" height="1.08" fill="#cda6a3"/><rect y="65" width="1" height="1.08" fill="#eae3f9"/><rect y="66" width="1" height="1.08" fill="#dfc5c2"/><rect y="67" width="1" height="1.08" fill="#d8b9b6"/><rect y="68" width="1" height="1.08" fill="#dfc6c4"/><rect y="69" width="1" height="1.08" fill="#e5dcf8"/><rect y="70" width="1" height="1.08" fill="#e4cecc"/><rect y="71" width="1" height="1.08" fill="#f2edfb"/><rect y="72" width="1" height="1.08" fill="#f4f0fc"/><rect y="73" width="1" height="1.08" fill="#dec4c2"/><rect y="74" width="1" height="1.08" fill="#f9f7fd"/><rect y="75" width="1" height="1.08" fill="#d7b7b5"/><rect y="76" width="1" height="1.08" fill="#dcbfbd"/><rect y="77" width="1" height="1.08" fill="#dec3c0"/><rect y="78" width="1" height="1.08" fill="#dfc6c4"/><rect y="79" width="1" height="1.08" fill="#dabcba"/><rect y="80" width="1" height="1.08" fill="#d8b8b6"/><rect y="81" width="1" height="1.08" fill="#ddc2c0"/><rect y="82" width="1" height="1.08" fill="#f5f1fc"/><rect y="83" width="1" height="1.08" fill="#e0c7c5"/><rect y="84" width="1" height="1.08" fill="#e7d4d2"/><rect y="85" width="1" height="1.08" fill="#e8e1f8"/><rect y="86" width="1" height="1.08" fill="#d9bab7"/><rect y="87" width="1" height="1.08" fill="#dbbebb"/><rect y="88" width="1" height="1.08" fill="#d3b0ae"/><rect y="89" width="1" height="1.08" fill="#f1edfb"/><rect y="90" width="1" height="1.08" fill="#d8b9b6"/><rect y="91" width="1" height="1.08" fill="#fcfbfe"/><rect y="92" width="1" height="1.08" fill="#f9f7fd"/><rect y="93" width="1" height="1.08" fill="#e2cac8"/><rect y="94" width="1" height="1.08" fill="#efeafb"/><rect y="95" width="1" height="1.08" fill="#ddc1bf"/><rect y="96" width="1" height="1.08" fill="#e4cfcd"/>
</g>
<g class="hm" transform="translate(52.28,498.00) scale(22.478,0.9979)">
<rect y="0" width="1" height="1.08" fill="#ddc2c0"/><rect y="1" width="1" height="1.08" fill="#dabdbb"/><rect y="2" width="1" height="1.08" fill="#f7f4fd"/><rect y="3" width="1" height="1.08" fill="#dec4c2"/><rect y="4" width="1" height="1.08" fill="#e0c7c5"/><rect y="5" width="1" height="1.08" fill="#9a514d"/><rect y="6" width="1" height="1.08" fill="#f9f7fd"/><rect y="7" width="1" height="1.08" fill="#dbbebb"/><rect y="8" width="1" height="1.08" fill="#e2cac8"/><rect y="9" width="1" height="1.08" fill="#e0c6c4"/><rect y="10" width="1" height="1.08" fill="#dabdbb"/><rect y="11" width="1" height="1.08" fill="#e2cbc9"/><rect y="12" width="1" height="1.08" fill="#e4cecc"/><rect y="13" width="1" height="1.08" fill="#dec3c1"/><rect y="14" width="1" height="1.08" fill="#d3b1ae"/><rect y="15" width="1" height="1.08" fill="#fbfafe"/><rect y="16" width="1" height="1.08" fill="#d2aeab"/><rect y="17" width="1" height="1.08" fill="#dcc1be"/><rect y="18" width="1" height="1.08" fill="#dec3c0"/><rect y="19" width="1" height="1.08" fill="#e5cfce"/><rect y="20" width="1" height="1.08" fill="#f4f1fc"/><rect y="21" width="1" height="1.08" fill="#d2aeab"/><rect y="22" width="1" height="1.08" fill="#d9bbb9"/><rect y="23" width="1" height="1.08" fill="#d7b6b4"/><rect y="24" width="1" height="1.08" fill="#d7b7b4"/><rect y="25" width="1" height="1.08" fill="#f9f7fd"/><rect y="26" width="1" height="1.08" fill="#ddc1bf"/><rect y="27" width="1" height="1.08" fill="#dbbebb"/><rect y="28" width="1" height="1.08" fill="#d7b7b5"/><rect y="29" width="1" height="1.08" fill="#fdfdff"/><rect y="30" width="1" height="1.08" fill="#d8b9b7"/><rect y="31" width="1" height="1.08" fill="#fbf9fe"/><rect y="32" width="1" height="1.08" fill="#f3effc"/><rect y="33" width="1" height="1.08" fill="#ddc2c0"/><rect y="34" width="1" height="1.08" fill="#e2cac8"/><rect y="35" width="1" height="1.08" fill="#dabdbb"/><rect y="36" width="1" height="1.08" fill="#ead8d6"/><rect y="37" width="1" height="1.08" fill="#ddc2bf"/><rect y="38" width="1" height="1.08" fill="#cba3a0"/><rect y="39" width="1" height="1.08" fill="#f6f4fd"/><rect y="40" width="1" height="1.08" fill="#efebfb"/><rect y="41" width="1" height="1.08" fill="#f9f7fd"/><rect y="42" width="1" height="1.08" fill="#d3b0ad"/><rect y="43" width="1" height="1.08" fill="#ddc1bf"/><rect y="44" width="1" height="1.08" fill="#fffeff"/><rect y="45" width="1" height="1.08" fill="#faf9fe"/><rect y="46" width="1" height="1.08" fill="#f6f3fc"/><rect y="47" width="1" height="1.08" fill="#efe1e0"/><rect y="48" width="1" height="1.08" fill="#faf8fe"/><rect y="49" width="1" height="1.08" fill="#f5f1fc"/><rect y="50" width="1" height="1.08" fill="#dfc5c3"/><rect y="51" width="1" height="1.08" fill="#d9bbb8"/><rect y="52" width="1" height="1.08" fill="#d9bab8"/><rect y="53" width="1" height="1.08" fill="#fefefe"/><rect y="54" width="1" height="1.08" fill="#faf9fe"/><rect y="55" width="1" height="1.08" fill="#ede7fa"/><rect y="56" width="1" height="1.08" fill="#d8b9b6"/><rect y="57" width="1" height="1.08" fill="#dec3c0"/><rect y="58" width="1" height="1.08" fill="#ddc2c0"/><rect y="59" width="1" height="1.08" fill="#e5d1cf"/><rect y="60" width="1" height="1.08" fill="#dfc6c4"/><rect y="61" width="1" height="1.08" fill="#e0c8c5"/><rect y="62" width="1" height="1.08" fill="#f9f7fd"/><rect y="63" width="1" height="1.08" fill="#ede7fa"/><rect y="64" width="1" height="1.08" fill="#dbbebc"/><rect y="65" width="1" height="1.08" fill="#dbbebb"/><rect y="66" width="1" height="1.08" fill="#e3ccca"/><rect y="67" width="1" height="1.08" fill="#e0c6c4"/><rect y="68" width="1" height="1.08" fill="#f2eefb"/><rect y="69" width="1" height="1.08" fill="#d5b4b2"/><rect y="70" width="1" height="1.08" fill="#e3dbf7"/><rect y="71" width="1" height="1.08" fill="#dec3c1"/><rect y="72" width="1" height="1.08" fill="#e7d3d1"/><rect y="73" width="1" height="1.08" fill="#f6f2fc"/><rect y="74" width="1" height="1.08" fill="#fefdfd"/><rect y="75" width="1" height="1.08" fill="#f4f0fc"/><rect y="76" width="1" height="1.08" fill="#dbbdbb"/><rect y="77" width="1" height="1.08" fill="#e1c9c7"/><rect y="78" width="1" height="1.08" fill="#cea8a5"/><rect y="79" width="1" height="1.08" fill="#fdfcfc"/><rect y="80" width="1" height="1.08" fill="#fcf9f9"/><rect y="81" width="1" height="1.08" fill="#eee8fa"/><rect y="82" width="1" height="1.08" fill="#e3ccca"/><rect y="83" width="1" height="1.08" fill="#fcfafa"/><rect y="84" width="1" height="1.08" fill="#ddc1bf"/><rect y="85" width="1" height="1.08" fill="#ddc2c0"/><rect y="86" width="1" height="1.08" fill="#fcfbfe"/><rect y="87" width="1" height="1.08" fill="#eee9fa"/><rect y="88" width="1" height="1.08" fill="#fefefe"/><rect y="89" width="1" height="1.08" fill="#dbbfbc"/><rect y="90" width="1" height="1.08" fill="#d8b9b7"/><rect y="91" width="1" height="1.08" fill="#f3f0fc"/><rect y="92" width="1" height="1.08" fill="#d8b9b6"/><rect y="93" width="1" height="1.08" fill="#e0c7c5"/><rect y="94" width="1" height="1.08" fill="#d5b4b1"/><rect y="95" width="1" height="1.08" fill="#fcf9f9"/><rect y="96" width="1" height="1.08" fill="#fdfcfc"/>
</g>
<g class="hm" transform="translate(74.46,498.00) scale(22.478,0.9979)">
<rect y="0" width="1" height="1.08" fill="#d5b4b1"/><rect y="1" width="1" height="1.08" fill="#dabdbb"/><rect y="2" width="1" height="1.08" fill="#f0ecfb"/><rect y="3" width="1" height="1.08" fill="#eddedc"/><rect y="4" width="1" height="1.08" fill="#e4cecc"/><rect y="5" width="1" height="1.08" fill="#ede7fa"/><rect y="6" width="1" height="1.08" fill="#f3effc"/><rect y="7" width="1" height="1.08" fill="#f3effc"/><rect y="8" width="1" height="1.08" fill="#f1ecfb"/><rect y="9" width="1" height="1.08" fill="#dfc5c3"/><rect y="10" width="1" height="1.08" fill="#f6f3fd"/><rect y="11" width="1" height="1.08" fill="#dcc0be"/><rect y="12" width="1" height="1.08" fill="#dcbfbd"/><rect y="13" width="1" height="1.08" fill="#be8c88"/><rect y="14" width="1" height="1.08" fill="#e1c9c7"/><rect y="15" width="1" height="1.08" fill="#e5cfcd"/><rect y="16" width="1" height="1.08" fill="#f5f2fc"/><rect y="17" width="1" height="1.08" fill="#dbbebc"/><rect y="18" width="1" height="1.08" fill="#e4dcf7"/><rect y="19" width="1" height="1.08" fill="#ede7fa"/><rect y="20" width="1" height="1.08" fill="#cea8a5"/><rect y="21" width="1" height="1.08" fill="#e3ccca"/><rect y="22" width="1" height="1.08" fill="#dfc5c3"/><rect y="23" width="1" height="1.08" fill="#dcc0bd"/><rect y="24" width="1" height="1.08" fill="#e7dff8"/><rect y="25" width="1" height="1.08" fill="#ddc2bf"/><rect y="26" width="1" height="1.08" fill="#d2aeab"/><rect y="27" width="1" height="1.08" fill="#f9f7fd"/><rect y="28" width="1" height="1.08" fill="#dabbb9"/><rect y="29" width="1" height="1.08" fill="#f6f3fc"/><rect y="30" width="1" height="1.08" fill="#fbf7f7"/><rect y="31" width="1" height="1.08" fill="#d7b8b5"/><rect y="32" width="1" height="1.08" fill="#dfc5c3"/><rect y="33" width="1" height="1.08" fill="#ede7fa"/><rect y="34" width="1" height="1.08" fill="#ddc2bf"/><rect y="35" width="1" height="1.08" fill="#d8b8b6"/><rect y="36" width="1" height="1.08" fill="#dcbfbd"/><rect y="37" width="1" height="1.08" fill="#d9bbb9"/><rect y="38" width="1" height="1.08" fill="#dfd5f6"/><rect y="39" width="1" height="1.08" fill="#d6b5b2"/><rect y="40" width="1" height="1.08" fill="#cea8a5"/><rect y="41" width="1" height="1.08" fill="#d5b3b1"/><rect y="42" width="1" height="1.08" fill="#e0c7c5"/><rect y="43" width="1" height="1.08" fill="#e3cdcb"/><rect y="44" width="1" height="1.08" fill="#dcc0bd"/><rect y="45" width="1" height="1.08" fill="#e8e1f9"/><rect y="46" width="1" height="1.08" fill="#d9bab8"/><rect y="47" width="1" height="1.08" fill="#ece6fa"/><rect y="48" width="1" height="1.08" fill="#d7b8b5"/><rect y="49" width="1" height="1.08" fill="#d5b3b0"/><rect y="50" width="1" height="1.08" fill="#dfd5f6"/><rect y="51" width="1" height="1.08" fill="#f3effc"/><rect y="52" width="1" height="1.08" fill="#e2cbc9"/><rect y="53" width="1" height="1.08" fill="#e4dcf7"/><rect y="54" width="1" height="1.08" fill="#e2cac8"/><rect y="55" width="1" height="1.08" fill="#dfc5c3"/><rect y="56" width="1" height="1.08" fill="#d7b7b4"/><rect y="57" width="1" height="1.08" fill="#e8d5d3"/><rect y="58" width="1" height="1.08" fill="#faf8fe"/><rect y="59" width="1" height="1.08" fill="#d0aba8"/><rect y="60" width="1" height="1.08" fill="#dabcb9"/><rect y="61" width="1" height="1.08" fill="#f5f2fc"/><rect y="62" width="1" height="1.08" fill="#dec3c1"/><rect y="63" width="1" height="1.08" fill="#e6dff8"/><rect y="64" width="1" height="1.08" fill="#dabdba"/><rect y="65" width="1" height="1.08" fill="#dbbebc"/><rect y="66" width="1" height="1.08" fill="#d9bab8"/><rect y="67" width="1" height="1.08" fill="#cca5a2"/><rect y="68" width="1" height="1.08" fill="#f7f4fd"/><rect y="69" width="1" height="1.08" fill="#dbbebc"/><rect y="70" width="1" height="1.08" fill="#d3b1ae"/><rect y="71" width="1" height="1.08" fill="#e7d3d1"/><rect y="72" width="1" height="1.08" fill="#e7dff8"/><rect y="73" width="1" height="1.08" fill="#e0c7c5"/><rect y="74" width="1" height="1.08" fill="#e2cbc9"/><rect y="75" width="1" height="1.08" fill="#f8f2f1"/><rect y="76" width="1" height="1.08" fill="#e0c7c5"/><rect y="77" width="1" height="1.08" fill="#d2afac"/><rect y="78" width="1" height="1.08" fill="#d4b1ae"/><rect y="79" width="1" height="1.08" fill="#f7f5fd"/><rect y="80" width="1" height="1.08" fill="#e0c7c5"/><rect y="81" width="1" height="1.08" fill="#f6f3fc"/><rect y="82" width="1" height="1.08" fill="#f8f5fd"/><rect y="83" width="1" height="1.08" fill="#e5d0ce"/><rect y="84" width="1" height="1.08" fill="#dbbfbc"/><rect y="85" width="1" height="1.08" fill="#d9bbb8"/><rect y="86" width="1" height="1.08" fill="#dcc0be"/><rect y="87" width="1" height="1.08" fill="#d3b1ae"/><rect y="88" width="1" height="1.08" fill="#fbfafe"/><rect y="89" width="1" height="1.08" fill="#e3cdcb"/><rect y="90" width="1" height="1.08" fill="#ddc1bf"/><rect y="91" width="1" height="1.08" fill="#e9e3f9"/><rect y="92" width="1" height="1.08" fill="#dabcba"/><rect y="93" width="1" height="1.08" fill="#e4cdcb"/><rect y="94" width="1" height="1.08" fill="#d8b8b6"/><rect y="95" width="1" height="1.08" fill="#dbbebc"/><rect y="96" width="1" height="1.08" fill="#f9f7fd"/>
</g>
<g class="hm" transform="translate(96.63,498.00) scale(22.478,0.9979)">
<rect y="0" width="1" height="1.08" fill="#e3cbc9"/><rect y="1" width="1" height="1.08" fill="#d9bbb9"/><rect y="2" width="1" height="1.08" fill="#e1c8c6"/><rect y="3" width="1" height="1.08" fill="#e9d7d6"/><rect y="4" width="1" height="1.08" fill="#dec3c1"/><rect y="5" width="1" height="1.08" fill="#f7f0ef"/><rect y="6" width="1" height="1.08" fill="#f6efee"/><rect y="7" width="1" height="1.08" fill="#cba3a0"/><rect y="8" width="1" height="1.08" fill="#d5b4b1"/><rect y="9" width="1" height="1.08" fill="#e7d2d1"/><rect y="10" width="1" height="1.08" fill="#e2cac8"/><rect y="11" width="1" height="1.08" fill="#ead9d7"/><rect y="12" width="1" height="1.08" fill="#caa19e"/><rect y="13" width="1" height="1.08" fill="#dfc4c2"/><rect y="14" width="1" height="1.08" fill="#cca5a2"/><rect y="15" width="1" height="1.08" fill="#f1e4e3"/><rect y="16" width="1" height="1.08" fill="#e3ccca"/><rect y="17" width="1" height="1.08" fill="#e3cdcb"/><rect y="18" width="1" height="1.08" fill="#d9bab8"/><rect y="19" width="1" height="1.08" fill="#dabdbb"/><rect y="20" width="1" height="1.08" fill="#e4cecc"/><rect y="21" width="1" height="1.08" fill="#dabcb9"/><rect y="22" width="1" height="1.08" fill="#dabdba"/><rect y="23" width="1" height="1.08" fill="#f1e5e4"/><rect y="24" width="1" height="1.08" fill="#ecdcdb"/><rect y="25" width="1" height="1.08" fill="#cea7a4"/><rect y="26" width="1" height="1.08" fill="#e2cac8"/><rect y="27" width="1" height="1.08" fill="#ddc1bf"/><rect y="28" width="1" height="1.08" fill="#d0aca9"/><rect y="29" width="1" height="1.08" fill="#eee0de"/><rect y="30" width="1" height="1.08" fill="#eee0df"/><rect y="31" width="1" height="1.08" fill="#e6d2d0"/><rect y="32" width="1" height="1.08" fill="#e6d1cf"/><rect y="33" width="1" height="1.08" fill="#c99f9b"/><rect y="34" width="1" height="1.08" fill="#dec4c2"/><rect y="35" width="1" height="1.08" fill="#f3e9e9"/><rect y="36" width="1" height="1.08" fill="#dcc0be"/><rect y="37" width="1" height="1.08" fill="#dec3c1"/><rect y="38" width="1" height="1.08" fill="#e3cccb"/><rect y="39" width="1" height="1.08" fill="#e6d2d0"/><rect y="40" width="1" height="1.08" fill="#d2aeab"/><rect y="41" width="1" height="1.08" fill="#dec3c1"/><rect y="42" width="1" height="1.08" fill="#e9d8d6"/><rect y="43" width="1" height="1.08" fill="#d8b9b6"/><rect y="44" width="1" height="1.08" fill="#e0c7c4"/><rect y="45" width="1" height="1.08" fill="#f0e3e2"/><rect y="46" width="1" height="1.08" fill="#ddc1bf"/><rect y="47" width="1" height="1.08" fill="#e1c9c7"/><rect y="48" width="1" height="1.08" fill="#e1c8c6"/><rect y="49" width="1" height="1.08" fill="#f0e3e1"/><rect y="50" width="1" height="1.08" fill="#ecdcdb"/><rect y="51" width="1" height="1.08" fill="#f2e7e6"/><rect y="52" width="1" height="1.08" fill="#eddedc"/><rect y="53" width="1" height="1.08" fill="#b7807c"/><rect y="54" width="1" height="1.08" fill="#e3cdcb"/><rect y="55" width="1" height="1.08" fill="#e6d2d0"/><rect y="56" width="1" height="1.08" fill="#f0e3e2"/><rect y="57" width="1" height="1.08" fill="#e9d7d6"/><rect y="58" width="1" height="1.08" fill="#f4ebea"/><rect y="59" width="1" height="1.08" fill="#e9d6d4"/><rect y="60" width="1" height="1.08" fill="#e4cfcd"/><rect y="61" width="1" height="1.08" fill="#dfc6c4"/><rect y="62" width="1" height="1.08" fill="#dfc5c3"/><rect y="63" width="1" height="1.08" fill="#e1c8c6"/><rect y="64" width="1" height="1.08" fill="#f1e5e4"/><rect y="65" width="1" height="1.08" fill="#d8b8b5"/><rect y="66" width="1" height="1.08" fill="#ecdcdb"/><rect y="67" width="1" height="1.08" fill="#f1e5e4"/><rect y="68" width="1" height="1.08" fill="#d9bbb8"/><rect y="69" width="1" height="1.08" fill="#e9d7d5"/><rect y="70" width="1" height="1.08" fill="#e2cbc9"/><rect y="71" width="1" height="1.08" fill="#caa19d"/><rect y="72" width="1" height="1.08" fill="#ddc2c0"/><rect y="73" width="1" height="1.08" fill="#e8d5d3"/><rect y="74" width="1" height="1.08" fill="#ddc2c0"/><rect y="75" width="1" height="1.08" fill="#d6b6b3"/><rect y="76" width="1" height="1.08" fill="#fdfcfe"/><rect y="77" width="1" height="1.08" fill="#e0c6c4"/><rect y="78" width="1" height="1.08" fill="#f9f4f4"/><rect y="79" width="1" height="1.08" fill="#f1e6e5"/><rect y="80" width="1" height="1.08" fill="#e7d3d1"/><rect y="81" width="1" height="1.08" fill="#d9bbb9"/><rect y="82" width="1" height="1.08" fill="#dabdbb"/><rect y="83" width="1" height="1.08" fill="#dbbdbb"/><rect y="84" width="1" height="1.08" fill="#f9f3f2"/><rect y="85" width="1" height="1.08" fill="#f0e4e3"/><rect y="86" width="1" height="1.08" fill="#cda7a4"/><rect y="87" width="1" height="1.08" fill="#cba39f"/><rect y="88" width="1" height="1.08" fill="#d4b2af"/><rect y="89" width="1" height="1.08" fill="#ead8d7"/><rect y="90" width="1" height="1.08" fill="#ebdad9"/><rect y="91" width="1" height="1.08" fill="#e1c8c6"/><rect y="92" width="1" height="1.08" fill="#dcbfbd"/><rect y="93" width="1" height="1.08" fill="#c59895"/><rect y="94" width="1" height="1.08" fill="#f2e7e6"/><rect y="95" width="1" height="1.08" fill="#e1c8c6"/><rect y="96" width="1" height="1.08" fill="#e5cfce"/>
</g>
<g class="hm" transform="translate(118.81,498.00) scale(22.478,0.9979)">
<rect y="0" width="1" height="1.08" fill="#e7d4d2"/><rect y="1" width="1" height="1.08" fill="#e5d0ce"/><rect y="2" width="1" height="1.08" fill="#efe2e1"/><rect y="3" width="1" height="1.08" fill="#e6d1cf"/><rect y="4" width="1" height="1.08" fill="#e5cfcd"/><rect y="5" width="1" height="1.08" fill="#e2cac8"/><rect y="6" width="1" height="1.08" fill="#f1e6e5"/><rect y="7" width="1" height="1.08" fill="#cfa9a6"/><rect y="8" width="1" height="1.08" fill="#dbbebc"/><rect y="9" width="1" height="1.08" fill="#caa29e"/><rect y="10" width="1" height="1.08" fill="#e9d6d5"/><rect y="11" width="1" height="1.08" fill="#f8f3f2"/><rect y="12" width="1" height="1.08" fill="#cda7a4"/><rect y="13" width="1" height="1.08" fill="#dcc1be"/><rect y="14" width="1" height="1.08" fill="#c69a97"/><rect y="15" width="1" height="1.08" fill="#ddc1bf"/><rect y="16" width="1" height="1.08" fill="#ead8d7"/><rect y="17" width="1" height="1.08" fill="#e8d6d4"/><rect y="18" width="1" height="1.08" fill="#d2afac"/><rect y="19" width="1" height="1.08" fill="#e1c9c7"/><rect y="20" width="1" height="1.08" fill="#e4cecc"/><rect y="21" width="1" height="1.08" fill="#f3eae9"/><rect y="22" width="1" height="1.08" fill="#efe2e0"/><rect y="23" width="1" height="1.08" fill="#e3cdcb"/><rect y="24" width="1" height="1.08" fill="#dabcb9"/><rect y="25" width="1" height="1.08" fill="#e8d5d4"/><rect y="26" width="1" height="1.08" fill="#e2cbc9"/><rect y="27" width="1" height="1.08" fill="#e9d7d5"/><rect y="28" width="1" height="1.08" fill="#d9bbb8"/><rect y="29" width="1" height="1.08" fill="#ecdbda"/><rect y="30" width="1" height="1.08" fill="#eee0df"/><rect y="31" width="1" height="1.08" fill="#f3e9e8"/><rect y="32" width="1" height="1.08" fill="#f2e7e6"/><rect y="33" width="1" height="1.08" fill="#c39692"/><rect y="34" width="1" height="1.08" fill="#e4cdcb"/><rect y="35" width="1" height="1.08" fill="#dbbdbb"/><rect y="36" width="1" height="1.08" fill="#dfc5c3"/><rect y="37" width="1" height="1.08" fill="#ddc1be"/><rect y="38" width="1" height="1.08" fill="#e0c6c4"/><rect y="39" width="1" height="1.08" fill="#e3cdcb"/><rect y="40" width="1" height="1.08" fill="#dec3c1"/><rect y="41" width="1" height="1.08" fill="#cfaaa7"/><rect y="42" width="1" height="1.08" fill="#d5b4b2"/><rect y="43" width="1" height="1.08" fill="#cca4a1"/><rect y="44" width="1" height="1.08" fill="#d7b6b4"/><rect y="45" width="1" height="1.08" fill="#d8b9b6"/><rect y="46" width="1" height="1.08" fill="#e3ccca"/><rect y="47" width="1" height="1.08" fill="#e2cbc9"/><rect y="48" width="1" height="1.08" fill="#e0c7c5"/><rect y="49" width="1" height="1.08" fill="#dec3c1"/><rect y="50" width="1" height="1.08" fill="#eddfdd"/><rect y="51" width="1" height="1.08" fill="#d9bbb9"/><rect y="52" width="1" height="1.08" fill="#e7d3d2"/><rect y="53" width="1" height="1.08" fill="#caa09d"/><rect y="54" width="1" height="1.08" fill="#dacff4"/><rect y="55" width="1" height="1.08" fill="#e4cecc"/><rect y="56" width="1" height="1.08" fill="#d1adaa"/><rect y="57" width="1" height="1.08" fill="#e8d5d4"/><rect y="58" width="1" height="1.08" fill="#e7d2d1"/><rect y="59" width="1" height="1.08" fill="#eedfde"/><rect y="60" width="1" height="1.08" fill="#cba3a0"/><rect y="61" width="1" height="1.08" fill="#d2aeac"/><rect y="62" width="1" height="1.08" fill="#e3cbc9"/><rect y="63" width="1" height="1.08" fill="#dabcb9"/><rect y="64" width="1" height="1.08" fill="#e4cecc"/><rect y="65" width="1" height="1.08" fill="#d8b9b7"/><rect y="66" width="1" height="1.08" fill="#d8b9b6"/><rect y="67" width="1" height="1.08" fill="#cba29f"/><rect y="68" width="1" height="1.08" fill="#e3cdcb"/><rect y="69" width="1" height="1.08" fill="#d4b1af"/><rect y="70" width="1" height="1.08" fill="#dcc0bd"/><rect y="71" width="1" height="1.08" fill="#d6b5b2"/><rect y="72" width="1" height="1.08" fill="#dcc0be"/><rect y="73" width="1" height="1.08" fill="#ead8d7"/><rect y="74" width="1" height="1.08" fill="#d8b9b7"/><rect y="75" width="1" height="1.08" fill="#d0aba8"/><rect y="76" width="1" height="1.08" fill="#f9f4f3"/><rect y="77" width="1" height="1.08" fill="#d2aeab"/><rect y="78" width="1" height="1.08" fill="#efe2e1"/><rect y="79" width="1" height="1.08" fill="#d2afac"/><rect y="80" width="1" height="1.08" fill="#dec4c2"/><rect y="81" width="1" height="1.08" fill="#c59895"/><rect y="82" width="1" height="1.08" fill="#d6b5b2"/><rect y="83" width="1" height="1.08" fill="#d6b5b3"/><rect y="84" width="1" height="1.08" fill="#ddc2bf"/><rect y="85" width="1" height="1.08" fill="#f3e9e8"/><rect y="86" width="1" height="1.08" fill="#d5b4b1"/><rect y="87" width="1" height="1.08" fill="#c89d9a"/><rect y="88" width="1" height="1.08" fill="#c99f9c"/><rect y="89" width="1" height="1.08" fill="#f9f5f4"/><rect y="90" width="1" height="1.08" fill="#dabdba"/><rect y="91" width="1" height="1.08" fill="#c79b98"/><rect y="92" width="1" height="1.08" fill="#ead8d7"/><rect y="93" width="1" height="1.08" fill="#cba3a0"/><rect y="94" width="1" height="1.08" fill="#d2aeab"/><rect y="95" width="1" height="1.08" fill="#cba3a0"/><rect y="96" width="1" height="1.08" fill="#ebdbd9"/>
</g>
<g class="hm" transform="translate(140.99,498.00) scale(22.478,0.9979)">
<rect y="0" width="1" height="1.08" fill="#e8d5d3"/><rect y="1" width="1" height="1.08" fill="#e2cac8"/><rect y="2" width="1" height="1.08" fill="#e0c6c4"/><rect y="3" width="1" height="1.08" fill="#ead9d7"/><rect y="4" width="1" height="1.08" fill="#dbbebc"/><rect y="5" width="1" height="1.08" fill="#dcc0be"/><rect y="6" width="1" height="1.08" fill="#e5cfcd"/><rect y="7" width="1" height="1.08" fill="#e0c7c5"/><rect y="8" width="1" height="1.08" fill="#d3b0ad"/><rect y="9" width="1" height="1.08" fill="#cca5a1"/><rect y="10" width="1" height="1.08" fill="#dcc0bd"/><rect y="11" width="1" height="1.08" fill="#dfc5c3"/><rect y="12" width="1" height="1.08" fill="#d3b0ad"/><rect y="13" width="1" height="1.08" fill="#e3ccca"/><rect y="14" width="1" height="1.08" fill="#d6b5b3"/><rect y="15" width="1" height="1.08" fill="#e4cdcb"/><rect y="16" width="1" height="1.08" fill="#e4cecc"/><rect y="17" width="1" height="1.08" fill="#e7d3d1"/><rect y="18" width="1" height="1.08" fill="#c29390"/><rect y="19" width="1" height="1.08" fill="#dabcba"/><rect y="20" width="1" height="1.08" fill="#e4cecc"/><rect y="21" width="1" height="1.08" fill="#e9d7d6"/><rect y="22" width="1" height="1.08" fill="#e4cecc"/><rect y="23" width="1" height="1.08" fill="#ffffff"/><rect y="24" width="1" height="1.08" fill="#ebdbda"/><rect y="25" width="1" height="1.08" fill="#e9d6d4"/><rect y="26" width="1" height="1.08" fill="#dec3c0"/><rect y="27" width="1" height="1.08" fill="#ead9d7"/><rect y="28" width="1" height="1.08" fill="#f9f3f3"/><rect y="29" width="1" height="1.08" fill="#eddddc"/><rect y="30" width="1" height="1.08" fill="#ead8d7"/><rect y="31" width="1" height="1.08" fill="#e0c6c4"/><rect y="32" width="1" height="1.08" fill="#faf5f5"/><rect y="33" width="1" height="1.08" fill="#cba39f"/><rect y="34" width="1" height="1.08" fill="#fbf7f7"/><rect y="35" width="1" height="1.08" fill="#c39591"/><rect y="36" width="1" height="1.08" fill="#e0c6c4"/><rect y="37" width="1" height="1.08" fill="#ecdcdb"/><rect y="38" width="1" height="1.08" fill="#dfc5c3"/><rect y="39" width="1" height="1.08" fill="#e4cecc"/><rect y="40" width="1" height="1.08" fill="#e7d3d2"/><rect y="41" width="1" height="1.08" fill="#c69b97"/><rect y="42" width="1" height="1.08" fill="#e2cac8"/><rect y="43" width="1" height="1.08" fill="#cfaaa7"/><rect y="44" width="1" height="1.08" fill="#caa19d"/><rect y="45" width="1" height="1.08" fill="#e4cecc"/><rect y="46" width="1" height="1.08" fill="#d6b5b3"/><rect y="47" width="1" height="1.08" fill="#d2afac"/><rect y="48" width="1" height="1.08" fill="#d1aeab"/><rect y="49" width="1" height="1.08" fill="#f3eae9"/><rect y="50" width="1" height="1.08" fill="#dabcba"/><rect y="51" width="1" height="1.08" fill="#e3ccca"/><rect y="52" width="1" height="1.08" fill="#f3e9e8"/><rect y="53" width="1" height="1.08" fill="#b7807c"/><rect y="54" width="1" height="1.08" fill="#e4cecc"/><rect y="55" width="1" height="1.08" fill="#efe1e0"/><rect y="56" width="1" height="1.08" fill="#dfc5c2"/><rect y="57" width="1" height="1.08" fill="#dfc6c4"/><rect y="58" width="1" height="1.08" fill="#ddc2c0"/><rect y="59" width="1" height="1.08" fill="#ead8d6"/><rect y="60" width="1" height="1.08" fill="#d6b5b2"/><rect y="61" width="1" height="1.08" fill="#d1acaa"/><rect y="62" width="1" height="1.08" fill="#e9d7d6"/><rect y="63" width="1" height="1.08" fill="#dfc5c3"/><rect y="64" width="1" height="1.08" fill="#ead9d8"/><rect y="65" width="1" height="1.08" fill="#dbbfbc"/><rect y="66" width="1" height="1.08" fill="#d0aba8"/><rect y="67" width="1" height="1.08" fill="#dfc5c2"/><rect y="68" width="1" height="1.08" fill="#e0c6c4"/><rect y="69" width="1" height="1.08" fill="#e4cecd"/><rect y="70" width="1" height="1.08" fill="#dabdba"/><rect y="71" width="1" height="1.08" fill="#d8b9b6"/><rect y="72" width="1" height="1.08" fill="#e0c6c4"/><rect y="73" width="1" height="1.08" fill="#e6d1d0"/><rect y="74" width="1" height="1.08" fill="#eee0df"/><rect y="75" width="1" height="1.08" fill="#d6b6b3"/><rect y="76" width="1" height="1.08" fill="#ebdad9"/><rect y="77" width="1" height="1.08" fill="#ddc1bf"/><rect y="78" width="1" height="1.08" fill="#f9f4f3"/><rect y="79" width="1" height="1.08" fill="#ecdcdb"/><rect y="80" width="1" height="1.08" fill="#ecdcdb"/><rect y="81" width="1" height="1.08" fill="#d2afac"/><rect y="82" width="1" height="1.08" fill="#dfc4c2"/><rect y="83" width="1" height="1.08" fill="#e3ccca"/><rect y="84" width="1" height="1.08" fill="#d0aba8"/><rect y="85" width="1" height="1.08" fill="#e2cbc9"/><rect y="86" width="1" height="1.08" fill="#e7d3d1"/><rect y="87" width="1" height="1.08" fill="#d9bbb8"/><rect y="88" width="1" height="1.08" fill="#d1aca9"/><rect y="89" width="1" height="1.08" fill="#eddedd"/><rect y="90" width="1" height="1.08" fill="#cfa9a6"/><rect y="91" width="1" height="1.08" fill="#c69996"/><rect y="92" width="1" height="1.08" fill="#e7d3d2"/><rect y="93" width="1" height="1.08" fill="#d0aba8"/><rect y="94" width="1" height="1.08" fill="#e9d7d6"/><rect y="95" width="1" height="1.08" fill="#e6d1cf"/><rect y="96" width="1" height="1.08" fill="#f0e3e2"/>
</g>
<g class="hm" transform="translate(163.17,498.00) scale(22.478,0.9979)">
<rect y="0" width="1" height="1.08" fill="#c3b2ee"/><rect y="1" width="1" height="1.08" fill="#b8a5ea"/><rect y="2" width="1" height="1.08" fill="#c0afed"/><rect y="3" width="1" height="1.08" fill="#ae99e8"/><rect y="4" width="1" height="1.08" fill="#bba9eb"/><rect y="5" width="1" height="1.08" fill="#bfaeed"/><rect y="6" width="1" height="1.08" fill="#b7a4ea"/><rect y="7" width="1" height="1.08" fill="#c4b4ee"/><rect y="8" width="1" height="1.08" fill="#bcaaec"/><rect y="9" width="1" height="1.08" fill="#cdbff1"/><rect y="10" width="1" height="1.08" fill="#c4b4ee"/><rect y="11" width="1" height="1.08" fill="#b4a1ea"/><rect y="12" width="1" height="1.08" fill="#baa8eb"/><rect y="13" width="1" height="1.08" fill="#b09ce8"/><rect y="14" width="1" height="1.08" fill="#b7a4ea"/><rect y="15" width="1" height="1.08" fill="#bfaeed"/><rect y="16" width="1" height="1.08" fill="#baa8eb"/><rect y="17" width="1" height="1.08" fill="#c5b4ee"/><rect y="18" width="1" height="1.08" fill="#c3b2ee"/><rect y="19" width="1" height="1.08" fill="#bcaaec"/><rect y="20" width="1" height="1.08" fill="#b9a7eb"/><rect y="21" width="1" height="1.08" fill="#beacec"/><rect y="22" width="1" height="1.08" fill="#c3b3ee"/><rect y="23" width="1" height="1.08" fill="#b4a1e9"/><rect y="24" width="1" height="1.08" fill="#c1afed"/><rect y="25" width="1" height="1.08" fill="#c3b2ee"/><rect y="26" width="1" height="1.08" fill="#ae9ae8"/><rect y="27" width="1" height="1.08" fill="#c1b0ed"/><rect y="28" width="1" height="1.08" fill="#bba9eb"/><rect y="29" width="1" height="1.08" fill="#baa7eb"/><rect y="30" width="1" height="1.08" fill="#b3a0e9"/><rect y="31" width="1" height="1.08" fill="#cabbf0"/><rect y="32" width="1" height="1.08" fill="#b7a4ea"/><rect y="33" width="1" height="1.08" fill="#cdbef1"/><rect y="34" width="1" height="1.08" fill="#b8a5eb"/><rect y="35" width="1" height="1.08" fill="#b4a0e9"/><rect y="36" width="1" height="1.08" fill="#bba8eb"/><rect y="37" width="1" height="1.08" fill="#b19de8"/><rect y="38" width="1" height="1.08" fill="#b3a0e9"/><rect y="39" width="1" height="1.08" fill="#b09be8"/><rect y="40" width="1" height="1.08" fill="#c1b0ed"/><rect y="41" width="1" height="1.08" fill="#c2b2ee"/><rect y="42" width="1" height="1.08" fill="#b5a1ea"/><rect y="43" width="1" height="1.08" fill="#baa8eb"/><rect y="44" width="1" height="1.08" fill="#bcaaec"/><rect y="45" width="1" height="1.08" fill="#b6a3ea"/><rect y="46" width="1" height="1.08" fill="#b6a3ea"/><rect y="47" width="1" height="1.08" fill="#c2b1ed"/><rect y="48" width="1" height="1.08" fill="#c8b8ef"/><rect y="49" width="1" height="1.08" fill="#b9a7eb"/><rect y="50" width="1" height="1.08" fill="#af9be8"/><rect y="51" width="1" height="1.08" fill="#c9b9ef"/><rect y="52" width="1" height="1.08" fill="#b29fe9"/><rect y="53" width="1" height="1.08" fill="#beadec"/><rect y="54" width="1" height="1.08" fill="#b7a4ea"/><rect y="55" width="1" height="1.08" fill="#b09ce8"/><rect y="56" width="1" height="1.08" fill="#b29fe9"/><rect y="57" width="1" height="1.08" fill="#a893e6"/><rect y="58" width="1" height="1.08" fill="#bba8eb"/><rect y="59" width="1" height="1.08" fill="#b6a3ea"/><rect y="60" width="1" height="1.08" fill="#b5a1ea"/><rect y="61" width="1" height="1.08" fill="#b7a4ea"/><rect y="62" width="1" height="1.08" fill="#bfaeed"/><rect y="63" width="1" height="1.08" fill="#bdabec"/><rect y="64" width="1" height="1.08" fill="#b19ce8"/><rect y="65" width="1" height="1.08" fill="#bba9ec"/><rect y="66" width="1" height="1.08" fill="#b5a1ea"/><rect y="67" width="1" height="1.08" fill="#bdacec"/><rect y="68" width="1" height="1.08" fill="#b9a6eb"/><rect y="69" width="1" height="1.08" fill="#bdabec"/><rect y="70" width="1" height="1.08" fill="#c0aeed"/><rect y="71" width="1" height="1.08" fill="#b7a4ea"/><rect y="72" width="1" height="1.08" fill="#b8a5eb"/><rect y="73" width="1" height="1.08" fill="#baa8eb"/><rect y="74" width="1" height="1.08" fill="#b09ce8"/><rect y="75" width="1" height="1.08" fill="#b29ee9"/><rect y="76" width="1" height="1.08" fill="#bba9ec"/><rect y="77" width="1" height="1.08" fill="#baa7eb"/><rect y="78" width="1" height="1.08" fill="#bdabec"/><rect y="79" width="1" height="1.08" fill="#a993e6"/><rect y="80" width="1" height="1.08" fill="#c3b2ee"/><rect y="81" width="1" height="1.08" fill="#bdabec"/><rect y="82" width="1" height="1.08" fill="#b6a2ea"/><rect y="83" width="1" height="1.08" fill="#b29ee9"/><rect y="84" width="1" height="1.08" fill="#bfaeed"/><rect y="85" width="1" height="1.08" fill="#b9a7eb"/><rect y="86" width="1" height="1.08" fill="#bba9eb"/><rect y="87" width="1" height="1.08" fill="#bba8eb"/><rect y="88" width="1" height="1.08" fill="#bdabec"/><rect y="89" width="1" height="1.08" fill="#baa8eb"/><rect y="90" width="1" height="1.08" fill="#ccbdf0"/><rect y="91" width="1" height="1.08" fill="#ae99e8"/><rect y="92" width="1" height="1.08" fill="#ad98e7"/><rect y="93" width="1" height="1.08" fill="#c1b0ed"/><rect y="94" width="1" height="1.08" fill="#b4a1e9"/><rect y="95" width="1" height="1.08" fill="#bfaded"/><rect y="96" width="1" height="1.08" fill="#b8a5eb"/>
</g>
<g class="hm" transform="translate(185.34,498.00) scale(22.478,0.9979)">
<rect y="0" width="1" height="1.08" fill="#bdabec"/><rect y="1" width="1" height="1.08" fill="#c4b3ee"/><rect y="2" width="1" height="1.08" fill="#c7b7ef"/><rect y="3" width="1" height="1.08" fill="#bba9eb"/><rect y="4" width="1" height="1.08" fill="#b8a5eb"/><rect y="5" width="1" height="1.08" fill="#c5b5ee"/><rect y="6" width="1" height="1.08" fill="#b8a5eb"/><rect y="7" width="1" height="1.08" fill="#c6b6ef"/><rect y="8" width="1" height="1.08" fill="#c0aeed"/><rect y="9" width="1" height="1.08" fill="#bfaeed"/><rect y="10" width="1" height="1.08" fill="#cbbcf0"/><rect y="11" width="1" height="1.08" fill="#bdabec"/><rect y="12" width="1" height="1.08" fill="#c1b1ed"/><rect y="13" width="1" height="1.08" fill="#bdabec"/><rect y="14" width="1" height="1.08" fill="#c2b1ed"/><rect y="15" width="1" height="1.08" fill="#bfaeed"/><rect y="16" width="1" height="1.08" fill="#bba9ec"/><rect y="17" width="1" height="1.08" fill="#bcabec"/><rect y="18" width="1" height="1.08" fill="#c6b6ef"/><rect y="19" width="1" height="1.08" fill="#bdacec"/><rect y="20" width="1" height="1.08" fill="#baa8eb"/><rect y="21" width="1" height="1.08" fill="#b9a6eb"/><rect y="22" width="1" height="1.08" fill="#c2b1ee"/><rect y="23" width="1" height="1.08" fill="#baa8eb"/><rect y="24" width="1" height="1.08" fill="#c6b6ef"/><rect y="25" width="1" height="1.08" fill="#bba9eb"/><rect y="26" width="1" height="1.08" fill="#bba9ec"/><rect y="27" width="1" height="1.08" fill="#b6a3ea"/><rect y="28" width="1" height="1.08" fill="#b8a6eb"/><rect y="29" width="1" height="1.08" fill="#a18ae4"/><rect y="30" width="1" height="1.08" fill="#ad99e7"/><rect y="31" width="1" height="1.08" fill="#b29fe9"/><rect y="32" width="1" height="1.08" fill="#bcaaec"/><rect y="33" width="1" height="1.08" fill="#c7b8ef"/><rect y="34" width="1" height="1.08" fill="#c0afed"/><rect y="35" width="1" height="1.08" fill="#b6a3ea"/><rect y="36" width="1" height="1.08" fill="#c4b3ee"/><rect y="37" width="1" height="1.08" fill="#b9a6eb"/><rect y="38" width="1" height="1.08" fill="#b6a3ea"/><rect y="39" width="1" height="1.08" fill="#c3b3ee"/><rect y="40" width="1" height="1.08" fill="#beadec"/><rect y="41" width="1" height="1.08" fill="#beadec"/><rect y="42" width="1" height="1.08" fill="#bba9ec"/><rect y="43" width="1" height="1.08" fill="#bdabec"/><rect y="44" width="1" height="1.08" fill="#c4b4ee"/><rect y="45" width="1" height="1.08" fill="#bcaaec"/><rect y="46" width="1" height="1.08" fill="#b19de9"/><rect y="47" width="1" height="1.08" fill="#cdbff1"/><rect y="48" width="1" height="1.08" fill="#c6b6ef"/><rect y="49" width="1" height="1.08" fill="#b29ee9"/><rect y="50" width="1" height="1.08" fill="#b39fe9"/><rect y="51" width="1" height="1.08" fill="#c0afed"/><rect y="52" width="1" height="1.08" fill="#b4a1ea"/><rect y="53" width="1" height="1.08" fill="#bfaded"/><rect y="54" width="1" height="1.08" fill="#bfaded"/><rect y="55" width="1" height="1.08" fill="#beadec"/><rect y="56" width="1" height="1.08" fill="#ab96e7"/><rect y="57" width="1" height="1.08" fill="#bcaaec"/><rect y="58" width="1" height="1.08" fill="#a58fe5"/><rect y="59" width="1" height="1.08" fill="#c5b5ee"/><rect y="60" width="1" height="1.08" fill="#c8b9ef"/><rect y="61" width="1" height="1.08" fill="#baa8eb"/><rect y="62" width="1" height="1.08" fill="#c4b4ee"/><rect y="63" width="1" height="1.08" fill="#c7b7ef"/><rect y="64" width="1" height="1.08" fill="#b8a5eb"/><rect y="65" width="1" height="1.08" fill="#c7b8ef"/><rect y="66" width="1" height="1.08" fill="#c7b7ef"/><rect y="67" width="1" height="1.08" fill="#c6b6ef"/><rect y="68" width="1" height="1.08" fill="#c8b9ef"/><rect y="69" width="1" height="1.08" fill="#c6b6ef"/><rect y="70" width="1" height="1.08" fill="#baa8eb"/><rect y="71" width="1" height="1.08" fill="#c3b2ee"/><rect y="72" width="1" height="1.08" fill="#baa7eb"/><rect y="73" width="1" height="1.08" fill="#bcaaec"/><rect y="74" width="1" height="1.08" fill="#bdabec"/><rect y="75" width="1" height="1.08" fill="#c1b1ed"/><rect y="76" width="1" height="1.08" fill="#c3b2ee"/><rect y="77" width="1" height="1.08" fill="#bcaaec"/><rect y="78" width="1" height="1.08" fill="#c1b0ed"/><rect y="79" width="1" height="1.08" fill="#b9a6eb"/><rect y="80" width="1" height="1.08" fill="#bdabec"/><rect y="81" width="1" height="1.08" fill="#baa8eb"/><rect y="82" width="1" height="1.08" fill="#b8a5ea"/><rect y="83" width="1" height="1.08" fill="#b9a7eb"/><rect y="84" width="1" height="1.08" fill="#c4b4ee"/><rect y="85" width="1" height="1.08" fill="#c4b4ee"/><rect y="86" width="1" height="1.08" fill="#c4b4ee"/><rect y="87" width="1" height="1.08" fill="#c4b4ee"/><rect y="88" width="1" height="1.08" fill="#c2b1ed"/><rect y="89" width="1" height="1.08" fill="#c5b4ee"/><rect y="90" width="1" height="1.08" fill="#cec0f1"/><rect y="91" width="1" height="1.08" fill="#baa8eb"/><rect y="92" width="1" height="1.08" fill="#b8a6eb"/><rect y="93" width="1" height="1.08" fill="#c4b3ee"/><rect y="94" width="1" height="1.08" fill="#beacec"/><rect y="95" width="1" height="1.08" fill="#bcaaec"/><rect y="96" width="1" height="1.08" fill="#beadec"/>
</g>
<g class="hm" transform="translate(207.52,498.00) scale(22.478,0.9979)">
<rect y="0" width="1" height="1.08" fill="#c2b1ed"/><rect y="1" width="1" height="1.08" fill="#beadec"/><rect y="2" width="1" height="1.08" fill="#c4b3ee"/><rect y="3" width="1" height="1.08" fill="#beacec"/><rect y="4" width="1" height="1.08" fill="#c7b7ef"/><rect y="5" width="1" height="1.08" fill="#bfaded"/><rect y="6" width="1" height="1.08" fill="#baa7eb"/><rect y="7" width="1" height="1.08" fill="#c7b8ef"/><rect y="8" width="1" height="1.08" fill="#bba9eb"/><rect y="9" width="1" height="1.08" fill="#bcaaec"/><rect y="10" width="1" height="1.08" fill="#c7b7ef"/><rect y="11" width="1" height="1.08" fill="#bdabec"/><rect y="12" width="1" height="1.08" fill="#c3b2ee"/><rect y="13" width="1" height="1.08" fill="#bba9ec"/><rect y="14" width="1" height="1.08" fill="#c7b7ef"/><rect y="15" width="1" height="1.08" fill="#c3b3ee"/><rect y="16" width="1" height="1.08" fill="#baa7eb"/><rect y="17" width="1" height="1.08" fill="#c0aeed"/><rect y="18" width="1" height="1.08" fill="#ccbef0"/><rect y="19" width="1" height="1.08" fill="#c8b9ef"/><rect y="20" width="1" height="1.08" fill="#c9baf0"/><rect y="21" width="1" height="1.08" fill="#c3b2ee"/><rect y="22" width="1" height="1.08" fill="#b8a5eb"/><rect y="23" width="1" height="1.08" fill="#b9a6eb"/><rect y="24" width="1" height="1.08" fill="#c2b1ee"/><rect y="25" width="1" height="1.08" fill="#c7b8ef"/><rect y="26" width="1" height="1.08" fill="#b6a3ea"/><rect y="27" width="1" height="1.08" fill="#cabcf0"/><rect y="28" width="1" height="1.08" fill="#c2b1ee"/><rect y="29" width="1" height="1.08" fill="#bfaeed"/><rect y="30" width="1" height="1.08" fill="#bcabec"/><rect y="31" width="1" height="1.08" fill="#c6b6ef"/><rect y="32" width="1" height="1.08" fill="#bba8eb"/><rect y="33" width="1" height="1.08" fill="#cdbef1"/><rect y="34" width="1" height="1.08" fill="#c2b1ed"/><rect y="35" width="1" height="1.08" fill="#ad98e7"/><rect y="36" width="1" height="1.08" fill="#baa7eb"/><rect y="37" width="1" height="1.08" fill="#bdabec"/><rect y="38" width="1" height="1.08" fill="#b8a5eb"/><rect y="39" width="1" height="1.08" fill="#c5b5ee"/><rect y="40" width="1" height="1.08" fill="#baa7eb"/><rect y="41" width="1" height="1.08" fill="#ccbdf0"/><rect y="42" width="1" height="1.08" fill="#bdacec"/><rect y="43" width="1" height="1.08" fill="#bba9ec"/><rect y="44" width="1" height="1.08" fill="#c5b5ee"/><rect y="45" width="1" height="1.08" fill="#c4b3ee"/><rect y="46" width="1" height="1.08" fill="#b9a6eb"/><rect y="47" width="1" height="1.08" fill="#c6b6ef"/><rect y="48" width="1" height="1.08" fill="#c9b9ef"/><rect y="49" width="1" height="1.08" fill="#c4b3ee"/><rect y="50" width="1" height="1.08" fill="#b39fe9"/><rect y="51" width="1" height="1.08" fill="#c2b1ed"/><rect y="52" width="1" height="1.08" fill="#baa7eb"/><rect y="53" width="1" height="1.08" fill="#c1b0ed"/><rect y="54" width="1" height="1.08" fill="#bdabec"/><rect y="55" width="1" height="1.08" fill="#c0aeed"/><rect y="56" width="1" height="1.08" fill="#bba9ec"/><rect y="57" width="1" height="1.08" fill="#bfaeed"/><rect y="58" width="1" height="1.08" fill="#b7a4ea"/><rect y="59" width="1" height="1.08" fill="#ccbdf0"/><rect y="60" width="1" height="1.08" fill="#beacec"/><rect y="61" width="1" height="1.08" fill="#bfaeed"/><rect y="62" width="1" height="1.08" fill="#ccbdf0"/><rect y="63" width="1" height="1.08" fill="#c9b9ef"/><rect y="64" width="1" height="1.08" fill="#bfaded"/><rect y="65" width="1" height="1.08" fill="#c3b2ee"/><rect y="66" width="1" height="1.08" fill="#c2b1ee"/><rect y="67" width="1" height="1.08" fill="#cabcf0"/><rect y="68" width="1" height="1.08" fill="#c5b5ee"/><rect y="69" width="1" height="1.08" fill="#cfc1f1"/><rect y="70" width="1" height="1.08" fill="#bfaded"/><rect y="71" width="1" height="1.08" fill="#c6b6ef"/><rect y="72" width="1" height="1.08" fill="#beacec"/><rect y="73" width="1" height="1.08" fill="#beadec"/><rect y="74" width="1" height="1.08" fill="#bcabec"/><rect y="75" width="1" height="1.08" fill="#c1afed"/><rect y="76" width="1" height="1.08" fill="#bdabec"/><rect y="77" width="1" height="1.08" fill="#bcaaec"/><rect y="78" width="1" height="1.08" fill="#c5b5ef"/><rect y="79" width="1" height="1.08" fill="#b19de9"/><rect y="80" width="1" height="1.08" fill="#cabbf0"/><rect y="81" width="1" height="1.08" fill="#beadec"/><rect y="82" width="1" height="1.08" fill="#beacec"/><rect y="83" width="1" height="1.08" fill="#c0afed"/><rect y="84" width="1" height="1.08" fill="#c8b8ef"/><rect y="85" width="1" height="1.08" fill="#c1b0ed"/><rect y="86" width="1" height="1.08" fill="#bdabec"/><rect y="87" width="1" height="1.08" fill="#c1b0ed"/><rect y="88" width="1" height="1.08" fill="#c5b5ee"/><rect y="89" width="1" height="1.08" fill="#c8b8ef"/><rect y="90" width="1" height="1.08" fill="#d1c4f2"/><rect y="91" width="1" height="1.08" fill="#c1b0ed"/><rect y="92" width="1" height="1.08" fill="#b7a5ea"/><rect y="93" width="1" height="1.08" fill="#bdacec"/><rect y="94" width="1" height="1.08" fill="#c5b5ee"/><rect y="95" width="1" height="1.08" fill="#c6b6ef"/><rect y="96" width="1" height="1.08" fill="#c2b1ee"/>
</g>
<line x1="27.5" y1="497.5" x2="27.5" y2="595.8" stroke="#222" stroke-width="1.6"/>
<line x1="26.7" y1="595.4" x2="231.7" y2="595.4" stroke="#555" stroke-width="1"/>
<line x1="41.2" y1="595.8" x2="41.2" y2="597.8" stroke="#888" stroke-width="0.6"/>
<line x1="63.4" y1="595.8" x2="63.4" y2="597.8" stroke="#888" stroke-width="0.6"/>
<line x1="85.5" y1="595.8" x2="85.5" y2="597.8" stroke="#888" stroke-width="0.6"/>
<line x1="107.7" y1="595.8" x2="107.7" y2="597.8" stroke="#888" stroke-width="0.6"/>
<line x1="129.9" y1="595.8" x2="129.9" y2="597.8" stroke="#888" stroke-width="0.6"/>
<line x1="152.1" y1="595.8" x2="152.1" y2="597.8" stroke="#888" stroke-width="0.6"/>
<line x1="174.3" y1="595.8" x2="174.3" y2="597.8" stroke="#888" stroke-width="0.6"/>
<line x1="196.4" y1="595.8" x2="196.4" y2="597.8" stroke="#888" stroke-width="0.6"/>
<line x1="218.6" y1="595.8" x2="218.6" y2="597.8" stroke="#888" stroke-width="0.6"/>
<g class="hm" transform="translate(30.10,630.30) scale(22.478,0.9978)">
<rect y="0" width="1" height="1.08" fill="#d1c3f2"/><rect y="1" width="1" height="1.08" fill="#e2d9f7"/><rect y="2" width="1" height="1.08" fill="#cec0f1"/><rect y="3" width="1" height="1.08" fill="#e8e1f8"/><rect y="4" width="1" height="1.08" fill="#e4dcf7"/><rect y="5" width="1" height="1.08" fill="#d0c2f2"/><rect y="6" width="1" height="1.08" fill="#dacff4"/><rect y="7" width="1" height="1.08" fill="#e1d8f7"/><rect y="8" width="1" height="1.08" fill="#d7cbf4"/><rect y="9" width="1" height="1.08" fill="#d0c2f1"/><rect y="10" width="1" height="1.08" fill="#e3daf7"/><rect y="11" width="1" height="1.08" fill="#d8ccf4"/><rect y="12" width="1" height="1.08" fill="#ded4f6"/><rect y="13" width="1" height="1.08" fill="#d8ccf4"/><rect y="14" width="1" height="1.08" fill="#dcd1f5"/><rect y="15" width="1" height="1.08" fill="#e1d8f7"/><rect y="16" width="1" height="1.08" fill="#ded4f6"/><rect y="17" width="1" height="1.08" fill="#d8cdf4"/><rect y="18" width="1" height="1.08" fill="#ddd3f5"/><rect y="19" width="1" height="1.08" fill="#d3c6f2"/><rect y="20" width="1" height="1.08" fill="#d6caf3"/><rect y="21" width="1" height="1.08" fill="#d8ccf4"/><rect y="22" width="1" height="1.08" fill="#cec0f1"/><rect y="23" width="1" height="1.08" fill="#e5ddf8"/><rect y="24" width="1" height="1.08" fill="#e2d9f7"/><rect y="25" width="1" height="1.08" fill="#dfd5f6"/><rect y="26" width="1" height="1.08" fill="#d6caf3"/><rect y="27" width="1" height="1.08" fill="#d5c8f3"/><rect y="28" width="1" height="1.08" fill="#d5c8f3"/><rect y="29" width="1" height="1.08" fill="#ddd2f5"/><rect y="30" width="1" height="1.08" fill="#e7dff8"/><rect y="31" width="1" height="1.08" fill="#e2d9f7"/><rect y="32" width="1" height="1.08" fill="#cec0f1"/><rect y="33" width="1" height="1.08" fill="#d7cbf4"/><rect y="34" width="1" height="1.08" fill="#e2d9f7"/><rect y="35" width="1" height="1.08" fill="#dad0f5"/><rect y="36" width="1" height="1.08" fill="#d2c5f2"/><rect y="37" width="1" height="1.08" fill="#dbd0f5"/><rect y="38" width="1" height="1.08" fill="#d9cdf4"/><rect y="39" width="1" height="1.08" fill="#d4c8f3"/><rect y="40" width="1" height="1.08" fill="#d7cbf4"/><rect y="41" width="1" height="1.08" fill="#d0c2f2"/><rect y="42" width="1" height="1.08" fill="#dcd1f5"/><rect y="43" width="1" height="1.08" fill="#ccbef0"/><rect y="44" width="1" height="1.08" fill="#dbd0f5"/><rect y="45" width="1" height="1.08" fill="#d5c9f3"/>
</g>
<g class="hm" transform="translate(52.28,630.30) scale(22.478,0.9978)">
<rect y="0" width="1" height="1.08" fill="#e3dbf7"/><rect y="1" width="1" height="1.08" fill="#d2c6f2"/><rect y="2" width="1" height="1.08" fill="#cfc1f1"/><rect y="3" width="1" height="1.08" fill="#eae4f9"/><rect y="4" width="1" height="1.08" fill="#e1d7f6"/><rect y="5" width="1" height="1.08" fill="#d5c9f3"/><rect y="6" width="1" height="1.08" fill="#dbd1f5"/><rect y="7" width="1" height="1.08" fill="#e4dcf7"/><rect y="8" width="1" height="1.08" fill="#e7dff8"/><rect y="9" width="1" height="1.08" fill="#d3c6f2"/><rect y="10" width="1" height="1.08" fill="#e2daf7"/><rect y="11" width="1" height="1.08" fill="#ddd3f5"/><rect y="12" width="1" height="1.08" fill="#e1d8f7"/><rect y="13" width="1" height="1.08" fill="#e3dbf7"/><rect y="14" width="1" height="1.08" fill="#e5ddf8"/><rect y="15" width="1" height="1.08" fill="#e4dbf7"/><rect y="16" width="1" height="1.08" fill="#ddd3f5"/><rect y="17" width="1" height="1.08" fill="#d7cbf4"/><rect y="18" width="1" height="1.08" fill="#ddd2f5"/><rect y="19" width="1" height="1.08" fill="#e2daf7"/><rect y="20" width="1" height="1.08" fill="#dacff4"/><rect y="21" width="1" height="1.08" fill="#e4dcf7"/><rect y="22" width="1" height="1.08" fill="#d8ccf4"/><rect y="23" width="1" height="1.08" fill="#ece6fa"/><rect y="24" width="1" height="1.08" fill="#dbd0f5"/><rect y="25" width="1" height="1.08" fill="#e0d6f6"/><rect y="26" width="1" height="1.08" fill="#e8e1f8"/><rect y="27" width="1" height="1.08" fill="#d3c6f2"/><rect y="28" width="1" height="1.08" fill="#e2d9f7"/><rect y="29" width="1" height="1.08" fill="#ddd3f5"/><rect y="30" width="1" height="1.08" fill="#e9e2f9"/><rect y="31" width="1" height="1.08" fill="#e4dbf7"/><rect y="32" width="1" height="1.08" fill="#c6b7ef"/><rect y="33" width="1" height="1.08" fill="#e5dcf7"/><rect y="34" width="1" height="1.08" fill="#e1d8f7"/><rect y="35" width="1" height="1.08" fill="#dbd0f5"/><rect y="36" width="1" height="1.08" fill="#d5c9f3"/><rect y="37" width="1" height="1.08" fill="#e0d6f6"/><rect y="38" width="1" height="1.08" fill="#e0d7f6"/><rect y="39" width="1" height="1.08" fill="#eae4f9"/><rect y="40" width="1" height="1.08" fill="#d3c6f3"/><rect y="41" width="1" height="1.08" fill="#d5c9f3"/><rect y="42" width="1" height="1.08" fill="#e0d7f6"/><rect y="43" width="1" height="1.08" fill="#ded4f6"/><rect y="44" width="1" height="1.08" fill="#d8cdf4"/><rect y="45" width="1" height="1.08" fill="#e1d8f7"/>
</g>
<g class="hm" transform="translate(74.46,630.30) scale(22.478,0.9978)">
<rect y="0" width="1" height="1.08" fill="#ded5f6"/><rect y="1" width="1" height="1.08" fill="#ddd3f5"/><rect y="2" width="1" height="1.08" fill="#d5c9f3"/><rect y="3" width="1" height="1.08" fill="#ece6fa"/><rect y="4" width="1" height="1.08" fill="#dcd2f5"/><rect y="5" width="1" height="1.08" fill="#ccbef1"/><rect y="6" width="1" height="1.08" fill="#ded4f6"/><rect y="7" width="1" height="1.08" fill="#ddd3f5"/><rect y="8" width="1" height="1.08" fill="#cdbff1"/><rect y="9" width="1" height="1.08" fill="#d5c9f3"/><rect y="10" width="1" height="1.08" fill="#e1d7f6"/><rect y="11" width="1" height="1.08" fill="#ded4f6"/><rect y="12" width="1" height="1.08" fill="#e6dff8"/><rect y="13" width="1" height="1.08" fill="#dfd5f6"/><rect y="14" width="1" height="1.08" fill="#e0d6f6"/><rect y="15" width="1" height="1.08" fill="#ddd3f5"/><rect y="16" width="1" height="1.08" fill="#d8ccf4"/><rect y="17" width="1" height="1.08" fill="#d5c9f3"/><rect y="18" width="1" height="1.08" fill="#e5ddf8"/><rect y="19" width="1" height="1.08" fill="#d7ccf4"/><rect y="20" width="1" height="1.08" fill="#d6c9f3"/><rect y="21" width="1" height="1.08" fill="#e4dcf7"/><rect y="22" width="1" height="1.08" fill="#cbbcf0"/><rect y="23" width="1" height="1.08" fill="#d8cdf4"/><rect y="24" width="1" height="1.08" fill="#d8ccf4"/><rect y="25" width="1" height="1.08" fill="#e1d8f6"/><rect y="26" width="1" height="1.08" fill="#dbd1f5"/><rect y="27" width="1" height="1.08" fill="#c8b9ef"/><rect y="28" width="1" height="1.08" fill="#e3daf7"/><rect y="29" width="1" height="1.08" fill="#d8ccf4"/><rect y="30" width="1" height="1.08" fill="#e5ddf8"/><rect y="31" width="1" height="1.08" fill="#e0d7f6"/><rect y="32" width="1" height="1.08" fill="#d9cef4"/><rect y="33" width="1" height="1.08" fill="#e5ddf8"/><rect y="34" width="1" height="1.08" fill="#ded4f6"/><rect y="35" width="1" height="1.08" fill="#e1d8f7"/><rect y="36" width="1" height="1.08" fill="#ddd3f5"/><rect y="37" width="1" height="1.08" fill="#ded4f6"/><rect y="38" width="1" height="1.08" fill="#e5dcf8"/><rect y="39" width="1" height="1.08" fill="#ddd3f5"/><rect y="40" width="1" height="1.08" fill="#dacff4"/><rect y="41" width="1" height="1.08" fill="#d7cbf4"/><rect y="42" width="1" height="1.08" fill="#ded5f6"/><rect y="43" width="1" height="1.08" fill="#d5c9f3"/><rect y="44" width="1" height="1.08" fill="#dacff4"/><rect y="45" width="1" height="1.08" fill="#d9cef4"/>
</g>
<g class="hm" transform="translate(96.63,630.30) scale(22.478,0.9978)">
<rect y="0" width="1" height="1.08" fill="#d2c5f2"/><rect y="1" width="1" height="1.08" fill="#d9cef4"/><rect y="2" width="1" height="1.08" fill="#ddd3f5"/><rect y="3" width="1" height="1.08" fill="#e1d8f7"/><rect y="4" width="1" height="1.08" fill="#ccbdf0"/><rect y="5" width="1" height="1.08" fill="#d6caf3"/><rect y="6" width="1" height="1.08" fill="#ded4f6"/><rect y="7" width="1" height="1.08" fill="#d2c5f2"/><rect y="8" width="1" height="1.08" fill="#dacff4"/><rect y="9" width="1" height="1.08" fill="#d3c6f2"/><rect y="10" width="1" height="1.08" fill="#e0d7f6"/><rect y="11" width="1" height="1.08" fill="#d0c3f2"/><rect y="12" width="1" height="1.08" fill="#ded4f6"/><rect y="13" width="1" height="1.08" fill="#d4c8f3"/><rect y="14" width="1" height="1.08" fill="#d0c2f1"/><rect y="15" width="1" height="1.08" fill="#dfd5f6"/><rect y="16" width="1" height="1.08" fill="#e7e0f8"/><rect y="17" width="1" height="1.08" fill="#d3c6f3"/><rect y="18" width="1" height="1.08" fill="#d3c6f2"/><rect y="19" width="1" height="1.08" fill="#d1c4f2"/><rect y="20" width="1" height="1.08" fill="#d7cbf4"/><rect y="21" width="1" height="1.08" fill="#d1c4f2"/><rect y="22" width="1" height="1.08" fill="#d6caf3"/><rect y="23" width="1" height="1.08" fill="#cbbcf0"/><rect y="24" width="1" height="1.08" fill="#d8cdf4"/><rect y="25" width="1" height="1.08" fill="#d7cbf4"/><rect y="26" width="1" height="1.08" fill="#ded4f6"/><rect y="27" width="1" height="1.08" fill="#d2c5f2"/><rect y="28" width="1" height="1.08" fill="#d5c9f3"/><rect y="29" width="1" height="1.08" fill="#dcd2f5"/><rect y="30" width="1" height="1.08" fill="#ddd3f5"/><rect y="31" width="1" height="1.08" fill="#ccbdf0"/><rect y="32" width="1" height="1.08" fill="#ccbdf0"/><rect y="33" width="1" height="1.08" fill="#dcd1f5"/><rect y="34" width="1" height="1.08" fill="#d8cdf4"/><rect y="35" width="1" height="1.08" fill="#d3c6f2"/><rect y="36" width="1" height="1.08" fill="#dacff5"/><rect y="37" width="1" height="1.08" fill="#dacff4"/><rect y="38" width="1" height="1.08" fill="#cdbff1"/><rect y="39" width="1" height="1.08" fill="#d3c7f3"/><rect y="40" width="1" height="1.08" fill="#d0c3f2"/><rect y="41" width="1" height="1.08" fill="#d2c5f2"/><rect y="42" width="1" height="1.08" fill="#dacff5"/><rect y="43" width="1" height="1.08" fill="#c8b9ef"/><rect y="44" width="1" height="1.08" fill="#cec0f1"/><rect y="45" width="1" height="1.08" fill="#ddd2f5"/>
</g>
<g class="hm" transform="translate(118.81,630.30) scale(22.478,0.9978)">
<rect y="0" width="1" height="1.08" fill="#dfd5f6"/><rect y="1" width="1" height="1.08" fill="#dcd1f5"/><rect y="2" width="1" height="1.08" fill="#d5c9f3"/><rect y="3" width="1" height="1.08" fill="#ddd3f5"/><rect y="4" width="1" height="1.08" fill="#dbd0f5"/><rect y="5" width="1" height="1.08" fill="#d7cbf4"/><rect y="6" width="1" height="1.08" fill="#d8cdf4"/><rect y="7" width="1" height="1.08" fill="#d9cdf4"/><rect y="8" width="1" height="1.08" fill="#e9e2f9"/><rect y="9" width="1" height="1.08" fill="#d6c9f3"/><rect y="10" width="1" height="1.08" fill="#e0d7f6"/><rect y="11" width="1" height="1.08" fill="#ccbef1"/><rect y="12" width="1" height="1.08" fill="#eae3f9"/><rect y="13" width="1" height="1.08" fill="#d8ccf4"/><rect y="14" width="1" height="1.08" fill="#d2c4f2"/><rect y="15" width="1" height="1.08" fill="#e0d7f6"/><rect y="16" width="1" height="1.08" fill="#efeafb"/><rect y="17" width="1" height="1.08" fill="#dbd1f5"/><rect y="18" width="1" height="1.08" fill="#d3c6f2"/><rect y="19" width="1" height="1.08" fill="#dbd1f5"/><rect y="20" width="1" height="1.08" fill="#e2d9f7"/><rect y="21" width="1" height="1.08" fill="#ddd3f5"/><rect y="22" width="1" height="1.08" fill="#d3c7f3"/><rect y="23" width="1" height="1.08" fill="#d0c2f2"/><rect y="24" width="1" height="1.08" fill="#e2d9f7"/><rect y="25" width="1" height="1.08" fill="#d9cdf4"/><rect y="26" width="1" height="1.08" fill="#e4dcf7"/><rect y="27" width="1" height="1.08" fill="#dacff5"/><rect y="28" width="1" height="1.08" fill="#d6caf3"/><rect y="29" width="1" height="1.08" fill="#e0d7f6"/><rect y="30" width="1" height="1.08" fill="#e0d7f6"/><rect y="31" width="1" height="1.08" fill="#d8cdf4"/><rect y="32" width="1" height="1.08" fill="#dfd6f6"/><rect y="33" width="1" height="1.08" fill="#dfd6f6"/><rect y="34" width="1" height="1.08" fill="#d5c8f3"/><rect y="35" width="1" height="1.08" fill="#e2daf7"/><rect y="36" width="1" height="1.08" fill="#e0d6f6"/><rect y="37" width="1" height="1.08" fill="#eae3f9"/><rect y="38" width="1" height="1.08" fill="#d7cbf3"/><rect y="39" width="1" height="1.08" fill="#e1d8f7"/><rect y="40" width="1" height="1.08" fill="#d1c3f2"/><rect y="41" width="1" height="1.08" fill="#d2c5f2"/><rect y="42" width="1" height="1.08" fill="#dacef4"/><rect y="43" width="1" height="1.08" fill="#d2c5f2"/><rect y="44" width="1" height="1.08" fill="#d7cbf4"/><rect y="45" width="1" height="1.08" fill="#dbd0f5"/>
</g>
<g class="hm" transform="translate(140.99,630.30) scale(22.478,0.9978)">
<rect y="0" width="1" height="1.08" fill="#d8ccf4"/><rect y="1" width="1" height="1.08" fill="#e1d8f6"/><rect y="2" width="1" height="1.08" fill="#dbd0f5"/><rect y="3" width="1" height="1.08" fill="#ddd2f5"/><rect y="4" width="1" height="1.08" fill="#d3c6f2"/><rect y="5" width="1" height="1.08" fill="#d4c7f3"/><rect y="6" width="1" height="1.08" fill="#e3daf7"/><rect y="7" width="1" height="1.08" fill="#d5c8f3"/><rect y="8" width="1" height="1.08" fill="#e5ddf8"/><rect y="9" width="1" height="1.08" fill="#d2c5f2"/><rect y="10" width="1" height="1.08" fill="#dfd5f6"/><rect y="11" width="1" height="1.08" fill="#d4c7f3"/><rect y="12" width="1" height="1.08" fill="#ddd2f5"/><rect y="13" width="1" height="1.08" fill="#dfd5f6"/><rect y="14" width="1" height="1.08" fill="#d1c4f2"/><rect y="15" width="1" height="1.08" fill="#d6c9f3"/><rect y="16" width="1" height="1.08" fill="#e1d8f6"/><rect y="17" width="1" height="1.08" fill="#ddd3f5"/><rect y="18" width="1" height="1.08" fill="#ddd3f5"/><rect y="19" width="1" height="1.08" fill="#d7cbf4"/><rect y="20" width="1" height="1.08" fill="#e8e0f8"/><rect y="21" width="1" height="1.08" fill="#dcd1f5"/><rect y="22" width="1" height="1.08" fill="#dfd5f6"/><rect y="23" width="1" height="1.08" fill="#ded4f6"/><rect y="24" width="1" height="1.08" fill="#e5ddf8"/><rect y="25" width="1" height="1.08" fill="#d4c8f3"/><rect y="26" width="1" height="1.08" fill="#e5ddf8"/><rect y="27" width="1" height="1.08" fill="#dacff4"/><rect y="28" width="1" height="1.08" fill="#dfd5f6"/><rect y="29" width="1" height="1.08" fill="#e3daf7"/><rect y="30" width="1" height="1.08" fill="#d9cef4"/><rect y="31" width="1" height="1.08" fill="#d8ccf4"/><rect y="32" width="1" height="1.08" fill="#dfd5f6"/><rect y="33" width="1" height="1.08" fill="#dbd0f5"/><rect y="34" width="1" height="1.08" fill="#dacff5"/><rect y="35" width="1" height="1.08" fill="#e2d9f7"/><rect y="36" width="1" height="1.08" fill="#dbd0f5"/><rect y="37" width="1" height="1.08" fill="#e0d7f6"/><rect y="38" width="1" height="1.08" fill="#cec0f1"/><rect y="39" width="1" height="1.08" fill="#d2c5f2"/><rect y="40" width="1" height="1.08" fill="#d5c9f3"/><rect y="41" width="1" height="1.08" fill="#d7cbf4"/><rect y="42" width="1" height="1.08" fill="#e1d8f7"/><rect y="43" width="1" height="1.08" fill="#dbd1f5"/><rect y="44" width="1" height="1.08" fill="#d2c4f2"/><rect y="45" width="1" height="1.08" fill="#ddd3f5"/>
</g>
<g class="hm" transform="translate(163.17,630.30) scale(22.478,0.9978)">
<rect y="0" width="1" height="1.08" fill="#d0aba8"/><rect y="1" width="1" height="1.08" fill="#c79d99"/><rect y="2" width="1" height="1.08" fill="#d0aba8"/><rect y="3" width="1" height="1.08" fill="#bf8e8a"/><rect y="4" width="1" height="1.08" fill="#cba29f"/><rect y="5" width="1" height="1.08" fill="#c69a97"/><rect y="6" width="1" height="1.08" fill="#caa19e"/><rect y="7" width="1" height="1.08" fill="#c9a09c"/><rect y="8" width="1" height="1.08" fill="#c2938f"/><rect y="9" width="1" height="1.08" fill="#caa29f"/><rect y="10" width="1" height="1.08" fill="#caa29e"/><rect y="11" width="1" height="1.08" fill="#be8c89"/><rect y="12" width="1" height="1.08" fill="#caa19d"/><rect y="13" width="1" height="1.08" fill="#d0aba8"/><rect y="14" width="1" height="1.08" fill="#bc8885"/><rect y="15" width="1" height="1.08" fill="#ba8682"/><rect y="16" width="1" height="1.08" fill="#caa09d"/><rect y="17" width="1" height="1.08" fill="#c79b98"/><rect y="18" width="1" height="1.08" fill="#c49793"/><rect y="19" width="1" height="1.08" fill="#bd8a86"/><rect y="20" width="1" height="1.08" fill="#c89d9a"/><rect y="21" width="1" height="1.08" fill="#bc8985"/><rect y="22" width="1" height="1.08" fill="#caa09d"/><rect y="23" width="1" height="1.08" fill="#c39591"/><rect y="24" width="1" height="1.08" fill="#bd8b88"/><rect y="25" width="1" height="1.08" fill="#c89d9a"/><rect y="26" width="1" height="1.08" fill="#c08f8b"/><rect y="27" width="1" height="1.08" fill="#c59895"/><rect y="28" width="1" height="1.08" fill="#bb8884"/><rect y="29" width="1" height="1.08" fill="#c79b98"/><rect y="30" width="1" height="1.08" fill="#c1918d"/><rect y="31" width="1" height="1.08" fill="#caa09d"/><rect y="32" width="1" height="1.08" fill="#c1928e"/><rect y="33" width="1" height="1.08" fill="#d6b6b3"/><rect y="34" width="1" height="1.08" fill="#c99f9c"/><rect y="35" width="1" height="1.08" fill="#bd8a86"/><rect y="36" width="1" height="1.08" fill="#c89d9a"/><rect y="37" width="1" height="1.08" fill="#c59894"/><rect y="38" width="1" height="1.08" fill="#caa19e"/><rect y="39" width="1" height="1.08" fill="#c1928e"/><rect y="40" width="1" height="1.08" fill="#c39491"/><rect y="41" width="1" height="1.08" fill="#bf8e8b"/><rect y="42" width="1" height="1.08" fill="#c9a09c"/><rect y="43" width="1" height="1.08" fill="#c39490"/><rect y="44" width="1" height="1.08" fill="#bd8a87"/><rect y="45" width="1" height="1.08" fill="#c0908c"/>
</g>
<g class="hm" transform="translate(185.34,630.30) scale(22.478,0.9978)">
<rect y="0" width="1" height="1.08" fill="#c89e9b"/><rect y="1" width="1" height="1.08" fill="#c59995"/><rect y="2" width="1" height="1.08" fill="#c99e9b"/><rect y="3" width="1" height="1.08" fill="#c08f8b"/><rect y="4" width="1" height="1.08" fill="#d0aba9"/><rect y="5" width="1" height="1.08" fill="#c39692"/><rect y="6" width="1" height="1.08" fill="#c89d99"/><rect y="7" width="1" height="1.08" fill="#c79d99"/><rect y="8" width="1" height="1.08" fill="#c99f9b"/><rect y="9" width="1" height="1.08" fill="#d0aca9"/><rect y="10" width="1" height="1.08" fill="#c9a09c"/><rect y="11" width="1" height="1.08" fill="#c29490"/><rect y="12" width="1" height="1.08" fill="#d0aba8"/><rect y="13" width="1" height="1.08" fill="#c39592"/><rect y="14" width="1" height="1.08" fill="#cca5a2"/><rect y="15" width="1" height="1.08" fill="#ba8582"/><rect y="16" width="1" height="1.08" fill="#c1928e"/><rect y="17" width="1" height="1.08" fill="#c29490"/><rect y="18" width="1" height="1.08" fill="#cba39f"/><rect y="19" width="1" height="1.08" fill="#c9a09c"/><rect y="20" width="1" height="1.08" fill="#cea8a5"/><rect y="21" width="1" height="1.08" fill="#c49794"/><rect y="22" width="1" height="1.08" fill="#d0aaa7"/><rect y="23" width="1" height="1.08" fill="#c69b97"/><rect y="24" width="1" height="1.08" fill="#be8d89"/><rect y="25" width="1" height="1.08" fill="#c59894"/><rect y="26" width="1" height="1.08" fill="#cda6a3"/><rect y="27" width="1" height="1.08" fill="#d6b5b2"/><rect y="28" width="1" height="1.08" fill="#c29490"/><rect y="29" width="1" height="1.08" fill="#caa19e"/><rect y="30" width="1" height="1.08" fill="#c69a96"/><rect y="31" width="1" height="1.08" fill="#be8d89"/><rect y="32" width="1" height="1.08" fill="#bd8b87"/><rect y="33" width="1" height="1.08" fill="#c99f9c"/><rect y="34" width="1" height="1.08" fill="#c1918d"/><rect y="35" width="1" height="1.08" fill="#ba8682"/><rect y="36" width="1" height="1.08" fill="#c79c99"/><rect y="37" width="1" height="1.08" fill="#c69b97"/><rect y="38" width="1" height="1.08" fill="#c08f8b"/><rect y="39" width="1" height="1.08" fill="#cba3a0"/><rect y="40" width="1" height="1.08" fill="#caa19e"/><rect y="41" width="1" height="1.08" fill="#c59894"/><rect y="42" width="1" height="1.08" fill="#cea7a4"/><rect y="43" width="1" height="1.08" fill="#c9a09c"/><rect y="44" width="1" height="1.08" fill="#c29390"/><rect y="45" width="1" height="1.08" fill="#c59895"/>
</g>
<g class="hm" transform="translate(207.52,630.30) scale(22.478,0.9978)">
<rect y="0" width="1" height="1.08" fill="#c59894"/><rect y="1" width="1" height="1.08" fill="#d3b0ae"/><rect y="2" width="1" height="1.08" fill="#c39592"/><rect y="3" width="1" height="1.08" fill="#bc8985"/><rect y="4" width="1" height="1.08" fill="#cda7a4"/><rect y="5" width="1" height="1.08" fill="#c39491"/><rect y="6" width="1" height="1.08" fill="#cba3a0"/><rect y="7" width="1" height="1.08" fill="#c89d9a"/><rect y="8" width="1" height="1.08" fill="#c39591"/><rect y="9" width="1" height="1.08" fill="#c0908d"/><rect y="10" width="1" height="1.08" fill="#c29490"/><rect y="11" width="1" height="1.08" fill="#c29490"/><rect y="12" width="1" height="1.08" fill="#bb8784"/><rect y="13" width="1" height="1.08" fill="#be8d89"/><rect y="14" width="1" height="1.08" fill="#be8c89"/><rect y="15" width="1" height="1.08" fill="#bc8a86"/><rect y="16" width="1" height="1.08" fill="#bc8985"/><rect y="17" width="1" height="1.08" fill="#c49692"/><rect y="18" width="1" height="1.08" fill="#c49794"/><rect y="19" width="1" height="1.08" fill="#be8d89"/><rect y="20" width="1" height="1.08" fill="#cda7a4"/><rect y="21" width="1" height="1.08" fill="#ddc2c0"/><rect y="22" width="1" height="1.08" fill="#c79c99"/><rect y="23" width="1" height="1.08" fill="#c69a96"/><rect y="24" width="1" height="1.08" fill="#c1918e"/><rect y="25" width="1" height="1.08" fill="#c1928f"/><rect y="26" width="1" height="1.08" fill="#bf8e8a"/><rect y="27" width="1" height="1.08" fill="#c49793"/><rect y="28" width="1" height="1.08" fill="#c2938f"/><rect y="29" width="1" height="1.08" fill="#be8d89"/><rect y="30" width="1" height="1.08" fill="#c29490"/><rect y="31" width="1" height="1.08" fill="#bf8e8a"/><rect y="32" width="1" height="1.08" fill="#bb8783"/><rect y="33" width="1" height="1.08" fill="#caa19e"/><rect y="34" width="1" height="1.08" fill="#c2938f"/><rect y="35" width="1" height="1.08" fill="#c1918d"/><rect y="36" width="1" height="1.08" fill="#c79c98"/><rect y="37" width="1" height="1.08" fill="#b98480"/><rect y="38" width="1" height="1.08" fill="#bb8683"/><rect y="39" width="1" height="1.08" fill="#b98480"/><rect y="40" width="1" height="1.08" fill="#c1928e"/><rect y="41" width="1" height="1.08" fill="#bf8e8a"/><rect y="42" width="1" height="1.08" fill="#c39592"/><rect y="43" width="1" height="1.08" fill="#c1928e"/><rect y="44" width="1" height="1.08" fill="#c29390"/><rect y="45" width="1" height="1.08" fill="#be8c88"/>
</g>
<line x1="27.5" y1="629.8" x2="27.5" y2="677.2" stroke="#222" stroke-width="1.6"/>
<line x1="26.7" y1="676.8" x2="231.7" y2="676.8" stroke="#555" stroke-width="1"/>
<line x1="41.2" y1="677.2" x2="41.2" y2="679.2" stroke="#888" stroke-width="0.6"/>
<line x1="63.4" y1="677.2" x2="63.4" y2="679.2" stroke="#888" stroke-width="0.6"/>
<line x1="85.5" y1="677.2" x2="85.5" y2="679.2" stroke="#888" stroke-width="0.6"/>
<line x1="107.7" y1="677.2" x2="107.7" y2="679.2" stroke="#888" stroke-width="0.6"/>
<line x1="129.9" y1="677.2" x2="129.9" y2="679.2" stroke="#888" stroke-width="0.6"/>
<line x1="152.1" y1="677.2" x2="152.1" y2="679.2" stroke="#888" stroke-width="0.6"/>
<line x1="174.3" y1="677.2" x2="174.3" y2="679.2" stroke="#888" stroke-width="0.6"/>
<line x1="196.4" y1="677.2" x2="196.4" y2="679.2" stroke="#888" stroke-width="0.6"/>
<line x1="218.6" y1="677.2" x2="218.6" y2="679.2" stroke="#888" stroke-width="0.6"/>
<g class="hm" transform="translate(30.10,720.80) scale(22.478,1.0083)">
<rect y="0" width="1" height="1.08" fill="#c49692"/><rect y="1" width="1" height="1.08" fill="#c1918d"/><rect y="2" width="1" height="1.08" fill="#c39491"/><rect y="3" width="1" height="1.08" fill="#c89e9b"/><rect y="4" width="1" height="1.08" fill="#c59894"/><rect y="5" width="1" height="1.08" fill="#caa19e"/><rect y="6" width="1" height="1.08" fill="#ba8682"/><rect y="7" width="1" height="1.08" fill="#c69996"/><rect y="8" width="1" height="1.08" fill="#c69a96"/><rect y="9" width="1" height="1.08" fill="#c79b98"/><rect y="10" width="1" height="1.08" fill="#c79c99"/><rect y="11" width="1" height="1.08" fill="#be8c89"/><rect y="12" width="1" height="1.08" fill="#c89e9b"/><rect y="13" width="1" height="1.08" fill="#caa19d"/><rect y="14" width="1" height="1.08" fill="#c39592"/><rect y="15" width="1" height="1.08" fill="#c79c99"/><rect y="16" width="1" height="1.08" fill="#c69996"/><rect y="17" width="1" height="1.08" fill="#c1918e"/><rect y="18" width="1" height="1.08" fill="#b67f7b"/><rect y="19" width="1" height="1.08" fill="#c49793"/><rect y="20" width="1" height="1.08" fill="#c89e9b"/><rect y="21" width="1" height="1.08" fill="#be8d89"/><rect y="22" width="1" height="1.08" fill="#c79c99"/><rect y="23" width="1" height="1.08" fill="#be8d89"/><rect y="24" width="1" height="1.08" fill="#b9837f"/><rect y="25" width="1" height="1.08" fill="#c79c99"/><rect y="26" width="1" height="1.08" fill="#d1aca9"/><rect y="27" width="1" height="1.08" fill="#c69a97"/><rect y="28" width="1" height="1.08" fill="#c49693"/><rect y="29" width="1" height="1.08" fill="#c79c99"/><rect y="30" width="1" height="1.08" fill="#c1928e"/><rect y="31" width="1" height="1.08" fill="#c39592"/><rect y="32" width="1" height="1.08" fill="#caa19e"/><rect y="33" width="1" height="1.08" fill="#c49693"/><rect y="34" width="1" height="1.08" fill="#c79c98"/><rect y="35" width="1" height="1.08" fill="#cea7a4"/><rect y="36" width="1" height="1.08" fill="#c39592"/><rect y="37" width="1" height="1.08" fill="#c99f9c"/><rect y="38" width="1" height="1.08" fill="#c79c99"/><rect y="39" width="1" height="1.08" fill="#c9a09c"/><rect y="40" width="1" height="1.08" fill="#cea8a5"/><rect y="41" width="1" height="1.08" fill="#c99f9b"/><rect y="42" width="1" height="1.08" fill="#c39491"/><rect y="43" width="1" height="1.08" fill="#c0908d"/><rect y="44" width="1" height="1.08" fill="#c89d9a"/><rect y="45" width="1" height="1.08" fill="#c59996"/><rect y="46" width="1" height="1.08" fill="#c69996"/><rect y="47" width="1" height="1.08" fill="#c69996"/>
</g>
<g class="hm" transform="translate(52.28,720.80) scale(22.478,1.0083)">
<rect y="0" width="1" height="1.08" fill="#c08f8c"/><rect y="1" width="1" height="1.08" fill="#c2938f"/><rect y="2" width="1" height="1.08" fill="#b8837f"/><rect y="3" width="1" height="1.08" fill="#c1928e"/><rect y="4" width="1" height="1.08" fill="#bf8e8b"/><rect y="5" width="1" height="1.08" fill="#c2928f"/><rect y="6" width="1" height="1.08" fill="#b67f7b"/><rect y="7" width="1" height="1.08" fill="#c2928f"/><rect y="8" width="1" height="1.08" fill="#c1928e"/><rect y="9" width="1" height="1.08" fill="#c1918e"/><rect y="10" width="1" height="1.08" fill="#be8c88"/><rect y="11" width="1" height="1.08" fill="#ba8581"/><rect y="12" width="1" height="1.08" fill="#c99f9c"/><rect y="13" width="1" height="1.08" fill="#c1928e"/><rect y="14" width="1" height="1.08" fill="#c89d9a"/><rect y="15" width="1" height="1.08" fill="#bc8985"/><rect y="16" width="1" height="1.08" fill="#c0918d"/><rect y="17" width="1" height="1.08" fill="#ba8682"/><rect y="18" width="1" height="1.08" fill="#c59995"/><rect y="19" width="1" height="1.08" fill="#c29390"/><rect y="20" width="1" height="1.08" fill="#c59895"/><rect y="21" width="1" height="1.08" fill="#bf8e8b"/><rect y="22" width="1" height="1.08" fill="#c49693"/><rect y="23" width="1" height="1.08" fill="#c08f8b"/><rect y="24" width="1" height="1.08" fill="#bf8e8a"/><rect y="25" width="1" height="1.08" fill="#cba3a0"/><rect y="26" width="1" height="1.08" fill="#ad706c"/><rect y="27" width="1" height="1.08" fill="#c39491"/><rect y="28" width="1" height="1.08" fill="#bd8a86"/><rect y="29" width="1" height="1.08" fill="#c69b97"/><rect y="30" width="1" height="1.08" fill="#ba8581"/><rect y="31" width="1" height="1.08" fill="#be8c89"/><rect y="32" width="1" height="1.08" fill="#c0908c"/><rect y="33" width="1" height="1.08" fill="#ba8682"/><rect y="34" width="1" height="1.08" fill="#bc8985"/><rect y="35" width="1" height="1.08" fill="#bc8985"/><rect y="36" width="1" height="1.08" fill="#c0908c"/><rect y="37" width="1" height="1.08" fill="#c99f9c"/><rect y="38" width="1" height="1.08" fill="#be8d89"/><rect y="39" width="1" height="1.08" fill="#c2938f"/><rect y="40" width="1" height="1.08" fill="#c39591"/><rect y="41" width="1" height="1.08" fill="#c1928e"/><rect y="42" width="1" height="1.08" fill="#c2938f"/><rect y="43" width="1" height="1.08" fill="#c2938f"/><rect y="44" width="1" height="1.08" fill="#c1928f"/><rect y="45" width="1" height="1.08" fill="#bc8884"/><rect y="46" width="1" height="1.08" fill="#c29390"/><rect y="47" width="1" height="1.08" fill="#c39491"/>
</g>
<g class="hm" transform="translate(74.46,720.80) scale(22.478,1.0083)">
<rect y="0" width="1" height="1.08" fill="#b9837f"/><rect y="1" width="1" height="1.08" fill="#c89e9b"/><rect y="2" width="1" height="1.08" fill="#c39592"/><rect y="3" width="1" height="1.08" fill="#c99f9c"/><rect y="4" width="1" height="1.08" fill="#c2938f"/><rect y="5" width="1" height="1.08" fill="#c99f9c"/><rect y="6" width="1" height="1.08" fill="#b57d79"/><rect y="7" width="1" height="1.08" fill="#c1928f"/><rect y="8" width="1" height="1.08" fill="#c49693"/><rect y="9" width="1" height="1.08" fill="#c39491"/><rect y="10" width="1" height="1.08" fill="#bc8985"/><rect y="11" width="1" height="1.08" fill="#c49793"/><rect y="12" width="1" height="1.08" fill="#c49692"/><rect y="13" width="1" height="1.08" fill="#c39591"/><rect y="14" width="1" height="1.08" fill="#c89e9a"/><rect y="15" width="1" height="1.08" fill="#c29390"/><rect y="16" width="1" height="1.08" fill="#c2928f"/><rect y="17" width="1" height="1.08" fill="#bf8e8a"/><rect y="18" width="1" height="1.08" fill="#cca4a1"/><rect y="19" width="1" height="1.08" fill="#c29390"/><rect y="20" width="1" height="1.08" fill="#c59996"/><rect y="21" width="1" height="1.08" fill="#c49793"/><rect y="22" width="1" height="1.08" fill="#c69b98"/><rect y="23" width="1" height="1.08" fill="#b98380"/><rect y="24" width="1" height="1.08" fill="#bf8d8a"/><rect y="25" width="1" height="1.08" fill="#c79c98"/><rect y="26" width="1" height="1.08" fill="#bf8e8b"/><rect y="27" width="1" height="1.08" fill="#c59995"/><rect y="28" width="1" height="1.08" fill="#be8d89"/><rect y="29" width="1" height="1.08" fill="#c79c99"/><rect y="30" width="1" height="1.08" fill="#c0908c"/><rect y="31" width="1" height="1.08" fill="#ba8682"/><rect y="32" width="1" height="1.08" fill="#c2938f"/><rect y="33" width="1" height="1.08" fill="#c39592"/><rect y="34" width="1" height="1.08" fill="#c49794"/><rect y="35" width="1" height="1.08" fill="#c2938f"/><rect y="36" width="1" height="1.08" fill="#c69a96"/><rect y="37" width="1" height="1.08" fill="#d7b6b4"/><rect y="38" width="1" height="1.08" fill="#c89d9a"/><rect y="39" width="1" height="1.08" fill="#cba29f"/><rect y="40" width="1" height="1.08" fill="#c89d9a"/><rect y="41" width="1" height="1.08" fill="#caa19d"/><rect y="42" width="1" height="1.08" fill="#c29490"/><rect y="43" width="1" height="1.08" fill="#c39491"/><rect y="44" width="1" height="1.08" fill="#cba29f"/><rect y="45" width="1" height="1.08" fill="#c49794"/><rect y="46" width="1" height="1.08" fill="#c29390"/><rect y="47" width="1" height="1.08" fill="#c89e9b"/>
</g>
<g class="hm" transform="translate(96.63,720.80) scale(22.478,1.0083)">
<rect y="0" width="1" height="1.08" fill="#e4dcf7"/><rect y="1" width="1" height="1.08" fill="#dcd2f5"/><rect y="2" width="1" height="1.08" fill="#e6dff8"/><rect y="3" width="1" height="1.08" fill="#e0d6f6"/><rect y="4" width="1" height="1.08" fill="#e0d7f6"/><rect y="5" width="1" height="1.08" fill="#e2d9f7"/><rect y="6" width="1" height="1.08" fill="#ece6fa"/><rect y="7" width="1" height="1.08" fill="#e7e0f8"/><rect y="8" width="1" height="1.08" fill="#dcd2f5"/><rect y="9" width="1" height="1.08" fill="#e4dcf7"/><rect y="10" width="1" height="1.08" fill="#e6dff8"/><rect y="11" width="1" height="1.08" fill="#ded4f6"/><rect y="12" width="1" height="1.08" fill="#d0c2f1"/><rect y="13" width="1" height="1.08" fill="#e3daf7"/><rect y="14" width="1" height="1.08" fill="#d4c8f3"/><rect y="15" width="1" height="1.08" fill="#e7e0f8"/><rect y="16" width="1" height="1.08" fill="#e8e0f8"/><rect y="17" width="1" height="1.08" fill="#e0d7f6"/><rect y="18" width="1" height="1.08" fill="#e4dcf7"/><rect y="19" width="1" height="1.08" fill="#e7dff8"/><rect y="20" width="1" height="1.08" fill="#dacff4"/><rect y="21" width="1" height="1.08" fill="#e0d6f6"/><rect y="22" width="1" height="1.08" fill="#eae4f9"/><rect y="23" width="1" height="1.08" fill="#e1d7f6"/><rect y="24" width="1" height="1.08" fill="#e8e1f9"/><rect y="25" width="1" height="1.08" fill="#d9cef4"/><rect y="26" width="1" height="1.08" fill="#ebe4f9"/><rect y="27" width="1" height="1.08" fill="#d8ccf4"/><rect y="28" width="1" height="1.08" fill="#d8ccf4"/><rect y="29" width="1" height="1.08" fill="#dcd1f5"/><rect y="30" width="1" height="1.08" fill="#d4c7f3"/><rect y="31" width="1" height="1.08" fill="#e2d9f7"/><rect y="32" width="1" height="1.08" fill="#eae4f9"/><rect y="33" width="1" height="1.08" fill="#e8e0f8"/><rect y="34" width="1" height="1.08" fill="#e9e2f9"/><rect y="35" width="1" height="1.08" fill="#ece6fa"/><rect y="36" width="1" height="1.08" fill="#d9cef4"/><rect y="37" width="1" height="1.08" fill="#e2d9f7"/><rect y="38" width="1" height="1.08" fill="#efeafa"/><rect y="39" width="1" height="1.08" fill="#ece6fa"/><rect y="40" width="1" height="1.08" fill="#dbd0f5"/><rect y="41" width="1" height="1.08" fill="#dacff4"/><rect y="42" width="1" height="1.08" fill="#dfd5f6"/><rect y="43" width="1" height="1.08" fill="#e2daf7"/><rect y="44" width="1" height="1.08" fill="#d8cdf4"/><rect y="45" width="1" height="1.08" fill="#e4dcf7"/><rect y="46" width="1" height="1.08" fill="#d7cbf3"/><rect y="47" width="1" height="1.08" fill="#d0c2f1"/>
</g>
<g class="hm" transform="translate(118.81,720.80) scale(22.478,1.0083)">
<rect y="0" width="1" height="1.08" fill="#e1d8f7"/><rect y="1" width="1" height="1.08" fill="#e4dbf7"/><rect y="2" width="1" height="1.08" fill="#e1d8f7"/><rect y="3" width="1" height="1.08" fill="#ebe4f9"/><rect y="4" width="1" height="1.08" fill="#e0d6f6"/><rect y="5" width="1" height="1.08" fill="#dcd1f5"/><rect y="6" width="1" height="1.08" fill="#eee8fa"/><rect y="7" width="1" height="1.08" fill="#ece6fa"/><rect y="8" width="1" height="1.08" fill="#ded5f6"/><rect y="9" width="1" height="1.08" fill="#ebe5f9"/><rect y="10" width="1" height="1.08" fill="#e7e0f8"/><rect y="11" width="1" height="1.08" fill="#e7dff8"/><rect y="12" width="1" height="1.08" fill="#e5ddf8"/><rect y="13" width="1" height="1.08" fill="#e1d8f7"/><rect y="14" width="1" height="1.08" fill="#dfd5f6"/><rect y="15" width="1" height="1.08" fill="#e2daf7"/><rect y="16" width="1" height="1.08" fill="#e9e2f9"/><rect y="17" width="1" height="1.08" fill="#e1d7f6"/><rect y="18" width="1" height="1.08" fill="#e6def8"/><rect y="19" width="1" height="1.08" fill="#e8e1f9"/><rect y="20" width="1" height="1.08" fill="#d9cef4"/><rect y="21" width="1" height="1.08" fill="#ddd3f5"/><rect y="22" width="1" height="1.08" fill="#eee9fa"/><rect y="23" width="1" height="1.08" fill="#e9e3f9"/><rect y="24" width="1" height="1.08" fill="#eae3f9"/><rect y="25" width="1" height="1.08" fill="#e1d8f7"/><rect y="26" width="1" height="1.08" fill="#e5ddf8"/><rect y="27" width="1" height="1.08" fill="#ddd3f5"/><rect y="28" width="1" height="1.08" fill="#d6caf3"/><rect y="29" width="1" height="1.08" fill="#e5ddf8"/><rect y="30" width="1" height="1.08" fill="#d8ccf4"/><rect y="31" width="1" height="1.08" fill="#e6dff8"/><rect y="32" width="1" height="1.08" fill="#dbd1f5"/><rect y="33" width="1" height="1.08" fill="#e8e1f8"/><rect y="34" width="1" height="1.08" fill="#ebe5f9"/><rect y="35" width="1" height="1.08" fill="#ded4f6"/><rect y="36" width="1" height="1.08" fill="#e8e0f8"/><rect y="37" width="1" height="1.08" fill="#e5ddf8"/><rect y="38" width="1" height="1.08" fill="#e7e0f8"/><rect y="39" width="1" height="1.08" fill="#ddd2f5"/><rect y="40" width="1" height="1.08" fill="#eae3f9"/><rect y="41" width="1" height="1.08" fill="#e5ddf8"/><rect y="42" width="1" height="1.08" fill="#e2d9f7"/><rect y="43" width="1" height="1.08" fill="#e5def8"/><rect y="44" width="1" height="1.08" fill="#dcd2f5"/><rect y="45" width="1" height="1.08" fill="#e9e2f9"/><rect y="46" width="1" height="1.08" fill="#d9cdf4"/><rect y="47" width="1" height="1.08" fill="#e2d9f7"/>
</g>
<g class="hm" transform="translate(140.99,720.80) scale(22.478,1.0083)">
<rect y="0" width="1" height="1.08" fill="#d8cdf4"/><rect y="1" width="1" height="1.08" fill="#e6def8"/><rect y="2" width="1" height="1.08" fill="#e5ddf8"/><rect y="3" width="1" height="1.08" fill="#e7dff8"/><rect y="4" width="1" height="1.08" fill="#e3daf7"/><rect y="5" width="1" height="1.08" fill="#dfd5f6"/><rect y="6" width="1" height="1.08" fill="#e2daf7"/><rect y="7" width="1" height="1.08" fill="#e6def8"/><rect y="8" width="1" height="1.08" fill="#e0d7f6"/><rect y="9" width="1" height="1.08" fill="#f0ebfb"/><rect y="10" width="1" height="1.08" fill="#efeafa"/><rect y="11" width="1" height="1.08" fill="#d8ccf4"/><rect y="12" width="1" height="1.08" fill="#dbd0f5"/><rect y="13" width="1" height="1.08" fill="#e5ddf8"/><rect y="14" width="1" height="1.08" fill="#e2daf7"/><rect y="15" width="1" height="1.08" fill="#e3dbf7"/><rect y="16" width="1" height="1.08" fill="#e4dbf7"/><rect y="17" width="1" height="1.08" fill="#eae3f9"/><rect y="18" width="1" height="1.08" fill="#e7e0f8"/><rect y="19" width="1" height="1.08" fill="#e0d7f6"/><rect y="20" width="1" height="1.08" fill="#d7cbf4"/><rect y="21" width="1" height="1.08" fill="#ddd2f5"/><rect y="22" width="1" height="1.08" fill="#e8e1f9"/><rect y="23" width="1" height="1.08" fill="#ded4f6"/><rect y="24" width="1" height="1.08" fill="#e9e2f9"/><rect y="25" width="1" height="1.08" fill="#dacff4"/><rect y="26" width="1" height="1.08" fill="#e7dff8"/><rect y="27" width="1" height="1.08" fill="#e0d6f6"/><rect y="28" width="1" height="1.08" fill="#ded4f6"/><rect y="29" width="1" height="1.08" fill="#ded4f6"/><rect y="30" width="1" height="1.08" fill="#ded3f5"/><rect y="31" width="1" height="1.08" fill="#e5ddf8"/><rect y="32" width="1" height="1.08" fill="#e2d9f7"/><rect y="33" width="1" height="1.08" fill="#e7e0f8"/><rect y="34" width="1" height="1.08" fill="#ded4f6"/><rect y="35" width="1" height="1.08" fill="#ede7fa"/><rect y="36" width="1" height="1.08" fill="#e3daf7"/><rect y="37" width="1" height="1.08" fill="#ded4f6"/><rect y="38" width="1" height="1.08" fill="#ece5fa"/><rect y="39" width="1" height="1.08" fill="#eae3f9"/><rect y="40" width="1" height="1.08" fill="#dacff4"/><rect y="41" width="1" height="1.08" fill="#e3daf7"/><rect y="42" width="1" height="1.08" fill="#e7e0f8"/><rect y="43" width="1" height="1.08" fill="#dfd5f6"/><rect y="44" width="1" height="1.08" fill="#dfd5f6"/><rect y="45" width="1" height="1.08" fill="#ded4f6"/><rect y="46" width="1" height="1.08" fill="#ddd2f5"/><rect y="47" width="1" height="1.08" fill="#d2c4f2"/>
</g>
<g class="hm" transform="translate(163.17,720.80) scale(22.478,1.0083)">
<rect y="0" width="1" height="1.08" fill="#e5ddf8"/><rect y="1" width="1" height="1.08" fill="#e5ddf8"/><rect y="2" width="1" height="1.08" fill="#dfd5f6"/><rect y="3" width="1" height="1.08" fill="#ede8fa"/><rect y="4" width="1" height="1.08" fill="#e1d8f7"/><rect y="5" width="1" height="1.08" fill="#e7dff8"/><rect y="6" width="1" height="1.08" fill="#e2d9f7"/><rect y="7" width="1" height="1.08" fill="#e7dff8"/><rect y="8" width="1" height="1.08" fill="#e1d8f7"/><rect y="9" width="1" height="1.08" fill="#e4dcf7"/><rect y="10" width="1" height="1.08" fill="#e7e0f8"/><rect y="11" width="1" height="1.08" fill="#e1d8f6"/><rect y="12" width="1" height="1.08" fill="#dfd5f6"/><rect y="13" width="1" height="1.08" fill="#e6dff8"/><rect y="14" width="1" height="1.08" fill="#e5ddf8"/><rect y="15" width="1" height="1.08" fill="#ded4f6"/><rect y="16" width="1" height="1.08" fill="#e4dcf7"/><rect y="17" width="1" height="1.08" fill="#e6def8"/><rect y="18" width="1" height="1.08" fill="#eae3f9"/><rect y="19" width="1" height="1.08" fill="#e1d8f7"/><rect y="20" width="1" height="1.08" fill="#e6dff8"/><rect y="21" width="1" height="1.08" fill="#e0d6f6"/><rect y="22" width="1" height="1.08" fill="#e2d9f7"/><rect y="23" width="1" height="1.08" fill="#d4c7f3"/><rect y="24" width="1" height="1.08" fill="#dfd5f6"/><rect y="25" width="1" height="1.08" fill="#ddd2f5"/><rect y="26" width="1" height="1.08" fill="#ede7fa"/><rect y="27" width="1" height="1.08" fill="#d5c8f3"/><rect y="28" width="1" height="1.08" fill="#f0ebfb"/><rect y="29" width="1" height="1.08" fill="#dbd0f5"/><rect y="30" width="1" height="1.08" fill="#ffffff"/><rect y="31" width="1" height="1.08" fill="#eae3f9"/><rect y="32" width="1" height="1.08" fill="#ccbef1"/><rect y="33" width="1" height="1.08" fill="#d9cef4"/><rect y="34" width="1" height="1.08" fill="#efeafb"/><rect y="35" width="1" height="1.08" fill="#d8ccf4"/><rect y="36" width="1" height="1.08" fill="#e2d9f7"/><rect y="37" width="1" height="1.08" fill="#ded4f6"/><rect y="38" width="1" height="1.08" fill="#e3dbf7"/><rect y="39" width="1" height="1.08" fill="#dacef4"/><rect y="40" width="1" height="1.08" fill="#d6caf3"/><rect y="41" width="1" height="1.08" fill="#e7dff8"/><rect y="42" width="1" height="1.08" fill="#d8ccf4"/><rect y="43" width="1" height="1.08" fill="#e0d7f6"/><rect y="44" width="1" height="1.08" fill="#e7dff8"/><rect y="45" width="1" height="1.08" fill="#fcfaf9"/><rect y="46" width="1" height="1.08" fill="#e0d6f6"/><rect y="47" width="1" height="1.08" fill="#ded4f6"/>
</g>
<g class="hm" transform="translate(185.34,720.80) scale(22.478,1.0083)">
<rect y="0" width="1" height="1.08" fill="#eee9fa"/><rect y="1" width="1" height="1.08" fill="#e0d7f6"/><rect y="2" width="1" height="1.08" fill="#ddd3f5"/><rect y="3" width="1" height="1.08" fill="#e4dbf7"/><rect y="4" width="1" height="1.08" fill="#e9e2f9"/><rect y="5" width="1" height="1.08" fill="#dcd2f5"/><rect y="6" width="1" height="1.08" fill="#dfd5f6"/><rect y="7" width="1" height="1.08" fill="#e7dff8"/><rect y="8" width="1" height="1.08" fill="#d4c8f3"/><rect y="9" width="1" height="1.08" fill="#dfd6f6"/><rect y="10" width="1" height="1.08" fill="#d8cdf4"/><rect y="11" width="1" height="1.08" fill="#d5c9f3"/><rect y="12" width="1" height="1.08" fill="#d8ccf4"/><rect y="13" width="1" height="1.08" fill="#eae3f9"/><rect y="14" width="1" height="1.08" fill="#dbd0f5"/><rect y="15" width="1" height="1.08" fill="#ddd3f5"/><rect y="16" width="1" height="1.08" fill="#ddd2f5"/><rect y="17" width="1" height="1.08" fill="#dcd2f5"/><rect y="18" width="1" height="1.08" fill="#e7dff8"/><rect y="19" width="1" height="1.08" fill="#ddd2f5"/><rect y="20" width="1" height="1.08" fill="#e2d9f7"/><rect y="21" width="1" height="1.08" fill="#d8ccf4"/><rect y="22" width="1" height="1.08" fill="#d8cdf4"/><rect y="23" width="1" height="1.08" fill="#9b84e2"/><rect y="24" width="1" height="1.08" fill="#dcd2f5"/><rect y="25" width="1" height="1.08" fill="#dacef4"/><rect y="26" width="1" height="1.08" fill="#e9e3f9"/><rect y="27" width="1" height="1.08" fill="#dfd6f6"/><rect y="28" width="1" height="1.08" fill="#dcd1f5"/><rect y="29" width="1" height="1.08" fill="#d7ccf4"/><rect y="30" width="1" height="1.08" fill="#e2d9f7"/><rect y="31" width="1" height="1.08" fill="#eae3f9"/><rect y="32" width="1" height="1.08" fill="#d3c7f3"/><rect y="33" width="1" height="1.08" fill="#dbd0f5"/><rect y="34" width="1" height="1.08" fill="#e4dbf7"/><rect y="35" width="1" height="1.08" fill="#dfd5f6"/><rect y="36" width="1" height="1.08" fill="#dfd5f6"/><rect y="37" width="1" height="1.08" fill="#dcd1f5"/><rect y="38" width="1" height="1.08" fill="#ded3f5"/><rect y="39" width="1" height="1.08" fill="#d9cdf4"/><rect y="40" width="1" height="1.08" fill="#ddd2f5"/><rect y="41" width="1" height="1.08" fill="#e1d8f7"/><rect y="42" width="1" height="1.08" fill="#d8ccf4"/><rect y="43" width="1" height="1.08" fill="#e4dbf7"/><rect y="44" width="1" height="1.08" fill="#ded4f6"/><rect y="45" width="1" height="1.08" fill="#e0d7f6"/><rect y="46" width="1" height="1.08" fill="#ddd3f5"/><rect y="47" width="1" height="1.08" fill="#e0d6f6"/>
</g>
<g class="hm" transform="translate(207.52,720.80) scale(22.478,1.0083)">
<rect y="0" width="1" height="1.08" fill="#ece6fa"/><rect y="1" width="1" height="1.08" fill="#e1d8f7"/><rect y="2" width="1" height="1.08" fill="#e6dff8"/><rect y="3" width="1" height="1.08" fill="#e7e0f8"/><rect y="4" width="1" height="1.08" fill="#f2edfb"/><rect y="5" width="1" height="1.08" fill="#e6dff8"/><rect y="6" width="1" height="1.08" fill="#e0d6f6"/><rect y="7" width="1" height="1.08" fill="#e7dff8"/><rect y="8" width="1" height="1.08" fill="#dfd6f6"/><rect y="9" width="1" height="1.08" fill="#ded4f6"/><rect y="10" width="1" height="1.08" fill="#cabaf0"/><rect y="11" width="1" height="1.08" fill="#e0d7f6"/><rect y="12" width="1" height="1.08" fill="#dfd6f6"/><rect y="13" width="1" height="1.08" fill="#e7e0f8"/><rect y="14" width="1" height="1.08" fill="#e4dcf7"/><rect y="15" width="1" height="1.08" fill="#d8cdf4"/><rect y="16" width="1" height="1.08" fill="#d9cef4"/><rect y="17" width="1" height="1.08" fill="#d7cbf4"/><rect y="18" width="1" height="1.08" fill="#e8e1f9"/><rect y="19" width="1" height="1.08" fill="#e4dcf7"/><rect y="20" width="1" height="1.08" fill="#e9e2f9"/><rect y="21" width="1" height="1.08" fill="#e4dcf7"/><rect y="22" width="1" height="1.08" fill="#eae3f9"/><rect y="23" width="1" height="1.08" fill="#dacff5"/><rect y="24" width="1" height="1.08" fill="#dfd6f6"/><rect y="25" width="1" height="1.08" fill="#d6caf3"/><rect y="26" width="1" height="1.08" fill="#e5ddf8"/><rect y="27" width="1" height="1.08" fill="#d8cdf4"/><rect y="28" width="1" height="1.08" fill="#e5ddf8"/><rect y="29" width="1" height="1.08" fill="#e4dbf7"/><rect y="30" width="1" height="1.08" fill="#e1d7f6"/><rect y="31" width="1" height="1.08" fill="#e7dff8"/><rect y="32" width="1" height="1.08" fill="#dcd1f5"/><rect y="33" width="1" height="1.08" fill="#d7cbf4"/><rect y="34" width="1" height="1.08" fill="#dfd6f6"/><rect y="35" width="1" height="1.08" fill="#e0d7f6"/><rect y="36" width="1" height="1.08" fill="#d7cbf4"/><rect y="37" width="1" height="1.08" fill="#e1d8f6"/><rect y="38" width="1" height="1.08" fill="#e5ddf8"/><rect y="39" width="1" height="1.08" fill="#d8ccf4"/><rect y="40" width="1" height="1.08" fill="#dfd5f6"/><rect y="41" width="1" height="1.08" fill="#e8e1f9"/><rect y="42" width="1" height="1.08" fill="#d7cbf4"/><rect y="43" width="1" height="1.08" fill="#e8e1f9"/><rect y="44" width="1" height="1.08" fill="#dbd0f5"/><rect y="45" width="1" height="1.08" fill="#e0d6f6"/><rect y="46" width="1" height="1.08" fill="#e0d7f6"/><rect y="47" width="1" height="1.08" fill="#d7ccf4"/>
</g>
<line x1="27.5" y1="720.3" x2="27.5" y2="770.2" stroke="#222" stroke-width="1.6"/>
<line x1="26.7" y1="769.8" x2="231.7" y2="769.8" stroke="#555" stroke-width="1"/>
<line x1="41.2" y1="770.2" x2="41.2" y2="772.2" stroke="#888" stroke-width="0.6"/>
<line x1="63.4" y1="770.2" x2="63.4" y2="772.2" stroke="#888" stroke-width="0.6"/>
<line x1="85.5" y1="770.2" x2="85.5" y2="772.2" stroke="#888" stroke-width="0.6"/>
<line x1="107.7" y1="770.2" x2="107.7" y2="772.2" stroke="#888" stroke-width="0.6"/>
<line x1="129.9" y1="770.2" x2="129.9" y2="772.2" stroke="#888" stroke-width="0.6"/>
<line x1="152.1" y1="770.2" x2="152.1" y2="772.2" stroke="#888" stroke-width="0.6"/>
<line x1="174.3" y1="770.2" x2="174.3" y2="772.2" stroke="#888" stroke-width="0.6"/>
<line x1="196.4" y1="770.2" x2="196.4" y2="772.2" stroke="#888" stroke-width="0.6"/>
<line x1="218.6" y1="770.2" x2="218.6" y2="772.2" stroke="#888" stroke-width="0.6"/>
</g>
<text transform="translate(17.4,428.8) rotate(-90)" font-size="16" text-anchor="middle">H&lt;N&lt;O</text>
<text transform="translate(15.5,541.3) rotate(-90)" font-size="15.6" text-anchor="middle">O&lt;N&lt;H</text>
<text transform="translate(13.5,652.4) rotate(-90)" font-size="15.6" text-anchor="middle">N&lt;H&lt;O</text>
<text transform="translate(13.5,745.5) rotate(-90)" font-size="15.6" text-anchor="middle">O&lt;H&lt;N</text>
<text x="60.0" y="794.5" font-size="15" font-weight="bold" text-anchor="middle">N</text>
<text x="130.6" y="794.3" font-size="15" font-weight="bold" text-anchor="middle">H</text>
<text x="197.4" y="792.4" font-size="15" font-weight="bold" text-anchor="middle">O</text>
<defs><linearGradient id="zg" x1="0" x2="1" y1="0" y2="0"><stop offset="0.000" stop-color="#2a21c7"/><stop offset="0.042" stop-color="#4835cd"/><stop offset="0.083" stop-color="#5f47d2"/><stop offset="0.125" stop-color="#7259d7"/><stop offset="0.167" stop-color="#846bdc"/><stop offset="0.208" stop-color="#957de0"/><stop offset="0.250" stop-color="#a58fe5"/><stop offset="0.292" stop-color="#b5a2ea"/><stop offset="0.333" stop-color="#c4b4ee"/><stop offset="0.375" stop-color="#d3c7f3"/><stop offset="0.417" stop-color="#e2d9f7"/><stop offset="0.458" stop-color="#f1ecfb"/><stop offset="0.500" stop-color="#ffffff"/><stop offset="0.542" stop-color="#f4ebea"/><stop offset="0.583" stop-color="#e9d7d5"/><stop offset="0.625" stop-color="#dec3c1"/><stop offset="0.667" stop-color="#d3afad"/><stop offset="0.708" stop-color="#c79c99"/><stop offset="0.750" stop-color="#bd8a86"/><stop offset="0.792" stop-color="#b27874"/><stop offset="0.833" stop-color="#a76662"/><stop offset="0.875" stop-color="#9c5450"/><stop offset="0.917" stop-color="#90413e"/><stop offset="0.958" stop-color="#842f2c"/><stop offset="1.000" stop-color="#791b1b"/></linearGradient></defs>
<rect x="45.80" y="836.10" width="115.60" height="23.00" fill="url(#zg)"/>
<line x1="65.1" y1="836.1" x2="65.1" y2="839.0" stroke="#fff" stroke-width="0.8"/>
<line x1="65.1" y1="856.2" x2="65.1" y2="859.1" stroke="#fff" stroke-width="0.8"/>
<line x1="84.3" y1="836.1" x2="84.3" y2="839.0" stroke="#fff" stroke-width="0.8"/>
<line x1="84.3" y1="856.2" x2="84.3" y2="859.1" stroke="#fff" stroke-width="0.8"/>
<line x1="103.6" y1="836.1" x2="103.6" y2="839.0" stroke="#fff" stroke-width="0.8"/>
<line x1="103.6" y1="856.2" x2="103.6" y2="859.1" stroke="#fff" stroke-width="0.8"/>
<line x1="122.9" y1="836.1" x2="122.9" y2="839.0" stroke="#fff" stroke-width="0.8"/>
<line x1="122.9" y1="856.2" x2="122.9" y2="859.1" stroke="#fff" stroke-width="0.8"/>
<line x1="142.1" y1="836.1" x2="142.1" y2="839.0" stroke="#fff" stroke-width="0.8"/>
<line x1="142.1" y1="856.2" x2="142.1" y2="859.1" stroke="#fff" stroke-width="0.8"/>
<text x="108.3" y="829.6" font-size="19.6" text-anchor="middle">Z-score</text>
<text x="43.2" y="874.8" font-size="14.4" text-anchor="middle">-3</text>
<text x="61.7" y="874.8" font-size="14.4" text-anchor="middle">-2</text>
<text x="79.8" y="874.8" font-size="14.4" text-anchor="middle">-1</text>
<text x="100.6" y="874.8" font-size="14.4" text-anchor="middle">0</text>
<text x="118.7" y="874.8" font-size="14.4" text-anchor="middle">1</text>
<text x="141.5" y="874.8" font-size="14.4" text-anchor="middle">2</text>
<text x="159.8" y="874.8" font-size="14.4" text-anchor="middle">3</text>
<text x="456.9" y="396.9" font-size="14.4" font-weight="bold" text-anchor="end">H&lt;N&lt;O</text>
<text x="457.3" y="411.5" font-size="14.7" text-anchor="end" fill="#111">Protein folding in ER</text>
<text x="457.3" y="426.2" font-size="14.7" text-anchor="end" fill="#111">ER overload response</text>
<text x="457.3" y="441.1" font-size="14.7" text-anchor="end" fill="#111">Proline transport</text>
<text x="457.3" y="455.2" font-size="14.7" text-anchor="end" fill="#111">Programmed necrosis</text>
<text x="457.3" y="469.7" font-size="14.7" text-anchor="end" fill="#111">Neg reg of TGFb signaling</text>
<rect x="469.2" y="406.1" width="115.5" height="8.2" fill="#1f2c84" stroke="#222" stroke-width="0.9"/>
<line x1="461.7" y1="410.2" x2="463.9" y2="410.2" stroke="#444" stroke-width="0.8"/>
<rect x="469.2" y="419.3" width="75.4" height="8.2" fill="#56adc3" stroke="#222" stroke-width="0.9"/>
<line x1="461.7" y1="423.4" x2="463.9" y2="423.4" stroke="#444" stroke-width="0.8"/>
<rect x="469.2" y="432.6" width="64.2" height="8.3" fill="#6bc8bf" stroke="#222" stroke-width="0.9"/>
<line x1="461.7" y1="436.8" x2="463.9" y2="436.8" stroke="#444" stroke-width="0.8"/>
<rect x="469.2" y="446.0" width="27.7" height="8.6" fill="#eaf8c0" stroke="#222" stroke-width="0.9"/>
<line x1="461.7" y1="450.3" x2="463.9" y2="450.3" stroke="#444" stroke-width="0.8"/>
<rect x="469.2" y="459.0" width="21.4" height="8.6" fill="#f6fbca" stroke="#222" stroke-width="0.9"/>
<line x1="461.7" y1="463.3" x2="463.9" y2="463.3" stroke="#444" stroke-width="0.8"/>
<line x1="463.9" y1="404.9" x2="463.9" y2="470.2" stroke="#444" stroke-width="1"/>
<line x1="463.4" y1="469.7" x2="589.5" y2="469.7" stroke="#444" stroke-width="1"/>
<line x1="469.4" y1="469.7" x2="469.4" y2="471.9" stroke="#444" stroke-width="0.8"/>
<text x="464.3" y="479.5" font-size="8.0" text-anchor="middle" fill="#333">0.0</text>
<line x1="497.2" y1="469.7" x2="497.2" y2="471.9" stroke="#444" stroke-width="0.8"/>
<text x="491.7" y="479.5" font-size="8.0" text-anchor="middle" fill="#333">0.1</text>
<line x1="525.0" y1="469.7" x2="525.0" y2="471.9" stroke="#444" stroke-width="0.8"/>
<text x="519.2" y="479.5" font-size="8.0" text-anchor="middle" fill="#333">0.2</text>
<line x1="552.8" y1="469.7" x2="552.8" y2="471.9" stroke="#444" stroke-width="0.8"/>
<text x="546.3" y="479.5" font-size="8.0" text-anchor="middle" fill="#333">0.3</text>
<line x1="580.6" y1="469.7" x2="580.6" y2="471.9" stroke="#444" stroke-width="0.8"/>
<text x="573.7" y="479.5" font-size="8.0" text-anchor="middle" fill="#333">0.4</text>
<text x="527.5" y="490.2" font-size="9.6" text-anchor="middle" fill="#222">Enrichment (overlap/size)</text>
<defs><linearGradient id="cb408" x1="0" x2="0" y1="0" y2="1"><stop offset="0" stop-color="#1e2b80"/><stop offset="0.25" stop-color="#2f5da5"/><stop offset="0.5" stop-color="#48a3c3"/><stop offset="0.72" stop-color="#74cbbd"/><stop offset="1" stop-color="#e6f7bd"/></linearGradient></defs>
<rect x="603.30" y="408.90" width="14.10" height="61.80" fill="url(#cb408)"/>
<line x1="603.3" y1="412.3" x2="605.8" y2="412.3" stroke="#fff" stroke-width="0.7" opacity="0.8"/>
<line x1="614.9" y1="412.3" x2="617.4" y2="412.3" stroke="#fff" stroke-width="0.7" opacity="0.8"/>
<text x="621.5" y="415.2" font-size="8.0" fill="#2a2a2a">0.4</text>
<line x1="603.3" y1="432.2" x2="605.8" y2="432.2" stroke="#fff" stroke-width="0.7" opacity="0.8"/>
<line x1="614.9" y1="432.2" x2="617.4" y2="432.2" stroke="#fff" stroke-width="0.7" opacity="0.8"/>
<text x="621.5" y="435.1" font-size="8.0" fill="#2a2a2a">0.3</text>
<line x1="603.3" y1="452.1" x2="605.8" y2="452.1" stroke="#fff" stroke-width="0.7" opacity="0.8"/>
<line x1="614.9" y1="452.1" x2="617.4" y2="452.1" stroke="#fff" stroke-width="0.7" opacity="0.8"/>
<text x="621.5" y="455.0" font-size="8.0" fill="#2a2a2a">0.2</text>
<text x="458.3" y="500.4" font-size="14.4" font-weight="bold" text-anchor="end">O&lt;N&lt;H</text>
<text x="459.3" y="514.6" font-size="14.8" text-anchor="end" fill="#111">Rb monophosphate catabolic</text>
<text x="459.3" y="529.0" font-size="14.8" text-anchor="end" fill="#111">Nucleoside catabolic</text>
<text x="454.3" y="543.6" font-size="14.8" text-anchor="end" fill="#111">VEGF production</text>
<text x="459.3" y="558.3" font-size="14.8" text-anchor="end" fill="#111">Interciliary transport</text>
<text x="459.3" y="572.8" font-size="14.8" text-anchor="end" fill="#111">Smooth muscle cell prolif</text>
<rect x="468.1" y="506.7" width="124.1" height="8.7" fill="#1f2c84" stroke="#222" stroke-width="0.9"/>
<line x1="460.2" y1="511.0" x2="462.4" y2="511.0" stroke="#444" stroke-width="0.8"/>
<rect x="468.1" y="521.6" width="98.1" height="8.6" fill="#3b8abf" stroke="#222" stroke-width="0.9"/>
<line x1="460.2" y1="525.9" x2="462.4" y2="525.9" stroke="#444" stroke-width="0.8"/>
<rect x="468.1" y="536.4" width="77.5" height="9.0" fill="#5dc3bf" stroke="#222" stroke-width="0.9"/>
<line x1="460.2" y1="540.9" x2="462.4" y2="540.9" stroke="#444" stroke-width="0.8"/>
<rect x="468.1" y="551.3" width="57.6" height="9.0" fill="#a7dfbb" stroke="#222" stroke-width="0.9"/>
<line x1="460.2" y1="555.8" x2="462.4" y2="555.8" stroke="#444" stroke-width="0.8"/>
<rect x="468.1" y="566.2" width="33.5" height="9.0" fill="#f1f9c9" stroke="#222" stroke-width="0.9"/>
<line x1="460.2" y1="570.7" x2="462.4" y2="570.7" stroke="#444" stroke-width="0.8"/>
<line x1="462.4" y1="504.9" x2="462.4" y2="579.9" stroke="#444" stroke-width="1"/>
<line x1="461.9" y1="579.4" x2="598.4" y2="579.4" stroke="#444" stroke-width="1"/>
<line x1="468.6" y1="579.4" x2="468.6" y2="581.6" stroke="#444" stroke-width="0.8"/>
<text x="463.0" y="590.3" font-size="9.1" text-anchor="middle" fill="#333">0.0</text>
<line x1="515.2" y1="579.4" x2="515.2" y2="581.6" stroke="#444" stroke-width="0.8"/>
<text x="508.9" y="590.3" font-size="9.1" text-anchor="middle" fill="#333">0.1</text>
<line x1="561.8" y1="579.4" x2="561.8" y2="581.6" stroke="#444" stroke-width="0.8"/>
<text x="555.8" y="590.3" font-size="9.1" text-anchor="middle" fill="#333">0.2</text>
<text x="530.2" y="601.3" font-size="10.56" text-anchor="middle" fill="#222">Enrichment (overlap/size)</text>
<defs><linearGradient id="cb509" x1="0" x2="0" y1="0" y2="1"><stop offset="0" stop-color="#1e2b80"/><stop offset="0.25" stop-color="#2f5da5"/><stop offset="0.5" stop-color="#48a3c3"/><stop offset="0.72" stop-color="#74cbbd"/><stop offset="1" stop-color="#e6f7bd"/></linearGradient></defs>
<rect x="613.00" y="509.70" width="15.30" height="69.70" fill="url(#cb509)"/>
<line x1="613.0" y1="516.4" x2="615.5" y2="516.4" stroke="#fff" stroke-width="0.7" opacity="0.8"/>
<line x1="625.8" y1="516.4" x2="628.3" y2="516.4" stroke="#fff" stroke-width="0.7" opacity="0.8"/>
<text x="633.2" y="519.6" font-size="9.0" fill="#2a2a2a">0.25</text>
<line x1="613.0" y1="536.0" x2="615.5" y2="536.0" stroke="#fff" stroke-width="0.7" opacity="0.8"/>
<line x1="625.8" y1="536.0" x2="628.3" y2="536.0" stroke="#fff" stroke-width="0.7" opacity="0.8"/>
<text x="633.2" y="539.2" font-size="9.0" fill="#2a2a2a">0.20</text>
<line x1="613.0" y1="555.5" x2="615.5" y2="555.5" stroke="#fff" stroke-width="0.7" opacity="0.8"/>
<line x1="625.8" y1="555.5" x2="628.3" y2="555.5" stroke="#fff" stroke-width="0.7" opacity="0.8"/>
<text x="633.2" y="558.7" font-size="9.0" fill="#2a2a2a">0.15</text>
<line x1="613.0" y1="575.1" x2="615.5" y2="575.1" stroke="#fff" stroke-width="0.7" opacity="0.8"/>
<line x1="625.8" y1="575.1" x2="628.3" y2="575.1" stroke="#fff" stroke-width="0.7" opacity="0.8"/>
<text x="633.2" y="578.3" font-size="9.0" fill="#2a2a2a">0.10</text>
<text x="459.5" y="611.8" font-size="14.4" font-weight="bold" text-anchor="end">N&lt;H&lt;O</text>
<text x="459.3" y="626.6" font-size="14.7" text-anchor="end" fill="#111">Response to VEGF</text>
<text x="459.3" y="641.4" font-size="14.7" text-anchor="end" fill="#111">VEGF Signaling</text>
<text x="459.3" y="656.2" font-size="14.7" text-anchor="end" fill="#111">VEGF Rcp signaling</text>
<text x="459.3" y="670.7" font-size="14.7" text-anchor="end" fill="#111">Collagen biosynthesis</text>
<text x="459.3" y="685.6" font-size="14.7" text-anchor="end" fill="#111">Resp Topo incorrect Protein</text>
<rect x="468.6" y="617.4" width="121.1" height="9.2" fill="#1f2c84" stroke="#222" stroke-width="0.9"/>
<line x1="460.7" y1="622.0" x2="462.9" y2="622.0" stroke="#444" stroke-width="0.8"/>
<rect x="468.6" y="632.8" width="109.2" height="9.0" fill="#3a6cb4" stroke="#222" stroke-width="0.9"/>
<line x1="460.7" y1="637.3" x2="462.9" y2="637.3" stroke="#444" stroke-width="0.8"/>
<rect x="468.6" y="648.0" width="109.2" height="9.2" fill="#3a6cb4" stroke="#222" stroke-width="0.9"/>
<line x1="460.7" y1="652.6" x2="462.9" y2="652.6" stroke="#444" stroke-width="0.8"/>
<rect x="468.6" y="663.4" width="109.2" height="9.1" fill="#3a6cb4" stroke="#222" stroke-width="0.9"/>
<line x1="460.7" y1="668.0" x2="462.9" y2="668.0" stroke="#444" stroke-width="0.8"/>
<rect x="468.6" y="678.8" width="50.2" height="9.4" fill="#f4fbc8" stroke="#222" stroke-width="0.9"/>
<line x1="460.7" y1="683.5" x2="462.9" y2="683.5" stroke="#444" stroke-width="0.8"/>
<line x1="462.9" y1="616.2" x2="462.9" y2="693.2" stroke="#444" stroke-width="1"/>
<line x1="462.4" y1="692.7" x2="594.7" y2="692.7" stroke="#444" stroke-width="1"/>
<line x1="468.1" y1="692.7" x2="468.1" y2="694.9" stroke="#444" stroke-width="0.8"/>
<text x="456.0" y="705.6" font-size="9.4" text-anchor="middle" fill="#333">0.00</text>
<line x1="498.3" y1="692.7" x2="498.3" y2="694.9" stroke="#444" stroke-width="0.8"/>
<text x="488.5" y="705.6" font-size="9.4" text-anchor="middle" fill="#333">0.02</text>
<line x1="528.5" y1="692.7" x2="528.5" y2="694.9" stroke="#444" stroke-width="0.8"/>
<text x="519.5" y="705.6" font-size="9.4" text-anchor="middle" fill="#333">0.04</text>
<line x1="558.7" y1="692.7" x2="558.7" y2="694.9" stroke="#444" stroke-width="0.8"/>
<text x="550.5" y="705.6" font-size="9.4" text-anchor="middle" fill="#333">0.06</text>
<line x1="588.9" y1="692.7" x2="588.9" y2="694.9" stroke="#444" stroke-width="0.8"/>
<text x="580.8" y="705.6" font-size="9.4" text-anchor="middle" fill="#333">0.08</text>
<text x="528.5" y="716.7" font-size="11.03" text-anchor="middle" fill="#222">Enrichment (overlap/size)</text>
<defs><linearGradient id="cb620" x1="0" x2="0" y1="0" y2="1"><stop offset="0" stop-color="#1e2b80"/><stop offset="0.25" stop-color="#2f5da5"/><stop offset="0.5" stop-color="#48a3c3"/><stop offset="0.72" stop-color="#74cbbd"/><stop offset="1" stop-color="#e6f7bd"/></linearGradient></defs>
<rect x="611.20" y="620.20" width="15.70" height="72.30" fill="url(#cb620)"/>
<line x1="611.2" y1="636.4" x2="613.7" y2="636.4" stroke="#fff" stroke-width="0.7" opacity="0.8"/>
<line x1="624.4" y1="636.4" x2="626.9" y2="636.4" stroke="#fff" stroke-width="0.7" opacity="0.8"/>
<text x="632.0" y="639.8" font-size="9.4" fill="#2a2a2a">0.07</text>
<line x1="611.2" y1="653.4" x2="613.7" y2="653.4" stroke="#fff" stroke-width="0.7" opacity="0.8"/>
<line x1="624.4" y1="653.4" x2="626.9" y2="653.4" stroke="#fff" stroke-width="0.7" opacity="0.8"/>
<text x="632.0" y="656.8" font-size="9.4" fill="#2a2a2a">0.06</text>
<line x1="611.2" y1="670.4" x2="613.7" y2="670.4" stroke="#fff" stroke-width="0.7" opacity="0.8"/>
<line x1="624.4" y1="670.4" x2="626.9" y2="670.4" stroke="#fff" stroke-width="0.7" opacity="0.8"/>
<text x="632.0" y="673.8" font-size="9.4" fill="#2a2a2a">0.05</text>
<line x1="611.2" y1="687.6" x2="613.7" y2="687.6" stroke="#fff" stroke-width="0.7" opacity="0.8"/>
<line x1="624.4" y1="687.6" x2="626.9" y2="687.6" stroke="#fff" stroke-width="0.7" opacity="0.8"/>
<text x="632.0" y="691.0" font-size="9.4" fill="#2a2a2a">0.04</text>
<text x="453.9" y="725.0" font-size="14.4" font-weight="bold" text-anchor="end">O&lt;H&lt;N</text>
<text x="453.9" y="743.9" font-size="14.6" text-anchor="end" fill="#111">Sterol biosynth</text>
<text x="453.9" y="762.7" font-size="14.6" text-anchor="end" fill="#111">Isoprenoid biosynth</text>
<text x="453.9" y="781.4" font-size="14.6" text-anchor="end" fill="#111">Sterol metab</text>
<text x="453.9" y="800.3" font-size="14.6" text-anchor="end" fill="#111">Alcohol biosynth</text>
<text x="453.9" y="818.7" font-size="14.6" text-anchor="end" fill="#111">Steriod biosynth</text>
<rect x="464.4" y="742.4" width="122.1" height="10.4" fill="#1f2c84" stroke="#222" stroke-width="0.9"/>
<line x1="457.0" y1="747.6" x2="459.2" y2="747.6" stroke="#444" stroke-width="0.8"/>
<rect x="464.4" y="759.8" width="110.2" height="10.4" fill="#3a67af" stroke="#222" stroke-width="0.9"/>
<line x1="457.0" y1="765.0" x2="459.2" y2="765.0" stroke="#444" stroke-width="0.8"/>
<rect x="464.4" y="777.2" width="50.6" height="10.4" fill="#f4fbc8" stroke="#222" stroke-width="0.9"/>
<line x1="457.0" y1="782.4" x2="459.2" y2="782.4" stroke="#444" stroke-width="0.8"/>
<rect x="464.4" y="794.5" width="48.9" height="10.5" fill="#f4fbc8" stroke="#222" stroke-width="0.9"/>
<line x1="457.0" y1="799.8" x2="459.2" y2="799.8" stroke="#444" stroke-width="0.8"/>
<rect x="464.4" y="811.4" width="48.9" height="10.9" fill="#f4fbc8" stroke="#222" stroke-width="0.9"/>
<line x1="457.0" y1="816.8" x2="459.2" y2="816.8" stroke="#444" stroke-width="0.8"/>
<line x1="459.2" y1="740.4" x2="459.2" y2="827.3" stroke="#444" stroke-width="1"/>
<line x1="458.7" y1="826.8" x2="592.7" y2="826.8" stroke="#444" stroke-width="1"/>
<line x1="464.9" y1="826.8" x2="464.9" y2="829.0" stroke="#444" stroke-width="0.8"/>
<text x="455.0" y="839.9" font-size="10" text-anchor="middle" fill="#333">0.00</text>
<line x1="496.7" y1="826.8" x2="496.7" y2="829.0" stroke="#444" stroke-width="0.8"/>
<text x="486.5" y="839.9" font-size="10" text-anchor="middle" fill="#333">0.03</text>
<line x1="528.5" y1="826.8" x2="528.5" y2="829.0" stroke="#444" stroke-width="0.8"/>
<text x="518.3" y="839.9" font-size="10" text-anchor="middle" fill="#333">0.06</text>
<line x1="560.3" y1="826.8" x2="560.3" y2="829.0" stroke="#444" stroke-width="0.8"/>
<text x="550.5" y="839.9" font-size="10" text-anchor="middle" fill="#333">0.09</text>
<line x1="592.1" y1="826.8" x2="592.1" y2="829.0" stroke="#444" stroke-width="0.8"/>
<text x="582.3" y="839.9" font-size="10" text-anchor="middle" fill="#333">0.12</text>
<text x="525.9" y="853.8" font-size="12.45" text-anchor="middle" fill="#222">Enrichment (overlap/size)</text>
<defs><linearGradient id="cb746" x1="0" x2="0" y1="0" y2="1"><stop offset="0" stop-color="#1e2b80"/><stop offset="0.25" stop-color="#2f5da5"/><stop offset="0.5" stop-color="#48a3c3"/><stop offset="0.72" stop-color="#74cbbd"/><stop offset="1" stop-color="#e6f7bd"/></linearGradient></defs>
<rect x="610.00" y="746.10" width="17.80" height="80.70" fill="url(#cb746)"/>
<line x1="610.0" y1="765.4" x2="612.5" y2="765.4" stroke="#fff" stroke-width="0.7" opacity="0.8"/>
<line x1="625.3" y1="765.4" x2="627.8" y2="765.4" stroke="#fff" stroke-width="0.7" opacity="0.8"/>
<text x="633.6" y="769.0" font-size="10.12" fill="#2a2a2a">0.10</text>
<line x1="610.0" y1="790.5" x2="612.5" y2="790.5" stroke="#fff" stroke-width="0.7" opacity="0.8"/>
<line x1="625.3" y1="790.5" x2="627.8" y2="790.5" stroke="#fff" stroke-width="0.7" opacity="0.8"/>
<text x="633.6" y="794.1" font-size="10.12" fill="#2a2a2a">0.08</text>
<line x1="610.0" y1="816.3" x2="612.5" y2="816.3" stroke="#fff" stroke-width="0.7" opacity="0.8"/>
<line x1="625.3" y1="816.3" x2="627.8" y2="816.3" stroke="#fff" stroke-width="0.7" opacity="0.8"/>
<text x="633.6" y="819.9" font-size="10.12" fill="#2a2a2a">0.06</text>
</svg>
</body></html>
